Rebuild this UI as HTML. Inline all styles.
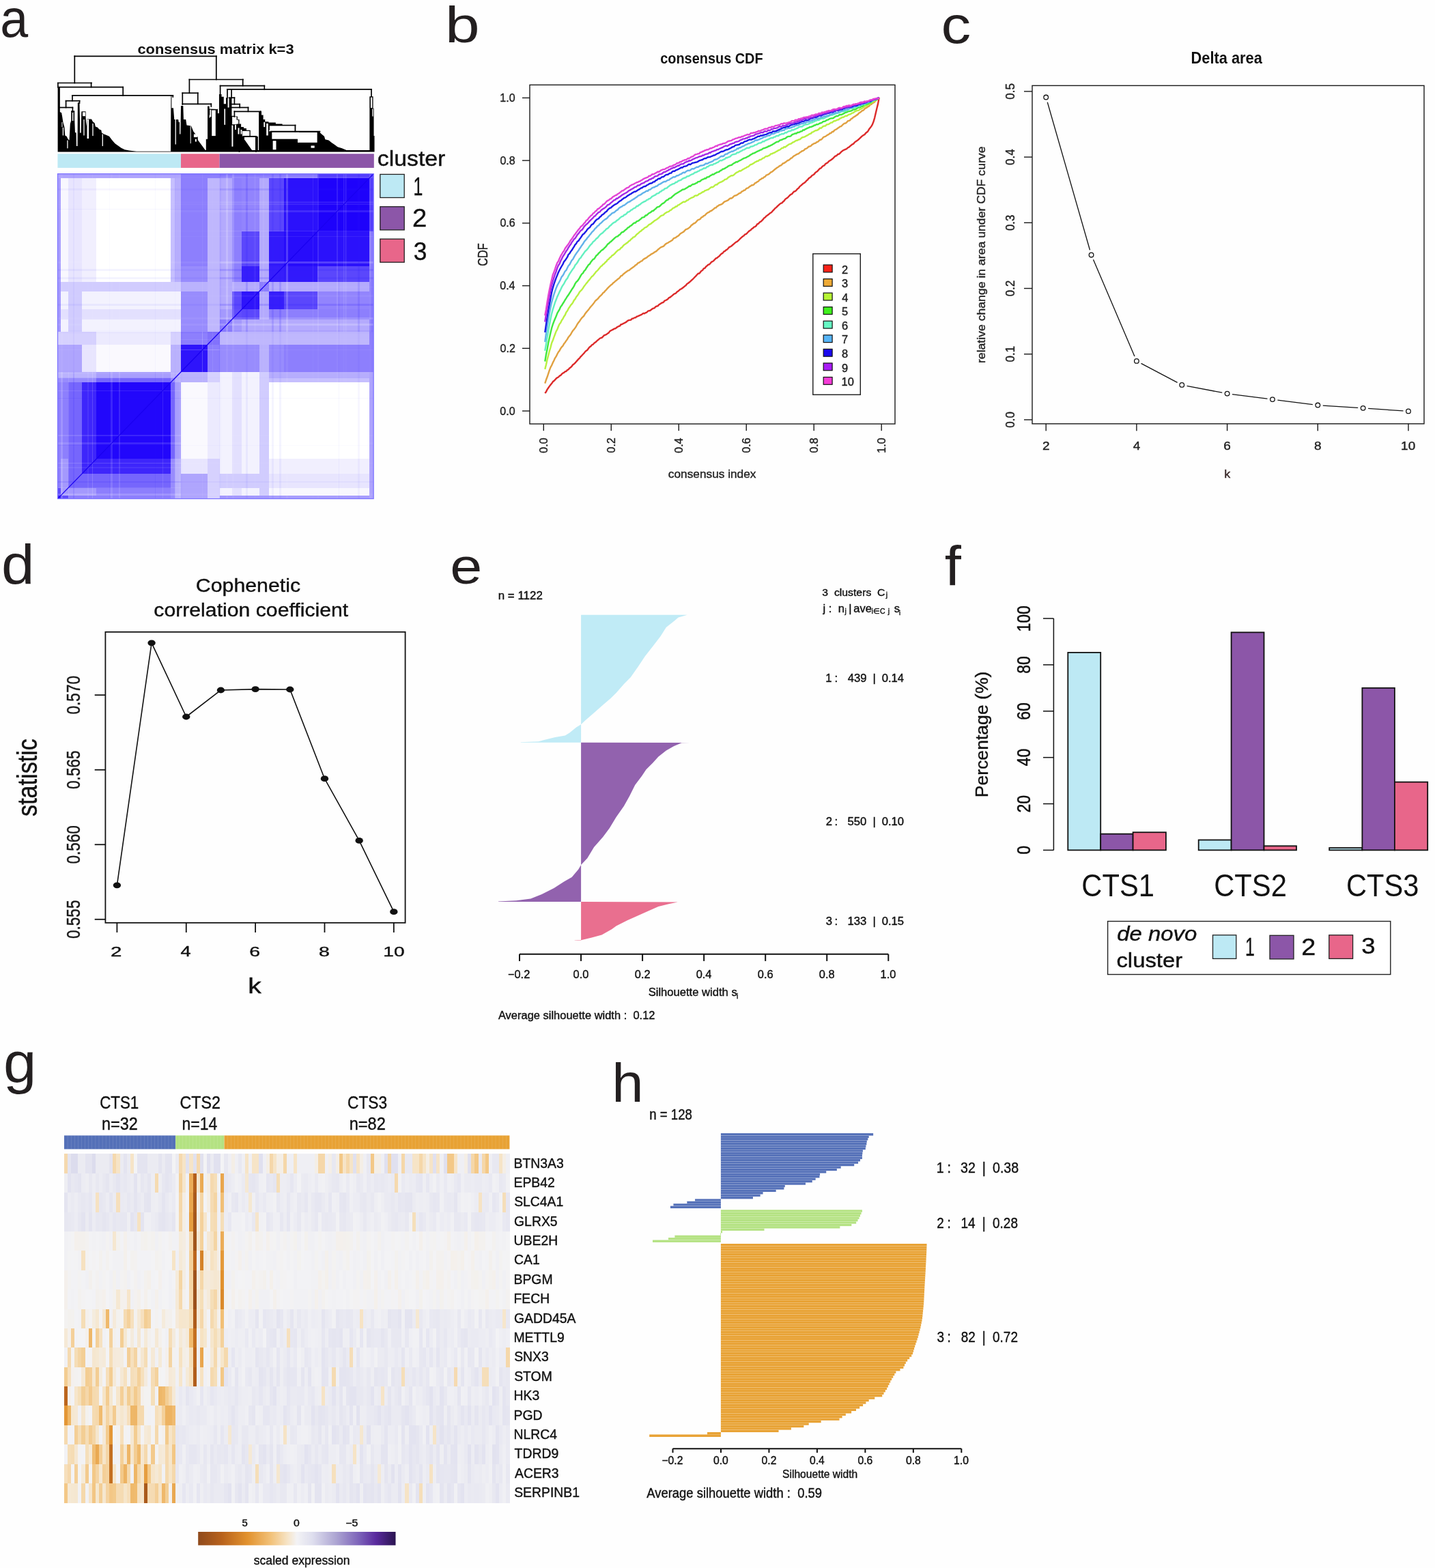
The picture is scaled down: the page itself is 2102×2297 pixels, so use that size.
<!DOCTYPE html>
<html><head><meta charset="utf-8"><title>Consensus clustering figure</title>
<style>
html,body{margin:0;padding:0;background:#fff;}
body{width:2102px;height:2297px;overflow:hidden;position:relative;}
svg{position:absolute;left:0;top:0;display:block;}
text{font-family:'Liberation Sans', Arial, Helvetica, sans-serif;white-space:pre;}
</style></head><body>
<svg xml:space="preserve" width="2102" height="2297" viewBox="0 0 2102 2297">
<rect x="0" y="0" width="2102" height="2297" fill="#fefefe"/>
<text font-size="78.73" fill="#231f20" transform="translate(0.36 54.31) scale(0.9348 1)">a</text>
<text font-size="74.83" fill="#231f20" transform="translate(652.08 61.85) scale(1.2176 1)">b</text>
<text font-size="76.36" fill="#231f20" transform="translate(1378.51 63.24) scale(1.1440 1)">c</text>
<text font-size="81.63" fill="#231f20" transform="translate(1.92 854.88) scale(1.0671 1)">d</text>
<text font-size="74.55" fill="#231f20" transform="translate(659.21 854.85) scale(1.1360 1)">e</text>
<text font-size="80.69" fill="#231f20" transform="translate(1383.70 856.50) scale(1.0756 1)">f</text>
<text font-size="83.22" fill="#231f20" transform="translate(5.12 1586.02) scale(1.0441 1)">g</text>
<text font-size="79.86" fill="#231f20" transform="translate(896.37 1613.70) scale(1.0435 1)">h</text>
<rect x="776" y="124.4" width="535" height="496.6" fill="none" stroke="#1a1a1a" stroke-width="1.4"/>
<line x1="765" y1="602.05" x2="776" y2="602.05" stroke="#1a1a1a" stroke-width="1.4"/>
<text font-size="16.00" fill="#222" stroke="#222" stroke-width="0.40" transform="translate(732.32 607.57) scale(1.0000 1)">0.0</text>
<line x1="796.3" y1="621" x2="796.3" y2="631" stroke="#1a1a1a" stroke-width="1.4"/>
<text font-size="16.00" fill="#222" stroke="#222" stroke-width="0.40" transform="translate(801.82 663.68) rotate(-90) scale(1 1.0000)">0.0</text>
<line x1="765" y1="510.32" x2="776" y2="510.32" stroke="#1a1a1a" stroke-width="1.4"/>
<text font-size="16.00" fill="#222" stroke="#222" stroke-width="0.40" transform="translate(732.56 515.84) scale(1.0000 1)">0.2</text>
<line x1="895.28" y1="621" x2="895.28" y2="631" stroke="#1a1a1a" stroke-width="1.4"/>
<text font-size="16.00" fill="#222" stroke="#222" stroke-width="0.40" transform="translate(900.80 663.44) rotate(-90) scale(1 1.0000)">0.2</text>
<line x1="765" y1="418.59" x2="776" y2="418.59" stroke="#1a1a1a" stroke-width="1.4"/>
<text font-size="16.00" fill="#222" stroke="#222" stroke-width="0.40" transform="translate(732.24 424.11) scale(1.0000 1)">0.4</text>
<line x1="994.26" y1="621" x2="994.26" y2="631" stroke="#1a1a1a" stroke-width="1.4"/>
<text font-size="16.00" fill="#222" stroke="#222" stroke-width="0.40" transform="translate(999.78 663.76) rotate(-90) scale(1 1.0000)">0.4</text>
<line x1="765" y1="326.86" x2="776" y2="326.86" stroke="#1a1a1a" stroke-width="1.4"/>
<text font-size="16.00" fill="#222" stroke="#222" stroke-width="0.40" transform="translate(732.40 332.38) scale(1.0000 1)">0.6</text>
<line x1="1093.24" y1="621" x2="1093.24" y2="631" stroke="#1a1a1a" stroke-width="1.4"/>
<text font-size="16.00" fill="#222" stroke="#222" stroke-width="0.40" transform="translate(1098.76 663.60) rotate(-90) scale(1 1.0000)">0.6</text>
<line x1="765" y1="235.13" x2="776" y2="235.13" stroke="#1a1a1a" stroke-width="1.4"/>
<text font-size="16.00" fill="#222" stroke="#222" stroke-width="0.40" transform="translate(732.40 240.65) scale(1.0000 1)">0.8</text>
<line x1="1192.22" y1="621" x2="1192.22" y2="631" stroke="#1a1a1a" stroke-width="1.4"/>
<text font-size="16.00" fill="#222" stroke="#222" stroke-width="0.40" transform="translate(1197.74 663.60) rotate(-90) scale(1 1.0000)">0.8</text>
<line x1="765" y1="143.4" x2="776" y2="143.4" stroke="#1a1a1a" stroke-width="1.4"/>
<text font-size="16.00" fill="#222" stroke="#222" stroke-width="0.40" transform="translate(732.32 148.92) scale(1.0000 1)">1.0</text>
<line x1="1291.2" y1="621" x2="1291.2" y2="631" stroke="#1a1a1a" stroke-width="1.4"/>
<text font-size="16.00" fill="#222" stroke="#222" stroke-width="0.40" transform="translate(1296.72 663.68) rotate(-90) scale(1 1.0000)">1.0</text>
<text font-size="16.28" fill="#222" stroke="#222" stroke-width="0.40" transform="translate(713.80 389.81) rotate(-90) scale(1 1.2108)">CDF</text>
<text font-size="16.87" fill="#222" stroke="#222" stroke-width="0.40" transform="translate(978.81 699.63) scale(1.0245 1)">consensus index</text>
<text font-size="21.27" fill="#111" font-weight="bold" transform="translate(967.20 92.69) scale(0.9366 1)">consensus CDF</text>
<polyline points="798.28,576 799.92,573.91 801.55,570.6 803.19,568.26 804.83,565.89 806.46,563.75 808.1,561.81 809.74,559.31 811.38,558.01 813.01,556.46 814.65,554.49 816.29,553.23 817.92,552.47 819.56,550.71 821.2,549.95 822.83,547.94 824.47,546.67 826.11,545.97 827.75,544.25 829.38,544.02 831.02,542.08 832.66,541.24 834.29,539.25 835.93,538.17 837.57,536.55 839.2,534.29 840.84,533.15 842.48,531.64 844.11,529.79 845.75,527.89 847.39,526 849.03,524.63 850.66,522.28 852.3,520.76 853.94,518.99 855.57,517.42 857.21,515.15 858.85,513.75 860.48,512.65 862.12,510.26 863.76,508.28 865.4,507.35 867.03,505.27 868.67,504.54 870.31,502.79 871.94,501.59 873.58,500.26 875.22,498.5 876.85,497.57 878.49,495.75 880.13,495.09 881.77,494.52 883.4,492.94 885.04,491.11 886.68,490.57 888.31,489.96 889.95,488.54 891.59,487.68 893.22,485.32 894.86,484.28 896.5,483.46 898.14,482.69 899.77,481.43 901.41,481.24 903.05,480.06 904.68,478.75 906.32,478 907.96,477.45 909.59,475.2 911.23,475 912.87,473.97 914.5,473.28 916.14,472.44 917.78,471.37 919.42,469.89 921.05,469.17 922.69,468.84 924.33,468.53 925.96,466.66 927.6,466.6 929.24,465.4 930.87,465.41 932.51,463.78 934.15,463.41 935.79,462.51 937.42,461.88 939.06,461.21 940.7,460.18 942.33,458.83 943.97,459.24 945.61,458.17 947.24,457.74 948.88,455.96 950.52,455.23 952.16,454.97 953.79,453.8 955.43,452.58 957.07,451.6 958.7,451.31 960.34,449.34 961.98,448.47 963.61,448.33 965.25,446.27 966.89,445.36 968.53,444.21 970.16,443.46 971.8,442.79 973.44,440.69 975.07,439.99 976.71,439.17 978.35,438.11 979.98,436.03 981.62,435.51 983.26,434.13 984.89,432.82 986.53,431.29 988.17,430.32 989.81,429.69 991.44,427.86 993.08,426.74 994.72,425.39 996.35,423.9 997.99,423.25 999.63,422.03 1001.26,420.82 1002.9,419.24 1004.54,418.23 1006.18,415.99 1007.81,415.04 1009.45,413.75 1011.09,412.43 1012.72,410.71 1014.36,409.34 1016,407.76 1017.63,406.01 1019.27,404.41 1020.91,402.5 1022.55,400.8 1024.18,400.59 1025.82,398.84 1027.46,396.78 1029.09,395.95 1030.73,393.49 1032.37,392.92 1034,390.74 1035.64,389.41 1037.28,387.78 1038.92,387.42 1040.55,385.75 1042.19,383.71 1043.83,383.18 1045.46,381.89 1047.1,380.07 1048.74,378.4 1050.37,377.78 1052.01,376.42 1053.65,375.11 1055.28,373.28 1056.92,371.58 1058.56,370.89 1060.2,368.63 1061.83,367.92 1063.47,366.34 1065.11,365.48 1066.74,363.71 1068.38,361.93 1070.02,361.31 1071.65,360.32 1073.29,358.71 1074.93,357.36 1076.57,355.96 1078.2,354.61 1079.84,353.95 1081.48,352.46 1083.11,350.74 1084.75,349.05 1086.39,347.62 1088.02,346.28 1089.66,345.31 1091.3,343.34 1092.94,342.84 1094.57,341.27 1096.21,339.53 1097.85,338 1099.48,337.23 1101.12,335.24 1102.76,334.4 1104.39,332.62 1106.03,332.19 1107.67,330.75 1109.31,328.07 1110.94,327.8 1112.58,325.61 1114.22,324.7 1115.85,323.37 1117.49,321.68 1119.13,319.5 1120.76,318.54 1122.4,316.62 1124.04,315.47 1125.67,314.29 1127.31,312.83 1128.95,311.77 1130.59,310.61 1132.22,308.58 1133.86,306.93 1135.5,305.04 1137.13,303.85 1138.77,302.17 1140.41,300.59 1142.04,299.12 1143.68,297.83 1145.32,297.32 1146.96,295.57 1148.59,294.3 1150.23,291.94 1151.87,290.6 1153.5,289.76 1155.14,288.02 1156.78,286.25 1158.41,284.77 1160.05,284.2 1161.69,282.04 1163.33,280.49 1164.96,280.09 1166.6,278.54 1168.24,276.63 1169.87,275.47 1171.51,273.09 1173.15,271.85 1174.78,270.39 1176.42,268.84 1178.06,267.98 1179.7,266.65 1181.33,264.63 1182.97,263.46 1184.61,261.28 1186.24,260.22 1187.88,259.11 1189.52,257.01 1191.15,256.2 1192.79,255.03 1194.43,252.76 1196.06,251.75 1197.7,250.61 1199.34,248.58 1200.98,246.77 1202.61,246.36 1204.25,244.21 1205.89,242.85 1207.52,242.35 1209.16,239.98 1210.8,239.13 1212.43,238.24 1214.07,236.33 1215.71,235.32 1217.35,234.17 1218.98,232.99 1220.62,231.55 1222.26,229.99 1223.89,228.49 1225.53,228.06 1227.17,226.04 1228.8,225.74 1230.44,224.51 1232.08,222.66 1233.72,221.32 1235.35,220.09 1236.99,219.45 1238.63,218.6 1240.26,218.03 1241.9,216.28 1243.54,215.68 1245.17,214.08 1246.81,212.8 1248.45,211.32 1250.09,210.82 1251.72,208.67 1253.36,207.4 1255,206.34 1256.63,205.18 1258.27,203.75 1259.91,202.12 1261.54,200.54 1263.18,199.15 1264.82,197.93 1266.45,197.24 1268.09,194.98 1269.73,193.76 1271.37,192.28 1273,189.34 1274.64,187.23 1276.28,185.12 1277.91,182.3 1279.55,178.16 1281.19,172.55 1282.82,165.51 1284.46,158.59 1286.1,151.91 1287.74,142.86" fill="none" stroke="#dc2a2a" stroke-width="2.4" stroke-linejoin="round"/>
<polyline points="798.28,561.62 799.92,556.51 801.55,552.29 803.19,547.35 804.83,542.37 806.46,538.13 808.1,535.22 809.74,531.43 811.38,528.29 813.01,524.61 814.65,522.19 816.29,518.76 817.92,515.79 819.56,513.69 821.2,510.63 822.83,508.3 824.47,506.69 826.11,503.59 827.75,501.66 829.38,499.1 831.02,496.92 832.66,493.95 834.29,491.9 835.93,489.9 837.57,486.99 839.2,484.29 840.84,482.58 842.48,480.34 844.11,477.78 845.75,474.7 847.39,472.34 849.03,470.47 850.66,467.89 852.3,465.72 853.94,464.14 855.57,462.34 857.21,459.39 858.85,457.38 860.48,455.53 862.12,453.63 863.76,451.32 865.4,449.21 867.03,447.5 868.67,445.52 870.31,443.37 871.94,440.94 873.58,439.48 875.22,438.1 876.85,436.32 878.49,434.32 880.13,432.93 881.77,431.22 883.4,429.1 885.04,428.02 886.68,425.82 888.31,424.36 889.95,422.28 891.59,420.64 893.22,419.15 894.86,417.61 896.5,416.51 898.14,414.6 899.77,413.56 901.41,411.77 903.05,410.65 904.68,409.05 906.32,408.16 907.96,406.51 909.59,404.12 911.23,403.77 912.87,401.78 914.5,400.5 916.14,399.08 917.78,398.13 919.42,396.69 921.05,396.17 922.69,394.93 924.33,393.55 925.96,392.42 927.6,391.32 929.24,390.12 930.87,388.39 932.51,387.75 934.15,385.58 935.79,384.83 937.42,383.91 939.06,382.58 940.7,382.09 942.33,380.08 943.97,379.1 945.61,378.15 947.24,377.39 948.88,375.78 950.52,374.8 952.16,373.8 953.79,372.32 955.43,371.56 957.07,370.78 958.7,369.37 960.34,368.71 961.98,367.57 963.61,365.69 965.25,364.46 966.89,363.06 968.53,362.09 970.16,361.37 971.8,360.85 973.44,359.16 975.07,357.41 976.71,356.46 978.35,355.73 979.98,354.63 981.62,353.8 983.26,352.71 984.89,351.69 986.53,349.41 988.17,348.59 989.81,348.11 991.44,346.57 993.08,345.89 994.72,344.49 996.35,342.58 997.99,341.5 999.63,340.53 1001.26,339.59 1002.9,337.83 1004.54,336.17 1006.18,335.63 1007.81,334.86 1009.45,333.6 1011.09,332.29 1012.72,329.8 1014.36,329.08 1016,327.39 1017.63,327.01 1019.27,325.6 1020.91,323.72 1022.55,322.16 1024.18,321.65 1025.82,320.76 1027.46,318.4 1029.09,317.95 1030.73,316.09 1032.37,315.68 1034,313.73 1035.64,312.34 1037.28,311.33 1038.92,310.69 1040.55,309.06 1042.19,308.75 1043.83,307.41 1045.46,306.19 1047.1,304.48 1048.74,304.42 1050.37,302.37 1052.01,301.44 1053.65,300.18 1055.28,299.99 1056.92,299.2 1058.56,298.15 1060.2,296.34 1061.83,295.16 1063.47,294.54 1065.11,293.86 1066.74,293.15 1068.38,291.42 1070.02,290.39 1071.65,290.49 1073.29,289.35 1074.93,287.53 1076.57,286.53 1078.2,286.29 1079.84,285.36 1081.48,284.18 1083.11,283.04 1084.75,282.66 1086.39,280.65 1088.02,280.06 1089.66,278.72 1091.3,278.46 1092.94,276.42 1094.57,275.68 1096.21,275.2 1097.85,273.31 1099.48,272.59 1101.12,271.32 1102.76,271.33 1104.39,270.22 1106.03,268.17 1107.67,267.66 1109.31,266.25 1110.94,265.62 1112.58,263.35 1114.22,262.87 1115.85,261.27 1117.49,261.16 1119.13,259.46 1120.76,258.87 1122.4,256.58 1124.04,256.02 1125.67,255.38 1127.31,254.2 1128.95,252.4 1130.59,251.87 1132.22,250.55 1133.86,249.04 1135.5,247.79 1137.13,246.51 1138.77,245.29 1140.41,244.48 1142.04,242.98 1143.68,242.47 1145.32,241.16 1146.96,239.29 1148.59,239.05 1150.23,237.82 1151.87,236.67 1153.5,235.22 1155.14,234.77 1156.78,233.63 1158.41,231.94 1160.05,231.27 1161.69,229.48 1163.33,228.26 1164.96,227.49 1166.6,226.28 1168.24,225.65 1169.87,225.08 1171.51,223.5 1173.15,222.56 1174.78,221.22 1176.42,220.83 1178.06,219.68 1179.7,217.86 1181.33,217.6 1182.97,216.38 1184.61,214.65 1186.24,214.55 1187.88,213.71 1189.52,211.94 1191.15,211.11 1192.79,210.04 1194.43,209.81 1196.06,208.28 1197.7,207.83 1199.34,206.47 1200.98,204.82 1202.61,204.68 1204.25,203.32 1205.89,201.33 1207.52,200.32 1209.16,199.94 1210.8,198.54 1212.43,197.62 1214.07,196.79 1215.71,195.18 1217.35,195.04 1218.98,193.04 1220.62,193.03 1222.26,190.8 1223.89,189.96 1225.53,189.17 1227.17,187.76 1228.8,186.94 1230.44,185.38 1232.08,185.18 1233.72,183.51 1235.35,181.89 1236.99,180.68 1238.63,180.51 1240.26,179.33 1241.9,177.29 1243.54,176.91 1245.17,176.15 1246.81,174.09 1248.45,173.34 1250.09,171.73 1251.72,170.91 1253.36,169.7 1255,168.63 1256.63,167.62 1258.27,165.59 1259.91,164.71 1261.54,163.34 1263.18,161.98 1264.82,161.65 1266.45,159.5 1268.09,158.34 1269.73,157.58 1271.37,156.24 1273,155.6 1274.64,153.44 1276.28,152.97 1277.91,151.19 1279.55,150.46 1281.19,149.23 1282.82,147.19 1284.46,146.04 1286.1,144.48 1287.74,143" fill="none" stroke="#e0a040" stroke-width="2.4" stroke-linejoin="round"/>
<polyline points="798.28,540.87 799.92,534.38 801.55,526.9 803.19,520.6 804.83,514.28 806.46,508.99 808.1,502.45 809.74,498.83 811.38,494.1 813.01,489.77 814.65,485.44 816.29,482.6 817.92,478.23 819.56,474.78 821.2,472.77 822.83,469.17 824.47,467.07 826.11,463.74 827.75,461.46 829.38,457.5 831.02,455.54 832.66,452.17 834.29,449.77 835.93,447.07 837.57,445.48 839.2,443.11 840.84,439.92 842.48,438.09 844.11,434.93 845.75,433.02 847.39,430.54 849.03,427.7 850.66,426.02 852.3,424.38 853.94,422.14 855.57,419.46 857.21,417.37 858.85,415.13 860.48,413.41 862.12,411.04 863.76,409.4 865.4,407.12 867.03,404.99 868.67,403.89 870.31,401.73 871.94,399.7 873.58,397.61 875.22,396.4 876.85,394.21 878.49,392.37 880.13,390.28 881.77,389.32 883.4,387.28 885.04,386.26 886.68,384.22 888.31,383.06 889.95,380.47 891.59,379.59 893.22,377.51 894.86,376.55 896.5,374.38 898.14,373.58 899.77,372.2 901.41,370.4 903.05,368.57 904.68,367.1 906.32,366.02 907.96,365.29 909.59,363.15 911.23,362.21 912.87,360.11 914.5,358.46 916.14,357.56 917.78,356.02 919.42,355.35 921.05,353.29 922.69,352.45 924.33,350.39 925.96,349.36 927.6,347.42 929.24,347.05 930.87,345.6 932.51,343.46 934.15,342.35 935.79,340.94 937.42,339.25 939.06,338.42 940.7,336.68 942.33,335.8 943.97,333.95 945.61,333.04 947.24,332.49 948.88,330.95 950.52,329.03 952.16,328.52 953.79,327.53 955.43,325.94 957.07,324.87 958.7,323.39 960.34,322.48 961.98,321.57 963.61,320.21 965.25,319.07 966.89,317.28 968.53,316.05 970.16,315.43 971.8,315.08 973.44,313.09 975.07,312.09 976.71,310.81 978.35,310.41 979.98,309.75 981.62,307.94 983.26,307.57 984.89,305.67 986.53,304.6 988.17,304.12 989.81,302.38 991.44,302.44 993.08,300.4 994.72,300.08 996.35,298.7 997.99,297.75 999.63,296.49 1001.26,295.56 1002.9,295.93 1004.54,295.05 1006.18,293.43 1007.81,293.25 1009.45,291.52 1011.09,290.82 1012.72,289.79 1014.36,289.25 1016,288.63 1017.63,286.86 1019.27,286.33 1020.91,286.49 1022.55,285.53 1024.18,283.96 1025.82,283.59 1027.46,282.59 1029.09,281.24 1030.73,280.98 1032.37,279.34 1034,278.76 1035.64,278.12 1037.28,277.76 1038.92,276.55 1040.55,275.17 1042.19,273.95 1043.83,274.3 1045.46,273.3 1047.1,271.54 1048.74,270.48 1050.37,270.57 1052.01,268.62 1053.65,267.73 1055.28,266.92 1056.92,266.45 1058.56,265.36 1060.2,264.51 1061.83,262.9 1063.47,262.65 1065.11,261.7 1066.74,259.9 1068.38,258.96 1070.02,257.93 1071.65,257.19 1073.29,257.22 1074.93,256.26 1076.57,254.66 1078.2,253.29 1079.84,252.3 1081.48,251.68 1083.11,250.3 1084.75,250.45 1086.39,249.42 1088.02,248.32 1089.66,247.49 1091.3,246.49 1092.94,245.83 1094.57,244.55 1096.21,244.11 1097.85,242.51 1099.48,241.04 1101.12,240.83 1102.76,239.7 1104.39,238.82 1106.03,237.5 1107.67,236.89 1109.31,235.89 1110.94,235.69 1112.58,234.03 1114.22,234.15 1115.85,232.98 1117.49,231.66 1119.13,231.36 1120.76,229.74 1122.4,228.92 1124.04,229.02 1125.67,228.07 1127.31,227.47 1128.95,225.51 1130.59,225.37 1132.22,224.45 1133.86,223.77 1135.5,223.12 1137.13,221.82 1138.77,221.28 1140.41,219.98 1142.04,219.63 1143.68,218.35 1145.32,216.91 1146.96,216.85 1148.59,215.2 1150.23,215.58 1151.87,214.06 1153.5,213.13 1155.14,211.78 1156.78,210.98 1158.41,210.69 1160.05,209.49 1161.69,208.32 1163.33,207.79 1164.96,206.62 1166.6,205.77 1168.24,205.53 1169.87,204.41 1171.51,204.2 1173.15,202.96 1174.78,201.5 1176.42,201.02 1178.06,200.55 1179.7,199.89 1181.33,198.86 1182.97,198.13 1184.61,197.1 1186.24,196.02 1187.88,195.61 1189.52,193.64 1191.15,193.37 1192.79,192.27 1194.43,191.31 1196.06,191.14 1197.7,190.34 1199.34,189.38 1200.98,187.38 1202.61,187.74 1204.25,186.46 1205.89,184.99 1207.52,184.55 1209.16,184.49 1210.8,182.46 1212.43,182.33 1214.07,181.8 1215.71,180.75 1217.35,179.59 1218.98,179.55 1220.62,177.93 1222.26,177.19 1223.89,176.95 1225.53,175.92 1227.17,175.5 1228.8,175 1230.44,173.49 1232.08,172.96 1233.72,171.69 1235.35,171.86 1236.99,170.81 1238.63,169.78 1240.26,169.89 1241.9,168.78 1243.54,167.6 1245.17,167.48 1246.81,166.58 1248.45,165.55 1250.09,165.03 1251.72,163.63 1253.36,162.88 1255,162.13 1256.63,161.89 1258.27,161.4 1259.91,159.96 1261.54,159.4 1263.18,158.43 1264.82,157.34 1266.45,156.03 1268.09,155.28 1269.73,155.28 1271.37,153.23 1273,152.57 1274.64,152.06 1276.28,150.49 1277.91,149.81 1279.55,148.66 1281.19,147.59 1282.82,147.11 1284.46,145.75 1286.1,144.57 1287.74,144.01" fill="none" stroke="#b8f040" stroke-width="2.4" stroke-linejoin="round"/>
<polyline points="798.28,529.51 799.92,519.59 801.55,511.69 803.19,502.26 804.83,494.9 806.46,487.42 808.1,480.66 809.74,475.38 811.38,471.03 813.01,467.02 814.65,463.33 816.29,458.88 817.92,456 819.56,453.32 821.2,449.44 822.83,447.53 824.47,444.7 826.11,442.29 827.75,439.3 829.38,436.82 831.02,434.2 832.66,432.02 834.29,429.35 835.93,426.78 837.57,424.09 839.2,421.78 840.84,419.21 842.48,415.61 844.11,413.13 845.75,411.73 847.39,409.54 849.03,406.89 850.66,403.85 852.3,401.41 853.94,400.16 855.57,397.13 857.21,395.7 858.85,392.81 860.48,390.48 862.12,387.9 863.76,386.82 865.4,384.04 867.03,381.96 868.67,379.94 870.31,379.3 871.94,376.79 873.58,374.27 875.22,373.3 876.85,370.98 878.49,369.64 880.13,367.65 881.77,366.39 883.4,365.4 885.04,363.72 886.68,362.12 888.31,360.38 889.95,357.88 891.59,356.84 893.22,355.11 894.86,354 896.5,352.47 898.14,350.82 899.77,349.26 901.41,347.9 903.05,346.65 904.68,346.3 906.32,344.6 907.96,343.71 909.59,341.69 911.23,340.04 912.87,339.77 914.5,338.29 916.14,336.76 917.78,335.67 919.42,333.67 921.05,333.06 922.69,331.47 924.33,330.49 925.96,329.2 927.6,327.56 929.24,326.41 930.87,326.43 932.51,324.31 934.15,323.88 935.79,323.12 937.42,321.63 939.06,320.37 940.7,318.66 942.33,318.38 943.97,317.79 945.61,315.53 947.24,315.47 948.88,313.86 950.52,312.25 952.16,311.6 953.79,310.57 955.43,308.95 957.07,308.88 958.7,306.96 960.34,306.01 961.98,304.04 963.61,303.09 965.25,302.92 966.89,301.52 968.53,299.95 970.16,298.38 971.8,297.68 973.44,296.42 975.07,294.43 976.71,293.17 978.35,292.72 979.98,290.85 981.62,290.44 983.26,289.61 984.89,287.84 986.53,286.51 988.17,285.06 989.81,283.85 991.44,283.03 993.08,281.98 994.72,281.01 996.35,280 997.99,278.93 999.63,277.68 1001.26,277.57 1002.9,277.05 1004.54,275.94 1006.18,275.08 1007.81,274.02 1009.45,272.55 1011.09,272.74 1012.72,271.38 1014.36,270.06 1016,270.01 1017.63,269.48 1019.27,268.44 1020.91,267.86 1022.55,266.08 1024.18,266.17 1025.82,265.35 1027.46,263.71 1029.09,262.93 1030.73,262.44 1032.37,261.2 1034,261.57 1035.64,259.52 1037.28,259.24 1038.92,258.78 1040.55,257.22 1042.19,256.61 1043.83,255.31 1045.46,255.67 1047.1,254.17 1048.74,253.46 1050.37,252.36 1052.01,252.06 1053.65,251.5 1055.28,249.93 1056.92,249.31 1058.56,247.72 1060.2,247.45 1061.83,246.65 1063.47,245.48 1065.11,244.76 1066.74,243.3 1068.38,242.67 1070.02,242.21 1071.65,241.74 1073.29,240.34 1074.93,239.28 1076.57,238.41 1078.2,237.22 1079.84,237.43 1081.48,236.29 1083.11,235.44 1084.75,234.73 1086.39,233.82 1088.02,232.82 1089.66,231.89 1091.3,231.43 1092.94,230.78 1094.57,229.71 1096.21,229.11 1097.85,228.04 1099.48,226.72 1101.12,226.01 1102.76,224.65 1104.39,224.44 1106.03,223.64 1107.67,222.7 1109.31,221.78 1110.94,221.12 1112.58,220.35 1114.22,219.52 1115.85,219.06 1117.49,217.68 1119.13,217.12 1120.76,216.72 1122.4,216.01 1124.04,215.46 1125.67,214.29 1127.31,213.96 1128.95,212.96 1130.59,212.31 1132.22,211.23 1133.86,210.35 1135.5,209.24 1137.13,208.21 1138.77,207.64 1140.41,207.51 1142.04,205.73 1143.68,205.18 1145.32,204.74 1146.96,203.78 1148.59,203.2 1150.23,202.92 1151.87,201.51 1153.5,200.29 1155.14,199.84 1156.78,199.91 1158.41,199.25 1160.05,197.4 1161.69,196.7 1163.33,196.19 1164.96,195.44 1166.6,195.57 1168.24,193.93 1169.87,194.07 1171.51,193.4 1173.15,192.34 1174.78,192.19 1176.42,190.32 1178.06,190.56 1179.7,189.06 1181.33,188.58 1182.97,187.62 1184.61,187.16 1186.24,185.97 1187.88,186.08 1189.52,185.23 1191.15,184.76 1192.79,183.51 1194.43,183.44 1196.06,182.07 1197.7,182.37 1199.34,181.48 1200.98,180.52 1202.61,180.27 1204.25,179.48 1205.89,177.93 1207.52,177.9 1209.16,177.43 1210.8,175.89 1212.43,175.59 1214.07,174.83 1215.71,173.81 1217.35,173.37 1218.98,173.32 1220.62,173 1222.26,171.59 1223.89,170.72 1225.53,169.93 1227.17,170.13 1228.8,168.88 1230.44,167.82 1232.08,168.12 1233.72,167.44 1235.35,166.62 1236.99,165.78 1238.63,164.57 1240.26,164.49 1241.9,163.44 1243.54,163.12 1245.17,162.73 1246.81,162.31 1248.45,161.6 1250.09,160.36 1251.72,160.52 1253.36,159.91 1255,159.13 1256.63,157.83 1258.27,157.54 1259.91,157.07 1261.54,156.19 1263.18,155.82 1264.82,154.6 1266.45,153.34 1268.09,153.09 1269.73,152.33 1271.37,152.14 1273,151.02 1274.64,150.51 1276.28,149.75 1277.91,147.83 1279.55,147.23 1281.19,146.25 1282.82,146.39 1284.46,145.25 1286.1,143.67 1287.74,143.49" fill="none" stroke="#3fe83f" stroke-width="2.4" stroke-linejoin="round"/>
<polyline points="798.28,513.91 799.92,504.38 801.55,493.65 803.19,485.08 804.83,475.93 806.46,466.93 808.1,459.59 809.74,453.38 811.38,448.26 813.01,443.16 814.65,439.07 816.29,434.63 817.92,431.19 819.56,427.61 821.2,424.24 822.83,420.67 824.47,417.95 826.11,415.67 827.75,412.26 829.38,409.6 831.02,407.94 832.66,404.28 834.29,401.47 835.93,398.9 837.57,396.33 839.2,393.99 840.84,392.04 842.48,388.41 844.11,386.74 845.75,384.6 847.39,381.56 849.03,378.87 850.66,377.62 852.3,374.82 853.94,372.74 855.57,370.43 857.21,368.02 858.85,366.76 860.48,364.88 862.12,362.68 863.76,360.26 865.4,358.39 867.03,356.95 868.67,354.32 870.31,353.26 871.94,351.61 873.58,349.42 875.22,348.6 876.85,346.51 878.49,344.38 880.13,342.8 881.77,341.9 883.4,340.5 885.04,338.61 886.68,337.32 888.31,335.32 889.95,334.65 891.59,333.05 893.22,330.96 894.86,329.92 896.5,328.2 898.14,326.76 899.77,325.64 901.41,325.25 903.05,323.37 904.68,322.31 906.32,321.15 907.96,319.45 909.59,318.1 911.23,317.07 912.87,316.6 914.5,314.62 916.14,314.3 917.78,312.93 919.42,310.76 921.05,310.32 922.69,309.53 924.33,307.68 925.96,307.28 927.6,305.52 929.24,304.98 930.87,304.19 932.51,301.87 934.15,302.04 935.79,300.38 937.42,299.58 939.06,298.11 940.7,296.83 942.33,296.14 943.97,295.14 945.61,294.77 947.24,292.94 948.88,292.63 950.52,291.22 952.16,290.84 953.79,289.44 955.43,287.67 957.07,287.08 958.7,286.07 960.34,285.3 961.98,283.64 963.61,283.38 965.25,282.57 966.89,280.95 968.53,280.34 970.16,278.62 971.8,278.43 973.44,276.59 975.07,275.83 976.71,275.61 978.35,273.91 979.98,272.78 981.62,271.42 983.26,270.66 984.89,269.75 986.53,269.15 988.17,268.83 989.81,266.83 991.44,267.01 993.08,265.36 994.72,264.44 996.35,264.18 997.99,263.37 999.63,261.81 1001.26,261.08 1002.9,260.5 1004.54,260.04 1006.18,258.41 1007.81,258.3 1009.45,257.66 1011.09,256.51 1012.72,255.7 1014.36,255.09 1016,254.48 1017.63,252.74 1019.27,252.5 1020.91,251.96 1022.55,250.83 1024.18,250.45 1025.82,248.88 1027.46,248.64 1029.09,247.7 1030.73,246.47 1032.37,246.57 1034,246 1035.64,244.21 1037.28,243.98 1038.92,242.68 1040.55,241.92 1042.19,241.51 1043.83,241.68 1045.46,240.09 1047.1,239.81 1048.74,239.19 1050.37,238.08 1052.01,237.53 1053.65,235.97 1055.28,234.95 1056.92,235.42 1058.56,234.32 1060.2,233.52 1061.83,232.91 1063.47,231.01 1065.11,231.2 1066.74,230.27 1068.38,229.91 1070.02,228.87 1071.65,227.21 1073.29,226.32 1074.93,225.97 1076.57,225.7 1078.2,225.26 1079.84,223.38 1081.48,223.6 1083.11,222.68 1084.75,221.55 1086.39,221.2 1088.02,219.64 1089.66,219.37 1091.3,218.66 1092.94,217.35 1094.57,216.61 1096.21,216.81 1097.85,216.4 1099.48,214.8 1101.12,214.64 1102.76,214.29 1104.39,213.48 1106.03,212.35 1107.67,212.07 1109.31,211.26 1110.94,209.84 1112.58,209.56 1114.22,209.36 1115.85,208.55 1117.49,206.89 1119.13,207.5 1120.76,205.96 1122.4,205.3 1124.04,204.59 1125.67,204.07 1127.31,203.14 1128.95,202.43 1130.59,202.03 1132.22,202.02 1133.86,200.62 1135.5,200.59 1137.13,199.18 1138.77,198.91 1140.41,198.94 1142.04,197.16 1143.68,197.14 1145.32,195.84 1146.96,196.44 1148.59,195.71 1150.23,194.18 1151.87,194.53 1153.5,193.33 1155.14,192.19 1156.78,192.1 1158.41,191.78 1160.05,190.24 1161.69,190.62 1163.33,189.73 1164.96,189.19 1166.6,188.21 1168.24,187.78 1169.87,186.33 1171.51,185.86 1173.15,185.34 1174.78,185.48 1176.42,184.2 1178.06,183.24 1179.7,182.51 1181.33,182.24 1182.97,182.17 1184.61,181.51 1186.24,180.39 1187.88,179.65 1189.52,179.6 1191.15,178.46 1192.79,178.08 1194.43,177.02 1196.06,176.6 1197.7,175.67 1199.34,176.15 1200.98,174.54 1202.61,173.79 1204.25,173.69 1205.89,173.87 1207.52,173.23 1209.16,172.11 1210.8,171.45 1212.43,170.82 1214.07,169.95 1215.71,169.26 1217.35,168.58 1218.98,168.65 1220.62,167.7 1222.26,167.43 1223.89,166.41 1225.53,166.08 1227.17,165.48 1228.8,165.22 1230.44,164.34 1232.08,163.47 1233.72,163.23 1235.35,163.42 1236.99,162.94 1238.63,161.59 1240.26,161.5 1241.9,161.02 1243.54,159.69 1245.17,159.19 1246.81,158.73 1248.45,158.8 1250.09,157.86 1251.72,157.36 1253.36,157.3 1255,156.25 1256.63,155.11 1258.27,155.83 1259.91,154.99 1261.54,154.26 1263.18,153 1264.82,152.88 1266.45,152.78 1268.09,151.79 1269.73,150.44 1271.37,149.92 1273,149.89 1274.64,148.61 1276.28,148.5 1277.91,148.05 1279.55,146.22 1281.19,146.53 1282.82,145.36 1284.46,144.23 1286.1,143.91 1287.74,143.5" fill="none" stroke="#63f0c0" stroke-width="2.4" stroke-linejoin="round"/>
<polyline points="798.28,500.81 799.92,488.97 801.55,478.83 803.19,468.27 804.83,458.4 806.46,450.31 808.1,442.7 809.74,436.85 811.38,431.44 813.01,426.57 814.65,422.16 816.29,418.18 817.92,415.24 819.56,412.42 821.2,409.07 822.83,405.35 824.47,403.57 826.11,400.58 827.75,397.31 829.38,395.94 831.02,392.5 832.66,389.29 834.29,387.58 835.93,384.46 837.57,381.31 839.2,379.75 840.84,376.62 842.48,373.74 844.11,371.32 845.75,369.1 847.39,367 849.03,364.18 850.66,361.96 852.3,359.46 853.94,357.31 855.57,354.4 857.21,352.28 858.85,350.73 860.48,348.24 862.12,346.58 863.76,344.3 865.4,342.47 867.03,340.12 868.67,338.65 870.31,336.71 871.94,334.6 873.58,333.32 875.22,331 876.85,330.38 878.49,328.04 880.13,326.94 881.77,325.43 883.4,323.67 885.04,322.39 886.68,321.12 888.31,320.31 889.95,318.83 891.59,316.65 893.22,315.6 894.86,314.08 896.5,312.46 898.14,311.6 899.77,311.24 901.41,309.68 903.05,308.1 904.68,307.41 906.32,305.24 907.96,304.11 909.59,303.1 911.23,302.48 912.87,300.85 914.5,300.7 916.14,299.34 917.78,298.02 919.42,296.55 921.05,295.83 922.69,295.25 924.33,293.92 925.96,292.91 927.6,291.92 929.24,291.1 930.87,289.76 932.51,288.73 934.15,287.3 935.79,286.31 937.42,285.73 939.06,284.87 940.7,283.49 942.33,282.41 943.97,281.77 945.61,280.68 947.24,279.58 948.88,279.91 950.52,277.86 952.16,277.78 953.79,276.62 955.43,275.28 957.07,274.51 958.7,274.41 960.34,272.83 961.98,272.77 963.61,271.51 965.25,270.02 966.89,269.69 968.53,268.61 970.16,267.59 971.8,266.62 973.44,265.87 975.07,266.08 976.71,264.7 978.35,263.82 979.98,263.58 981.62,262.11 983.26,261.22 984.89,260.13 986.53,259.19 988.17,259.53 989.81,258.62 991.44,257.27 993.08,257.23 994.72,256.36 996.35,255.13 997.99,254.95 999.63,253.38 1001.26,252.56 1002.9,252.99 1004.54,251.61 1006.18,250.57 1007.81,249.65 1009.45,249.95 1011.09,249.43 1012.72,247.8 1014.36,247.11 1016,247.45 1017.63,246.47 1019.27,245.45 1020.91,244.63 1022.55,244.92 1024.18,243.6 1025.82,242.76 1027.46,242.46 1029.09,242.34 1030.73,241.86 1032.37,240.86 1034,239.46 1035.64,239.83 1037.28,239.18 1038.92,237.99 1040.55,237.69 1042.19,236.85 1043.83,236.28 1045.46,234.85 1047.1,233.85 1048.74,233.46 1050.37,233.09 1052.01,232.04 1053.65,230.9 1055.28,229.62 1056.92,228.75 1058.56,228.98 1060.2,228.5 1061.83,226.56 1063.47,225.62 1065.11,225.45 1066.74,224.2 1068.38,223.26 1070.02,222.79 1071.65,221.62 1073.29,221.97 1074.93,220.82 1076.57,220.01 1078.2,219.42 1079.84,217.53 1081.48,217.95 1083.11,216.27 1084.75,216.32 1086.39,215.14 1088.02,214.29 1089.66,213.86 1091.3,212.64 1092.94,211.88 1094.57,211.45 1096.21,210.15 1097.85,210.23 1099.48,209.49 1101.12,208.58 1102.76,207.86 1104.39,207.42 1106.03,205.77 1107.67,205.23 1109.31,205.56 1110.94,204.54 1112.58,204.07 1114.22,203.12 1115.85,202.71 1117.49,201.76 1119.13,200.54 1120.76,200.65 1122.4,199.65 1124.04,199.1 1125.67,198.26 1127.31,198.59 1128.95,197.04 1130.59,196.15 1132.22,196.01 1133.86,195.84 1135.5,194.7 1137.13,194.05 1138.77,193.53 1140.41,193.63 1142.04,191.9 1143.68,191.33 1145.32,191.48 1146.96,190.66 1148.59,190.84 1150.23,188.95 1151.87,188.6 1153.5,188.28 1155.14,187.53 1156.78,187.74 1158.41,187 1160.05,186.52 1161.69,185.47 1163.33,185.6 1164.96,183.94 1166.6,183.98 1168.24,183.45 1169.87,183.37 1171.51,182.03 1173.15,181.31 1174.78,181.03 1176.42,181.03 1178.06,179.75 1179.7,180.1 1181.33,178.64 1182.97,178.45 1184.61,178.33 1186.24,177.5 1187.88,176.82 1189.52,176.81 1191.15,175.48 1192.79,175.55 1194.43,174.38 1196.06,173.94 1197.7,174.44 1199.34,173.17 1200.98,173.11 1202.61,171.98 1204.25,171.75 1205.89,171.35 1207.52,170.23 1209.16,170.86 1210.8,169.65 1212.43,169.44 1214.07,169.31 1215.71,167.79 1217.35,167.53 1218.98,166.53 1220.62,166.41 1222.26,166.23 1223.89,164.81 1225.53,165.48 1227.17,165.04 1228.8,163.57 1230.44,163.54 1232.08,163.03 1233.72,161.79 1235.35,162.02 1236.99,160.72 1238.63,160.52 1240.26,160.43 1241.9,160.27 1243.54,159.48 1245.17,157.95 1246.81,158.18 1248.45,157.98 1250.09,157.25 1251.72,155.88 1253.36,156.34 1255,154.94 1256.63,155.27 1258.27,153.58 1259.91,153.61 1261.54,153.71 1263.18,151.91 1264.82,152.12 1266.45,151.03 1268.09,150.73 1269.73,150.73 1271.37,150.11 1273,149.45 1274.64,148.83 1276.28,148.37 1277.91,147.76 1279.55,145.91 1281.19,146.47 1282.82,145.27 1284.46,145.18 1286.1,144.42 1287.74,143.04" fill="none" stroke="#62b2ea" stroke-width="2.4" stroke-linejoin="round"/>
<polyline points="798.28,486.87 799.92,475.59 801.55,464.85 803.19,454.89 804.83,445.53 806.46,436.91 808.1,428.44 809.74,421.83 811.38,416.33 813.01,411.63 814.65,407.14 816.29,403.11 817.92,399.06 819.56,395.65 821.2,392.54 822.83,389.75 824.47,387.05 826.11,383.34 827.75,381.55 829.38,379.08 831.02,376.68 832.66,372.81 834.29,371.42 835.93,368.64 837.57,366.52 839.2,363.9 840.84,361.31 842.48,358.31 844.11,356.8 845.75,353.7 847.39,352.84 849.03,350.27 850.66,348.14 852.3,345.57 853.94,343.33 855.57,342.22 857.21,340.14 858.85,338.47 860.48,335.89 862.12,334.3 863.76,333.3 865.4,330.81 867.03,328.83 868.67,328.19 870.31,325.95 871.94,323.86 873.58,321.99 875.22,320.97 876.85,320.17 878.49,318.09 880.13,316.94 881.77,314.87 883.4,313.99 885.04,312.65 886.68,310.72 888.31,309.95 889.95,307.72 891.59,306.1 893.22,304.79 894.86,304.28 896.5,302.71 898.14,301.37 899.77,300.35 901.41,299.19 903.05,298.63 904.68,297.38 906.32,295.72 907.96,294.58 909.59,293.79 911.23,292.21 912.87,291.02 914.5,289.78 916.14,289.29 917.78,288.11 919.42,286.52 921.05,285.84 922.69,284.69 924.33,284 925.96,282.61 927.6,281.83 929.24,280.71 930.87,280.71 932.51,279.69 934.15,278.56 935.79,277.66 937.42,276.63 939.06,275.48 940.7,275.02 942.33,273.61 943.97,273.05 945.61,272.96 947.24,271.51 948.88,270.74 950.52,269.62 952.16,268.71 953.79,268.55 955.43,267.92 957.07,266.37 958.7,266.36 960.34,264.42 961.98,263.94 963.61,262.39 965.25,261.53 966.89,261.7 968.53,259.97 970.16,259.15 971.8,259.08 973.44,257.64 975.07,256.34 976.71,255.82 978.35,255.84 979.98,254.44 981.62,253.66 983.26,253.46 984.89,251.28 986.53,250.62 988.17,250.73 989.81,249.41 991.44,248.81 993.08,248.2 994.72,247.21 996.35,246.42 997.99,245.32 999.63,245.67 1001.26,244.22 1002.9,243.68 1004.54,243.48 1006.18,242.84 1007.81,241.51 1009.45,240.54 1011.09,241.07 1012.72,239.91 1014.36,238.67 1016,238.61 1017.63,238.15 1019.27,237.72 1020.91,237.38 1022.55,236.61 1024.18,235.48 1025.82,234.91 1027.46,234.29 1029.09,234.02 1030.73,232.63 1032.37,232.04 1034,231.94 1035.64,230.92 1037.28,230.23 1038.92,230.16 1040.55,229.76 1042.19,228.99 1043.83,228.35 1045.46,227.46 1047.1,227.3 1048.74,226.24 1050.37,225.19 1052.01,224.65 1053.65,223.8 1055.28,222.81 1056.92,221.84 1058.56,221.97 1060.2,221.33 1061.83,220.34 1063.47,219.44 1065.11,219.31 1066.74,218.81 1068.38,217.85 1070.02,217.08 1071.65,216.11 1073.29,215.13 1074.93,214.87 1076.57,213.23 1078.2,212.67 1079.84,212.32 1081.48,212.01 1083.11,211.54 1084.75,210.18 1086.39,209.42 1088.02,209.63 1089.66,207.99 1091.3,207.16 1092.94,206.86 1094.57,206.1 1096.21,205.24 1097.85,204.48 1099.48,204.68 1101.12,204.46 1102.76,203.5 1104.39,203.08 1106.03,202.19 1107.67,201.41 1109.31,200.42 1110.94,199.6 1112.58,199.92 1114.22,198.43 1115.85,198.9 1117.49,197.97 1119.13,197.75 1120.76,197.07 1122.4,196.84 1124.04,195.95 1125.67,195.2 1127.31,194.48 1128.95,194.19 1130.59,194.03 1132.22,192.29 1133.86,192.61 1135.5,192.08 1137.13,191.83 1138.77,190.92 1140.41,190.35 1142.04,189.39 1143.68,188.91 1145.32,187.98 1146.96,187.46 1148.59,186.7 1150.23,186.71 1151.87,185.59 1153.5,185.21 1155.14,185.52 1156.78,184.26 1158.41,183.41 1160.05,182.87 1161.69,182.37 1163.33,182.11 1164.96,181.12 1166.6,181.53 1168.24,180.36 1169.87,180.58 1171.51,179.28 1173.15,178.66 1174.78,178.15 1176.42,177.82 1178.06,177.38 1179.7,176.19 1181.33,176.18 1182.97,175.83 1184.61,175.65 1186.24,174.25 1187.88,173.56 1189.52,173.35 1191.15,172.49 1192.79,172.07 1194.43,171.71 1196.06,171.6 1197.7,170.82 1199.34,169.77 1200.98,169.2 1202.61,169.63 1204.25,168.58 1205.89,167.81 1207.52,167.11 1209.16,167.05 1210.8,166.33 1212.43,166.05 1214.07,165.6 1215.71,165.11 1217.35,163.93 1218.98,164.46 1220.62,164.03 1222.26,162.66 1223.89,162.63 1225.53,161.37 1227.17,161.98 1228.8,161.19 1230.44,160.76 1232.08,160.16 1233.72,160.21 1235.35,158.63 1236.99,158.68 1238.63,157.84 1240.26,157.8 1241.9,157.37 1243.54,156.99 1245.17,157.04 1246.81,156.54 1248.45,156.27 1250.09,155.08 1251.72,154.42 1253.36,154.85 1255,154.6 1256.63,153.67 1258.27,152.42 1259.91,153.07 1261.54,152.02 1263.18,151.22 1264.82,151.51 1266.45,150.79 1268.09,150.44 1269.73,149.58 1271.37,148.4 1273,148.28 1274.64,148.45 1276.28,147.58 1277.91,146.53 1279.55,145.57 1281.19,145.88 1282.82,145.1 1284.46,144.93 1286.1,144.19 1287.74,143.91" fill="none" stroke="#1a1ae6" stroke-width="2.4" stroke-linejoin="round"/>
<polyline points="798.28,471.55 799.92,460.9 801.55,451.19 803.19,442.35 804.83,433.55 806.46,425.36 808.1,417.84 809.74,411.84 811.38,406.89 813.01,401.84 814.65,397.71 816.29,392.66 817.92,388.76 819.56,386.46 821.2,382.21 822.83,379.24 824.47,375.81 826.11,373.28 827.75,370.7 829.38,367.84 831.02,365.67 832.66,362.69 834.29,360.01 835.93,358.06 837.57,355.01 839.2,352.87 840.84,350.34 842.48,349.24 844.11,346.58 845.75,343.87 847.39,342.19 849.03,339.87 850.66,337.73 852.3,336.87 853.94,334.89 855.57,332.16 857.21,330.29 858.85,328.7 860.48,327.52 862.12,325.64 863.76,323.75 865.4,322.26 867.03,320.66 868.67,319.12 870.31,316.96 871.94,316.36 873.58,314.15 875.22,312.63 876.85,310.86 878.49,310.65 880.13,308.4 881.77,307.03 883.4,305.91 885.04,305.14 886.68,303.85 888.31,302.38 889.95,300.25 891.59,299.88 893.22,298.68 894.86,297.18 896.5,295.81 898.14,294.34 899.77,293.05 901.41,292.64 903.05,290.63 904.68,290.74 906.32,289.16 907.96,288.31 909.59,287.04 911.23,285.83 912.87,284.7 914.5,283.77 916.14,283.01 917.78,281.98 919.42,280.95 921.05,279.28 922.69,278.73 924.33,277.53 925.96,276.7 927.6,275.85 929.24,274.5 930.87,273.83 932.51,273.27 934.15,271.45 935.79,271.59 937.42,270.83 939.06,269.3 940.7,268.6 942.33,268.16 943.97,267.41 945.61,265.96 947.24,265.46 948.88,264.87 950.52,263.5 952.16,262.47 953.79,262.45 955.43,260.98 957.07,260.72 958.7,258.91 960.34,258.13 961.98,257.99 963.61,257.39 965.25,255.46 966.89,255.2 968.53,254.92 970.16,254.15 971.8,252.35 973.44,251.97 975.07,251.58 976.71,250.36 978.35,249.95 979.98,248.52 981.62,248.16 983.26,246.75 984.89,246.6 986.53,245.32 988.17,245.47 989.81,244.36 991.44,243.64 993.08,242.48 994.72,242.77 996.35,240.99 997.99,240.32 999.63,240.15 1001.26,239.95 1002.9,238.24 1004.54,237.66 1006.18,236.64 1007.81,236.45 1009.45,235.21 1011.09,235.44 1012.72,234.73 1014.36,233.52 1016,232.9 1017.63,232.21 1019.27,231.32 1020.91,230.9 1022.55,230.3 1024.18,229.42 1025.82,229.04 1027.46,228.86 1029.09,227.49 1030.73,227.64 1032.37,226.36 1034,225.93 1035.64,225.49 1037.28,225.12 1038.92,223.49 1040.55,223.93 1042.19,222.28 1043.83,221.78 1045.46,221.41 1047.1,220.47 1048.74,220.32 1050.37,218.85 1052.01,219.12 1053.65,217.89 1055.28,217.38 1056.92,216.41 1058.56,216.01 1060.2,214.68 1061.83,214.14 1063.47,213.41 1065.11,213.94 1066.74,213.09 1068.38,211.98 1070.02,210.96 1071.65,210.81 1073.29,209.86 1074.93,209.92 1076.57,208.44 1078.2,207.73 1079.84,207.47 1081.48,207.18 1083.11,206.15 1084.75,205.07 1086.39,204.65 1088.02,203.61 1089.66,203.4 1091.3,203.33 1092.94,202.15 1094.57,202.28 1096.21,200.73 1097.85,200.88 1099.48,199.33 1101.12,199.34 1102.76,198.8 1104.39,198.65 1106.03,197.15 1107.67,196.44 1109.31,196.18 1110.94,195.66 1112.58,195.06 1114.22,194.45 1115.85,193.95 1117.49,194.19 1119.13,192.93 1120.76,192.06 1122.4,192.73 1124.04,191.99 1125.67,190.67 1127.31,191.14 1128.95,190.29 1130.59,188.97 1132.22,189.12 1133.86,187.87 1135.5,188.19 1137.13,187.55 1138.77,187.41 1140.41,185.93 1142.04,185.25 1143.68,185.78 1145.32,185.09 1146.96,184.08 1148.59,184.39 1150.23,183.94 1151.87,183.03 1153.5,182.44 1155.14,181.71 1156.78,181.19 1158.41,180.99 1160.05,180.34 1161.69,180.07 1163.33,179.63 1164.96,178.33 1166.6,178.7 1168.24,177.76 1169.87,177.7 1171.51,176.24 1173.15,175.7 1174.78,176.19 1176.42,174.85 1178.06,174.07 1179.7,174.31 1181.33,173.27 1182.97,172.56 1184.61,173.33 1186.24,172.46 1187.88,172.29 1189.52,171.57 1191.15,171.33 1192.79,170.79 1194.43,169.47 1196.06,169.48 1197.7,168.22 1199.34,168.44 1200.98,167.15 1202.61,167.75 1204.25,166.69 1205.89,166.56 1207.52,165.38 1209.16,165.55 1210.8,165.37 1212.43,164.44 1214.07,164.25 1215.71,163.1 1217.35,162.65 1218.98,163.19 1220.62,162.74 1222.26,161.03 1223.89,161.4 1225.53,160.99 1227.17,160.58 1228.8,160.18 1230.44,159.01 1232.08,159.29 1233.72,158.23 1235.35,157.86 1236.99,157.6 1238.63,156.99 1240.26,157.27 1241.9,156.44 1243.54,155.98 1245.17,156.19 1246.81,155.5 1248.45,154.09 1250.09,154.03 1251.72,153.16 1253.36,153.56 1255,152.58 1256.63,152.36 1258.27,151.91 1259.91,152.13 1261.54,151.53 1263.18,151.27 1264.82,150.21 1266.45,149.96 1268.09,149.7 1269.73,148.98 1271.37,148.29 1273,147.55 1274.64,147.23 1276.28,146.68 1277.91,146.24 1279.55,146.06 1281.19,145.64 1282.82,144.82 1284.46,144.06 1286.1,143.32 1287.74,142.95" fill="none" stroke="#a428e6" stroke-width="2.4" stroke-linejoin="round"/>
<polyline points="798.28,462.25 799.92,453.24 801.55,442.6 803.19,433.05 804.83,424.57 806.46,416.86 808.1,409.7 809.74,402.79 811.38,398.6 813.01,394.21 814.65,389.22 816.29,385 817.92,382.72 819.56,378.69 821.2,375.15 822.83,372.48 824.47,369.53 826.11,367.44 827.75,363.99 829.38,361.74 831.02,359.47 832.66,357.52 834.29,354.75 835.93,351.93 837.57,349.89 839.2,347.59 840.84,345.08 842.48,343.01 844.11,340.65 845.75,338.59 847.39,336.23 849.03,334.58 850.66,332.05 852.3,330.91 853.94,329.3 855.57,327.13 857.21,325.55 858.85,322.76 860.48,322.07 862.12,319.53 863.76,317.94 865.4,315.9 867.03,315.11 868.67,312.6 870.31,311.72 871.94,309.61 873.58,308.72 875.22,306.42 876.85,305.72 878.49,304.5 880.13,302.77 881.77,301.8 883.4,299.43 885.04,299.01 886.68,297.37 888.31,295.3 889.95,293.97 891.59,293.44 893.22,291.7 894.86,291.28 896.5,289.61 898.14,288.01 899.77,287.36 901.41,286.14 903.05,285.77 904.68,284.23 906.32,283.52 907.96,282.13 909.59,281.03 911.23,279.37 912.87,279.34 914.5,277.78 916.14,276.92 917.78,275.48 919.42,274.9 921.05,274.36 922.69,272.26 924.33,271.49 925.96,270.41 927.6,270.14 929.24,268.99 930.87,268.23 932.51,267.24 934.15,266.85 935.79,265.94 937.42,265.48 939.06,264.26 940.7,263.52 942.33,262.26 943.97,261.43 945.61,260.75 947.24,260.19 948.88,259.7 950.52,257.64 952.16,257.72 953.79,256.71 955.43,255.25 957.07,255.19 958.7,254.56 960.34,253.5 961.98,252.65 963.61,251.5 965.25,251.82 966.89,250.52 968.53,249.33 970.16,248.68 971.8,248.12 973.44,248.14 975.07,246.98 976.71,245.96 978.35,245.59 979.98,244.58 981.62,243.63 983.26,243.62 984.89,243.05 986.53,241.93 988.17,241.53 989.81,240.71 991.44,239.01 993.08,239 994.72,238.47 996.35,237 997.99,237.15 999.63,235.53 1001.26,235.16 1002.9,234.23 1004.54,234.1 1006.18,233.29 1007.81,231.89 1009.45,231.95 1011.09,230.91 1012.72,229.74 1014.36,229.41 1016,228.43 1017.63,226.93 1019.27,226.17 1020.91,225.9 1022.55,225.2 1024.18,225.16 1025.82,223.09 1027.46,222.91 1029.09,221.88 1030.73,221.47 1032.37,220.32 1034,220.01 1035.64,219.14 1037.28,219.22 1038.92,218.16 1040.55,217.12 1042.19,217.27 1043.83,216.15 1045.46,215.87 1047.1,214.75 1048.74,213.67 1050.37,214.03 1052.01,212.41 1053.65,212.1 1055.28,211.43 1056.92,211.34 1058.56,210.38 1060.2,209.95 1061.83,209.69 1063.47,209.08 1065.11,207.89 1066.74,206.88 1068.38,206.53 1070.02,206.17 1071.65,205.87 1073.29,204.35 1074.93,204.09 1076.57,203.25 1078.2,202.58 1079.84,202.33 1081.48,201.51 1083.11,201.16 1084.75,201.41 1086.39,199.84 1088.02,200.06 1089.66,199.11 1091.3,198.48 1092.94,197.96 1094.57,196.92 1096.21,197.29 1097.85,196.96 1099.48,195.27 1101.12,194.87 1102.76,194.73 1104.39,194.25 1106.03,194.14 1107.67,193.31 1109.31,193.13 1110.94,191.75 1112.58,192.12 1114.22,191.43 1115.85,190.42 1117.49,190.3 1119.13,189.3 1120.76,188.6 1122.4,188.72 1124.04,188.58 1125.67,187.1 1127.31,186.65 1128.95,186.7 1130.59,185.57 1132.22,185.75 1133.86,185.44 1135.5,184.17 1137.13,183.82 1138.77,183.66 1140.41,182.99 1142.04,183.11 1143.68,181.7 1145.32,181.13 1146.96,181.55 1148.59,180.32 1150.23,180.61 1151.87,180.53 1153.5,180.02 1155.14,179.37 1156.78,179.05 1158.41,178.32 1160.05,176.94 1161.69,177.1 1163.33,177.08 1164.96,175.67 1166.6,175.76 1168.24,175.82 1169.87,174.2 1171.51,174.54 1173.15,173.48 1174.78,173.5 1176.42,172.43 1178.06,171.9 1179.7,171.86 1181.33,171.37 1182.97,171.51 1184.61,170.7 1186.24,170.18 1187.88,169.61 1189.52,168.63 1191.15,168.99 1192.79,168.4 1194.43,167.4 1196.06,167.48 1197.7,167.34 1199.34,165.99 1200.98,165.91 1202.61,166.17 1204.25,164.44 1205.89,165.04 1207.52,164.07 1209.16,163.96 1210.8,162.92 1212.43,162.72 1214.07,162.02 1215.71,162.31 1217.35,161.89 1218.98,161.01 1220.62,160.11 1222.26,159.99 1223.89,160.17 1225.53,159.94 1227.17,159.05 1228.8,157.91 1230.44,157.89 1232.08,158.14 1233.72,157.92 1235.35,156.26 1236.99,155.97 1238.63,155.59 1240.26,154.99 1241.9,155.07 1243.54,154.2 1245.17,154.86 1246.81,154.49 1248.45,153.72 1250.09,152.76 1251.72,152.96 1253.36,152.1 1255,152.55 1256.63,151.4 1258.27,151.26 1259.91,150.07 1261.54,149.59 1263.18,149.93 1264.82,149.49 1266.45,148.38 1268.09,149.11 1269.73,148.21 1271.37,148.16 1273,147.8 1274.64,146.41 1276.28,146.65 1277.91,145.84 1279.55,145.01 1281.19,144.58 1282.82,144.54 1284.46,144.05 1286.1,144.44 1287.74,143.68" fill="none" stroke="#e444d4" stroke-width="2.4" stroke-linejoin="round"/>
<rect x="1190.8" y="371.8" width="69.5" height="206.4" fill="#fff" stroke="#1a1a1a" stroke-width="1.4"/>
<rect x="1206.2" y="388" width="12.9" height="10.8" fill="#fa2218" stroke="#111" stroke-width="1.2"/>
<text font-size="16.50" fill="#222" stroke="#222" stroke-width="0.40" transform="translate(1232.88 400.78) scale(1.0000 1)">2</text>
<rect x="1206.2" y="408.56" width="12.9" height="10.8" fill="#eeaa36" stroke="#111" stroke-width="1.2"/>
<text font-size="16.50" fill="#222" stroke="#222" stroke-width="0.40" transform="translate(1233.04 421.25) scale(1.0000 1)">3</text>
<rect x="1206.2" y="429.12" width="12.9" height="10.8" fill="#b6f534" stroke="#111" stroke-width="1.2"/>
<text font-size="16.50" fill="#222" stroke="#222" stroke-width="0.40" transform="translate(1233.37 441.81) scale(1.0000 1)">4</text>
<rect x="1206.2" y="449.68" width="12.9" height="10.8" fill="#40f01e" stroke="#111" stroke-width="1.2"/>
<text font-size="16.50" fill="#222" stroke="#222" stroke-width="0.40" transform="translate(1233.04 462.29) scale(1.0000 1)">5</text>
<rect x="1206.2" y="470.24" width="12.9" height="10.8" fill="#66f8c4" stroke="#111" stroke-width="1.2"/>
<text font-size="16.50" fill="#222" stroke="#222" stroke-width="0.40" transform="translate(1232.88 482.93) scale(1.0000 1)">6</text>
<rect x="1206.2" y="490.8" width="12.9" height="10.8" fill="#56b4f6" stroke="#111" stroke-width="1.2"/>
<text font-size="16.50" fill="#222" stroke="#222" stroke-width="0.40" transform="translate(1232.88 503.49) scale(1.0000 1)">7</text>
<rect x="1206.2" y="511.36" width="12.9" height="10.8" fill="#1a08ee" stroke="#111" stroke-width="1.2"/>
<text font-size="16.50" fill="#222" stroke="#222" stroke-width="0.40" transform="translate(1232.96 524.05) scale(1.0000 1)">8</text>
<rect x="1206.2" y="531.92" width="12.9" height="10.8" fill="#a81cf4" stroke="#111" stroke-width="1.2"/>
<text font-size="16.50" fill="#222" stroke="#222" stroke-width="0.40" transform="translate(1232.96 544.61) scale(1.0000 1)">9</text>
<rect x="1206.2" y="552.48" width="12.9" height="10.8" fill="#f53cd8" stroke="#111" stroke-width="1.2"/>
<text font-size="16.50" fill="#222" stroke="#222" stroke-width="0.40" transform="translate(1232.46 565.17) scale(1.0000 1)">10</text>
<rect x="1512" y="125.4" width="574" height="495.4" fill="none" stroke="#1a1a1a" stroke-width="1.4"/>
<line x1="1500" y1="614.9" x2="1512" y2="614.9" stroke="#1a1a1a" stroke-width="1.4"/>
<text font-size="16.90" fill="#222" stroke="#222" stroke-width="0.40" transform="translate(1485.68 626.69) rotate(-90) scale(1 1.0600)">0.0</text>
<line x1="1500" y1="518.7" x2="1512" y2="518.7" stroke="#1a1a1a" stroke-width="1.4"/>
<text font-size="16.90" fill="#222" stroke="#222" stroke-width="0.40" transform="translate(1485.68 530.40) rotate(-90) scale(1 1.0600)">0.1</text>
<line x1="1500" y1="422.5" x2="1512" y2="422.5" stroke="#1a1a1a" stroke-width="1.4"/>
<text font-size="16.90" fill="#222" stroke="#222" stroke-width="0.40" transform="translate(1485.68 434.16) rotate(-90) scale(1 1.0600)">0.2</text>
<line x1="1500" y1="326.3" x2="1512" y2="326.3" stroke="#1a1a1a" stroke-width="1.4"/>
<text font-size="16.90" fill="#222" stroke="#222" stroke-width="0.40" transform="translate(1485.68 338.05) rotate(-90) scale(1 1.0600)">0.3</text>
<line x1="1500" y1="230.1" x2="1512" y2="230.1" stroke="#1a1a1a" stroke-width="1.4"/>
<text font-size="16.90" fill="#222" stroke="#222" stroke-width="0.40" transform="translate(1485.68 241.93) rotate(-90) scale(1 1.0600)">0.4</text>
<line x1="1500" y1="133.9" x2="1512" y2="133.9" stroke="#1a1a1a" stroke-width="1.4"/>
<text font-size="16.90" fill="#222" stroke="#222" stroke-width="0.40" transform="translate(1485.68 145.65) rotate(-90) scale(1 1.0600)">0.5</text>
<line x1="1532.2" y1="620.8" x2="1532.2" y2="631.2" stroke="#1a1a1a" stroke-width="1.4"/>
<text font-size="17.00" fill="#222" stroke="#222" stroke-width="0.40" transform="translate(1526.92 659.00) scale(1.1200 1)">2</text>
<line x1="1664.9" y1="620.8" x2="1664.9" y2="631.2" stroke="#1a1a1a" stroke-width="1.4"/>
<text font-size="17.00" fill="#222" stroke="#222" stroke-width="0.40" transform="translate(1659.71 659.00) scale(1.1200 1)">4</text>
<line x1="1797.6" y1="620.8" x2="1797.6" y2="631.2" stroke="#1a1a1a" stroke-width="1.4"/>
<text font-size="17.00" fill="#222" stroke="#222" stroke-width="0.40" transform="translate(1792.22 659.00) scale(1.1200 1)">6</text>
<line x1="1930.3" y1="620.8" x2="1930.3" y2="631.2" stroke="#1a1a1a" stroke-width="1.4"/>
<text font-size="17.00" fill="#222" stroke="#222" stroke-width="0.40" transform="translate(1924.97 659.00) scale(1.1200 1)">8</text>
<line x1="2063" y1="620.8" x2="2063" y2="631.2" stroke="#1a1a1a" stroke-width="1.4"/>
<text font-size="17.00" fill="#222" stroke="#222" stroke-width="0.40" transform="translate(2052.05 659.00) scale(1.1200 1)">10</text>
<text font-size="23.13" fill="#111" font-weight="bold" transform="translate(1744.58 92.77) scale(0.9425 1)">Delta area</text>
<text font-size="17.64" fill="#222" stroke="#222" stroke-width="0.40" transform="translate(1442.88 532.05) rotate(-90) scale(1 0.9763)">relative change in area under CDF curve</text>
<text font-size="17.38" fill="#3a2a2a" stroke="#3a2a2a" stroke-width="0.40" transform="translate(1793.23 700.20) scale(1.0317 1)">k</text>
<line x1="1534.27" y1="149.77" x2="1596.48" y2="366.23" stroke="#111" stroke-width="1.3"/>
<line x1="1601.49" y1="380.34" x2="1661.96" y2="522" stroke="#111" stroke-width="1.3"/>
<line x1="1671.53" y1="532.4" x2="1724.62" y2="560.41" stroke="#111" stroke-width="1.3"/>
<line x1="1738.62" y1="565.32" x2="1790.23" y2="575.2" stroke="#111" stroke-width="1.3"/>
<line x1="1805.04" y1="577.56" x2="1856.51" y2="584.13" stroke="#111" stroke-width="1.3"/>
<line x1="1871.39" y1="586.03" x2="1922.86" y2="592.59" stroke="#111" stroke-width="1.3"/>
<line x1="1937.78" y1="594.03" x2="1989.17" y2="597.38" stroke="#111" stroke-width="1.3"/>
<line x1="2004.13" y1="598.38" x2="2055.52" y2="601.88" stroke="#111" stroke-width="1.3"/>
<circle cx="1532.2" cy="142.56" r="3.3" fill="none" stroke="#111" stroke-width="1.3"/>
<circle cx="1598.55" cy="373.44" r="3.3" fill="none" stroke="#111" stroke-width="1.3"/>
<circle cx="1664.9" cy="528.9" r="3.3" fill="none" stroke="#111" stroke-width="1.3"/>
<circle cx="1731.25" cy="563.91" r="3.3" fill="none" stroke="#111" stroke-width="1.3"/>
<circle cx="1797.6" cy="576.61" r="3.3" fill="none" stroke="#111" stroke-width="1.3"/>
<circle cx="1863.95" cy="585.08" r="3.3" fill="none" stroke="#111" stroke-width="1.3"/>
<circle cx="1930.3" cy="593.54" r="3.3" fill="none" stroke="#111" stroke-width="1.3"/>
<circle cx="1996.65" cy="597.87" r="3.3" fill="none" stroke="#111" stroke-width="1.3"/>
<circle cx="2063" cy="602.39" r="3.3" fill="none" stroke="#111" stroke-width="1.3"/>
<rect x="154.4" y="925.8" width="439.2" height="426" fill="none" stroke="#111" stroke-width="1.8"/>
<line x1="138.7" y1="1346.79" x2="154.4" y2="1346.79" stroke="#111" stroke-width="1.8"/>
<text font-size="22.56" fill="#1a1a1a" stroke="#1a1a1a" stroke-width="0.40" transform="translate(117.33 1374.99) rotate(-90) scale(1 1.1923)">0.555</text>
<line x1="138.7" y1="1237.26" x2="154.4" y2="1237.26" stroke="#111" stroke-width="1.8"/>
<text font-size="22.52" fill="#1a1a1a" stroke="#1a1a1a" stroke-width="0.40" transform="translate(117.33 1265.46) rotate(-90) scale(1 1.1948)">0.560</text>
<line x1="138.7" y1="1127.73" x2="154.4" y2="1127.73" stroke="#111" stroke-width="1.8"/>
<text font-size="22.56" fill="#1a1a1a" stroke="#1a1a1a" stroke-width="0.40" transform="translate(117.33 1155.93) rotate(-90) scale(1 1.1923)">0.565</text>
<line x1="138.7" y1="1018.2" x2="154.4" y2="1018.2" stroke="#111" stroke-width="1.8"/>
<text font-size="22.52" fill="#1a1a1a" stroke="#1a1a1a" stroke-width="0.40" transform="translate(117.33 1046.40) rotate(-90) scale(1 1.1948)">0.570</text>
<line x1="171.4" y1="1351.8" x2="171.4" y2="1366" stroke="#111" stroke-width="1.8"/>
<text font-size="21.00" fill="#111" stroke="#111" stroke-width="0.40" transform="translate(161.93 1401.00) scale(1.4024 1)">2</text>
<line x1="272.76" y1="1351.8" x2="272.76" y2="1366" stroke="#111" stroke-width="1.8"/>
<text font-size="21.30" fill="#111" stroke="#111" stroke-width="0.40" transform="translate(264.56 1401.00) scale(1.2734 1)">4</text>
<line x1="374.12" y1="1351.8" x2="374.12" y2="1366" stroke="#111" stroke-width="1.8"/>
<text font-size="20.70" fill="#111" stroke="#111" stroke-width="0.40" transform="translate(365.18 1400.79) scale(1.3711 1)">6</text>
<line x1="475.48" y1="1351.8" x2="475.48" y2="1366" stroke="#111" stroke-width="1.8"/>
<text font-size="20.70" fill="#111" stroke="#111" stroke-width="0.40" transform="translate(467.02 1400.79) scale(1.3770 1)">8</text>
<line x1="576.84" y1="1351.8" x2="576.84" y2="1366" stroke="#111" stroke-width="1.8"/>
<text font-size="20.70" fill="#111" stroke="#111" stroke-width="0.40" transform="translate(561.29 1400.79) scale(1.3572 1)">10</text>
<text font-size="31.86" fill="#111" stroke="#111" stroke-width="0.40" transform="translate(363.36 1454.60) scale(1.2266 1)">k</text>
<text font-size="34.12" fill="#111" stroke="#111" stroke-width="0.40" transform="translate(54.19 1195.92) rotate(-90) scale(1 1.1884)">statistic</text>
<text font-size="27.81" fill="#111" stroke="#111" stroke-width="0.40" transform="translate(286.78 867.46) scale(1.0907 1)">Cophenetic</text>
<text font-size="27.62" fill="#111" stroke="#111" stroke-width="0.40" transform="translate(225.29 903.12) scale(1.0945 1)">correlation coefficient</text>
<polyline points="171.4,1296.8 222.08,941.8 272.76,1050 323.44,1011 374.12,1009.6 424.8,1010 475.48,1140.7 526.16,1231.4 576.84,1335.7" fill="none" stroke="#111" stroke-width="1.6" stroke-linejoin="round"/>
<ellipse cx="171.4" cy="1296.8" rx="5.7" ry="4.4" fill="#111"/>
<ellipse cx="222.08" cy="941.8" rx="5.7" ry="4.4" fill="#111"/>
<ellipse cx="272.76" cy="1050" rx="5.7" ry="4.4" fill="#111"/>
<ellipse cx="323.44" cy="1011" rx="5.7" ry="4.4" fill="#111"/>
<ellipse cx="374.12" cy="1009.6" rx="5.7" ry="4.4" fill="#111"/>
<ellipse cx="424.8" cy="1010" rx="5.7" ry="4.4" fill="#111"/>
<ellipse cx="475.48" cy="1140.7" rx="5.7" ry="4.4" fill="#111"/>
<ellipse cx="526.16" cy="1231.4" rx="5.7" ry="4.4" fill="#111"/>
<ellipse cx="576.84" cy="1335.7" rx="5.7" ry="4.4" fill="#111"/>
<text font-size="20.27" fill="#111" font-weight="bold" transform="translate(201.42 79.00) scale(1.0795 1)">consensus matrix k=3</text>
<rect x="84.4" y="225.3" width="180.6" height="20.6" fill="#bde9f4"/>
<rect x="265" y="225.3" width="56.5" height="20.6" fill="#e8668a"/>
<rect x="321.5" y="225.3" width="226.3" height="20.6" fill="#8c56a8"/>
<text font-size="31.43" fill="#111" stroke="#111" stroke-width="0.40" transform="translate(552.75 243.19) scale(1.0764 1)">cluster</text>
<rect x="556.8" y="255.4" width="35.4" height="34.1" fill="#bde9f4" stroke="#222" stroke-width="1.3"/>
<text font-size="37.54" fill="#111" stroke="#111" stroke-width="0.40" transform="translate(605.54 285.90) scale(0.6614 1)">1</text>
<rect x="556.8" y="302.75" width="35.4" height="34.1" fill="#8c56a8" stroke="#222" stroke-width="1.3"/>
<text font-size="37.71" fill="#111" stroke="#111" stroke-width="0.40" transform="translate(604.09 331.60) scale(1.0140 1)">2</text>
<rect x="556.8" y="350.1" width="35.4" height="34.1" fill="#e8668a" stroke="#222" stroke-width="1.3"/>
<text font-size="37.18" fill="#111" stroke="#111" stroke-width="0.40" transform="translate(605.69 381.23) scale(0.9512 1)">3</text>
<g shape-rendering="crispEdges">
<rect x="84.5" y="725.97" width="4.5" height="4.63" fill="#3e26fb"/>
<rect x="84.5" y="714.65" width="4.5" height="11.32" fill="#604cfc"/>
<rect x="84.5" y="694.08" width="4.5" height="20.57" fill="#8d7ffd"/>
<rect x="84.5" y="672.48" width="4.5" height="21.6" fill="#8d7ffd"/>
<rect x="84.5" y="560.34" width="4.5" height="112.13" fill="#8d7ffd"/>
<rect x="84.5" y="554.17" width="4.5" height="6.17" fill="#988cfd"/>
<rect x="84.5" y="545.43" width="4.5" height="8.74" fill="#bab2fd"/>
<rect x="84.5" y="504.79" width="4.5" height="40.64" fill="#afa5fd"/>
<rect x="84.5" y="486.27" width="4.5" height="18.52" fill="#d6d1fe"/>
<rect x="84.5" y="467.76" width="4.5" height="18.52" fill="#a499fd"/>
<rect x="84.5" y="453.35" width="4.5" height="14.4" fill="#a499fd"/>
<rect x="84.5" y="426.61" width="4.5" height="26.75" fill="#a499fd"/>
<rect x="84.5" y="412.72" width="4.5" height="13.89" fill="#a499fd"/>
<rect x="84.5" y="389.57" width="4.5" height="23.15" fill="#a89efd"/>
<rect x="84.5" y="339.16" width="4.5" height="50.41" fill="#a89efd"/>
<rect x="84.5" y="260.98" width="4.5" height="78.18" fill="#a89efd"/>
<rect x="84.5" y="254.6" width="4.5" height="6.38" fill="#afa5fd"/>
<rect x="89" y="725.97" width="11" height="4.63" fill="#604cfc"/>
<rect x="89" y="714.65" width="11" height="11.32" fill="#a499fd"/>
<rect x="89" y="694.08" width="11" height="20.57" fill="#a499fd"/>
<rect x="89" y="672.48" width="11" height="21.6" fill="#a499fd"/>
<rect x="89" y="560.34" width="11" height="112.13" fill="#8d7ffd"/>
<rect x="89" y="554.17" width="11" height="6.17" fill="#988cfd"/>
<rect x="89" y="545.43" width="11" height="8.74" fill="#bab2fd"/>
<rect x="89" y="504.79" width="11" height="40.64" fill="#afa5fd"/>
<rect x="89" y="486.27" width="11" height="18.52" fill="#d6d1fe"/>
<rect x="89" y="467.76" width="11" height="18.52" fill="#f3f2fe"/>
<rect x="89" y="453.35" width="11" height="14.4" fill="#e3e0fe"/>
<rect x="89" y="426.61" width="11" height="26.75" fill="#f3f2fe"/>
<rect x="89" y="412.72" width="11" height="13.89" fill="#d1ccfe"/>
<rect x="89" y="389.57" width="11" height="23.15" fill="#f8f7fe"/>
<rect x="89" y="339.16" width="11" height="50.41" fill="#f8f7fe"/>
<rect x="89" y="260.98" width="11" height="78.18" fill="#f8f7fe"/>
<rect x="89" y="254.6" width="11" height="6.38" fill="#afa5fd"/>
<rect x="100" y="725.97" width="20" height="4.63" fill="#8d7ffd"/>
<rect x="100" y="714.65" width="20" height="11.32" fill="#a499fd"/>
<rect x="100" y="694.08" width="20" height="20.57" fill="#7666fc"/>
<rect x="100" y="672.48" width="20" height="21.6" fill="#7666fc"/>
<rect x="100" y="560.34" width="20" height="112.13" fill="#7666fc"/>
<rect x="100" y="554.17" width="20" height="6.17" fill="#988cfd"/>
<rect x="100" y="545.43" width="20" height="8.74" fill="#bab2fd"/>
<rect x="100" y="504.79" width="20" height="40.64" fill="#afa5fd"/>
<rect x="100" y="486.27" width="20" height="18.52" fill="#d6d1fe"/>
<rect x="100" y="467.76" width="20" height="18.52" fill="#d1ccfe"/>
<rect x="100" y="453.35" width="20" height="14.4" fill="#d1ccfe"/>
<rect x="100" y="426.61" width="20" height="26.75" fill="#d1ccfe"/>
<rect x="100" y="412.72" width="20" height="13.89" fill="#d1ccfe"/>
<rect x="100" y="389.57" width="20" height="23.15" fill="#e8e5fe"/>
<rect x="100" y="339.16" width="20" height="50.41" fill="#e8e5fe"/>
<rect x="100" y="260.98" width="20" height="78.18" fill="#e8e5fe"/>
<rect x="100" y="254.6" width="20" height="6.38" fill="#afa5fd"/>
<rect x="120" y="725.97" width="21" height="4.63" fill="#8d7ffd"/>
<rect x="120" y="714.65" width="21" height="11.32" fill="#a499fd"/>
<rect x="120" y="694.08" width="21" height="20.57" fill="#7666fc"/>
<rect x="120" y="672.48" width="21" height="21.6" fill="#3e26fb"/>
<rect x="120" y="560.34" width="21" height="112.13" fill="#3e26fb"/>
<rect x="120" y="554.17" width="21" height="6.17" fill="#988cfd"/>
<rect x="120" y="545.43" width="21" height="8.74" fill="#bab2fd"/>
<rect x="120" y="504.79" width="21" height="40.64" fill="#e8e5fe"/>
<rect x="120" y="486.27" width="21" height="18.52" fill="#d6d1fe"/>
<rect x="120" y="467.76" width="21" height="18.52" fill="#f3f2fe"/>
<rect x="120" y="453.35" width="21" height="14.4" fill="#e3e0fe"/>
<rect x="120" y="426.61" width="21" height="26.75" fill="#f3f2fe"/>
<rect x="120" y="412.72" width="21" height="13.89" fill="#d1ccfe"/>
<rect x="120" y="389.57" width="21" height="23.15" fill="#f1effe"/>
<rect x="120" y="339.16" width="21" height="50.41" fill="#f1effe"/>
<rect x="120" y="260.98" width="21" height="78.18" fill="#f1effe"/>
<rect x="120" y="254.6" width="21" height="6.38" fill="#afa5fd"/>
<rect x="141" y="725.97" width="109" height="4.63" fill="#8d7ffd"/>
<rect x="141" y="714.65" width="109" height="11.32" fill="#8d7ffd"/>
<rect x="141" y="694.08" width="109" height="20.57" fill="#7666fc"/>
<rect x="141" y="672.48" width="109" height="21.6" fill="#3e26fb"/>
<rect x="141" y="560.34" width="109" height="112.13" fill="#2207fb"/>
<rect x="141" y="554.17" width="109" height="6.17" fill="#7666fc"/>
<rect x="141" y="545.43" width="109" height="8.74" fill="#a89efd"/>
<rect x="141" y="504.79" width="109" height="40.64" fill="#faf9fe"/>
<rect x="141" y="486.27" width="109" height="18.52" fill="#eceafe"/>
<rect x="141" y="467.76" width="109" height="18.52" fill="#f3f2fe"/>
<rect x="141" y="453.35" width="109" height="14.4" fill="#e3e0fe"/>
<rect x="141" y="426.61" width="109" height="26.75" fill="#f3f2fe"/>
<rect x="141" y="412.72" width="109" height="13.89" fill="#d1ccfe"/>
<rect x="141" y="389.57" width="109" height="23.15" fill="#ffffff"/>
<rect x="141" y="339.16" width="109" height="50.41" fill="#ffffff"/>
<rect x="141" y="260.98" width="109" height="78.18" fill="#ffffff"/>
<rect x="141" y="254.6" width="109" height="6.38" fill="#afa5fd"/>
<rect x="250" y="725.97" width="6" height="4.63" fill="#988cfd"/>
<rect x="250" y="714.65" width="6" height="11.32" fill="#988cfd"/>
<rect x="250" y="694.08" width="6" height="20.57" fill="#988cfd"/>
<rect x="250" y="672.48" width="6" height="21.6" fill="#988cfd"/>
<rect x="250" y="560.34" width="6" height="112.13" fill="#7666fc"/>
<rect x="250" y="554.17" width="6" height="6.17" fill="#988cfd"/>
<rect x="250" y="545.43" width="6" height="8.74" fill="#bab2fd"/>
<rect x="250" y="504.79" width="6" height="40.64" fill="#bab2fd"/>
<rect x="250" y="486.27" width="6" height="18.52" fill="#d6d1fe"/>
<rect x="250" y="467.76" width="6" height="18.52" fill="#f3f2fe"/>
<rect x="250" y="453.35" width="6" height="14.4" fill="#e3e0fe"/>
<rect x="250" y="426.61" width="6" height="26.75" fill="#f3f2fe"/>
<rect x="250" y="412.72" width="6" height="13.89" fill="#d1ccfe"/>
<rect x="250" y="389.57" width="6" height="23.15" fill="#c6bffe"/>
<rect x="250" y="339.16" width="6" height="50.41" fill="#c6bffe"/>
<rect x="250" y="260.98" width="6" height="78.18" fill="#c6bffe"/>
<rect x="250" y="254.6" width="6" height="6.38" fill="#afa5fd"/>
<rect x="256" y="725.97" width="8.5" height="4.63" fill="#bab2fd"/>
<rect x="256" y="714.65" width="8.5" height="11.32" fill="#bab2fd"/>
<rect x="256" y="694.08" width="8.5" height="20.57" fill="#bab2fd"/>
<rect x="256" y="672.48" width="8.5" height="21.6" fill="#bab2fd"/>
<rect x="256" y="560.34" width="8.5" height="112.13" fill="#a89efd"/>
<rect x="256" y="554.17" width="8.5" height="6.17" fill="#bab2fd"/>
<rect x="256" y="545.43" width="8.5" height="8.74" fill="#bab2fd"/>
<rect x="256" y="504.79" width="8.5" height="40.64" fill="#bab2fd"/>
<rect x="256" y="486.27" width="8.5" height="18.52" fill="#d6d1fe"/>
<rect x="256" y="467.76" width="8.5" height="18.52" fill="#f3f2fe"/>
<rect x="256" y="453.35" width="8.5" height="14.4" fill="#e3e0fe"/>
<rect x="256" y="426.61" width="8.5" height="26.75" fill="#f3f2fe"/>
<rect x="256" y="412.72" width="8.5" height="13.89" fill="#d1ccfe"/>
<rect x="256" y="389.57" width="8.5" height="23.15" fill="#b6adfd"/>
<rect x="256" y="339.16" width="8.5" height="50.41" fill="#b6adfd"/>
<rect x="256" y="260.98" width="8.5" height="78.18" fill="#b6adfd"/>
<rect x="256" y="254.6" width="8.5" height="6.38" fill="#afa5fd"/>
<rect x="264.5" y="725.97" width="39.5" height="4.63" fill="#afa5fd"/>
<rect x="264.5" y="714.65" width="39.5" height="11.32" fill="#afa5fd"/>
<rect x="264.5" y="694.08" width="39.5" height="20.57" fill="#afa5fd"/>
<rect x="264.5" y="672.48" width="39.5" height="21.6" fill="#e8e5fe"/>
<rect x="264.5" y="560.34" width="39.5" height="112.13" fill="#faf9fe"/>
<rect x="264.5" y="554.17" width="39.5" height="6.17" fill="#bab2fd"/>
<rect x="264.5" y="545.43" width="39.5" height="8.74" fill="#bab2fd"/>
<rect x="264.5" y="504.79" width="39.5" height="40.64" fill="#2e14fb"/>
<rect x="264.5" y="486.27" width="39.5" height="18.52" fill="#8d7ffd"/>
<rect x="264.5" y="467.76" width="39.5" height="18.52" fill="#988cfd"/>
<rect x="264.5" y="453.35" width="39.5" height="14.4" fill="#988cfd"/>
<rect x="264.5" y="426.61" width="39.5" height="26.75" fill="#988cfd"/>
<rect x="264.5" y="412.72" width="39.5" height="13.89" fill="#bab2fd"/>
<rect x="264.5" y="389.57" width="39.5" height="23.15" fill="#988cfd"/>
<rect x="264.5" y="339.16" width="39.5" height="50.41" fill="#8d7ffd"/>
<rect x="264.5" y="260.98" width="39.5" height="78.18" fill="#8d7ffd"/>
<rect x="264.5" y="254.6" width="39.5" height="6.38" fill="#8d7ffd"/>
<rect x="304" y="725.97" width="18" height="4.63" fill="#d6d1fe"/>
<rect x="304" y="714.65" width="18" height="11.32" fill="#d6d1fe"/>
<rect x="304" y="694.08" width="18" height="20.57" fill="#d6d1fe"/>
<rect x="304" y="672.48" width="18" height="21.6" fill="#d6d1fe"/>
<rect x="304" y="560.34" width="18" height="112.13" fill="#eceafe"/>
<rect x="304" y="554.17" width="18" height="6.17" fill="#d6d1fe"/>
<rect x="304" y="545.43" width="18" height="8.74" fill="#d6d1fe"/>
<rect x="304" y="504.79" width="18" height="40.64" fill="#8d7ffd"/>
<rect x="304" y="486.27" width="18" height="18.52" fill="#8272fc"/>
<rect x="304" y="467.76" width="18" height="18.52" fill="#bfb7fd"/>
<rect x="304" y="453.35" width="18" height="14.4" fill="#bfb7fd"/>
<rect x="304" y="426.61" width="18" height="26.75" fill="#bfb7fd"/>
<rect x="304" y="412.72" width="18" height="13.89" fill="#bfb7fd"/>
<rect x="304" y="389.57" width="18" height="23.15" fill="#bfb7fd"/>
<rect x="304" y="339.16" width="18" height="50.41" fill="#bfb7fd"/>
<rect x="304" y="260.98" width="18" height="78.18" fill="#bfb7fd"/>
<rect x="304" y="254.6" width="18" height="6.38" fill="#8d7ffd"/>
<rect x="322" y="725.97" width="18" height="4.63" fill="#a499fd"/>
<rect x="322" y="714.65" width="18" height="11.32" fill="#f3f2fe"/>
<rect x="322" y="694.08" width="18" height="20.57" fill="#d1ccfe"/>
<rect x="322" y="672.48" width="18" height="21.6" fill="#f3f2fe"/>
<rect x="322" y="560.34" width="18" height="112.13" fill="#f3f2fe"/>
<rect x="322" y="554.17" width="18" height="6.17" fill="#f3f2fe"/>
<rect x="322" y="545.43" width="18" height="8.74" fill="#f3f2fe"/>
<rect x="322" y="504.79" width="18" height="40.64" fill="#988cfd"/>
<rect x="322" y="486.27" width="18" height="18.52" fill="#bfb7fd"/>
<rect x="322" y="467.76" width="18" height="18.52" fill="#8d7ffd"/>
<rect x="322" y="453.35" width="18" height="14.4" fill="#a499fd"/>
<rect x="322" y="426.61" width="18" height="26.75" fill="#b4aafd"/>
<rect x="322" y="412.72" width="18" height="13.89" fill="#b4aafd"/>
<rect x="322" y="389.57" width="18" height="23.15" fill="#b4aafd"/>
<rect x="322" y="339.16" width="18" height="50.41" fill="#b4aafd"/>
<rect x="322" y="260.98" width="18" height="78.18" fill="#b4aafd"/>
<rect x="322" y="254.6" width="18" height="6.38" fill="#8d7ffd"/>
<rect x="340" y="725.97" width="14" height="4.63" fill="#a499fd"/>
<rect x="340" y="714.65" width="14" height="11.32" fill="#e3e0fe"/>
<rect x="340" y="694.08" width="14" height="20.57" fill="#d1ccfe"/>
<rect x="340" y="672.48" width="14" height="21.6" fill="#e3e0fe"/>
<rect x="340" y="560.34" width="14" height="112.13" fill="#e3e0fe"/>
<rect x="340" y="554.17" width="14" height="6.17" fill="#e3e0fe"/>
<rect x="340" y="545.43" width="14" height="8.74" fill="#e3e0fe"/>
<rect x="340" y="504.79" width="14" height="40.64" fill="#988cfd"/>
<rect x="340" y="486.27" width="14" height="18.52" fill="#bfb7fd"/>
<rect x="340" y="467.76" width="14" height="18.52" fill="#a499fd"/>
<rect x="340" y="453.35" width="14" height="14.4" fill="#604cfc"/>
<rect x="340" y="426.61" width="14" height="26.75" fill="#5b47fc"/>
<rect x="340" y="412.72" width="14" height="13.89" fill="#b4aafd"/>
<rect x="340" y="389.57" width="14" height="23.15" fill="#8d7ffd"/>
<rect x="340" y="339.16" width="14" height="50.41" fill="#8d7ffd"/>
<rect x="340" y="260.98" width="14" height="78.18" fill="#8d7ffd"/>
<rect x="340" y="254.6" width="14" height="6.38" fill="#8d7ffd"/>
<rect x="354" y="725.97" width="26" height="4.63" fill="#a499fd"/>
<rect x="354" y="714.65" width="26" height="11.32" fill="#f3f2fe"/>
<rect x="354" y="694.08" width="26" height="20.57" fill="#d1ccfe"/>
<rect x="354" y="672.48" width="26" height="21.6" fill="#f3f2fe"/>
<rect x="354" y="560.34" width="26" height="112.13" fill="#f3f2fe"/>
<rect x="354" y="554.17" width="26" height="6.17" fill="#f3f2fe"/>
<rect x="354" y="545.43" width="26" height="8.74" fill="#f3f2fe"/>
<rect x="354" y="504.79" width="26" height="40.64" fill="#988cfd"/>
<rect x="354" y="486.27" width="26" height="18.52" fill="#bfb7fd"/>
<rect x="354" y="467.76" width="26" height="18.52" fill="#b4aafd"/>
<rect x="354" y="453.35" width="26" height="14.4" fill="#5b47fc"/>
<rect x="354" y="426.61" width="26" height="26.75" fill="#2e14fb"/>
<rect x="354" y="412.72" width="26" height="13.89" fill="#b4aafd"/>
<rect x="354" y="389.57" width="26" height="23.15" fill="#371efb"/>
<rect x="354" y="339.16" width="26" height="50.41" fill="#5b47fc"/>
<rect x="354" y="260.98" width="26" height="78.18" fill="#9284fd"/>
<rect x="354" y="254.6" width="26" height="6.38" fill="#8d7ffd"/>
<rect x="380" y="725.97" width="13.5" height="4.63" fill="#a499fd"/>
<rect x="380" y="714.65" width="13.5" height="11.32" fill="#d1ccfe"/>
<rect x="380" y="694.08" width="13.5" height="20.57" fill="#d1ccfe"/>
<rect x="380" y="672.48" width="13.5" height="21.6" fill="#d1ccfe"/>
<rect x="380" y="560.34" width="13.5" height="112.13" fill="#d1ccfe"/>
<rect x="380" y="554.17" width="13.5" height="6.17" fill="#d1ccfe"/>
<rect x="380" y="545.43" width="13.5" height="8.74" fill="#d1ccfe"/>
<rect x="380" y="504.79" width="13.5" height="40.64" fill="#bab2fd"/>
<rect x="380" y="486.27" width="13.5" height="18.52" fill="#bfb7fd"/>
<rect x="380" y="467.76" width="13.5" height="18.52" fill="#b4aafd"/>
<rect x="380" y="453.35" width="13.5" height="14.4" fill="#b4aafd"/>
<rect x="380" y="426.61" width="13.5" height="26.75" fill="#b4aafd"/>
<rect x="380" y="412.72" width="13.5" height="13.89" fill="#8d7ffd"/>
<rect x="380" y="389.57" width="13.5" height="23.15" fill="#b4aafd"/>
<rect x="380" y="339.16" width="13.5" height="50.41" fill="#b4aafd"/>
<rect x="380" y="260.98" width="13.5" height="78.18" fill="#b4aafd"/>
<rect x="380" y="254.6" width="13.5" height="6.38" fill="#8d7ffd"/>
<rect x="393.5" y="725.97" width="22.5" height="4.63" fill="#a89efd"/>
<rect x="393.5" y="714.65" width="22.5" height="11.32" fill="#f8f7fe"/>
<rect x="393.5" y="694.08" width="22.5" height="20.57" fill="#e8e5fe"/>
<rect x="393.5" y="672.48" width="22.5" height="21.6" fill="#f1effe"/>
<rect x="393.5" y="560.34" width="22.5" height="112.13" fill="#ffffff"/>
<rect x="393.5" y="554.17" width="22.5" height="6.17" fill="#c6bffe"/>
<rect x="393.5" y="545.43" width="22.5" height="8.74" fill="#b6adfd"/>
<rect x="393.5" y="504.79" width="22.5" height="40.64" fill="#988cfd"/>
<rect x="393.5" y="486.27" width="22.5" height="18.52" fill="#bfb7fd"/>
<rect x="393.5" y="467.76" width="22.5" height="18.52" fill="#b4aafd"/>
<rect x="393.5" y="453.35" width="22.5" height="14.4" fill="#8d7ffd"/>
<rect x="393.5" y="426.61" width="22.5" height="26.75" fill="#371efb"/>
<rect x="393.5" y="412.72" width="22.5" height="13.89" fill="#b4aafd"/>
<rect x="393.5" y="389.57" width="22.5" height="23.15" fill="#371efb"/>
<rect x="393.5" y="339.16" width="22.5" height="50.41" fill="#3219fb"/>
<rect x="393.5" y="260.98" width="22.5" height="78.18" fill="#5b47fc"/>
<rect x="393.5" y="254.6" width="22.5" height="6.38" fill="#8d7ffd"/>
<rect x="416" y="725.97" width="49" height="4.63" fill="#a89efd"/>
<rect x="416" y="714.65" width="49" height="11.32" fill="#f8f7fe"/>
<rect x="416" y="694.08" width="49" height="20.57" fill="#e8e5fe"/>
<rect x="416" y="672.48" width="49" height="21.6" fill="#f1effe"/>
<rect x="416" y="560.34" width="49" height="112.13" fill="#ffffff"/>
<rect x="416" y="554.17" width="49" height="6.17" fill="#c6bffe"/>
<rect x="416" y="545.43" width="49" height="8.74" fill="#b6adfd"/>
<rect x="416" y="504.79" width="49" height="40.64" fill="#8d7ffd"/>
<rect x="416" y="486.27" width="49" height="18.52" fill="#bfb7fd"/>
<rect x="416" y="467.76" width="49" height="18.52" fill="#b4aafd"/>
<rect x="416" y="453.35" width="49" height="14.4" fill="#8d7ffd"/>
<rect x="416" y="426.61" width="49" height="26.75" fill="#5b47fc"/>
<rect x="416" y="412.72" width="49" height="13.89" fill="#b4aafd"/>
<rect x="416" y="389.57" width="49" height="23.15" fill="#3219fb"/>
<rect x="416" y="339.16" width="49" height="50.41" fill="#270cfb"/>
<rect x="416" y="260.98" width="49" height="78.18" fill="#2b11fb"/>
<rect x="416" y="254.6" width="49" height="6.38" fill="#8d7ffd"/>
<rect x="465" y="725.97" width="76" height="4.63" fill="#a89efd"/>
<rect x="465" y="714.65" width="76" height="11.32" fill="#f8f7fe"/>
<rect x="465" y="694.08" width="76" height="20.57" fill="#e8e5fe"/>
<rect x="465" y="672.48" width="76" height="21.6" fill="#f1effe"/>
<rect x="465" y="560.34" width="76" height="112.13" fill="#ffffff"/>
<rect x="465" y="554.17" width="76" height="6.17" fill="#c6bffe"/>
<rect x="465" y="545.43" width="76" height="8.74" fill="#b6adfd"/>
<rect x="465" y="504.79" width="76" height="40.64" fill="#8d7ffd"/>
<rect x="465" y="486.27" width="76" height="18.52" fill="#bfb7fd"/>
<rect x="465" y="467.76" width="76" height="18.52" fill="#b4aafd"/>
<rect x="465" y="453.35" width="76" height="14.4" fill="#8d7ffd"/>
<rect x="465" y="426.61" width="76" height="26.75" fill="#9284fd"/>
<rect x="465" y="412.72" width="76" height="13.89" fill="#b4aafd"/>
<rect x="465" y="389.57" width="76" height="23.15" fill="#5b47fc"/>
<rect x="465" y="339.16" width="76" height="50.41" fill="#2b11fb"/>
<rect x="465" y="260.98" width="76" height="78.18" fill="#1e02fb"/>
<rect x="465" y="254.6" width="76" height="6.38" fill="#543ffc"/>
<rect x="541" y="725.97" width="6.2" height="4.63" fill="#afa5fd"/>
<rect x="541" y="714.65" width="6.2" height="11.32" fill="#afa5fd"/>
<rect x="541" y="694.08" width="6.2" height="20.57" fill="#afa5fd"/>
<rect x="541" y="672.48" width="6.2" height="21.6" fill="#afa5fd"/>
<rect x="541" y="560.34" width="6.2" height="112.13" fill="#afa5fd"/>
<rect x="541" y="554.17" width="6.2" height="6.17" fill="#afa5fd"/>
<rect x="541" y="545.43" width="6.2" height="8.74" fill="#afa5fd"/>
<rect x="541" y="504.79" width="6.2" height="40.64" fill="#8d7ffd"/>
<rect x="541" y="486.27" width="6.2" height="18.52" fill="#8d7ffd"/>
<rect x="541" y="467.76" width="6.2" height="18.52" fill="#8d7ffd"/>
<rect x="541" y="453.35" width="6.2" height="14.4" fill="#8d7ffd"/>
<rect x="541" y="426.61" width="6.2" height="26.75" fill="#8d7ffd"/>
<rect x="541" y="412.72" width="6.2" height="13.89" fill="#8d7ffd"/>
<rect x="541" y="389.57" width="6.2" height="23.15" fill="#8d7ffd"/>
<rect x="541" y="339.16" width="6.2" height="50.41" fill="#8d7ffd"/>
<rect x="541" y="260.98" width="6.2" height="78.18" fill="#543ffc"/>
<rect x="541" y="254.6" width="6.2" height="6.38" fill="#604cfc"/>
</g>
<g shape-rendering="crispEdges">
<rect x="89" y="545.43" width="3" height="185.17" fill="#fff" fill-opacity="0.17"/>
<rect x="89" y="254.6" width="3" height="290.83" fill="#fff" fill-opacity="0.05"/>
<rect x="84.5" y="722.88" width="180" height="3.09" fill="#fff" fill-opacity="0.17"/>
<rect x="264.5" y="722.88" width="282.7" height="3.09" fill="#fff" fill-opacity="0.05"/>
<rect x="100" y="545.43" width="1" height="185.17" fill="#fff" fill-opacity="0.11"/>
<rect x="100" y="254.6" width="1" height="290.83" fill="#fff" fill-opacity="0.03"/>
<rect x="84.5" y="713.63" width="180" height="1.03" fill="#fff" fill-opacity="0.11"/>
<rect x="264.5" y="713.63" width="282.7" height="1.03" fill="#fff" fill-opacity="0.03"/>
<rect x="107" y="545.43" width="2" height="185.17" fill="#3020ff" fill-opacity="0.13"/>
<rect x="107" y="254.6" width="2" height="290.83" fill="#3020ff" fill-opacity="0.04"/>
<rect x="84.5" y="705.4" width="180" height="2.06" fill="#3020ff" fill-opacity="0.13"/>
<rect x="264.5" y="705.4" width="282.7" height="2.06" fill="#3020ff" fill-opacity="0.04"/>
<rect x="127.5" y="545.43" width="2" height="185.17" fill="#fff" fill-opacity="0.07"/>
<rect x="127.5" y="254.6" width="2" height="290.83" fill="#fff" fill-opacity="0.02"/>
<rect x="84.5" y="684.31" width="180" height="2.06" fill="#fff" fill-opacity="0.07"/>
<rect x="264.5" y="684.31" width="282.7" height="2.06" fill="#fff" fill-opacity="0.02"/>
<rect x="134.5" y="545.43" width="1.5" height="185.17" fill="#fff" fill-opacity="0.16"/>
<rect x="134.5" y="254.6" width="1.5" height="290.83" fill="#fff" fill-opacity="0.05"/>
<rect x="84.5" y="677.62" width="180" height="1.54" fill="#fff" fill-opacity="0.16"/>
<rect x="264.5" y="677.62" width="282.7" height="1.54" fill="#fff" fill-opacity="0.05"/>
<rect x="159.5" y="545.43" width="1.5" height="185.17" fill="#3020ff" fill-opacity="0.08"/>
<rect x="159.5" y="254.6" width="1.5" height="290.83" fill="#3020ff" fill-opacity="0.02"/>
<rect x="84.5" y="651.9" width="180" height="1.54" fill="#3020ff" fill-opacity="0.08"/>
<rect x="264.5" y="651.9" width="282.7" height="1.54" fill="#3020ff" fill-opacity="0.02"/>
<rect x="162" y="545.43" width="2.5" height="185.17" fill="#fff" fill-opacity="0.12"/>
<rect x="162" y="254.6" width="2.5" height="290.83" fill="#fff" fill-opacity="0.04"/>
<rect x="84.5" y="648.3" width="180" height="2.57" fill="#fff" fill-opacity="0.12"/>
<rect x="264.5" y="648.3" width="282.7" height="2.57" fill="#fff" fill-opacity="0.04"/>
<rect x="174" y="545.43" width="1.5" height="185.17" fill="#fff" fill-opacity="0.12"/>
<rect x="174" y="254.6" width="1.5" height="290.83" fill="#fff" fill-opacity="0.04"/>
<rect x="84.5" y="636.98" width="180" height="1.54" fill="#fff" fill-opacity="0.12"/>
<rect x="264.5" y="636.98" width="282.7" height="1.54" fill="#fff" fill-opacity="0.04"/>
<rect x="227" y="545.43" width="1" height="185.17" fill="#3020ff" fill-opacity="0.09"/>
<rect x="227" y="254.6" width="1" height="290.83" fill="#3020ff" fill-opacity="0.03"/>
<rect x="84.5" y="582.98" width="180" height="1.03" fill="#3020ff" fill-opacity="0.09"/>
<rect x="264.5" y="582.98" width="282.7" height="1.03" fill="#3020ff" fill-opacity="0.03"/>
<rect x="238" y="545.43" width="1" height="185.17" fill="#fff" fill-opacity="0.11"/>
<rect x="238" y="254.6" width="1" height="290.83" fill="#fff" fill-opacity="0.03"/>
<rect x="84.5" y="571.66" width="180" height="1.03" fill="#fff" fill-opacity="0.11"/>
<rect x="264.5" y="571.66" width="282.7" height="1.03" fill="#fff" fill-opacity="0.03"/>
<rect x="256" y="545.43" width="1" height="185.17" fill="#3020ff" fill-opacity="0.07"/>
<rect x="256" y="254.6" width="1" height="290.83" fill="#3020ff" fill-opacity="0.02"/>
<rect x="84.5" y="553.14" width="180" height="1.03" fill="#3020ff" fill-opacity="0.07"/>
<rect x="264.5" y="553.14" width="282.7" height="1.03" fill="#3020ff" fill-opacity="0.02"/>
<rect x="262" y="545.43" width="1.5" height="185.17" fill="#fff" fill-opacity="0.07"/>
<rect x="262" y="254.6" width="1.5" height="290.83" fill="#fff" fill-opacity="0.02"/>
<rect x="84.5" y="546.45" width="180" height="1.54" fill="#fff" fill-opacity="0.07"/>
<rect x="264.5" y="546.45" width="282.7" height="1.54" fill="#fff" fill-opacity="0.02"/>
<rect x="264.5" y="486.27" width="2.5" height="59.15" fill="#3020ff" fill-opacity="0.07"/>
<rect x="264.5" y="545.43" width="2.5" height="185.17" fill="#3020ff" fill-opacity="0.02"/>
<rect x="264.5" y="254.6" width="2.5" height="231.67" fill="#3020ff" fill-opacity="0.02"/>
<rect x="264.5" y="542.85" width="57.5" height="2.57" fill="#3020ff" fill-opacity="0.07"/>
<rect x="84.5" y="542.85" width="180" height="2.57" fill="#3020ff" fill-opacity="0.02"/>
<rect x="322" y="542.85" width="225.2" height="2.57" fill="#3020ff" fill-opacity="0.02"/>
<rect x="296" y="486.27" width="1" height="59.15" fill="#fff" fill-opacity="0.20"/>
<rect x="296" y="545.43" width="1" height="185.17" fill="#fff" fill-opacity="0.06"/>
<rect x="296" y="254.6" width="1" height="231.67" fill="#fff" fill-opacity="0.06"/>
<rect x="264.5" y="511.99" width="57.5" height="1.03" fill="#fff" fill-opacity="0.20"/>
<rect x="84.5" y="511.99" width="180" height="1.03" fill="#fff" fill-opacity="0.06"/>
<rect x="322" y="511.99" width="225.2" height="1.03" fill="#fff" fill-opacity="0.06"/>
<rect x="311" y="486.27" width="1" height="59.15" fill="#fff" fill-opacity="0.08"/>
<rect x="311" y="545.43" width="1" height="185.17" fill="#fff" fill-opacity="0.02"/>
<rect x="311" y="254.6" width="1" height="231.67" fill="#fff" fill-opacity="0.02"/>
<rect x="264.5" y="496.56" width="57.5" height="1.03" fill="#fff" fill-opacity="0.08"/>
<rect x="84.5" y="496.56" width="180" height="1.03" fill="#fff" fill-opacity="0.02"/>
<rect x="322" y="496.56" width="225.2" height="1.03" fill="#fff" fill-opacity="0.02"/>
<rect x="320.5" y="486.27" width="1" height="59.15" fill="#3020ff" fill-opacity="0.12"/>
<rect x="320.5" y="545.43" width="1" height="185.17" fill="#3020ff" fill-opacity="0.04"/>
<rect x="320.5" y="254.6" width="1" height="231.67" fill="#3020ff" fill-opacity="0.04"/>
<rect x="264.5" y="486.79" width="57.5" height="1.03" fill="#3020ff" fill-opacity="0.12"/>
<rect x="84.5" y="486.79" width="180" height="1.03" fill="#3020ff" fill-opacity="0.04"/>
<rect x="322" y="486.79" width="225.2" height="1.03" fill="#3020ff" fill-opacity="0.04"/>
<rect x="322" y="254.6" width="2" height="231.67" fill="#3020ff" fill-opacity="0.07"/>
<rect x="322" y="486.27" width="2" height="244.33" fill="#3020ff" fill-opacity="0.02"/>
<rect x="322" y="254.6" width="2" height="0" fill="#3020ff" fill-opacity="0.02"/>
<rect x="322" y="484.22" width="225.2" height="2.06" fill="#3020ff" fill-opacity="0.07"/>
<rect x="84.5" y="484.22" width="237.5" height="2.06" fill="#3020ff" fill-opacity="0.02"/>
<rect x="331" y="254.6" width="2.5" height="231.67" fill="#fff" fill-opacity="0.19"/>
<rect x="331" y="486.27" width="2.5" height="244.33" fill="#fff" fill-opacity="0.06"/>
<rect x="331" y="254.6" width="2.5" height="0" fill="#fff" fill-opacity="0.06"/>
<rect x="322" y="474.44" width="225.2" height="2.57" fill="#fff" fill-opacity="0.19"/>
<rect x="84.5" y="474.44" width="237.5" height="2.57" fill="#fff" fill-opacity="0.06"/>
<rect x="340" y="254.6" width="2.5" height="231.67" fill="#fff" fill-opacity="0.15"/>
<rect x="340" y="486.27" width="2.5" height="244.33" fill="#fff" fill-opacity="0.05"/>
<rect x="340" y="254.6" width="2.5" height="0" fill="#fff" fill-opacity="0.05"/>
<rect x="322" y="465.18" width="225.2" height="2.57" fill="#fff" fill-opacity="0.15"/>
<rect x="84.5" y="465.18" width="237.5" height="2.57" fill="#fff" fill-opacity="0.05"/>
<rect x="359.5" y="254.6" width="3" height="231.67" fill="#3020ff" fill-opacity="0.17"/>
<rect x="359.5" y="486.27" width="3" height="244.33" fill="#3020ff" fill-opacity="0.05"/>
<rect x="359.5" y="254.6" width="3" height="0" fill="#3020ff" fill-opacity="0.05"/>
<rect x="322" y="444.61" width="225.2" height="3.09" fill="#3020ff" fill-opacity="0.17"/>
<rect x="84.5" y="444.61" width="237.5" height="3.09" fill="#3020ff" fill-opacity="0.05"/>
<rect x="371.5" y="254.6" width="3" height="231.67" fill="#fff" fill-opacity="0.05"/>
<rect x="371.5" y="486.27" width="3" height="244.33" fill="#fff" fill-opacity="0.02"/>
<rect x="371.5" y="254.6" width="3" height="0" fill="#fff" fill-opacity="0.02"/>
<rect x="322" y="432.26" width="225.2" height="3.09" fill="#fff" fill-opacity="0.05"/>
<rect x="84.5" y="432.26" width="237.5" height="3.09" fill="#fff" fill-opacity="0.02"/>
<rect x="385" y="254.6" width="1.5" height="231.67" fill="#fff" fill-opacity="0.06"/>
<rect x="385" y="486.27" width="1.5" height="244.33" fill="#fff" fill-opacity="0.02"/>
<rect x="385" y="254.6" width="1.5" height="0" fill="#fff" fill-opacity="0.02"/>
<rect x="322" y="419.92" width="225.2" height="1.54" fill="#fff" fill-opacity="0.06"/>
<rect x="84.5" y="419.92" width="237.5" height="1.54" fill="#fff" fill-opacity="0.02"/>
<rect x="397.5" y="254.6" width="3" height="231.67" fill="#3020ff" fill-opacity="0.15"/>
<rect x="397.5" y="486.27" width="3" height="244.33" fill="#3020ff" fill-opacity="0.05"/>
<rect x="397.5" y="254.6" width="3" height="0" fill="#3020ff" fill-opacity="0.05"/>
<rect x="322" y="405.52" width="225.2" height="3.09" fill="#3020ff" fill-opacity="0.15"/>
<rect x="84.5" y="405.52" width="237.5" height="3.09" fill="#3020ff" fill-opacity="0.05"/>
<rect x="408.5" y="254.6" width="3" height="231.67" fill="#3020ff" fill-opacity="0.17"/>
<rect x="408.5" y="486.27" width="3" height="244.33" fill="#3020ff" fill-opacity="0.05"/>
<rect x="408.5" y="254.6" width="3" height="0" fill="#3020ff" fill-opacity="0.05"/>
<rect x="322" y="394.2" width="225.2" height="3.09" fill="#3020ff" fill-opacity="0.17"/>
<rect x="84.5" y="394.2" width="237.5" height="3.09" fill="#3020ff" fill-opacity="0.05"/>
<rect x="419" y="254.6" width="3" height="231.67" fill="#fff" fill-opacity="0.20"/>
<rect x="419" y="486.27" width="3" height="244.33" fill="#fff" fill-opacity="0.06"/>
<rect x="419" y="254.6" width="3" height="0" fill="#fff" fill-opacity="0.06"/>
<rect x="322" y="383.4" width="225.2" height="3.09" fill="#fff" fill-opacity="0.20"/>
<rect x="84.5" y="383.4" width="237.5" height="3.09" fill="#fff" fill-opacity="0.06"/>
<rect x="457.5" y="254.6" width="1" height="231.67" fill="#fff" fill-opacity="0.08"/>
<rect x="457.5" y="486.27" width="1" height="244.33" fill="#fff" fill-opacity="0.03"/>
<rect x="457.5" y="254.6" width="1" height="0" fill="#fff" fill-opacity="0.03"/>
<rect x="322" y="345.85" width="225.2" height="1.03" fill="#fff" fill-opacity="0.08"/>
<rect x="84.5" y="345.85" width="237.5" height="1.03" fill="#fff" fill-opacity="0.03"/>
<rect x="465" y="254.6" width="1.5" height="231.67" fill="#fff" fill-opacity="0.11"/>
<rect x="465" y="486.27" width="1.5" height="244.33" fill="#fff" fill-opacity="0.03"/>
<rect x="465" y="254.6" width="1.5" height="0" fill="#fff" fill-opacity="0.03"/>
<rect x="322" y="337.62" width="225.2" height="1.54" fill="#fff" fill-opacity="0.11"/>
<rect x="84.5" y="337.62" width="237.5" height="1.54" fill="#fff" fill-opacity="0.03"/>
<rect x="492.5" y="254.6" width="2.5" height="231.67" fill="#fff" fill-opacity="0.11"/>
<rect x="492.5" y="486.27" width="2.5" height="244.33" fill="#fff" fill-opacity="0.04"/>
<rect x="492.5" y="254.6" width="2.5" height="0" fill="#fff" fill-opacity="0.04"/>
<rect x="322" y="308.3" width="225.2" height="2.57" fill="#fff" fill-opacity="0.11"/>
<rect x="84.5" y="308.3" width="237.5" height="2.57" fill="#fff" fill-opacity="0.04"/>
<rect x="496" y="254.6" width="1" height="231.67" fill="#3020ff" fill-opacity="0.12"/>
<rect x="496" y="486.27" width="1" height="244.33" fill="#3020ff" fill-opacity="0.04"/>
<rect x="496" y="254.6" width="1" height="0" fill="#3020ff" fill-opacity="0.04"/>
<rect x="322" y="306.24" width="225.2" height="1.03" fill="#3020ff" fill-opacity="0.12"/>
<rect x="84.5" y="306.24" width="237.5" height="1.03" fill="#3020ff" fill-opacity="0.04"/>
<rect x="503" y="254.6" width="1" height="231.67" fill="#fff" fill-opacity="0.13"/>
<rect x="503" y="486.27" width="1" height="244.33" fill="#fff" fill-opacity="0.04"/>
<rect x="503" y="254.6" width="1" height="0" fill="#fff" fill-opacity="0.04"/>
<rect x="322" y="299.04" width="225.2" height="1.03" fill="#fff" fill-opacity="0.13"/>
<rect x="84.5" y="299.04" width="237.5" height="1.03" fill="#fff" fill-opacity="0.04"/>
<rect x="505" y="254.6" width="2.5" height="231.67" fill="#fff" fill-opacity="0.08"/>
<rect x="505" y="486.27" width="2.5" height="244.33" fill="#fff" fill-opacity="0.02"/>
<rect x="505" y="254.6" width="2.5" height="0" fill="#fff" fill-opacity="0.02"/>
<rect x="322" y="295.44" width="225.2" height="2.57" fill="#fff" fill-opacity="0.08"/>
<rect x="84.5" y="295.44" width="237.5" height="2.57" fill="#fff" fill-opacity="0.02"/>
<rect x="523.5" y="254.6" width="3" height="231.67" fill="#3020ff" fill-opacity="0.13"/>
<rect x="523.5" y="486.27" width="3" height="244.33" fill="#3020ff" fill-opacity="0.04"/>
<rect x="523.5" y="254.6" width="3" height="0" fill="#3020ff" fill-opacity="0.04"/>
<rect x="322" y="275.9" width="225.2" height="3.09" fill="#3020ff" fill-opacity="0.13"/>
<rect x="84.5" y="275.9" width="237.5" height="3.09" fill="#3020ff" fill-opacity="0.04"/>
<rect x="541" y="254.6" width="2" height="231.67" fill="#fff" fill-opacity="0.07"/>
<rect x="541" y="486.27" width="2" height="244.33" fill="#fff" fill-opacity="0.02"/>
<rect x="541" y="254.6" width="2" height="0" fill="#fff" fill-opacity="0.02"/>
<rect x="322" y="258.92" width="225.2" height="2.06" fill="#fff" fill-opacity="0.07"/>
<rect x="84.5" y="258.92" width="237.5" height="2.06" fill="#fff" fill-opacity="0.02"/>
<rect x="544" y="254.6" width="3" height="231.67" fill="#3020ff" fill-opacity="0.06"/>
<rect x="544" y="486.27" width="3" height="244.33" fill="#3020ff" fill-opacity="0.02"/>
<rect x="544" y="254.6" width="3" height="0" fill="#3020ff" fill-opacity="0.02"/>
<rect x="322" y="254.81" width="225.2" height="3.09" fill="#3020ff" fill-opacity="0.06"/>
<rect x="84.5" y="254.81" width="237.5" height="3.09" fill="#3020ff" fill-opacity="0.02"/>
</g>
<line x1="84.5" y1="730.6" x2="547.2" y2="254.6" stroke="#1a00f0" stroke-width="1.3"/>
<rect x="84.5" y="254.6" width="462.7" height="476" fill="none" stroke="#7a70ff" stroke-width="1.2"/>
<polygon points="84.6,127.56 87.85,127.56 87.85,163.98 90.13,165.28 91.11,170.49 92.41,178.94 94.36,186.1 95.33,198.46 97.61,199.76 99.56,203.66 101.51,205.61 102.81,181.54 104.11,176.99 109.32,176.99 109.97,193.9 111.59,194.55 111.92,214.07 113.54,214.07 113.87,150.33 116.47,150.33 116.8,167.24 117.45,194.55 118.42,194.55 119.4,163.33 125.58,163.33 125.58,171.14 126.23,184.8 127.53,174.39 134.03,174.39 135.98,178.29 138.59,180.24 139.89,185.45 143.14,186.75 145.09,189.35 148.34,190.65 148.99,194.55 152.24,196.5 155.5,197.8 160.05,199.76 163.95,204.96 168.5,210.16 173.06,213.41 177.61,216.67 182.81,219.27 189.32,220.57 197.77,221.54 200,221.74 250.08,221.74 250.41,139.92 251.38,139.92 251.38,158.13 253.98,158.13 255.28,175.04 256.59,175.04 256.59,211.46 257.89,211.46 257.89,175.04 261.14,175.04 261.79,178.94 263.09,178.94 263.09,196.5 264.39,196.5 265.04,154.88 268.29,154.88 268.94,175.04 272.2,175.04 273.5,183.5 280,184.15 283.25,192.6 289.76,201.06 289.76,204.96 300.81,219.92 301.79,219.92 301.79,203.66 304.07,203.66 304.07,155.53 306.67,155.53 306.67,159.43 320,160.08 318,159.43 318.98,159.43 318.98,165.93 320.93,165.93 320.93,137.97 324.5,137.97 324.5,141.87 327.76,141.87 327.76,152.28 331.01,152.28 331.01,143.17 333.61,143.17 333.61,157.48 335.56,157.48 335.56,143.17 339.46,143.17 339.46,169.84 343.37,169.84 343.37,170.49 347.92,170.49 347.92,175.04 350.52,175.04 350.52,181.54 353.12,181.54 353.12,186.1 357.02,186.1 357.02,188.05 360.93,188.05 360.93,190.65 366.78,190.65 366.78,199.76 377.84,199.76 377.84,219.92 379.14,219.92 379.14,163.33 383.04,163.33 383.04,168.54 385.64,168.54 385.64,175.04 388.24,175.04 388.24,178.29 393.45,178.29 393.45,179.59 403.85,179.59 403.85,181.54 413.61,181.54 413.61,183.5 432.47,183.5 432.47,192.6 438,192.6 436,192.6 468.52,192.6 468.52,193.9 471.12,196.5 475.02,199.76 476.33,204.31 481.53,205.61 485.43,208.86 491.28,212.76 494.54,215.37 501.04,217.32 507.54,219.92 541.37,219.92 541.37,141.22 546.57,141.22 546.57,158.78 547.54,158.78 547.54,199.11 548.52,199.11 548.52,222.2 548.5,222.5 84.6,222.5" fill="#000"/>
<rect x="105.09" y="163.98" width="1.95" height="13.01" fill="#fff"/>
<rect x="121.02" y="164.31" width="3.9" height="5.85" fill="#fff"/>
<rect x="91.76" y="186.75" width="1.3" height="11.71" fill="#fff"/>
<rect x="90.46" y="178.94" width="0.98" height="7.15" fill="#fff"/>
<rect x="98.26" y="205.61" width="1.3" height="11.71" fill="#fff"/>
<rect x="127.53" y="175.04" width="2.6" height="27.97" fill="#fff"/>
<rect x="135.33" y="180.89" width="1.3" height="18.21" fill="#fff"/>
<rect x="149.64" y="196.5" width="1.3" height="17.56" fill="#fff"/>
<rect x="117.12" y="175.04" width="1.3" height="19.51" fill="#fff"/>
<rect x="122.33" y="175.04" width="1.3" height="23.41" fill="#fff"/>
<rect x="278.7" y="184.15" width="0.98" height="26.02" fill="#fff"/>
<rect x="307.32" y="160.73" width="1.95" height="10.41" fill="#fff"/>
<rect x="310.24" y="161.38" width="5.53" height="37.72" fill="#fff"/>
<rect x="283.9" y="196.5" width="4.88" height="4.55" fill="#fff"/>
<rect x="285.85" y="203.66" width="1.95" height="3.9" fill="#fff"/>
<rect x="306.67" y="168.54" width="1.3" height="3.9" fill="#fff"/>
<rect x="394.1" y="184.15" width="37.72" height="8.13" fill="#fff"/>
<rect x="398.33" y="193.58" width="39.67" height="10.08" fill="#fff"/>
<rect x="399.63" y="206.26" width="4.88" height="13.01" fill="#fff"/>
<rect x="339.46" y="183.5" width="1.95" height="31.22" fill="#fff"/>
<rect x="328.41" y="159.43" width="1.63" height="23.41" fill="#fff"/>
<rect x="344.02" y="182.85" width="1.95" height="7.15" fill="#fff"/>
<rect x="348.57" y="187.4" width="1.95" height="9.11" fill="#fff"/>
<rect x="386.29" y="178.94" width="1.95" height="7.15" fill="#fff"/>
<rect x="390.2" y="180.89" width="2.6" height="17.56" fill="#fff"/>
<rect x="355.07" y="191.95" width="10.41" height="7.48" fill="#fff"/>
<rect x="340.11" y="171.14" width="6.5" height="11.06" fill="#fff"/>
<rect x="345.32" y="175.69" width="3.9" height="5.85" fill="#fff"/>
<rect x="352.47" y="190" width="1.95" height="6.5" fill="#fff"/>
<rect x="436" y="193.9" width="28.62" height="14.96" fill="#fff"/>
<rect x="542.99" y="142.52" width="2.28" height="15.61" fill="#fff"/>
<rect x="545.27" y="159.43" width="1.3" height="11.06" fill="#fff"/>
<rect x="455.51" y="213.41" width="5.2" height="3.25" fill="#fff"/>
<polygon points="358,200.73 374.26,200.73 374.26,219.92 369.06,219.92 358,204.31" fill="#fff"/>
<polygon points="290.73,204.63 300.49,204.63 300.49,218.62" fill="#fff"/>
<line x1="109.3" y1="82.3" x2="316.8" y2="82.3" stroke="#000" stroke-width="1.7" stroke-linecap="square"/>
<line x1="109.3" y1="82.3" x2="109.3" y2="121.6" stroke="#000" stroke-width="1.7" stroke-linecap="square"/>
<line x1="316.8" y1="82.3" x2="316.8" y2="116.5" stroke="#000" stroke-width="1.7" stroke-linecap="square"/>
<line x1="84.9" y1="121.5" x2="134" y2="121.5" stroke="#000" stroke-width="1.7" stroke-linecap="square"/>
<line x1="84.9" y1="121.5" x2="84.9" y2="128" stroke="#000" stroke-width="1.7" stroke-linecap="square"/>
<line x1="133.6" y1="121.5" x2="133.6" y2="127.6" stroke="#000" stroke-width="1.7" stroke-linecap="square"/>
<line x1="86" y1="127.6" x2="180.2" y2="127.6" stroke="#000" stroke-width="1.7" stroke-linecap="square"/>
<line x1="180.2" y1="127.6" x2="180.2" y2="139.9" stroke="#000" stroke-width="1.7" stroke-linecap="square"/>
<line x1="106" y1="139.9" x2="253.3" y2="139.9" stroke="#000" stroke-width="1.7" stroke-linecap="square"/>
<line x1="106" y1="139.9" x2="106" y2="147.7" stroke="#000" stroke-width="1.7" stroke-linecap="square"/>
<line x1="96.6" y1="147.7" x2="116.5" y2="147.7" stroke="#000" stroke-width="1.7" stroke-linecap="square"/>
<line x1="96.6" y1="147.7" x2="96.6" y2="157.5" stroke="#000" stroke-width="1.7" stroke-linecap="square"/>
<line x1="87.9" y1="157.5" x2="106.4" y2="157.5" stroke="#000" stroke-width="1.7" stroke-linecap="square"/>
<line x1="106.4" y1="157.5" x2="106.4" y2="164" stroke="#000" stroke-width="1.7" stroke-linecap="square"/>
<line x1="116.5" y1="147.7" x2="116.5" y2="151" stroke="#000" stroke-width="1.7" stroke-linecap="square"/>
<line x1="253.3" y1="139.9" x2="253.3" y2="142" stroke="#000" stroke-width="1.7" stroke-linecap="square"/>
<line x1="277.4" y1="116.5" x2="356" y2="116.5" stroke="#000" stroke-width="1.7" stroke-linecap="square"/>
<line x1="277.4" y1="116.5" x2="277.4" y2="136.3" stroke="#000" stroke-width="1.7" stroke-linecap="square"/>
<line x1="267.3" y1="136.3" x2="289.8" y2="136.3" stroke="#000" stroke-width="1.7" stroke-linecap="square"/>
<line x1="267.3" y1="136.3" x2="267.3" y2="153" stroke="#000" stroke-width="1.7" stroke-linecap="square"/>
<line x1="289.8" y1="136.3" x2="289.8" y2="152.3" stroke="#000" stroke-width="1.7" stroke-linecap="square"/>
<line x1="267.3" y1="152.3" x2="309.3" y2="152.3" stroke="#000" stroke-width="1.7" stroke-linecap="square"/>
<line x1="309.3" y1="152.3" x2="309.3" y2="156" stroke="#000" stroke-width="1.7" stroke-linecap="square"/>
<line x1="355.7" y1="116.5" x2="355.7" y2="125.6" stroke="#000" stroke-width="1.7" stroke-linecap="square"/>
<line x1="322.6" y1="125.6" x2="387.3" y2="125.6" stroke="#000" stroke-width="1.7" stroke-linecap="square"/>
<line x1="322.6" y1="125.6" x2="322.6" y2="138.5" stroke="#000" stroke-width="1.7" stroke-linecap="square"/>
<line x1="387.3" y1="125.6" x2="387.3" y2="130.8" stroke="#000" stroke-width="1.7" stroke-linecap="square"/>
<line x1="333" y1="130.8" x2="544" y2="130.8" stroke="#000" stroke-width="1.7" stroke-linecap="square"/>
<line x1="333" y1="130.8" x2="333" y2="143.5" stroke="#000" stroke-width="1.7" stroke-linecap="square"/>
<line x1="339.1" y1="131" x2="339.1" y2="143.5" stroke="#000" stroke-width="1.7" stroke-linecap="square"/>
<line x1="335.6" y1="143.2" x2="343.4" y2="143.2" stroke="#000" stroke-width="1.7" stroke-linecap="square"/>
<line x1="343.4" y1="143.2" x2="343.4" y2="152.6" stroke="#000" stroke-width="1.7" stroke-linecap="square"/>
<line x1="338.8" y1="152.6" x2="351.2" y2="152.6" stroke="#000" stroke-width="1.7" stroke-linecap="square"/>
<line x1="351.2" y1="152.6" x2="351.2" y2="157.5" stroke="#000" stroke-width="1.7" stroke-linecap="square"/>
<line x1="338.8" y1="157.5" x2="363.5" y2="157.5" stroke="#000" stroke-width="1.7" stroke-linecap="square"/>
<line x1="363.5" y1="157.5" x2="363.5" y2="163.3" stroke="#000" stroke-width="1.7" stroke-linecap="square"/>
<line x1="343.4" y1="163.3" x2="381.7" y2="163.3" stroke="#000" stroke-width="1.7" stroke-linecap="square"/>
<line x1="343.4" y1="163.3" x2="343.4" y2="171" stroke="#000" stroke-width="1.7" stroke-linecap="square"/>
<line x1="381.7" y1="163.3" x2="381.7" y2="165" stroke="#000" stroke-width="1.7" stroke-linecap="square"/>
<line x1="394" y1="183.5" x2="432.5" y2="183.5" stroke="#000" stroke-width="1.7" stroke-linecap="square"/>
<line x1="432.5" y1="183.5" x2="432.5" y2="192.6" stroke="#000" stroke-width="1.7" stroke-linecap="square"/>
<line x1="394" y1="183.5" x2="394" y2="190" stroke="#000" stroke-width="1.7" stroke-linecap="square"/>
<line x1="397" y1="192.6" x2="468.5" y2="192.6" stroke="#000" stroke-width="1.7" stroke-linecap="square"/>
<line x1="357" y1="199.8" x2="375" y2="199.8" stroke="#000" stroke-width="1.7" stroke-linecap="square"/>
<line x1="375" y1="199.8" x2="375" y2="222" stroke="#000" stroke-width="1.7" stroke-linecap="square"/>
<line x1="544" y1="130.8" x2="544" y2="141.5" stroke="#000" stroke-width="1.7" stroke-linecap="square"/>
<line x1="350.5" y1="205.5" x2="350.5" y2="222" stroke="#000" stroke-width="1.7" stroke-linecap="square"/>
<line x1="105.1" y1="163.3" x2="108.3" y2="163.3" stroke="#000" stroke-width="1.7" stroke-linecap="square"/>
<line x1="105.1" y1="163.3" x2="105.1" y2="177" stroke="#000" stroke-width="1.7" stroke-linecap="square"/>
<line x1="108.3" y1="163.3" x2="108.3" y2="177" stroke="#000" stroke-width="1.7" stroke-linecap="square"/>
<polygon points="851.1,900.8 1006.7,900.8 993.7,904.4 987.2,910.1 975.8,919 967.6,932 956.3,946.7 944.9,961.3 935.1,975.9 923.7,992.2 914,1002 902.6,1015 894.5,1023.1 883.1,1032.8 870.1,1044.2 857.1,1055.6 851.1,1061.3 844.1,1065.4 834.3,1073.5 827.8,1077.6 813.2,1080 796.9,1084.1 788.8,1086.2 762.8,1087.3 762.8,1087.7 851.1,1087.7" fill="#c0ebf6"/>
<polygon points="851.1,1087.7 1010.7,1087.9 998.5,1088.3 987.2,1093 975.8,1099.5 964.4,1108.5 956.3,1117.4 946.5,1127.2 940,1136.9 930.2,1149.9 922.1,1166.2 914,1180.8 902.6,1197.1 892.8,1213.3 883.1,1226.3 870.1,1241 860.3,1257.2 851.1,1267 847.3,1273.5 837.6,1284.9 826.2,1291.4 811.5,1301.1 793.7,1310.1 777.4,1316.6 756.3,1319.3 730,1320.6 730,1321 851.1,1321" fill="#9262ae"/>
<polygon points="851.1,1321 992.8,1321.6 980.7,1323.9 964.4,1328 951.4,1333.7 933.5,1341.8 918.9,1348.3 902.6,1356.4 896.1,1361.3 881.5,1369.4 866.8,1373.5 851.1,1377.2 841.6,1377.8 841.6,1378 851.1,1378" fill="#e96f8f"/>
<line x1="761" y1="1397.8" x2="1301.3" y2="1397.8" stroke="#111" stroke-width="2"/>
<line x1="761" y1="1397.8" x2="761" y2="1407.9" stroke="#111" stroke-width="2"/>
<text font-size="16.40" fill="#111" stroke="#111" stroke-width="0.40" transform="translate(743.90 1433.00) scale(1.0000 1)">−0.2</text>
<line x1="851.05" y1="1397.8" x2="851.05" y2="1407.9" stroke="#111" stroke-width="2"/>
<text font-size="16.40" fill="#111" stroke="#111" stroke-width="0.40" transform="translate(839.61 1433.00) scale(1.0000 1)">0.0</text>
<line x1="941.1" y1="1397.8" x2="941.1" y2="1407.9" stroke="#111" stroke-width="2"/>
<text font-size="16.40" fill="#111" stroke="#111" stroke-width="0.40" transform="translate(929.78 1433.00) scale(1.0000 1)">0.2</text>
<line x1="1031.15" y1="1397.8" x2="1031.15" y2="1407.9" stroke="#111" stroke-width="2"/>
<text font-size="16.40" fill="#111" stroke="#111" stroke-width="0.40" transform="translate(1019.67 1433.00) scale(1.0000 1)">0.4</text>
<line x1="1121.2" y1="1397.8" x2="1121.2" y2="1407.9" stroke="#111" stroke-width="2"/>
<text font-size="16.40" fill="#111" stroke="#111" stroke-width="0.40" transform="translate(1109.80 1433.00) scale(1.0000 1)">0.6</text>
<line x1="1211.25" y1="1397.8" x2="1211.25" y2="1407.9" stroke="#111" stroke-width="2"/>
<text font-size="16.40" fill="#111" stroke="#111" stroke-width="0.40" transform="translate(1199.85 1433.00) scale(1.0000 1)">0.8</text>
<line x1="1301.3" y1="1397.8" x2="1301.3" y2="1407.9" stroke="#111" stroke-width="2"/>
<text font-size="16.40" fill="#111" stroke="#111" stroke-width="0.40" transform="translate(1289.57 1433.00) scale(1.0000 1)">1.0</text>
<text font-size="16.60" fill="#111" stroke="#111" stroke-width="0.40" transform="translate(949.65 1458.93) scale(1.0000 1)">Silhouette width s</text>
<text font-size="10.50" fill="#111" stroke="#111" stroke-width="0.40" transform="translate(1079.12 1462.70) scale(1.0000 1)">i</text>
<text font-size="16.04" fill="#111" stroke="#111" stroke-width="0.40" transform="translate(729.90 1493.13) scale(1.0280 1)">Average silhouette width :  0.12</text>
<text font-size="17.00" fill="#111" stroke="#111" stroke-width="0.40" transform="translate(729.70 877.90) scale(0.9967 1)">n = 1122</text>
<text font-size="15.51" fill="#111" stroke="#111" stroke-width="0.40" transform="translate(1204.37 872.64) scale(1.0186 1)">3  clusters  C</text>
<text font-size="10.50" fill="#111" stroke="#111" stroke-width="0.40" transform="translate(1297.76 875.29) scale(1.0000 1)">j</text>
<text font-size="16.50" fill="#111" stroke="#111" stroke-width="0.40" transform="translate(1205.41 896.70) scale(1.0000 1)">j :</text>
<text font-size="16.50" fill="#111" stroke="#111" stroke-width="0.40" transform="translate(1227.73 896.70) scale(1.0000 1)">n</text>
<text font-size="10.50" fill="#111" stroke="#111" stroke-width="0.40" transform="translate(1237.56 898.79) scale(1.0000 1)">j</text>
<text font-size="16.50" fill="#111" stroke="#111" stroke-width="0.40" transform="translate(1243.32 896.70) scale(1.0000 1)">|</text>
<text font-size="16.50" fill="#111" stroke="#111" stroke-width="0.40" transform="translate(1250.34 896.70) scale(1.0000 1)">ave</text>
<text font-size="10.50" fill="#111" stroke="#111" stroke-width="0.40" transform="translate(1276.62 899.39) scale(1.0000 1)">i∈C</text>
<text font-size="10.50" fill="#111" stroke="#111" stroke-width="0.40" transform="translate(1300.76 898.79) scale(1.0000 1)">j</text>
<text font-size="16.50" fill="#111" stroke="#111" stroke-width="0.40" transform="translate(1309.81 896.70) scale(1.0000 1)">s</text>
<text font-size="9.50" fill="#111" stroke="#111" stroke-width="0.40" transform="translate(1316.98 900.50) scale(1.0000 1)">i</text>
<text font-size="16.70" fill="#111" stroke="#111" stroke-width="0.40" transform="translate(1209.25 999.10) scale(1.0000 1)">1</text>
<text font-size="16.70" fill="#111" stroke="#111" stroke-width="0.40" transform="translate(1222.50 999.10) scale(1.0000 1)">:</text>
<text font-size="16.70" fill="#111" stroke="#111" stroke-width="0.40" transform="translate(1241.65 999.10) scale(1.0000 1)">439</text>
<text font-size="16.70" fill="#111" stroke="#111" stroke-width="0.40" transform="translate(1278.40 999.10) scale(1.0000 1)">|</text>
<text font-size="16.70" fill="#111" stroke="#111" stroke-width="0.40" transform="translate(1291.63 999.10) scale(1.0000 1)">0.14</text>
<text font-size="16.70" fill="#111" stroke="#111" stroke-width="0.40" transform="translate(1209.66 1208.60) scale(1.0000 1)">2</text>
<text font-size="16.70" fill="#111" stroke="#111" stroke-width="0.40" transform="translate(1222.50 1208.60) scale(1.0000 1)">:</text>
<text font-size="16.70" fill="#111" stroke="#111" stroke-width="0.40" transform="translate(1241.48 1208.60) scale(1.0000 1)">550</text>
<text font-size="16.70" fill="#111" stroke="#111" stroke-width="0.40" transform="translate(1278.40 1208.60) scale(1.0000 1)">|</text>
<text font-size="16.70" fill="#111" stroke="#111" stroke-width="0.40" transform="translate(1291.63 1208.60) scale(1.0000 1)">0.10</text>
<text font-size="16.70" fill="#111" stroke="#111" stroke-width="0.40" transform="translate(1209.83 1354.60) scale(1.0000 1)">3</text>
<text font-size="16.70" fill="#111" stroke="#111" stroke-width="0.40" transform="translate(1222.50 1354.60) scale(1.0000 1)">:</text>
<text font-size="16.70" fill="#111" stroke="#111" stroke-width="0.40" transform="translate(1241.56 1354.60) scale(1.0000 1)">133</text>
<text font-size="16.70" fill="#111" stroke="#111" stroke-width="0.40" transform="translate(1278.40 1354.60) scale(1.0000 1)">|</text>
<text font-size="16.70" fill="#111" stroke="#111" stroke-width="0.40" transform="translate(1291.63 1354.60) scale(1.0000 1)">0.15</text>
<line x1="1543.4" y1="906" x2="1543.4" y2="1245.4" stroke="#111" stroke-width="1.5"/>
<line x1="1528" y1="1245.4" x2="1543.4" y2="1245.4" stroke="#111" stroke-width="1.5"/>
<text font-size="23.00" fill="#111" stroke="#111" stroke-width="0.40" transform="translate(1508.52 1251.84) rotate(-90) scale(1 1.2200)">0</text>
<line x1="1528" y1="1177.52" x2="1543.4" y2="1177.52" stroke="#111" stroke-width="1.5"/>
<text font-size="23.00" fill="#111" stroke="#111" stroke-width="0.40" transform="translate(1508.52 1190.46) rotate(-90) scale(1 1.2200)">20</text>
<line x1="1528" y1="1109.64" x2="1543.4" y2="1109.64" stroke="#111" stroke-width="1.5"/>
<text font-size="23.00" fill="#111" stroke="#111" stroke-width="0.40" transform="translate(1508.52 1122.23) rotate(-90) scale(1 1.2200)">40</text>
<line x1="1528" y1="1041.76" x2="1543.4" y2="1041.76" stroke="#111" stroke-width="1.5"/>
<text font-size="23.00" fill="#111" stroke="#111" stroke-width="0.40" transform="translate(1508.52 1054.70) rotate(-90) scale(1 1.2200)">60</text>
<line x1="1528" y1="973.88" x2="1543.4" y2="973.88" stroke="#111" stroke-width="1.5"/>
<text font-size="23.00" fill="#111" stroke="#111" stroke-width="0.40" transform="translate(1508.52 986.76) rotate(-90) scale(1 1.2200)">80</text>
<line x1="1528" y1="906" x2="1543.4" y2="906" stroke="#111" stroke-width="1.5"/>
<text font-size="23.00" fill="#111" stroke="#111" stroke-width="0.40" transform="translate(1508.52 925.61) rotate(-90) scale(1 1.2200)">100</text>
<text font-size="26.60" fill="#111" stroke="#111" stroke-width="0.40" transform="translate(1447.09 1168.33) rotate(-90) scale(1 0.9691)">Percentage (%)</text>
<rect x="1564.3" y="955.89" width="47.9" height="289.51" fill="#bde9f4" stroke="#111" stroke-width="1.8"/>
<rect x="1612.2" y="1221.64" width="47.4" height="23.76" fill="#8c56a8" stroke="#111" stroke-width="1.8"/>
<rect x="1659.6" y="1219.27" width="48.3" height="26.13" fill="#e8668a" stroke="#111" stroke-width="1.8"/>
<rect x="1755.7" y="1230.47" width="47.9" height="14.93" fill="#bde9f4" stroke="#111" stroke-width="1.8"/>
<rect x="1803.6" y="926.36" width="47.9" height="319.04" fill="#8c56a8" stroke="#111" stroke-width="1.8"/>
<rect x="1851.5" y="1239.29" width="47.5" height="6.11" fill="#e8668a" stroke="#111" stroke-width="1.8"/>
<rect x="1947.2" y="1242.01" width="48.2" height="3.39" fill="#bde9f4" stroke="#111" stroke-width="1.8"/>
<rect x="1995.4" y="1007.82" width="47.5" height="237.58" fill="#8c56a8" stroke="#111" stroke-width="1.8"/>
<rect x="2042.9" y="1145.62" width="48.3" height="99.78" fill="#e8668a" stroke="#111" stroke-width="1.8"/>
<text font-size="45.35" fill="#111" transform="translate(1584.31 1312.55) scale(0.9196 1)">CTS1</text>
<text font-size="45.35" fill="#111" transform="translate(1778.21 1312.55) scale(0.9206 1)">CTS2</text>
<text font-size="45.35" fill="#111" transform="translate(1972.02 1312.55) scale(0.9178 1)">CTS3</text>
<rect x="1622.6" y="1349.6" width="414.2" height="77.9" fill="#fff" stroke="#222" stroke-width="1.4"/>
<text font-size="29.25" fill="#111" font-style="italic" stroke="#111" stroke-width="0.40" transform="translate(1636.25 1377.91) scale(1.1249 1)">de novo</text>
<text font-size="28.57" fill="#111" stroke="#111" stroke-width="0.40" transform="translate(1635.38 1416.71) scale(1.1513 1)">cluster</text>
<rect x="1776.5" y="1369.8" width="34.3" height="34.6" fill="#bde9f4" stroke="#222" stroke-width="1.3"/>
<rect x="1860" y="1370.3" width="35" height="34.6" fill="#8c56a8" stroke="#222" stroke-width="1.3"/>
<rect x="1946.8" y="1369.8" width="34.8" height="34.6" fill="#e8668a" stroke="#222" stroke-width="1.3"/>
<text font-size="36.23" fill="#111" stroke="#111" stroke-width="0.40" transform="translate(1823.94 1399.60) scale(0.6852 1)">1</text>
<text font-size="35.00" fill="#111" stroke="#111" stroke-width="0.40" transform="translate(1906.21 1399.10) scale(1.0801 1)">2</text>
<text font-size="33.52" fill="#111" stroke="#111" stroke-width="0.40" transform="translate(1994.13 1396.86) scale(1.0928 1)">3</text>
<rect x="94" y="1663.4" width="163.1" height="20" fill="#5470b8"/>
<rect x="257.1" y="1663.4" width="71.36" height="20" fill="#b4e282"/>
<rect x="328.46" y="1663.4" width="417.94" height="20" fill="#e8a234"/>
<rect x="98.85" y="1663.4" width="0.5" height="20" fill="#fff" fill-opacity="0.22"/>
<rect x="103.94" y="1663.4" width="0.5" height="20" fill="#fff" fill-opacity="0.22"/>
<rect x="109.04" y="1663.4" width="0.5" height="20" fill="#fff" fill-opacity="0.22"/>
<rect x="114.14" y="1663.4" width="0.5" height="20" fill="#fff" fill-opacity="0.22"/>
<rect x="119.23" y="1663.4" width="0.5" height="20" fill="#fff" fill-opacity="0.22"/>
<rect x="124.33" y="1663.4" width="0.5" height="20" fill="#fff" fill-opacity="0.22"/>
<rect x="129.43" y="1663.4" width="0.5" height="20" fill="#fff" fill-opacity="0.22"/>
<rect x="134.53" y="1663.4" width="0.5" height="20" fill="#fff" fill-opacity="0.22"/>
<rect x="139.62" y="1663.4" width="0.5" height="20" fill="#fff" fill-opacity="0.22"/>
<rect x="144.72" y="1663.4" width="0.5" height="20" fill="#fff" fill-opacity="0.22"/>
<rect x="149.82" y="1663.4" width="0.5" height="20" fill="#fff" fill-opacity="0.22"/>
<rect x="154.91" y="1663.4" width="0.5" height="20" fill="#fff" fill-opacity="0.22"/>
<rect x="160.01" y="1663.4" width="0.5" height="20" fill="#fff" fill-opacity="0.22"/>
<rect x="165.11" y="1663.4" width="0.5" height="20" fill="#fff" fill-opacity="0.22"/>
<rect x="170.2" y="1663.4" width="0.5" height="20" fill="#fff" fill-opacity="0.22"/>
<rect x="175.3" y="1663.4" width="0.5" height="20" fill="#fff" fill-opacity="0.22"/>
<rect x="180.4" y="1663.4" width="0.5" height="20" fill="#fff" fill-opacity="0.22"/>
<rect x="185.49" y="1663.4" width="0.5" height="20" fill="#fff" fill-opacity="0.22"/>
<rect x="190.59" y="1663.4" width="0.5" height="20" fill="#fff" fill-opacity="0.22"/>
<rect x="195.69" y="1663.4" width="0.5" height="20" fill="#fff" fill-opacity="0.22"/>
<rect x="200.78" y="1663.4" width="0.5" height="20" fill="#fff" fill-opacity="0.22"/>
<rect x="205.88" y="1663.4" width="0.5" height="20" fill="#fff" fill-opacity="0.22"/>
<rect x="210.98" y="1663.4" width="0.5" height="20" fill="#fff" fill-opacity="0.22"/>
<rect x="216.07" y="1663.4" width="0.5" height="20" fill="#fff" fill-opacity="0.22"/>
<rect x="221.17" y="1663.4" width="0.5" height="20" fill="#fff" fill-opacity="0.22"/>
<rect x="226.27" y="1663.4" width="0.5" height="20" fill="#fff" fill-opacity="0.22"/>
<rect x="231.37" y="1663.4" width="0.5" height="20" fill="#fff" fill-opacity="0.22"/>
<rect x="236.46" y="1663.4" width="0.5" height="20" fill="#fff" fill-opacity="0.22"/>
<rect x="241.56" y="1663.4" width="0.5" height="20" fill="#fff" fill-opacity="0.22"/>
<rect x="246.66" y="1663.4" width="0.5" height="20" fill="#fff" fill-opacity="0.22"/>
<rect x="251.75" y="1663.4" width="0.5" height="20" fill="#fff" fill-opacity="0.22"/>
<rect x="256.85" y="1663.4" width="0.5" height="20" fill="#fff" fill-opacity="0.22"/>
<rect x="261.95" y="1663.4" width="0.5" height="20" fill="#fff" fill-opacity="0.22"/>
<rect x="267.04" y="1663.4" width="0.5" height="20" fill="#fff" fill-opacity="0.22"/>
<rect x="272.14" y="1663.4" width="0.5" height="20" fill="#fff" fill-opacity="0.22"/>
<rect x="277.24" y="1663.4" width="0.5" height="20" fill="#fff" fill-opacity="0.22"/>
<rect x="282.33" y="1663.4" width="0.5" height="20" fill="#fff" fill-opacity="0.22"/>
<rect x="287.43" y="1663.4" width="0.5" height="20" fill="#fff" fill-opacity="0.22"/>
<rect x="292.53" y="1663.4" width="0.5" height="20" fill="#fff" fill-opacity="0.22"/>
<rect x="297.62" y="1663.4" width="0.5" height="20" fill="#fff" fill-opacity="0.22"/>
<rect x="302.72" y="1663.4" width="0.5" height="20" fill="#fff" fill-opacity="0.22"/>
<rect x="307.82" y="1663.4" width="0.5" height="20" fill="#fff" fill-opacity="0.22"/>
<rect x="312.92" y="1663.4" width="0.5" height="20" fill="#fff" fill-opacity="0.22"/>
<rect x="318.01" y="1663.4" width="0.5" height="20" fill="#fff" fill-opacity="0.22"/>
<rect x="323.11" y="1663.4" width="0.5" height="20" fill="#fff" fill-opacity="0.22"/>
<rect x="328.21" y="1663.4" width="0.5" height="20" fill="#fff" fill-opacity="0.22"/>
<rect x="333.3" y="1663.4" width="0.5" height="20" fill="#fff" fill-opacity="0.22"/>
<rect x="338.4" y="1663.4" width="0.5" height="20" fill="#fff" fill-opacity="0.22"/>
<rect x="343.5" y="1663.4" width="0.5" height="20" fill="#fff" fill-opacity="0.22"/>
<rect x="348.59" y="1663.4" width="0.5" height="20" fill="#fff" fill-opacity="0.22"/>
<rect x="353.69" y="1663.4" width="0.5" height="20" fill="#fff" fill-opacity="0.22"/>
<rect x="358.79" y="1663.4" width="0.5" height="20" fill="#fff" fill-opacity="0.22"/>
<rect x="363.88" y="1663.4" width="0.5" height="20" fill="#fff" fill-opacity="0.22"/>
<rect x="368.98" y="1663.4" width="0.5" height="20" fill="#fff" fill-opacity="0.22"/>
<rect x="374.08" y="1663.4" width="0.5" height="20" fill="#fff" fill-opacity="0.22"/>
<rect x="379.18" y="1663.4" width="0.5" height="20" fill="#fff" fill-opacity="0.22"/>
<rect x="384.27" y="1663.4" width="0.5" height="20" fill="#fff" fill-opacity="0.22"/>
<rect x="389.37" y="1663.4" width="0.5" height="20" fill="#fff" fill-opacity="0.22"/>
<rect x="394.47" y="1663.4" width="0.5" height="20" fill="#fff" fill-opacity="0.22"/>
<rect x="399.56" y="1663.4" width="0.5" height="20" fill="#fff" fill-opacity="0.22"/>
<rect x="404.66" y="1663.4" width="0.5" height="20" fill="#fff" fill-opacity="0.22"/>
<rect x="409.76" y="1663.4" width="0.5" height="20" fill="#fff" fill-opacity="0.22"/>
<rect x="414.85" y="1663.4" width="0.5" height="20" fill="#fff" fill-opacity="0.22"/>
<rect x="419.95" y="1663.4" width="0.5" height="20" fill="#fff" fill-opacity="0.22"/>
<rect x="425.05" y="1663.4" width="0.5" height="20" fill="#fff" fill-opacity="0.22"/>
<rect x="430.14" y="1663.4" width="0.5" height="20" fill="#fff" fill-opacity="0.22"/>
<rect x="435.24" y="1663.4" width="0.5" height="20" fill="#fff" fill-opacity="0.22"/>
<rect x="440.34" y="1663.4" width="0.5" height="20" fill="#fff" fill-opacity="0.22"/>
<rect x="445.43" y="1663.4" width="0.5" height="20" fill="#fff" fill-opacity="0.22"/>
<rect x="450.53" y="1663.4" width="0.5" height="20" fill="#fff" fill-opacity="0.22"/>
<rect x="455.63" y="1663.4" width="0.5" height="20" fill="#fff" fill-opacity="0.22"/>
<rect x="460.72" y="1663.4" width="0.5" height="20" fill="#fff" fill-opacity="0.22"/>
<rect x="465.82" y="1663.4" width="0.5" height="20" fill="#fff" fill-opacity="0.22"/>
<rect x="470.92" y="1663.4" width="0.5" height="20" fill="#fff" fill-opacity="0.22"/>
<rect x="476.02" y="1663.4" width="0.5" height="20" fill="#fff" fill-opacity="0.22"/>
<rect x="481.11" y="1663.4" width="0.5" height="20" fill="#fff" fill-opacity="0.22"/>
<rect x="486.21" y="1663.4" width="0.5" height="20" fill="#fff" fill-opacity="0.22"/>
<rect x="491.31" y="1663.4" width="0.5" height="20" fill="#fff" fill-opacity="0.22"/>
<rect x="496.4" y="1663.4" width="0.5" height="20" fill="#fff" fill-opacity="0.22"/>
<rect x="501.5" y="1663.4" width="0.5" height="20" fill="#fff" fill-opacity="0.22"/>
<rect x="506.6" y="1663.4" width="0.5" height="20" fill="#fff" fill-opacity="0.22"/>
<rect x="511.69" y="1663.4" width="0.5" height="20" fill="#fff" fill-opacity="0.22"/>
<rect x="516.79" y="1663.4" width="0.5" height="20" fill="#fff" fill-opacity="0.22"/>
<rect x="521.89" y="1663.4" width="0.5" height="20" fill="#fff" fill-opacity="0.22"/>
<rect x="526.98" y="1663.4" width="0.5" height="20" fill="#fff" fill-opacity="0.22"/>
<rect x="532.08" y="1663.4" width="0.5" height="20" fill="#fff" fill-opacity="0.22"/>
<rect x="537.18" y="1663.4" width="0.5" height="20" fill="#fff" fill-opacity="0.22"/>
<rect x="542.27" y="1663.4" width="0.5" height="20" fill="#fff" fill-opacity="0.22"/>
<rect x="547.37" y="1663.4" width="0.5" height="20" fill="#fff" fill-opacity="0.22"/>
<rect x="552.47" y="1663.4" width="0.5" height="20" fill="#fff" fill-opacity="0.22"/>
<rect x="557.57" y="1663.4" width="0.5" height="20" fill="#fff" fill-opacity="0.22"/>
<rect x="562.66" y="1663.4" width="0.5" height="20" fill="#fff" fill-opacity="0.22"/>
<rect x="567.76" y="1663.4" width="0.5" height="20" fill="#fff" fill-opacity="0.22"/>
<rect x="572.86" y="1663.4" width="0.5" height="20" fill="#fff" fill-opacity="0.22"/>
<rect x="577.95" y="1663.4" width="0.5" height="20" fill="#fff" fill-opacity="0.22"/>
<rect x="583.05" y="1663.4" width="0.5" height="20" fill="#fff" fill-opacity="0.22"/>
<rect x="588.15" y="1663.4" width="0.5" height="20" fill="#fff" fill-opacity="0.22"/>
<rect x="593.24" y="1663.4" width="0.5" height="20" fill="#fff" fill-opacity="0.22"/>
<rect x="598.34" y="1663.4" width="0.5" height="20" fill="#fff" fill-opacity="0.22"/>
<rect x="603.44" y="1663.4" width="0.5" height="20" fill="#fff" fill-opacity="0.22"/>
<rect x="608.53" y="1663.4" width="0.5" height="20" fill="#fff" fill-opacity="0.22"/>
<rect x="613.63" y="1663.4" width="0.5" height="20" fill="#fff" fill-opacity="0.22"/>
<rect x="618.73" y="1663.4" width="0.5" height="20" fill="#fff" fill-opacity="0.22"/>
<rect x="623.82" y="1663.4" width="0.5" height="20" fill="#fff" fill-opacity="0.22"/>
<rect x="628.92" y="1663.4" width="0.5" height="20" fill="#fff" fill-opacity="0.22"/>
<rect x="634.02" y="1663.4" width="0.5" height="20" fill="#fff" fill-opacity="0.22"/>
<rect x="639.12" y="1663.4" width="0.5" height="20" fill="#fff" fill-opacity="0.22"/>
<rect x="644.21" y="1663.4" width="0.5" height="20" fill="#fff" fill-opacity="0.22"/>
<rect x="649.31" y="1663.4" width="0.5" height="20" fill="#fff" fill-opacity="0.22"/>
<rect x="654.41" y="1663.4" width="0.5" height="20" fill="#fff" fill-opacity="0.22"/>
<rect x="659.5" y="1663.4" width="0.5" height="20" fill="#fff" fill-opacity="0.22"/>
<rect x="664.6" y="1663.4" width="0.5" height="20" fill="#fff" fill-opacity="0.22"/>
<rect x="669.7" y="1663.4" width="0.5" height="20" fill="#fff" fill-opacity="0.22"/>
<rect x="674.79" y="1663.4" width="0.5" height="20" fill="#fff" fill-opacity="0.22"/>
<rect x="679.89" y="1663.4" width="0.5" height="20" fill="#fff" fill-opacity="0.22"/>
<rect x="684.99" y="1663.4" width="0.5" height="20" fill="#fff" fill-opacity="0.22"/>
<rect x="690.08" y="1663.4" width="0.5" height="20" fill="#fff" fill-opacity="0.22"/>
<rect x="695.18" y="1663.4" width="0.5" height="20" fill="#fff" fill-opacity="0.22"/>
<rect x="700.28" y="1663.4" width="0.5" height="20" fill="#fff" fill-opacity="0.22"/>
<rect x="705.38" y="1663.4" width="0.5" height="20" fill="#fff" fill-opacity="0.22"/>
<rect x="710.47" y="1663.4" width="0.5" height="20" fill="#fff" fill-opacity="0.22"/>
<rect x="715.57" y="1663.4" width="0.5" height="20" fill="#fff" fill-opacity="0.22"/>
<rect x="720.67" y="1663.4" width="0.5" height="20" fill="#fff" fill-opacity="0.22"/>
<rect x="725.76" y="1663.4" width="0.5" height="20" fill="#fff" fill-opacity="0.22"/>
<rect x="730.86" y="1663.4" width="0.5" height="20" fill="#fff" fill-opacity="0.22"/>
<rect x="735.96" y="1663.4" width="0.5" height="20" fill="#fff" fill-opacity="0.22"/>
<rect x="741.05" y="1663.4" width="0.5" height="20" fill="#fff" fill-opacity="0.22"/>
<text font-size="25.63" fill="#111" stroke="#111" stroke-width="0.40" transform="translate(146.18 1624.34) scale(0.8722 1)">CTS1</text>
<text font-size="25.77" fill="#111" stroke="#111" stroke-width="0.40" transform="translate(148.97 1654.54) scale(0.9104 1)">n=32</text>
<text font-size="25.63" fill="#111" stroke="#111" stroke-width="0.40" transform="translate(263.44 1624.34) scale(0.9089 1)">CTS2</text>
<text font-size="26.52" fill="#111" stroke="#111" stroke-width="0.40" transform="translate(266.50 1654.80) scale(0.8678 1)">n=14</text>
<text font-size="25.63" fill="#111" stroke="#111" stroke-width="0.40" transform="translate(509.06 1624.34) scale(0.8863 1)">CTS3</text>
<text font-size="25.77" fill="#111" stroke="#111" stroke-width="0.40" transform="translate(511.67 1654.54) scale(0.9159 1)">n=82</text>
<text font-size="20.00" fill="#111" stroke="#111" stroke-width="0.40" transform="translate(752.45 1710.50) scale(0.9700 1)">BTN3A3</text>
<text font-size="20.00" fill="#111" stroke="#111" stroke-width="0.40" transform="translate(752.45 1738.99) scale(0.9700 1)">EPB42</text>
<text font-size="20.00" fill="#111" stroke="#111" stroke-width="0.40" transform="translate(753.13 1767.28) scale(0.9700 1)">SLC4A1</text>
<text font-size="20.00" fill="#111" stroke="#111" stroke-width="0.40" transform="translate(753.03 1795.67) scale(0.9700 1)">GLRX5</text>
<text font-size="20.00" fill="#111" stroke="#111" stroke-width="0.40" transform="translate(752.54 1824.06) scale(0.9700 1)">UBE2H</text>
<text font-size="20.00" fill="#111" stroke="#111" stroke-width="0.40" transform="translate(753.03 1852.45) scale(0.9700 1)">CA1</text>
<text font-size="20.00" fill="#111" stroke="#111" stroke-width="0.40" transform="translate(752.45 1880.84) scale(0.9700 1)">BPGM</text>
<text font-size="20.00" fill="#111" stroke="#111" stroke-width="0.40" transform="translate(752.45 1909.23) scale(0.9700 1)">FECH</text>
<text font-size="20.00" fill="#111" stroke="#111" stroke-width="0.40" transform="translate(753.03 1937.62) scale(0.9700 1)">GADD45A</text>
<text font-size="20.00" fill="#111" stroke="#111" stroke-width="0.40" transform="translate(752.45 1966.01) scale(0.9700 1)">METTL9</text>
<text font-size="20.00" fill="#111" stroke="#111" stroke-width="0.40" transform="translate(753.13 1994.40) scale(0.9700 1)">SNX3</text>
<text font-size="20.00" fill="#111" stroke="#111" stroke-width="0.40" transform="translate(753.13 2022.79) scale(0.9700 1)">STOM</text>
<text font-size="20.00" fill="#111" stroke="#111" stroke-width="0.40" transform="translate(752.45 2051.18) scale(0.9700 1)">HK3</text>
<text font-size="20.00" fill="#111" stroke="#111" stroke-width="0.40" transform="translate(752.45 2079.57) scale(0.9700 1)">PGD</text>
<text font-size="20.00" fill="#111" stroke="#111" stroke-width="0.40" transform="translate(752.45 2107.96) scale(0.9700 1)">NLRC4</text>
<text font-size="20.00" fill="#111" stroke="#111" stroke-width="0.40" transform="translate(753.61 2136.35) scale(0.9700 1)">TDRD9</text>
<text font-size="20.00" fill="#111" stroke="#111" stroke-width="0.40" transform="translate(754.00 2164.74) scale(0.9700 1)">ACER3</text>
<text font-size="20.00" fill="#111" stroke="#111" stroke-width="0.40" transform="translate(753.13 2193.12) scale(0.9700 1)">SERPINB1</text>
<g shape-rendering="crispEdges">
<rect x="94" y="1690.4" width="5.4" height="28.69" fill="#f5d9ae"/>
<rect x="99.1" y="1690.4" width="5.4" height="28.69" fill="#e4e4f0"/>
<rect x="104.19" y="1690.4" width="10.49" height="28.69" fill="#dcdced"/>
<rect x="114.39" y="1690.4" width="10.49" height="28.69" fill="#ebebf2"/>
<rect x="124.58" y="1690.4" width="10.49" height="28.69" fill="#e4e4f0"/>
<rect x="134.78" y="1690.4" width="5.4" height="28.69" fill="#dcdced"/>
<rect x="139.87" y="1690.4" width="20.69" height="28.69" fill="#ebebf2"/>
<rect x="160.26" y="1690.4" width="5.4" height="28.69" fill="#e4e4f0"/>
<rect x="165.36" y="1690.4" width="5.4" height="28.69" fill="#f5d9ae"/>
<rect x="170.45" y="1690.4" width="5.4" height="28.69" fill="#f6e4c7"/>
<rect x="175.55" y="1690.4" width="5.4" height="28.69" fill="#ebebf2"/>
<rect x="180.65" y="1690.4" width="5.4" height="28.69" fill="#e4e4f0"/>
<rect x="185.74" y="1690.4" width="5.4" height="28.69" fill="#ebebf2"/>
<rect x="190.84" y="1690.4" width="5.4" height="28.69" fill="#f6e4c7"/>
<rect x="195.94" y="1690.4" width="5.4" height="28.69" fill="#f3f3f5"/>
<rect x="201.03" y="1690.4" width="15.59" height="28.69" fill="#e4e4f0"/>
<rect x="216.32" y="1690.4" width="15.59" height="28.69" fill="#ebebf2"/>
<rect x="231.62" y="1690.4" width="5.4" height="28.69" fill="#e4e4f0"/>
<rect x="236.71" y="1690.4" width="5.4" height="28.69" fill="#ebebf2"/>
<rect x="241.81" y="1690.4" width="10.49" height="28.69" fill="#e4e4f0"/>
<rect x="252" y="1690.4" width="5.4" height="28.69" fill="#f3f3f5"/>
<rect x="257.1" y="1690.4" width="5.4" height="28.69" fill="#ebebf2"/>
<rect x="262.2" y="1690.4" width="5.4" height="28.69" fill="#f5d9ae"/>
<rect x="267.29" y="1690.4" width="5.4" height="28.69" fill="#f6e4c7"/>
<rect x="272.39" y="1690.4" width="5.4" height="28.69" fill="#e1e1ef"/>
<rect x="277.49" y="1690.4" width="5.4" height="28.69" fill="#f6e4c7"/>
<rect x="282.58" y="1690.4" width="5.4" height="28.69" fill="#e1e1ef"/>
<rect x="287.68" y="1690.4" width="5.4" height="28.69" fill="#f5d9ae"/>
<rect x="292.78" y="1690.4" width="5.4" height="28.69" fill="#e1e1ef"/>
<rect x="297.88" y="1690.4" width="5.4" height="28.69" fill="#f3f3f5"/>
<rect x="302.97" y="1690.4" width="5.4" height="28.69" fill="#e1e1ef"/>
<rect x="308.07" y="1690.4" width="5.4" height="28.69" fill="#ebebf2"/>
<rect x="313.17" y="1690.4" width="10.49" height="28.69" fill="#e1e1ef"/>
<rect x="323.36" y="1690.4" width="5.4" height="28.69" fill="#f3f3f5"/>
<rect x="328.46" y="1690.4" width="5.4" height="28.69" fill="#e8e8f1"/>
<rect x="333.55" y="1690.4" width="5.4" height="28.69" fill="#efeff4"/>
<rect x="338.65" y="1690.4" width="5.4" height="28.69" fill="#f4eee6"/>
<rect x="343.75" y="1690.4" width="5.4" height="28.69" fill="#efeff4"/>
<rect x="348.84" y="1690.4" width="5.4" height="28.69" fill="#e8e8f1"/>
<rect x="353.94" y="1690.4" width="5.4" height="28.69" fill="#efeff4"/>
<rect x="359.04" y="1690.4" width="5.4" height="28.69" fill="#f6e4c7"/>
<rect x="364.13" y="1690.4" width="5.4" height="28.69" fill="#efeff4"/>
<rect x="369.23" y="1690.4" width="10.49" height="28.69" fill="#f6e4c7"/>
<rect x="379.43" y="1690.4" width="5.4" height="28.69" fill="#e0e0ef"/>
<rect x="384.52" y="1690.4" width="5.4" height="28.69" fill="#efeff4"/>
<rect x="389.62" y="1690.4" width="5.4" height="28.69" fill="#f4eee6"/>
<rect x="394.72" y="1690.4" width="5.4" height="28.69" fill="#f5d7a9"/>
<rect x="399.81" y="1690.4" width="5.4" height="28.69" fill="#f6e4c7"/>
<rect x="404.91" y="1690.4" width="10.49" height="28.69" fill="#f4eee6"/>
<rect x="415.1" y="1690.4" width="5.4" height="28.69" fill="#f5d7a9"/>
<rect x="420.2" y="1690.4" width="10.49" height="28.69" fill="#efeff4"/>
<rect x="430.39" y="1690.4" width="5.4" height="28.69" fill="#f6e4c7"/>
<rect x="435.49" y="1690.4" width="25.78" height="28.69" fill="#efeff4"/>
<rect x="460.97" y="1690.4" width="5.4" height="28.69" fill="#f4eee6"/>
<rect x="466.07" y="1690.4" width="10.49" height="28.69" fill="#f5d7a9"/>
<rect x="476.27" y="1690.4" width="5.4" height="28.69" fill="#efeff4"/>
<rect x="481.36" y="1690.4" width="5.4" height="28.69" fill="#f4eee6"/>
<rect x="486.46" y="1690.4" width="5.4" height="28.69" fill="#e8e8f1"/>
<rect x="491.56" y="1690.4" width="5.4" height="28.69" fill="#f4eee6"/>
<rect x="496.65" y="1690.4" width="5.4" height="28.69" fill="#f3c887"/>
<rect x="501.75" y="1690.4" width="5.4" height="28.69" fill="#f6e4c7"/>
<rect x="506.85" y="1690.4" width="5.4" height="28.69" fill="#f5d7a9"/>
<rect x="511.94" y="1690.4" width="5.4" height="28.69" fill="#f6e4c7"/>
<rect x="517.04" y="1690.4" width="5.4" height="28.69" fill="#e0e0ef"/>
<rect x="522.14" y="1690.4" width="5.4" height="28.69" fill="#f6e4c7"/>
<rect x="527.23" y="1690.4" width="5.4" height="28.69" fill="#f4eee6"/>
<rect x="532.33" y="1690.4" width="5.4" height="28.69" fill="#efeff4"/>
<rect x="537.43" y="1690.4" width="5.4" height="28.69" fill="#e8e8f1"/>
<rect x="542.52" y="1690.4" width="5.4" height="28.69" fill="#f3c887"/>
<rect x="547.62" y="1690.4" width="10.49" height="28.69" fill="#f4eee6"/>
<rect x="557.82" y="1690.4" width="5.4" height="28.69" fill="#efeff4"/>
<rect x="562.91" y="1690.4" width="5.4" height="28.69" fill="#e0e0ef"/>
<rect x="568.01" y="1690.4" width="5.4" height="28.69" fill="#f5d7a9"/>
<rect x="573.11" y="1690.4" width="10.49" height="28.69" fill="#e0e0ef"/>
<rect x="583.3" y="1690.4" width="5.4" height="28.69" fill="#efeff4"/>
<rect x="588.4" y="1690.4" width="5.4" height="28.69" fill="#f5d7a9"/>
<rect x="593.49" y="1690.4" width="10.49" height="28.69" fill="#e8e8f1"/>
<rect x="603.69" y="1690.4" width="10.49" height="28.69" fill="#f6e4c7"/>
<rect x="613.88" y="1690.4" width="5.4" height="28.69" fill="#f5d7a9"/>
<rect x="618.98" y="1690.4" width="5.4" height="28.69" fill="#f6e4c7"/>
<rect x="624.07" y="1690.4" width="5.4" height="28.69" fill="#f4eee6"/>
<rect x="629.17" y="1690.4" width="5.4" height="28.69" fill="#f6e4c7"/>
<rect x="634.27" y="1690.4" width="5.4" height="28.69" fill="#e0e0ef"/>
<rect x="639.37" y="1690.4" width="5.4" height="28.69" fill="#f6e4c7"/>
<rect x="644.46" y="1690.4" width="5.4" height="28.69" fill="#efeff4"/>
<rect x="649.56" y="1690.4" width="5.4" height="28.69" fill="#e0e0ef"/>
<rect x="654.66" y="1690.4" width="10.49" height="28.69" fill="#f3c887"/>
<rect x="664.85" y="1690.4" width="5.4" height="28.69" fill="#f6e4c7"/>
<rect x="669.95" y="1690.4" width="10.49" height="28.69" fill="#efeff4"/>
<rect x="680.14" y="1690.4" width="5.4" height="28.69" fill="#f4eee6"/>
<rect x="685.24" y="1690.4" width="5.4" height="28.69" fill="#e0e0ef"/>
<rect x="690.33" y="1690.4" width="5.4" height="28.69" fill="#f5d7a9"/>
<rect x="695.43" y="1690.4" width="5.4" height="28.69" fill="#f3c887"/>
<rect x="700.53" y="1690.4" width="5.4" height="28.69" fill="#e8e8f1"/>
<rect x="705.62" y="1690.4" width="5.4" height="28.69" fill="#f5d7a9"/>
<rect x="710.72" y="1690.4" width="5.4" height="28.69" fill="#f3c887"/>
<rect x="715.82" y="1690.4" width="5.4" height="28.69" fill="#efeff4"/>
<rect x="720.92" y="1690.4" width="10.49" height="28.69" fill="#e8e8f1"/>
<rect x="731.11" y="1690.4" width="5.4" height="28.69" fill="#f6e4c7"/>
<rect x="736.21" y="1690.4" width="5.4" height="28.69" fill="#f4eee6"/>
<rect x="741.3" y="1690.4" width="5.4" height="28.69" fill="#efeff4"/>
<rect x="94" y="1718.79" width="5.4" height="28.69" fill="#eeeef3"/>
<rect x="99.1" y="1718.79" width="5.4" height="28.69" fill="#e3e3f0"/>
<rect x="104.19" y="1718.79" width="5.4" height="28.69" fill="#e8e8f1"/>
<rect x="109.29" y="1718.79" width="5.4" height="28.69" fill="#e6e6f1"/>
<rect x="114.39" y="1718.79" width="5.4" height="28.69" fill="#e4e4f0"/>
<rect x="119.48" y="1718.79" width="5.4" height="28.69" fill="#ececf3"/>
<rect x="124.58" y="1718.79" width="5.4" height="28.69" fill="#eeeef3"/>
<rect x="129.68" y="1718.79" width="5.4" height="28.69" fill="#e8e8f1"/>
<rect x="134.78" y="1718.79" width="5.4" height="28.69" fill="#ededf3"/>
<rect x="139.87" y="1718.79" width="5.4" height="28.69" fill="#e8e8f1"/>
<rect x="144.97" y="1718.79" width="5.4" height="28.69" fill="#ececf3"/>
<rect x="150.07" y="1718.79" width="5.4" height="28.69" fill="#e8e8f1"/>
<rect x="155.16" y="1718.79" width="5.4" height="28.69" fill="#e5e5f0"/>
<rect x="160.26" y="1718.79" width="5.4" height="28.69" fill="#ececf3"/>
<rect x="165.36" y="1718.79" width="5.4" height="28.69" fill="#e8e8f1"/>
<rect x="170.45" y="1718.79" width="5.4" height="28.69" fill="#e4e4f0"/>
<rect x="175.55" y="1718.79" width="5.4" height="28.69" fill="#e9e9f2"/>
<rect x="180.65" y="1718.79" width="5.4" height="28.69" fill="#e7e7f1"/>
<rect x="185.74" y="1718.79" width="5.4" height="28.69" fill="#eaeaf2"/>
<rect x="190.84" y="1718.79" width="5.4" height="28.69" fill="#ececf3"/>
<rect x="195.94" y="1718.79" width="5.4" height="28.69" fill="#e3e3f0"/>
<rect x="201.03" y="1718.79" width="5.4" height="28.69" fill="#eeeef3"/>
<rect x="206.13" y="1718.79" width="5.4" height="28.69" fill="#e7e7f1"/>
<rect x="211.23" y="1718.79" width="5.4" height="28.69" fill="#eaeaf2"/>
<rect x="216.32" y="1718.79" width="5.4" height="28.69" fill="#e5e5f0"/>
<rect x="221.42" y="1718.79" width="5.4" height="28.69" fill="#ededf3"/>
<rect x="226.52" y="1718.79" width="5.4" height="28.69" fill="#f5dbb1"/>
<rect x="231.62" y="1718.79" width="5.4" height="28.69" fill="#eeeef3"/>
<rect x="236.71" y="1718.79" width="5.4" height="28.69" fill="#e7e7f1"/>
<rect x="241.81" y="1718.79" width="5.4" height="28.69" fill="#e4e4f0"/>
<rect x="246.91" y="1718.79" width="5.4" height="28.69" fill="#e7e7f1"/>
<rect x="252" y="1718.79" width="5.4" height="28.69" fill="#ebebf2"/>
<rect x="257.1" y="1718.79" width="5.4" height="28.69" fill="#f1f1f4"/>
<rect x="262.2" y="1718.79" width="5.4" height="28.69" fill="#f4d19b"/>
<rect x="267.29" y="1718.79" width="5.4" height="28.69" fill="#f5e6cc"/>
<rect x="272.39" y="1718.79" width="5.4" height="28.69" fill="#f0f0f4"/>
<rect x="277.49" y="1718.79" width="5.4" height="28.69" fill="#ebac58"/>
<rect x="282.58" y="1718.79" width="5.4" height="28.69" fill="#b35f1c"/>
<rect x="287.68" y="1718.79" width="5.4" height="28.69" fill="#f5e6cd"/>
<rect x="292.78" y="1718.79" width="5.4" height="28.69" fill="#eaaa54"/>
<rect x="297.88" y="1718.79" width="5.4" height="28.69" fill="#f0f0f4"/>
<rect x="302.97" y="1718.79" width="5.4" height="28.69" fill="#f4ede3"/>
<rect x="308.07" y="1718.79" width="5.4" height="28.69" fill="#f5d9ae"/>
<rect x="313.17" y="1718.79" width="5.4" height="28.69" fill="#f5deb8"/>
<rect x="318.26" y="1718.79" width="5.4" height="28.69" fill="#f3f3f5"/>
<rect x="323.36" y="1718.79" width="5.4" height="28.69" fill="#e9a64e"/>
<rect x="328.46" y="1718.79" width="5.4" height="28.69" fill="#e7e7f1"/>
<rect x="333.55" y="1718.79" width="5.4" height="28.69" fill="#eaeaf2"/>
<rect x="338.65" y="1718.79" width="5.4" height="28.69" fill="#ededf3"/>
<rect x="343.75" y="1718.79" width="5.4" height="28.69" fill="#f1f1f4"/>
<rect x="348.84" y="1718.79" width="5.4" height="28.69" fill="#efeff4"/>
<rect x="353.94" y="1718.79" width="5.4" height="28.69" fill="#eaeaf2"/>
<rect x="359.04" y="1718.79" width="5.4" height="28.69" fill="#f5e8d3"/>
<rect x="364.13" y="1718.79" width="5.4" height="28.69" fill="#e6e6f1"/>
<rect x="369.23" y="1718.79" width="5.4" height="28.69" fill="#e5e5f0"/>
<rect x="374.33" y="1718.79" width="5.4" height="28.69" fill="#e8e8f1"/>
<rect x="379.43" y="1718.79" width="5.4" height="28.69" fill="#efeff4"/>
<rect x="384.52" y="1718.79" width="5.4" height="28.69" fill="#f0f0f4"/>
<rect x="389.62" y="1718.79" width="5.4" height="28.69" fill="#e6e6f1"/>
<rect x="394.72" y="1718.79" width="5.4" height="28.69" fill="#e8e8f1"/>
<rect x="399.81" y="1718.79" width="5.4" height="28.69" fill="#e5e5f0"/>
<rect x="404.91" y="1718.79" width="5.4" height="28.69" fill="#f5deb8"/>
<rect x="410.01" y="1718.79" width="10.49" height="28.69" fill="#ededf3"/>
<rect x="420.2" y="1718.79" width="5.4" height="28.69" fill="#ebebf2"/>
<rect x="425.3" y="1718.79" width="5.4" height="28.69" fill="#e6e6f1"/>
<rect x="430.39" y="1718.79" width="5.4" height="28.69" fill="#ececf3"/>
<rect x="435.49" y="1718.79" width="5.4" height="28.69" fill="#f2f2f5"/>
<rect x="440.59" y="1718.79" width="5.4" height="28.69" fill="#ebebf2"/>
<rect x="445.68" y="1718.79" width="5.4" height="28.69" fill="#eaeaf2"/>
<rect x="450.78" y="1718.79" width="5.4" height="28.69" fill="#ededf3"/>
<rect x="455.88" y="1718.79" width="5.4" height="28.69" fill="#efeff4"/>
<rect x="460.97" y="1718.79" width="5.4" height="28.69" fill="#eaeaf2"/>
<rect x="466.07" y="1718.79" width="5.4" height="28.69" fill="#f0f0f4"/>
<rect x="471.17" y="1718.79" width="5.4" height="28.69" fill="#f1f1f4"/>
<rect x="476.27" y="1718.79" width="5.4" height="28.69" fill="#eeeef3"/>
<rect x="481.36" y="1718.79" width="5.4" height="28.69" fill="#ebebf2"/>
<rect x="486.46" y="1718.79" width="5.4" height="28.69" fill="#e8e8f1"/>
<rect x="491.56" y="1718.79" width="5.4" height="28.69" fill="#e7e7f1"/>
<rect x="496.65" y="1718.79" width="5.4" height="28.69" fill="#ededf3"/>
<rect x="501.75" y="1718.79" width="5.4" height="28.69" fill="#f0f0f4"/>
<rect x="506.85" y="1718.79" width="5.4" height="28.69" fill="#eaeaf2"/>
<rect x="511.94" y="1718.79" width="5.4" height="28.69" fill="#f0f0f4"/>
<rect x="517.04" y="1718.79" width="5.4" height="28.69" fill="#eeeef3"/>
<rect x="522.14" y="1718.79" width="5.4" height="28.69" fill="#e8e8f1"/>
<rect x="527.23" y="1718.79" width="5.4" height="28.69" fill="#eaeaf2"/>
<rect x="532.33" y="1718.79" width="5.4" height="28.69" fill="#efeff4"/>
<rect x="537.43" y="1718.79" width="5.4" height="28.69" fill="#e9e9f2"/>
<rect x="542.52" y="1718.79" width="5.4" height="28.69" fill="#ececf3"/>
<rect x="547.62" y="1718.79" width="5.4" height="28.69" fill="#e8e8f1"/>
<rect x="552.72" y="1718.79" width="5.4" height="28.69" fill="#e9e9f2"/>
<rect x="557.82" y="1718.79" width="5.4" height="28.69" fill="#e8e8f1"/>
<rect x="562.91" y="1718.79" width="5.4" height="28.69" fill="#eaeaf2"/>
<rect x="568.01" y="1718.79" width="5.4" height="28.69" fill="#ececf3"/>
<rect x="573.11" y="1718.79" width="5.4" height="28.69" fill="#eaeaf2"/>
<rect x="578.2" y="1718.79" width="5.4" height="28.69" fill="#f5d9ae"/>
<rect x="583.3" y="1718.79" width="5.4" height="28.69" fill="#f1f1f4"/>
<rect x="588.4" y="1718.79" width="5.4" height="28.69" fill="#eaeaf2"/>
<rect x="593.49" y="1718.79" width="5.4" height="28.69" fill="#ededf3"/>
<rect x="598.59" y="1718.79" width="5.4" height="28.69" fill="#ebebf2"/>
<rect x="603.69" y="1718.79" width="5.4" height="28.69" fill="#ececf3"/>
<rect x="608.78" y="1718.79" width="5.4" height="28.69" fill="#e7e7f1"/>
<rect x="613.88" y="1718.79" width="5.4" height="28.69" fill="#e6e6f1"/>
<rect x="618.98" y="1718.79" width="5.4" height="28.69" fill="#eeeef3"/>
<rect x="624.07" y="1718.79" width="5.4" height="28.69" fill="#e7e7f1"/>
<rect x="629.17" y="1718.79" width="5.4" height="28.69" fill="#ededf3"/>
<rect x="634.27" y="1718.79" width="5.4" height="28.69" fill="#f1f1f4"/>
<rect x="639.37" y="1718.79" width="5.4" height="28.69" fill="#eaeaf2"/>
<rect x="644.46" y="1718.79" width="5.4" height="28.69" fill="#efeff4"/>
<rect x="649.56" y="1718.79" width="5.4" height="28.69" fill="#e9e9f2"/>
<rect x="654.66" y="1718.79" width="5.4" height="28.69" fill="#efeff4"/>
<rect x="659.75" y="1718.79" width="5.4" height="28.69" fill="#eeeef3"/>
<rect x="664.85" y="1718.79" width="5.4" height="28.69" fill="#e9e9f2"/>
<rect x="669.95" y="1718.79" width="5.4" height="28.69" fill="#e6e6f1"/>
<rect x="675.04" y="1718.79" width="5.4" height="28.69" fill="#efeff4"/>
<rect x="680.14" y="1718.79" width="10.49" height="28.69" fill="#ebebf2"/>
<rect x="690.33" y="1718.79" width="5.4" height="28.69" fill="#ececf3"/>
<rect x="695.43" y="1718.79" width="10.49" height="28.69" fill="#eaeaf2"/>
<rect x="705.62" y="1718.79" width="5.4" height="28.69" fill="#ededf3"/>
<rect x="710.72" y="1718.79" width="5.4" height="28.69" fill="#ececf3"/>
<rect x="715.82" y="1718.79" width="5.4" height="28.69" fill="#e9e9f2"/>
<rect x="720.92" y="1718.79" width="5.4" height="28.69" fill="#f1f1f4"/>
<rect x="726.01" y="1718.79" width="5.4" height="28.69" fill="#efeff4"/>
<rect x="731.11" y="1718.79" width="5.4" height="28.69" fill="#e8e8f1"/>
<rect x="736.21" y="1718.79" width="5.4" height="28.69" fill="#eaeaf2"/>
<rect x="741.3" y="1718.79" width="5.4" height="28.69" fill="#f1f1f4"/>
<rect x="94" y="1747.18" width="5.4" height="28.69" fill="#e4e4f0"/>
<rect x="99.1" y="1747.18" width="5.4" height="28.69" fill="#ececf3"/>
<rect x="104.19" y="1747.18" width="5.4" height="28.69" fill="#eaeaf2"/>
<rect x="109.29" y="1747.18" width="5.4" height="28.69" fill="#ededf3"/>
<rect x="114.39" y="1747.18" width="5.4" height="28.69" fill="#e9e9f2"/>
<rect x="119.48" y="1747.18" width="5.4" height="28.69" fill="#e7e7f1"/>
<rect x="124.58" y="1747.18" width="5.4" height="28.69" fill="#e9e9f2"/>
<rect x="129.68" y="1747.18" width="5.4" height="28.69" fill="#e6e6f1"/>
<rect x="134.78" y="1747.18" width="5.4" height="28.69" fill="#ededf3"/>
<rect x="139.87" y="1747.18" width="5.4" height="28.69" fill="#f6e2c2"/>
<rect x="144.97" y="1747.18" width="5.4" height="28.69" fill="#e6e6f1"/>
<rect x="150.07" y="1747.18" width="5.4" height="28.69" fill="#e8e8f1"/>
<rect x="155.16" y="1747.18" width="5.4" height="28.69" fill="#ececf3"/>
<rect x="160.26" y="1747.18" width="5.4" height="28.69" fill="#e5e5f0"/>
<rect x="165.36" y="1747.18" width="5.4" height="28.69" fill="#ebebf2"/>
<rect x="170.45" y="1747.18" width="5.4" height="28.69" fill="#f6dfbc"/>
<rect x="175.55" y="1747.18" width="5.4" height="28.69" fill="#eaeaf2"/>
<rect x="180.65" y="1747.18" width="5.4" height="28.69" fill="#ebebf2"/>
<rect x="185.74" y="1747.18" width="5.4" height="28.69" fill="#e7e7f1"/>
<rect x="190.84" y="1747.18" width="5.4" height="28.69" fill="#eaeaf2"/>
<rect x="195.94" y="1747.18" width="5.4" height="28.69" fill="#e4e4f0"/>
<rect x="201.03" y="1747.18" width="5.4" height="28.69" fill="#e9e9f2"/>
<rect x="206.13" y="1747.18" width="5.4" height="28.69" fill="#ececf3"/>
<rect x="211.23" y="1747.18" width="5.4" height="28.69" fill="#e5e5f0"/>
<rect x="216.32" y="1747.18" width="5.4" height="28.69" fill="#e4e4f0"/>
<rect x="221.42" y="1747.18" width="5.4" height="28.69" fill="#ededf3"/>
<rect x="226.52" y="1747.18" width="5.4" height="28.69" fill="#eeeef3"/>
<rect x="231.62" y="1747.18" width="5.4" height="28.69" fill="#eaeaf2"/>
<rect x="236.71" y="1747.18" width="5.4" height="28.69" fill="#e4e4f0"/>
<rect x="241.81" y="1747.18" width="5.4" height="28.69" fill="#e9e9f2"/>
<rect x="246.91" y="1747.18" width="5.4" height="28.69" fill="#ededf3"/>
<rect x="252" y="1747.18" width="5.4" height="28.69" fill="#eaeaf2"/>
<rect x="257.1" y="1747.18" width="5.4" height="28.69" fill="#f2f2f5"/>
<rect x="262.2" y="1747.18" width="5.4" height="28.69" fill="#f5d7a9"/>
<rect x="267.29" y="1747.18" width="5.4" height="28.69" fill="#f4ede4"/>
<rect x="272.39" y="1747.18" width="5.4" height="28.69" fill="#f2f2f5"/>
<rect x="277.49" y="1747.18" width="5.4" height="28.69" fill="#e9a64e"/>
<rect x="282.58" y="1747.18" width="5.4" height="28.69" fill="#aa5a1c"/>
<rect x="287.68" y="1747.18" width="5.4" height="28.69" fill="#f4efe7"/>
<rect x="292.78" y="1747.18" width="5.4" height="28.69" fill="#f4d5a4"/>
<rect x="297.88" y="1747.18" width="5.4" height="28.69" fill="#f3f3f5"/>
<rect x="302.97" y="1747.18" width="5.4" height="28.69" fill="#f4eee5"/>
<rect x="308.07" y="1747.18" width="5.4" height="28.69" fill="#f5dbb3"/>
<rect x="313.17" y="1747.18" width="5.4" height="28.69" fill="#f4d5a4"/>
<rect x="318.26" y="1747.18" width="5.4" height="28.69" fill="#f0f0f4"/>
<rect x="323.36" y="1747.18" width="5.4" height="28.69" fill="#f1bf76"/>
<rect x="328.46" y="1747.18" width="5.4" height="28.69" fill="#ebebf2"/>
<rect x="333.55" y="1747.18" width="5.4" height="28.69" fill="#efeff4"/>
<rect x="338.65" y="1747.18" width="5.4" height="28.69" fill="#e8e8f1"/>
<rect x="343.75" y="1747.18" width="5.4" height="28.69" fill="#e6e6f1"/>
<rect x="348.84" y="1747.18" width="5.4" height="28.69" fill="#eeeef3"/>
<rect x="353.94" y="1747.18" width="5.4" height="28.69" fill="#eaeaf2"/>
<rect x="359.04" y="1747.18" width="5.4" height="28.69" fill="#ededf3"/>
<rect x="364.13" y="1747.18" width="5.4" height="28.69" fill="#f5e8d2"/>
<rect x="369.23" y="1747.18" width="5.4" height="28.69" fill="#efeff4"/>
<rect x="374.33" y="1747.18" width="5.4" height="28.69" fill="#e7e7f1"/>
<rect x="379.43" y="1747.18" width="5.4" height="28.69" fill="#ececf3"/>
<rect x="384.52" y="1747.18" width="5.4" height="28.69" fill="#e9e9f2"/>
<rect x="389.62" y="1747.18" width="5.4" height="28.69" fill="#eeeef3"/>
<rect x="394.72" y="1747.18" width="5.4" height="28.69" fill="#efeff4"/>
<rect x="399.81" y="1747.18" width="5.4" height="28.69" fill="#f1f1f4"/>
<rect x="404.91" y="1747.18" width="5.4" height="28.69" fill="#e8e8f1"/>
<rect x="410.01" y="1747.18" width="5.4" height="28.69" fill="#ececf3"/>
<rect x="415.1" y="1747.18" width="5.4" height="28.69" fill="#eeeef3"/>
<rect x="420.2" y="1747.18" width="5.4" height="28.69" fill="#e7e7f1"/>
<rect x="425.3" y="1747.18" width="5.4" height="28.69" fill="#ededf3"/>
<rect x="430.39" y="1747.18" width="5.4" height="28.69" fill="#efeff4"/>
<rect x="435.49" y="1747.18" width="5.4" height="28.69" fill="#e8e8f1"/>
<rect x="440.59" y="1747.18" width="5.4" height="28.69" fill="#eaeaf2"/>
<rect x="445.68" y="1747.18" width="5.4" height="28.69" fill="#e6e6f1"/>
<rect x="450.78" y="1747.18" width="5.4" height="28.69" fill="#eeeef3"/>
<rect x="455.88" y="1747.18" width="5.4" height="28.69" fill="#e9e9f2"/>
<rect x="460.97" y="1747.18" width="10.49" height="28.69" fill="#e6e6f1"/>
<rect x="471.17" y="1747.18" width="5.4" height="28.69" fill="#eaeaf2"/>
<rect x="476.27" y="1747.18" width="5.4" height="28.69" fill="#ededf3"/>
<rect x="481.36" y="1747.18" width="5.4" height="28.69" fill="#e6e6f1"/>
<rect x="486.46" y="1747.18" width="5.4" height="28.69" fill="#efeff4"/>
<rect x="491.56" y="1747.18" width="5.4" height="28.69" fill="#eeeef3"/>
<rect x="496.65" y="1747.18" width="5.4" height="28.69" fill="#e6e6f1"/>
<rect x="501.75" y="1747.18" width="5.4" height="28.69" fill="#e5e5f0"/>
<rect x="506.85" y="1747.18" width="5.4" height="28.69" fill="#e9e9f2"/>
<rect x="511.94" y="1747.18" width="5.4" height="28.69" fill="#efeff4"/>
<rect x="517.04" y="1747.18" width="10.49" height="28.69" fill="#ececf3"/>
<rect x="527.23" y="1747.18" width="5.4" height="28.69" fill="#e8e8f1"/>
<rect x="532.33" y="1747.18" width="5.4" height="28.69" fill="#e7e7f1"/>
<rect x="537.43" y="1747.18" width="5.4" height="28.69" fill="#ebebf2"/>
<rect x="542.52" y="1747.18" width="5.4" height="28.69" fill="#e8e8f1"/>
<rect x="547.62" y="1747.18" width="5.4" height="28.69" fill="#eeeef3"/>
<rect x="552.72" y="1747.18" width="5.4" height="28.69" fill="#f1f1f4"/>
<rect x="557.82" y="1747.18" width="5.4" height="28.69" fill="#eeeef3"/>
<rect x="562.91" y="1747.18" width="10.49" height="28.69" fill="#eaeaf2"/>
<rect x="573.11" y="1747.18" width="5.4" height="28.69" fill="#e8e8f1"/>
<rect x="578.2" y="1747.18" width="5.4" height="28.69" fill="#ebebf2"/>
<rect x="583.3" y="1747.18" width="5.4" height="28.69" fill="#e6e6f1"/>
<rect x="588.4" y="1747.18" width="5.4" height="28.69" fill="#e7e7f1"/>
<rect x="593.49" y="1747.18" width="10.49" height="28.69" fill="#e5e5f0"/>
<rect x="603.69" y="1747.18" width="5.4" height="28.69" fill="#ebebf2"/>
<rect x="608.78" y="1747.18" width="5.4" height="28.69" fill="#eeeef3"/>
<rect x="613.88" y="1747.18" width="5.4" height="28.69" fill="#ededf3"/>
<rect x="618.98" y="1747.18" width="5.4" height="28.69" fill="#eeeef3"/>
<rect x="624.07" y="1747.18" width="5.4" height="28.69" fill="#ededf3"/>
<rect x="629.17" y="1747.18" width="5.4" height="28.69" fill="#e8e8f1"/>
<rect x="634.27" y="1747.18" width="5.4" height="28.69" fill="#e6e6f1"/>
<rect x="639.37" y="1747.18" width="5.4" height="28.69" fill="#e7e7f1"/>
<rect x="644.46" y="1747.18" width="5.4" height="28.69" fill="#f0f0f4"/>
<rect x="649.56" y="1747.18" width="5.4" height="28.69" fill="#eaeaf2"/>
<rect x="654.66" y="1747.18" width="5.4" height="28.69" fill="#e9e9f2"/>
<rect x="659.75" y="1747.18" width="5.4" height="28.69" fill="#eaeaf2"/>
<rect x="664.85" y="1747.18" width="5.4" height="28.69" fill="#e5e5f0"/>
<rect x="669.95" y="1747.18" width="5.4" height="28.69" fill="#ededf3"/>
<rect x="675.04" y="1747.18" width="5.4" height="28.69" fill="#f1f1f4"/>
<rect x="680.14" y="1747.18" width="5.4" height="28.69" fill="#f0f0f4"/>
<rect x="685.24" y="1747.18" width="5.4" height="28.69" fill="#f1f1f4"/>
<rect x="690.33" y="1747.18" width="5.4" height="28.69" fill="#efeff4"/>
<rect x="695.43" y="1747.18" width="5.4" height="28.69" fill="#ececf3"/>
<rect x="700.53" y="1747.18" width="5.4" height="28.69" fill="#f6e3c4"/>
<rect x="705.62" y="1747.18" width="5.4" height="28.69" fill="#eaeaf2"/>
<rect x="710.72" y="1747.18" width="5.4" height="28.69" fill="#e9e9f2"/>
<rect x="715.82" y="1747.18" width="5.4" height="28.69" fill="#efeff4"/>
<rect x="720.92" y="1747.18" width="5.4" height="28.69" fill="#e6e6f1"/>
<rect x="726.01" y="1747.18" width="5.4" height="28.69" fill="#e9e9f2"/>
<rect x="731.11" y="1747.18" width="5.4" height="28.69" fill="#f1f1f4"/>
<rect x="736.21" y="1747.18" width="5.4" height="28.69" fill="#f5deb9"/>
<rect x="741.3" y="1747.18" width="5.4" height="28.69" fill="#e6e6f1"/>
<rect x="94" y="1775.57" width="5.4" height="28.69" fill="#e7e7f1"/>
<rect x="99.1" y="1775.57" width="5.4" height="28.69" fill="#e8e8f1"/>
<rect x="104.19" y="1775.57" width="5.4" height="28.69" fill="#e9e9f2"/>
<rect x="109.29" y="1775.57" width="5.4" height="28.69" fill="#ececf3"/>
<rect x="114.39" y="1775.57" width="5.4" height="28.69" fill="#e7e7f1"/>
<rect x="119.48" y="1775.57" width="5.4" height="28.69" fill="#e3e3f0"/>
<rect x="124.58" y="1775.57" width="5.4" height="28.69" fill="#ebebf2"/>
<rect x="129.68" y="1775.57" width="5.4" height="28.69" fill="#e4e4f0"/>
<rect x="134.78" y="1775.57" width="5.4" height="28.69" fill="#ececf3"/>
<rect x="139.87" y="1775.57" width="5.4" height="28.69" fill="#e7e7f1"/>
<rect x="144.97" y="1775.57" width="5.4" height="28.69" fill="#e8e8f1"/>
<rect x="150.07" y="1775.57" width="5.4" height="28.69" fill="#e5e5f0"/>
<rect x="155.16" y="1775.57" width="5.4" height="28.69" fill="#e7e7f1"/>
<rect x="160.26" y="1775.57" width="5.4" height="28.69" fill="#ebebf2"/>
<rect x="165.36" y="1775.57" width="5.4" height="28.69" fill="#e6e6f1"/>
<rect x="170.45" y="1775.57" width="5.4" height="28.69" fill="#e8e8f1"/>
<rect x="175.55" y="1775.57" width="10.49" height="28.69" fill="#e7e7f1"/>
<rect x="185.74" y="1775.57" width="5.4" height="28.69" fill="#eeeef3"/>
<rect x="190.84" y="1775.57" width="5.4" height="28.69" fill="#e3e3f0"/>
<rect x="195.94" y="1775.57" width="5.4" height="28.69" fill="#e7e7f1"/>
<rect x="201.03" y="1775.57" width="5.4" height="28.69" fill="#f6e2c2"/>
<rect x="206.13" y="1775.57" width="5.4" height="28.69" fill="#e4e4f0"/>
<rect x="211.23" y="1775.57" width="10.49" height="28.69" fill="#efeff4"/>
<rect x="221.42" y="1775.57" width="5.4" height="28.69" fill="#ececf3"/>
<rect x="226.52" y="1775.57" width="5.4" height="28.69" fill="#eaeaf2"/>
<rect x="231.62" y="1775.57" width="5.4" height="28.69" fill="#e5e5f0"/>
<rect x="236.71" y="1775.57" width="5.4" height="28.69" fill="#e4e4f0"/>
<rect x="241.81" y="1775.57" width="5.4" height="28.69" fill="#e7e7f1"/>
<rect x="246.91" y="1775.57" width="5.4" height="28.69" fill="#e9e9f2"/>
<rect x="252" y="1775.57" width="5.4" height="28.69" fill="#e5e5f0"/>
<rect x="257.1" y="1775.57" width="5.4" height="28.69" fill="#f3f2f3"/>
<rect x="262.2" y="1775.57" width="5.4" height="28.69" fill="#f5d9ae"/>
<rect x="267.29" y="1775.57" width="5.4" height="28.69" fill="#f4eee5"/>
<rect x="272.39" y="1775.57" width="5.4" height="28.69" fill="#f0f0f4"/>
<rect x="277.49" y="1775.57" width="5.4" height="28.69" fill="#e69e40"/>
<rect x="282.58" y="1775.57" width="5.4" height="28.69" fill="#a5571c"/>
<rect x="287.68" y="1775.57" width="5.4" height="28.69" fill="#f4ede1"/>
<rect x="292.78" y="1775.57" width="5.4" height="28.69" fill="#f4d19b"/>
<rect x="297.88" y="1775.57" width="5.4" height="28.69" fill="#f6e6cc"/>
<rect x="302.97" y="1775.57" width="5.4" height="28.69" fill="#f3f3f4"/>
<rect x="308.07" y="1775.57" width="5.4" height="28.69" fill="#f5deb8"/>
<rect x="313.17" y="1775.57" width="5.4" height="28.69" fill="#f5dbb3"/>
<rect x="318.26" y="1775.57" width="5.4" height="28.69" fill="#f0f0f4"/>
<rect x="323.36" y="1775.57" width="5.4" height="28.69" fill="#f5deb8"/>
<rect x="328.46" y="1775.57" width="5.4" height="28.69" fill="#ececf3"/>
<rect x="333.55" y="1775.57" width="5.4" height="28.69" fill="#e8e8f1"/>
<rect x="338.65" y="1775.57" width="15.59" height="28.69" fill="#f0f0f4"/>
<rect x="353.94" y="1775.57" width="5.4" height="28.69" fill="#f2f2f5"/>
<rect x="359.04" y="1775.57" width="5.4" height="28.69" fill="#ececf3"/>
<rect x="364.13" y="1775.57" width="5.4" height="28.69" fill="#efeff4"/>
<rect x="369.23" y="1775.57" width="5.4" height="28.69" fill="#e8e8f1"/>
<rect x="374.33" y="1775.57" width="5.4" height="28.69" fill="#f6e5cb"/>
<rect x="379.43" y="1775.57" width="5.4" height="28.69" fill="#f0f0f4"/>
<rect x="384.52" y="1775.57" width="5.4" height="28.69" fill="#f1f1f4"/>
<rect x="389.62" y="1775.57" width="5.4" height="28.69" fill="#e7e7f1"/>
<rect x="394.72" y="1775.57" width="5.4" height="28.69" fill="#eaeaf2"/>
<rect x="399.81" y="1775.57" width="10.49" height="28.69" fill="#efeff4"/>
<rect x="410.01" y="1775.57" width="5.4" height="28.69" fill="#e7e7f1"/>
<rect x="415.1" y="1775.57" width="5.4" height="28.69" fill="#ededf3"/>
<rect x="420.2" y="1775.57" width="5.4" height="28.69" fill="#e6e6f1"/>
<rect x="425.3" y="1775.57" width="5.4" height="28.69" fill="#f0f0f4"/>
<rect x="430.39" y="1775.57" width="5.4" height="28.69" fill="#ececf3"/>
<rect x="435.49" y="1775.57" width="5.4" height="28.69" fill="#e8e8f1"/>
<rect x="440.59" y="1775.57" width="5.4" height="28.69" fill="#f0f0f4"/>
<rect x="445.68" y="1775.57" width="5.4" height="28.69" fill="#ececf3"/>
<rect x="450.78" y="1775.57" width="5.4" height="28.69" fill="#eeeef3"/>
<rect x="455.88" y="1775.57" width="5.4" height="28.69" fill="#eaeaf2"/>
<rect x="460.97" y="1775.57" width="5.4" height="28.69" fill="#e7e7f1"/>
<rect x="466.07" y="1775.57" width="5.4" height="28.69" fill="#f0f0f4"/>
<rect x="471.17" y="1775.57" width="5.4" height="28.69" fill="#e9e9f2"/>
<rect x="476.27" y="1775.57" width="5.4" height="28.69" fill="#e8e8f1"/>
<rect x="481.36" y="1775.57" width="5.4" height="28.69" fill="#e9e9f2"/>
<rect x="486.46" y="1775.57" width="5.4" height="28.69" fill="#eaeaf2"/>
<rect x="491.56" y="1775.57" width="5.4" height="28.69" fill="#f1f1f4"/>
<rect x="496.65" y="1775.57" width="5.4" height="28.69" fill="#e8e8f1"/>
<rect x="501.75" y="1775.57" width="5.4" height="28.69" fill="#e7e7f1"/>
<rect x="506.85" y="1775.57" width="5.4" height="28.69" fill="#eaeaf2"/>
<rect x="511.94" y="1775.57" width="5.4" height="28.69" fill="#ebebf2"/>
<rect x="517.04" y="1775.57" width="5.4" height="28.69" fill="#f1f1f4"/>
<rect x="522.14" y="1775.57" width="5.4" height="28.69" fill="#f0f0f4"/>
<rect x="527.23" y="1775.57" width="5.4" height="28.69" fill="#ededf3"/>
<rect x="532.33" y="1775.57" width="5.4" height="28.69" fill="#e8e8f1"/>
<rect x="537.43" y="1775.57" width="5.4" height="28.69" fill="#ededf3"/>
<rect x="542.52" y="1775.57" width="5.4" height="28.69" fill="#efeff4"/>
<rect x="547.62" y="1775.57" width="5.4" height="28.69" fill="#ebebf2"/>
<rect x="552.72" y="1775.57" width="5.4" height="28.69" fill="#ededf3"/>
<rect x="557.82" y="1775.57" width="5.4" height="28.69" fill="#f1f1f4"/>
<rect x="562.91" y="1775.57" width="5.4" height="28.69" fill="#efeff4"/>
<rect x="568.01" y="1775.57" width="5.4" height="28.69" fill="#ebebf2"/>
<rect x="573.11" y="1775.57" width="5.4" height="28.69" fill="#e8e8f1"/>
<rect x="578.2" y="1775.57" width="5.4" height="28.69" fill="#e7e7f1"/>
<rect x="583.3" y="1775.57" width="5.4" height="28.69" fill="#eaeaf2"/>
<rect x="588.4" y="1775.57" width="5.4" height="28.69" fill="#ebebf2"/>
<rect x="593.49" y="1775.57" width="5.4" height="28.69" fill="#e8e8f1"/>
<rect x="598.59" y="1775.57" width="5.4" height="28.69" fill="#f1f1f4"/>
<rect x="603.69" y="1775.57" width="5.4" height="28.69" fill="#f5dfba"/>
<rect x="608.78" y="1775.57" width="5.4" height="28.69" fill="#ebebf2"/>
<rect x="613.88" y="1775.57" width="5.4" height="28.69" fill="#e6e6f1"/>
<rect x="618.98" y="1775.57" width="5.4" height="28.69" fill="#e9e9f2"/>
<rect x="624.07" y="1775.57" width="5.4" height="28.69" fill="#eeeef3"/>
<rect x="629.17" y="1775.57" width="5.4" height="28.69" fill="#ebebf2"/>
<rect x="634.27" y="1775.57" width="5.4" height="28.69" fill="#e9e9f2"/>
<rect x="639.37" y="1775.57" width="5.4" height="28.69" fill="#f0f0f4"/>
<rect x="644.46" y="1775.57" width="5.4" height="28.69" fill="#ececf3"/>
<rect x="649.56" y="1775.57" width="5.4" height="28.69" fill="#eeeef3"/>
<rect x="654.66" y="1775.57" width="5.4" height="28.69" fill="#ececf3"/>
<rect x="659.75" y="1775.57" width="5.4" height="28.69" fill="#f0f0f4"/>
<rect x="664.85" y="1775.57" width="10.49" height="28.69" fill="#e8e8f1"/>
<rect x="675.04" y="1775.57" width="5.4" height="28.69" fill="#ebebf2"/>
<rect x="680.14" y="1775.57" width="5.4" height="28.69" fill="#e9e9f2"/>
<rect x="685.24" y="1775.57" width="5.4" height="28.69" fill="#f1f1f4"/>
<rect x="690.33" y="1775.57" width="5.4" height="28.69" fill="#e8e8f1"/>
<rect x="695.43" y="1775.57" width="5.4" height="28.69" fill="#e6e6f1"/>
<rect x="700.53" y="1775.57" width="5.4" height="28.69" fill="#e7e7f1"/>
<rect x="705.62" y="1775.57" width="5.4" height="28.69" fill="#e8e8f1"/>
<rect x="710.72" y="1775.57" width="5.4" height="28.69" fill="#eeeef3"/>
<rect x="715.82" y="1775.57" width="10.49" height="28.69" fill="#ececf3"/>
<rect x="726.01" y="1775.57" width="5.4" height="28.69" fill="#efeff4"/>
<rect x="731.11" y="1775.57" width="5.4" height="28.69" fill="#f0f0f4"/>
<rect x="736.21" y="1775.57" width="5.4" height="28.69" fill="#e9e9f2"/>
<rect x="741.3" y="1775.57" width="5.4" height="28.69" fill="#e7e7f1"/>
<rect x="94" y="1803.96" width="5.4" height="28.69" fill="#f1f1f4"/>
<rect x="99.1" y="1803.96" width="5.4" height="28.69" fill="#f2f2f5"/>
<rect x="104.19" y="1803.96" width="5.4" height="28.69" fill="#f3f3f4"/>
<rect x="109.29" y="1803.96" width="5.4" height="28.69" fill="#f4f0ec"/>
<rect x="114.39" y="1803.96" width="10.49" height="28.69" fill="#f3f0ed"/>
<rect x="124.58" y="1803.96" width="5.4" height="28.69" fill="#f3f1f0"/>
<rect x="129.68" y="1803.96" width="5.4" height="28.69" fill="#f2f2f5"/>
<rect x="134.78" y="1803.96" width="5.4" height="28.69" fill="#f1f1f4"/>
<rect x="139.87" y="1803.96" width="5.4" height="28.69" fill="#f2f2f5"/>
<rect x="144.97" y="1803.96" width="5.4" height="28.69" fill="#f1f1f4"/>
<rect x="150.07" y="1803.96" width="5.4" height="28.69" fill="#f0f0f4"/>
<rect x="155.16" y="1803.96" width="5.4" height="28.69" fill="#f3f2f2"/>
<rect x="160.26" y="1803.96" width="5.4" height="28.69" fill="#f0f0f4"/>
<rect x="165.36" y="1803.96" width="5.4" height="28.69" fill="#f5e7d0"/>
<rect x="170.45" y="1803.96" width="5.4" height="28.69" fill="#f3f1ee"/>
<rect x="175.55" y="1803.96" width="5.4" height="28.69" fill="#f2f2f5"/>
<rect x="180.65" y="1803.96" width="5.4" height="28.69" fill="#f4f0ec"/>
<rect x="185.74" y="1803.96" width="5.4" height="28.69" fill="#f1f1f4"/>
<rect x="190.84" y="1803.96" width="5.4" height="28.69" fill="#f2f2f5"/>
<rect x="195.94" y="1803.96" width="5.4" height="28.69" fill="#f0f0f4"/>
<rect x="201.03" y="1803.96" width="5.4" height="28.69" fill="#f2f2f5"/>
<rect x="206.13" y="1803.96" width="5.4" height="28.69" fill="#f3f1ef"/>
<rect x="211.23" y="1803.96" width="5.4" height="28.69" fill="#f3f1ed"/>
<rect x="216.32" y="1803.96" width="5.4" height="28.69" fill="#f3f2f1"/>
<rect x="221.42" y="1803.96" width="5.4" height="28.69" fill="#f3f1ef"/>
<rect x="226.52" y="1803.96" width="5.4" height="28.69" fill="#f0f0f4"/>
<rect x="231.62" y="1803.96" width="5.4" height="28.69" fill="#f3f2f1"/>
<rect x="236.71" y="1803.96" width="5.4" height="28.69" fill="#f2f2f5"/>
<rect x="241.81" y="1803.96" width="5.4" height="28.69" fill="#f3f3f5"/>
<rect x="246.91" y="1803.96" width="5.4" height="28.69" fill="#f3f1f0"/>
<rect x="252" y="1803.96" width="10.49" height="28.69" fill="#f1f1f4"/>
<rect x="262.2" y="1803.96" width="5.4" height="28.69" fill="#f5ebdb"/>
<rect x="267.29" y="1803.96" width="5.4" height="28.69" fill="#f4ece1"/>
<rect x="272.39" y="1803.96" width="5.4" height="28.69" fill="#f3f1f0"/>
<rect x="277.49" y="1803.96" width="5.4" height="28.69" fill="#f5d7a9"/>
<rect x="282.58" y="1803.96" width="5.4" height="28.69" fill="#a1551c"/>
<rect x="287.68" y="1803.96" width="5.4" height="28.69" fill="#f5e8d2"/>
<rect x="292.78" y="1803.96" width="5.4" height="28.69" fill="#f4d19b"/>
<rect x="297.88" y="1803.96" width="5.4" height="28.69" fill="#f1f1f4"/>
<rect x="302.97" y="1803.96" width="5.4" height="28.69" fill="#f5e8d5"/>
<rect x="308.07" y="1803.96" width="5.4" height="28.69" fill="#f6e4c7"/>
<rect x="313.17" y="1803.96" width="5.4" height="28.69" fill="#f4d5a4"/>
<rect x="318.26" y="1803.96" width="5.4" height="28.69" fill="#f3f0ed"/>
<rect x="323.36" y="1803.96" width="5.4" height="28.69" fill="#ebac58"/>
<rect x="328.46" y="1803.96" width="5.4" height="28.69" fill="#f3f2f2"/>
<rect x="333.55" y="1803.96" width="5.4" height="28.69" fill="#f2f2f5"/>
<rect x="338.65" y="1803.96" width="5.4" height="28.69" fill="#f3f1f0"/>
<rect x="343.75" y="1803.96" width="5.4" height="28.69" fill="#f2f2f5"/>
<rect x="348.84" y="1803.96" width="5.4" height="28.69" fill="#f0f0f4"/>
<rect x="353.94" y="1803.96" width="5.4" height="28.69" fill="#f1f1f4"/>
<rect x="359.04" y="1803.96" width="5.4" height="28.69" fill="#f3f2f2"/>
<rect x="364.13" y="1803.96" width="5.4" height="28.69" fill="#f3f0ed"/>
<rect x="369.23" y="1803.96" width="5.4" height="28.69" fill="#f3f3f5"/>
<rect x="374.33" y="1803.96" width="5.4" height="28.69" fill="#f4f0ec"/>
<rect x="379.43" y="1803.96" width="5.4" height="28.69" fill="#f3f1ef"/>
<rect x="384.52" y="1803.96" width="5.4" height="28.69" fill="#f2f2f5"/>
<rect x="389.62" y="1803.96" width="5.4" height="28.69" fill="#f4f0ec"/>
<rect x="394.72" y="1803.96" width="5.4" height="28.69" fill="#f3f2f3"/>
<rect x="399.81" y="1803.96" width="5.4" height="28.69" fill="#f3f3f3"/>
<rect x="404.91" y="1803.96" width="5.4" height="28.69" fill="#f0f0f4"/>
<rect x="410.01" y="1803.96" width="5.4" height="28.69" fill="#f3f2f3"/>
<rect x="415.1" y="1803.96" width="5.4" height="28.69" fill="#f3f1f0"/>
<rect x="420.2" y="1803.96" width="5.4" height="28.69" fill="#f1f1f4"/>
<rect x="425.3" y="1803.96" width="5.4" height="28.69" fill="#f3f2f2"/>
<rect x="430.39" y="1803.96" width="5.4" height="28.69" fill="#f3f1ee"/>
<rect x="435.49" y="1803.96" width="5.4" height="28.69" fill="#f0f0f4"/>
<rect x="440.59" y="1803.96" width="5.4" height="28.69" fill="#f3f3f5"/>
<rect x="445.68" y="1803.96" width="5.4" height="28.69" fill="#f3f1ee"/>
<rect x="450.78" y="1803.96" width="10.49" height="28.69" fill="#f0f0f4"/>
<rect x="460.97" y="1803.96" width="5.4" height="28.69" fill="#f2f2f5"/>
<rect x="466.07" y="1803.96" width="5.4" height="28.69" fill="#f3f2f1"/>
<rect x="471.17" y="1803.96" width="5.4" height="28.69" fill="#f3f3f5"/>
<rect x="476.27" y="1803.96" width="5.4" height="28.69" fill="#f1f1f4"/>
<rect x="481.36" y="1803.96" width="5.4" height="28.69" fill="#f0f0f4"/>
<rect x="486.46" y="1803.96" width="5.4" height="28.69" fill="#f1f1f4"/>
<rect x="491.56" y="1803.96" width="10.49" height="28.69" fill="#f4f0ec"/>
<rect x="501.75" y="1803.96" width="5.4" height="28.69" fill="#f3f0ed"/>
<rect x="506.85" y="1803.96" width="5.4" height="28.69" fill="#f3f1ed"/>
<rect x="511.94" y="1803.96" width="5.4" height="28.69" fill="#f3f1ef"/>
<rect x="517.04" y="1803.96" width="5.4" height="28.69" fill="#f2f2f5"/>
<rect x="522.14" y="1803.96" width="5.4" height="28.69" fill="#f3f1ee"/>
<rect x="527.23" y="1803.96" width="5.4" height="28.69" fill="#f1f1f4"/>
<rect x="532.33" y="1803.96" width="5.4" height="28.69" fill="#f0f0f4"/>
<rect x="537.43" y="1803.96" width="5.4" height="28.69" fill="#f3f2f2"/>
<rect x="542.52" y="1803.96" width="5.4" height="28.69" fill="#f3f3f5"/>
<rect x="547.62" y="1803.96" width="5.4" height="28.69" fill="#f1f1f4"/>
<rect x="552.72" y="1803.96" width="5.4" height="28.69" fill="#f3f1ef"/>
<rect x="557.82" y="1803.96" width="5.4" height="28.69" fill="#f0f0f4"/>
<rect x="562.91" y="1803.96" width="10.49" height="28.69" fill="#f2f2f5"/>
<rect x="573.11" y="1803.96" width="5.4" height="28.69" fill="#f3f2f2"/>
<rect x="578.2" y="1803.96" width="5.4" height="28.69" fill="#f3f3f5"/>
<rect x="583.3" y="1803.96" width="5.4" height="28.69" fill="#f3f3f4"/>
<rect x="588.4" y="1803.96" width="5.4" height="28.69" fill="#f2f2f5"/>
<rect x="593.49" y="1803.96" width="5.4" height="28.69" fill="#f3f2f1"/>
<rect x="598.59" y="1803.96" width="5.4" height="28.69" fill="#f3f3f5"/>
<rect x="603.69" y="1803.96" width="5.4" height="28.69" fill="#f1f1f4"/>
<rect x="608.78" y="1803.96" width="5.4" height="28.69" fill="#f3f3f5"/>
<rect x="613.88" y="1803.96" width="5.4" height="28.69" fill="#f4f0ec"/>
<rect x="618.98" y="1803.96" width="5.4" height="28.69" fill="#f3f3f4"/>
<rect x="624.07" y="1803.96" width="5.4" height="28.69" fill="#f1f1f4"/>
<rect x="629.17" y="1803.96" width="5.4" height="28.69" fill="#f3f2f2"/>
<rect x="634.27" y="1803.96" width="5.4" height="28.69" fill="#f3f2f1"/>
<rect x="639.37" y="1803.96" width="5.4" height="28.69" fill="#f2f2f5"/>
<rect x="644.46" y="1803.96" width="5.4" height="28.69" fill="#f3f3f4"/>
<rect x="649.56" y="1803.96" width="5.4" height="28.69" fill="#f3f2f3"/>
<rect x="654.66" y="1803.96" width="5.4" height="28.69" fill="#f4f0eb"/>
<rect x="659.75" y="1803.96" width="5.4" height="28.69" fill="#f2f2f5"/>
<rect x="664.85" y="1803.96" width="5.4" height="28.69" fill="#f1f1f4"/>
<rect x="669.95" y="1803.96" width="5.4" height="28.69" fill="#f0f0f4"/>
<rect x="675.04" y="1803.96" width="5.4" height="28.69" fill="#f1f1f4"/>
<rect x="680.14" y="1803.96" width="5.4" height="28.69" fill="#f4f0ec"/>
<rect x="685.24" y="1803.96" width="5.4" height="28.69" fill="#f1f1f4"/>
<rect x="690.33" y="1803.96" width="5.4" height="28.69" fill="#f3f3f4"/>
<rect x="695.43" y="1803.96" width="5.4" height="28.69" fill="#f4f0eb"/>
<rect x="700.53" y="1803.96" width="10.49" height="28.69" fill="#f3f1ef"/>
<rect x="710.72" y="1803.96" width="10.49" height="28.69" fill="#f3f3f5"/>
<rect x="720.92" y="1803.96" width="5.4" height="28.69" fill="#f3f1ef"/>
<rect x="726.01" y="1803.96" width="5.4" height="28.69" fill="#f1f1f4"/>
<rect x="731.11" y="1803.96" width="5.4" height="28.69" fill="#f2f2f5"/>
<rect x="736.21" y="1803.96" width="5.4" height="28.69" fill="#f1f1f4"/>
<rect x="741.3" y="1803.96" width="5.4" height="28.69" fill="#f3f3f5"/>
<rect x="94" y="1832.35" width="5.4" height="28.69" fill="#f1f1f4"/>
<rect x="99.1" y="1832.35" width="5.4" height="28.69" fill="#f3f3f4"/>
<rect x="104.19" y="1832.35" width="5.4" height="28.69" fill="#f3f3f5"/>
<rect x="109.29" y="1832.35" width="5.4" height="28.69" fill="#f3f3f4"/>
<rect x="114.39" y="1832.35" width="5.4" height="28.69" fill="#f1f1f4"/>
<rect x="119.48" y="1832.35" width="5.4" height="28.69" fill="#f6e1c0"/>
<rect x="124.58" y="1832.35" width="5.4" height="28.69" fill="#f3f2f1"/>
<rect x="129.68" y="1832.35" width="5.4" height="28.69" fill="#f3f3f5"/>
<rect x="134.78" y="1832.35" width="5.4" height="28.69" fill="#f3f2f3"/>
<rect x="139.87" y="1832.35" width="5.4" height="28.69" fill="#f3f3f5"/>
<rect x="144.97" y="1832.35" width="5.4" height="28.69" fill="#f3f1ef"/>
<rect x="150.07" y="1832.35" width="5.4" height="28.69" fill="#f2f2f5"/>
<rect x="155.16" y="1832.35" width="5.4" height="28.69" fill="#f3f1ef"/>
<rect x="160.26" y="1832.35" width="5.4" height="28.69" fill="#f3f3f5"/>
<rect x="165.36" y="1832.35" width="15.59" height="28.69" fill="#f1f1f4"/>
<rect x="180.65" y="1832.35" width="5.4" height="28.69" fill="#f4f0ec"/>
<rect x="185.74" y="1832.35" width="5.4" height="28.69" fill="#f3f3f5"/>
<rect x="190.84" y="1832.35" width="5.4" height="28.69" fill="#f3f1ef"/>
<rect x="195.94" y="1832.35" width="5.4" height="28.69" fill="#f3f1f0"/>
<rect x="201.03" y="1832.35" width="20.69" height="28.69" fill="#f2f2f5"/>
<rect x="221.42" y="1832.35" width="5.4" height="28.69" fill="#f3f3f5"/>
<rect x="226.52" y="1832.35" width="5.4" height="28.69" fill="#f3f1ef"/>
<rect x="231.62" y="1832.35" width="5.4" height="28.69" fill="#f3f2f1"/>
<rect x="236.71" y="1832.35" width="5.4" height="28.69" fill="#f1f1f4"/>
<rect x="241.81" y="1832.35" width="10.49" height="28.69" fill="#f3f3f5"/>
<rect x="252" y="1832.35" width="5.4" height="28.69" fill="#f6e4c6"/>
<rect x="257.1" y="1832.35" width="5.4" height="28.69" fill="#efeff4"/>
<rect x="262.2" y="1832.35" width="5.4" height="28.69" fill="#f5e9d6"/>
<rect x="267.29" y="1832.35" width="5.4" height="28.69" fill="#f4ede1"/>
<rect x="272.39" y="1832.35" width="5.4" height="28.69" fill="#f2f2f5"/>
<rect x="277.49" y="1832.35" width="5.4" height="28.69" fill="#f4d19b"/>
<rect x="282.58" y="1832.35" width="5.4" height="28.69" fill="#bc661e"/>
<rect x="287.68" y="1832.35" width="5.4" height="28.69" fill="#f2f2f5"/>
<rect x="292.78" y="1832.35" width="5.4" height="28.69" fill="#d58329"/>
<rect x="297.88" y="1832.35" width="5.4" height="28.69" fill="#f5eadb"/>
<rect x="302.97" y="1832.35" width="5.4" height="28.69" fill="#f4eee6"/>
<rect x="308.07" y="1832.35" width="5.4" height="28.69" fill="#f6e2c2"/>
<rect x="313.17" y="1832.35" width="5.4" height="28.69" fill="#f6e6cc"/>
<rect x="318.26" y="1832.35" width="5.4" height="28.69" fill="#f4eee7"/>
<rect x="323.36" y="1832.35" width="5.4" height="28.69" fill="#e4993a"/>
<rect x="328.46" y="1832.35" width="10.49" height="28.69" fill="#f2f2f5"/>
<rect x="338.65" y="1832.35" width="5.4" height="28.69" fill="#f1f1f4"/>
<rect x="343.75" y="1832.35" width="5.4" height="28.69" fill="#f3f2f3"/>
<rect x="348.84" y="1832.35" width="5.4" height="28.69" fill="#f4f0ec"/>
<rect x="353.94" y="1832.35" width="5.4" height="28.69" fill="#f1f1f4"/>
<rect x="359.04" y="1832.35" width="5.4" height="28.69" fill="#f3f1ef"/>
<rect x="364.13" y="1832.35" width="5.4" height="28.69" fill="#f0f0f4"/>
<rect x="369.23" y="1832.35" width="5.4" height="28.69" fill="#f3f3f4"/>
<rect x="374.33" y="1832.35" width="5.4" height="28.69" fill="#f1f1f4"/>
<rect x="379.43" y="1832.35" width="5.4" height="28.69" fill="#f2f2f5"/>
<rect x="384.52" y="1832.35" width="5.4" height="28.69" fill="#f3f3f5"/>
<rect x="389.62" y="1832.35" width="10.49" height="28.69" fill="#f1f1f4"/>
<rect x="399.81" y="1832.35" width="5.4" height="28.69" fill="#f0f0f4"/>
<rect x="404.91" y="1832.35" width="5.4" height="28.69" fill="#f3f2f3"/>
<rect x="410.01" y="1832.35" width="5.4" height="28.69" fill="#f3f2f2"/>
<rect x="415.1" y="1832.35" width="5.4" height="28.69" fill="#f3f3f5"/>
<rect x="420.2" y="1832.35" width="5.4" height="28.69" fill="#f1f1f4"/>
<rect x="425.3" y="1832.35" width="5.4" height="28.69" fill="#f3f3f4"/>
<rect x="430.39" y="1832.35" width="5.4" height="28.69" fill="#f1f1f4"/>
<rect x="435.49" y="1832.35" width="5.4" height="28.69" fill="#f3f2f0"/>
<rect x="440.59" y="1832.35" width="5.4" height="28.69" fill="#f3f3f5"/>
<rect x="445.68" y="1832.35" width="10.49" height="28.69" fill="#f2f2f5"/>
<rect x="455.88" y="1832.35" width="5.4" height="28.69" fill="#f0f0f4"/>
<rect x="460.97" y="1832.35" width="5.4" height="28.69" fill="#f3f2f1"/>
<rect x="466.07" y="1832.35" width="5.4" height="28.69" fill="#f2f2f5"/>
<rect x="471.17" y="1832.35" width="5.4" height="28.69" fill="#f0f0f4"/>
<rect x="476.27" y="1832.35" width="5.4" height="28.69" fill="#f4f0ec"/>
<rect x="481.36" y="1832.35" width="5.4" height="28.69" fill="#f0f0f4"/>
<rect x="486.46" y="1832.35" width="5.4" height="28.69" fill="#f3f2f1"/>
<rect x="491.56" y="1832.35" width="5.4" height="28.69" fill="#f1f1f4"/>
<rect x="496.65" y="1832.35" width="5.4" height="28.69" fill="#f0f0f4"/>
<rect x="501.75" y="1832.35" width="5.4" height="28.69" fill="#f3f2f2"/>
<rect x="506.85" y="1832.35" width="5.4" height="28.69" fill="#f3f1ee"/>
<rect x="511.94" y="1832.35" width="5.4" height="28.69" fill="#f2f2f5"/>
<rect x="517.04" y="1832.35" width="5.4" height="28.69" fill="#f0f0f4"/>
<rect x="522.14" y="1832.35" width="5.4" height="28.69" fill="#f1f1f4"/>
<rect x="527.23" y="1832.35" width="5.4" height="28.69" fill="#f2f2f5"/>
<rect x="532.33" y="1832.35" width="5.4" height="28.69" fill="#f0f0f4"/>
<rect x="537.43" y="1832.35" width="5.4" height="28.69" fill="#f3f1ee"/>
<rect x="542.52" y="1832.35" width="5.4" height="28.69" fill="#f3f3f5"/>
<rect x="547.62" y="1832.35" width="5.4" height="28.69" fill="#f0f0f4"/>
<rect x="552.72" y="1832.35" width="5.4" height="28.69" fill="#f3f3f5"/>
<rect x="557.82" y="1832.35" width="5.4" height="28.69" fill="#f0f0f4"/>
<rect x="562.91" y="1832.35" width="10.49" height="28.69" fill="#f3f3f5"/>
<rect x="573.11" y="1832.35" width="5.4" height="28.69" fill="#f2f2f5"/>
<rect x="578.2" y="1832.35" width="5.4" height="28.69" fill="#f3f1ef"/>
<rect x="583.3" y="1832.35" width="5.4" height="28.69" fill="#f1f1f4"/>
<rect x="588.4" y="1832.35" width="5.4" height="28.69" fill="#f3f2f3"/>
<rect x="593.49" y="1832.35" width="5.4" height="28.69" fill="#f3f3f5"/>
<rect x="598.59" y="1832.35" width="5.4" height="28.69" fill="#f0f0f4"/>
<rect x="603.69" y="1832.35" width="5.4" height="28.69" fill="#f3f3f5"/>
<rect x="608.78" y="1832.35" width="5.4" height="28.69" fill="#f0f0f4"/>
<rect x="613.88" y="1832.35" width="5.4" height="28.69" fill="#f2f2f5"/>
<rect x="618.98" y="1832.35" width="5.4" height="28.69" fill="#f3f3f5"/>
<rect x="624.07" y="1832.35" width="5.4" height="28.69" fill="#f0f0f4"/>
<rect x="629.17" y="1832.35" width="5.4" height="28.69" fill="#f3f1ee"/>
<rect x="634.27" y="1832.35" width="5.4" height="28.69" fill="#f3f3f5"/>
<rect x="639.37" y="1832.35" width="10.49" height="28.69" fill="#f3f1ef"/>
<rect x="649.56" y="1832.35" width="5.4" height="28.69" fill="#f1f1f4"/>
<rect x="654.66" y="1832.35" width="5.4" height="28.69" fill="#f3f2f3"/>
<rect x="659.75" y="1832.35" width="5.4" height="28.69" fill="#f4f0eb"/>
<rect x="664.85" y="1832.35" width="5.4" height="28.69" fill="#f4f0ec"/>
<rect x="669.95" y="1832.35" width="5.4" height="28.69" fill="#f3f1ef"/>
<rect x="675.04" y="1832.35" width="5.4" height="28.69" fill="#f4f0eb"/>
<rect x="680.14" y="1832.35" width="5.4" height="28.69" fill="#f3f3f5"/>
<rect x="685.24" y="1832.35" width="5.4" height="28.69" fill="#f3f2f3"/>
<rect x="690.33" y="1832.35" width="5.4" height="28.69" fill="#f4f0ec"/>
<rect x="695.43" y="1832.35" width="5.4" height="28.69" fill="#f1f1f4"/>
<rect x="700.53" y="1832.35" width="5.4" height="28.69" fill="#f0f0f4"/>
<rect x="705.62" y="1832.35" width="5.4" height="28.69" fill="#f3f3f5"/>
<rect x="710.72" y="1832.35" width="5.4" height="28.69" fill="#f2f2f5"/>
<rect x="715.82" y="1832.35" width="5.4" height="28.69" fill="#f3f0ed"/>
<rect x="720.92" y="1832.35" width="5.4" height="28.69" fill="#f3f3f4"/>
<rect x="726.01" y="1832.35" width="5.4" height="28.69" fill="#f0f0f4"/>
<rect x="731.11" y="1832.35" width="5.4" height="28.69" fill="#f3f2f1"/>
<rect x="736.21" y="1832.35" width="5.4" height="28.69" fill="#f3f3f5"/>
<rect x="741.3" y="1832.35" width="5.4" height="28.69" fill="#f3f3f4"/>
<rect x="94" y="1860.74" width="5.4" height="28.69" fill="#f4f0ec"/>
<rect x="99.1" y="1860.74" width="5.4" height="28.69" fill="#f3f2f2"/>
<rect x="104.19" y="1860.74" width="10.49" height="28.69" fill="#f2f2f5"/>
<rect x="114.39" y="1860.74" width="5.4" height="28.69" fill="#f3f2f2"/>
<rect x="119.48" y="1860.74" width="5.4" height="28.69" fill="#f2f2f5"/>
<rect x="124.58" y="1860.74" width="5.4" height="28.69" fill="#f0f0f4"/>
<rect x="129.68" y="1860.74" width="5.4" height="28.69" fill="#f3f0ed"/>
<rect x="134.78" y="1860.74" width="5.4" height="28.69" fill="#f3f3f4"/>
<rect x="139.87" y="1860.74" width="5.4" height="28.69" fill="#f3f1f0"/>
<rect x="144.97" y="1860.74" width="5.4" height="28.69" fill="#f1f1f4"/>
<rect x="150.07" y="1860.74" width="5.4" height="28.69" fill="#f3f2f2"/>
<rect x="155.16" y="1860.74" width="5.4" height="28.69" fill="#f3f3f5"/>
<rect x="160.26" y="1860.74" width="5.4" height="28.69" fill="#f0f0f4"/>
<rect x="165.36" y="1860.74" width="5.4" height="28.69" fill="#f3f1ee"/>
<rect x="170.45" y="1860.74" width="5.4" height="28.69" fill="#f0f0f4"/>
<rect x="175.55" y="1860.74" width="5.4" height="28.69" fill="#f3f2f2"/>
<rect x="180.65" y="1860.74" width="5.4" height="28.69" fill="#f3f1ef"/>
<rect x="185.74" y="1860.74" width="5.4" height="28.69" fill="#f0f0f4"/>
<rect x="190.84" y="1860.74" width="5.4" height="28.69" fill="#f3f3f5"/>
<rect x="195.94" y="1860.74" width="5.4" height="28.69" fill="#f3f1f0"/>
<rect x="201.03" y="1860.74" width="5.4" height="28.69" fill="#f0f0f4"/>
<rect x="206.13" y="1860.74" width="5.4" height="28.69" fill="#f2f2f5"/>
<rect x="211.23" y="1860.74" width="5.4" height="28.69" fill="#f3f1ee"/>
<rect x="216.32" y="1860.74" width="5.4" height="28.69" fill="#f4f0eb"/>
<rect x="221.42" y="1860.74" width="5.4" height="28.69" fill="#f2f2f5"/>
<rect x="226.52" y="1860.74" width="5.4" height="28.69" fill="#f3f3f5"/>
<rect x="231.62" y="1860.74" width="5.4" height="28.69" fill="#f4f0ed"/>
<rect x="236.71" y="1860.74" width="5.4" height="28.69" fill="#f2f2f5"/>
<rect x="241.81" y="1860.74" width="5.4" height="28.69" fill="#f3f3f5"/>
<rect x="246.91" y="1860.74" width="5.4" height="28.69" fill="#f0f0f4"/>
<rect x="252" y="1860.74" width="5.4" height="28.69" fill="#f2f2f5"/>
<rect x="257.1" y="1860.74" width="5.4" height="28.69" fill="#f5ebdb"/>
<rect x="262.2" y="1860.74" width="5.4" height="28.69" fill="#f4d5a4"/>
<rect x="267.29" y="1860.74" width="5.4" height="28.69" fill="#f4ede3"/>
<rect x="272.39" y="1860.74" width="5.4" height="28.69" fill="#f2f2f5"/>
<rect x="277.49" y="1860.74" width="5.4" height="28.69" fill="#f4d5a4"/>
<rect x="282.58" y="1860.74" width="5.4" height="28.69" fill="#9f531c"/>
<rect x="287.68" y="1860.74" width="5.4" height="28.69" fill="#f4ecdf"/>
<rect x="292.78" y="1860.74" width="5.4" height="28.69" fill="#f5d7a9"/>
<rect x="297.88" y="1860.74" width="5.4" height="28.69" fill="#f5ead9"/>
<rect x="302.97" y="1860.74" width="5.4" height="28.69" fill="#f5eadb"/>
<rect x="308.07" y="1860.74" width="5.4" height="28.69" fill="#f5e9d6"/>
<rect x="313.17" y="1860.74" width="5.4" height="28.69" fill="#f5e7d1"/>
<rect x="318.26" y="1860.74" width="5.4" height="28.69" fill="#f5e9d6"/>
<rect x="323.36" y="1860.74" width="5.4" height="28.69" fill="#e1912e"/>
<rect x="328.46" y="1860.74" width="10.49" height="28.69" fill="#f0f0f4"/>
<rect x="338.65" y="1860.74" width="5.4" height="28.69" fill="#f3f1ee"/>
<rect x="343.75" y="1860.74" width="5.4" height="28.69" fill="#f2f2f5"/>
<rect x="348.84" y="1860.74" width="5.4" height="28.69" fill="#f3f3f5"/>
<rect x="353.94" y="1860.74" width="5.4" height="28.69" fill="#f3f3f4"/>
<rect x="359.04" y="1860.74" width="10.49" height="28.69" fill="#f2f2f5"/>
<rect x="369.23" y="1860.74" width="5.4" height="28.69" fill="#f4f0ec"/>
<rect x="374.33" y="1860.74" width="5.4" height="28.69" fill="#f3f2f2"/>
<rect x="379.43" y="1860.74" width="5.4" height="28.69" fill="#f3f1f0"/>
<rect x="384.52" y="1860.74" width="5.4" height="28.69" fill="#f3f0ed"/>
<rect x="389.62" y="1860.74" width="5.4" height="28.69" fill="#f2f2f5"/>
<rect x="394.72" y="1860.74" width="5.4" height="28.69" fill="#f4f0eb"/>
<rect x="399.81" y="1860.74" width="5.4" height="28.69" fill="#f2f2f5"/>
<rect x="404.91" y="1860.74" width="5.4" height="28.69" fill="#f1f1f4"/>
<rect x="410.01" y="1860.74" width="5.4" height="28.69" fill="#f3f2f2"/>
<rect x="415.1" y="1860.74" width="5.4" height="28.69" fill="#f3f2f3"/>
<rect x="420.2" y="1860.74" width="10.49" height="28.69" fill="#f3f3f5"/>
<rect x="430.39" y="1860.74" width="5.4" height="28.69" fill="#f0f0f4"/>
<rect x="435.49" y="1860.74" width="20.69" height="28.69" fill="#f2f2f5"/>
<rect x="455.88" y="1860.74" width="10.49" height="28.69" fill="#f1f1f4"/>
<rect x="466.07" y="1860.74" width="5.4" height="28.69" fill="#f4f0ec"/>
<rect x="471.17" y="1860.74" width="5.4" height="28.69" fill="#f3f2f1"/>
<rect x="476.27" y="1860.74" width="5.4" height="28.69" fill="#f4f0eb"/>
<rect x="481.36" y="1860.74" width="5.4" height="28.69" fill="#f0f0f4"/>
<rect x="486.46" y="1860.74" width="5.4" height="28.69" fill="#f3f1f0"/>
<rect x="491.56" y="1860.74" width="5.4" height="28.69" fill="#f0f0f4"/>
<rect x="496.65" y="1860.74" width="5.4" height="28.69" fill="#f3f3f5"/>
<rect x="501.75" y="1860.74" width="5.4" height="28.69" fill="#f0f0f4"/>
<rect x="506.85" y="1860.74" width="10.49" height="28.69" fill="#f2f2f5"/>
<rect x="517.04" y="1860.74" width="5.4" height="28.69" fill="#f0f0f4"/>
<rect x="522.14" y="1860.74" width="5.4" height="28.69" fill="#f3f2f1"/>
<rect x="527.23" y="1860.74" width="5.4" height="28.69" fill="#f0f0f4"/>
<rect x="532.33" y="1860.74" width="5.4" height="28.69" fill="#f4f0ed"/>
<rect x="537.43" y="1860.74" width="5.4" height="28.69" fill="#f3f0ed"/>
<rect x="542.52" y="1860.74" width="5.4" height="28.69" fill="#f3f3f5"/>
<rect x="547.62" y="1860.74" width="5.4" height="28.69" fill="#f4f0ed"/>
<rect x="552.72" y="1860.74" width="5.4" height="28.69" fill="#f1f1f4"/>
<rect x="557.82" y="1860.74" width="5.4" height="28.69" fill="#f3f3f5"/>
<rect x="562.91" y="1860.74" width="5.4" height="28.69" fill="#f0f0f4"/>
<rect x="568.01" y="1860.74" width="5.4" height="28.69" fill="#f4f0ec"/>
<rect x="573.11" y="1860.74" width="5.4" height="28.69" fill="#f2f2f5"/>
<rect x="578.2" y="1860.74" width="5.4" height="28.69" fill="#f4f0eb"/>
<rect x="583.3" y="1860.74" width="5.4" height="28.69" fill="#f1f1f4"/>
<rect x="588.4" y="1860.74" width="5.4" height="28.69" fill="#f3f3f5"/>
<rect x="593.49" y="1860.74" width="5.4" height="28.69" fill="#f1f1f4"/>
<rect x="598.59" y="1860.74" width="5.4" height="28.69" fill="#f2f2f5"/>
<rect x="603.69" y="1860.74" width="5.4" height="28.69" fill="#f3f3f4"/>
<rect x="608.78" y="1860.74" width="5.4" height="28.69" fill="#f4f0ec"/>
<rect x="613.88" y="1860.74" width="5.4" height="28.69" fill="#f1f1f4"/>
<rect x="618.98" y="1860.74" width="5.4" height="28.69" fill="#f3f1ee"/>
<rect x="624.07" y="1860.74" width="5.4" height="28.69" fill="#f4f0eb"/>
<rect x="629.17" y="1860.74" width="5.4" height="28.69" fill="#f3f2f3"/>
<rect x="634.27" y="1860.74" width="5.4" height="28.69" fill="#f2f2f5"/>
<rect x="639.37" y="1860.74" width="10.49" height="28.69" fill="#f4f0ec"/>
<rect x="649.56" y="1860.74" width="5.4" height="28.69" fill="#f3f2f3"/>
<rect x="654.66" y="1860.74" width="5.4" height="28.69" fill="#f3f1ef"/>
<rect x="659.75" y="1860.74" width="5.4" height="28.69" fill="#f2f2f5"/>
<rect x="664.85" y="1860.74" width="5.4" height="28.69" fill="#f0f0f4"/>
<rect x="669.95" y="1860.74" width="5.4" height="28.69" fill="#f3f2f1"/>
<rect x="675.04" y="1860.74" width="5.4" height="28.69" fill="#f0f0f4"/>
<rect x="680.14" y="1860.74" width="5.4" height="28.69" fill="#f1f1f4"/>
<rect x="685.24" y="1860.74" width="5.4" height="28.69" fill="#f3f2f3"/>
<rect x="690.33" y="1860.74" width="5.4" height="28.69" fill="#f3f1ee"/>
<rect x="695.43" y="1860.74" width="5.4" height="28.69" fill="#f3f1ed"/>
<rect x="700.53" y="1860.74" width="5.4" height="28.69" fill="#f3f2f1"/>
<rect x="705.62" y="1860.74" width="5.4" height="28.69" fill="#f0f0f4"/>
<rect x="710.72" y="1860.74" width="5.4" height="28.69" fill="#f3f2f2"/>
<rect x="715.82" y="1860.74" width="5.4" height="28.69" fill="#f3f1ef"/>
<rect x="720.92" y="1860.74" width="5.4" height="28.69" fill="#f4f0ec"/>
<rect x="726.01" y="1860.74" width="5.4" height="28.69" fill="#f0f0f4"/>
<rect x="731.11" y="1860.74" width="5.4" height="28.69" fill="#f3f2f2"/>
<rect x="736.21" y="1860.74" width="5.4" height="28.69" fill="#f0f0f4"/>
<rect x="741.3" y="1860.74" width="5.4" height="28.69" fill="#f3f2f3"/>
<rect x="94" y="1889.13" width="5.4" height="28.69" fill="#f4f0ec"/>
<rect x="99.1" y="1889.13" width="5.4" height="28.69" fill="#f2f2f5"/>
<rect x="104.19" y="1889.13" width="5.4" height="28.69" fill="#f1f1f4"/>
<rect x="109.29" y="1889.13" width="5.4" height="28.69" fill="#f2f2f5"/>
<rect x="114.39" y="1889.13" width="5.4" height="28.69" fill="#f3f1ef"/>
<rect x="119.48" y="1889.13" width="5.4" height="28.69" fill="#f3f2f3"/>
<rect x="124.58" y="1889.13" width="10.49" height="28.69" fill="#f3f3f5"/>
<rect x="134.78" y="1889.13" width="5.4" height="28.69" fill="#f2f2f5"/>
<rect x="139.87" y="1889.13" width="5.4" height="28.69" fill="#f3f0ed"/>
<rect x="144.97" y="1889.13" width="5.4" height="28.69" fill="#f3f1ef"/>
<rect x="150.07" y="1889.13" width="5.4" height="28.69" fill="#f4f0ec"/>
<rect x="155.16" y="1889.13" width="5.4" height="28.69" fill="#f3f3f5"/>
<rect x="160.26" y="1889.13" width="5.4" height="28.69" fill="#f1f1f4"/>
<rect x="165.36" y="1889.13" width="5.4" height="28.69" fill="#f3f1ee"/>
<rect x="170.45" y="1889.13" width="5.4" height="28.69" fill="#f5e8d3"/>
<rect x="175.55" y="1889.13" width="5.4" height="28.69" fill="#f4f0ec"/>
<rect x="180.65" y="1889.13" width="5.4" height="28.69" fill="#f4f0ed"/>
<rect x="185.74" y="1889.13" width="5.4" height="28.69" fill="#f6e5ca"/>
<rect x="190.84" y="1889.13" width="5.4" height="28.69" fill="#f0f0f4"/>
<rect x="195.94" y="1889.13" width="5.4" height="28.69" fill="#f3f1f0"/>
<rect x="201.03" y="1889.13" width="5.4" height="28.69" fill="#f4f0eb"/>
<rect x="206.13" y="1889.13" width="5.4" height="28.69" fill="#f3f3f5"/>
<rect x="211.23" y="1889.13" width="5.4" height="28.69" fill="#f4f0ec"/>
<rect x="216.32" y="1889.13" width="5.4" height="28.69" fill="#f3f3f4"/>
<rect x="221.42" y="1889.13" width="5.4" height="28.69" fill="#f1f1f4"/>
<rect x="226.52" y="1889.13" width="5.4" height="28.69" fill="#f4f0ec"/>
<rect x="231.62" y="1889.13" width="5.4" height="28.69" fill="#f1f1f4"/>
<rect x="236.71" y="1889.13" width="5.4" height="28.69" fill="#f3f3f4"/>
<rect x="241.81" y="1889.13" width="5.4" height="28.69" fill="#f3f3f5"/>
<rect x="246.91" y="1889.13" width="5.4" height="28.69" fill="#f0f0f4"/>
<rect x="252" y="1889.13" width="5.4" height="28.69" fill="#f1f1f4"/>
<rect x="257.1" y="1889.13" width="5.4" height="28.69" fill="#f5e9d7"/>
<rect x="262.2" y="1889.13" width="5.4" height="28.69" fill="#f5d9ae"/>
<rect x="267.29" y="1889.13" width="5.4" height="28.69" fill="#f4f0ec"/>
<rect x="272.39" y="1889.13" width="5.4" height="28.69" fill="#f2f2f5"/>
<rect x="277.49" y="1889.13" width="5.4" height="28.69" fill="#f5d7a9"/>
<rect x="282.58" y="1889.13" width="5.4" height="28.69" fill="#9c511c"/>
<rect x="287.68" y="1889.13" width="5.4" height="28.69" fill="#f5e7d1"/>
<rect x="292.78" y="1889.13" width="5.4" height="28.69" fill="#f5deb8"/>
<rect x="297.88" y="1889.13" width="5.4" height="28.69" fill="#f4eee6"/>
<rect x="302.97" y="1889.13" width="5.4" height="28.69" fill="#f5ead9"/>
<rect x="308.07" y="1889.13" width="5.4" height="28.69" fill="#f5deb8"/>
<rect x="313.17" y="1889.13" width="5.4" height="28.69" fill="#f5d7a9"/>
<rect x="318.26" y="1889.13" width="5.4" height="28.69" fill="#f5ebdb"/>
<rect x="323.36" y="1889.13" width="5.4" height="28.69" fill="#da892b"/>
<rect x="328.46" y="1889.13" width="5.4" height="28.69" fill="#f3f1f0"/>
<rect x="333.55" y="1889.13" width="5.4" height="28.69" fill="#f2f2f5"/>
<rect x="338.65" y="1889.13" width="5.4" height="28.69" fill="#f4f0ec"/>
<rect x="343.75" y="1889.13" width="5.4" height="28.69" fill="#f3f3f4"/>
<rect x="348.84" y="1889.13" width="5.4" height="28.69" fill="#f3f1ef"/>
<rect x="353.94" y="1889.13" width="5.4" height="28.69" fill="#f3f2f2"/>
<rect x="359.04" y="1889.13" width="5.4" height="28.69" fill="#f2f2f5"/>
<rect x="364.13" y="1889.13" width="5.4" height="28.69" fill="#f4f0ec"/>
<rect x="369.23" y="1889.13" width="5.4" height="28.69" fill="#f1f1f4"/>
<rect x="374.33" y="1889.13" width="5.4" height="28.69" fill="#f3f1ee"/>
<rect x="379.43" y="1889.13" width="15.59" height="28.69" fill="#f0f0f4"/>
<rect x="394.72" y="1889.13" width="5.4" height="28.69" fill="#f3f3f5"/>
<rect x="399.81" y="1889.13" width="5.4" height="28.69" fill="#f4f0ec"/>
<rect x="404.91" y="1889.13" width="5.4" height="28.69" fill="#f3f2f3"/>
<rect x="410.01" y="1889.13" width="5.4" height="28.69" fill="#f3f3f5"/>
<rect x="415.1" y="1889.13" width="10.49" height="28.69" fill="#f2f2f5"/>
<rect x="425.3" y="1889.13" width="5.4" height="28.69" fill="#f3f2f3"/>
<rect x="430.39" y="1889.13" width="20.69" height="28.69" fill="#f1f1f4"/>
<rect x="450.78" y="1889.13" width="5.4" height="28.69" fill="#f3f2f2"/>
<rect x="455.88" y="1889.13" width="5.4" height="28.69" fill="#f0f0f4"/>
<rect x="460.97" y="1889.13" width="5.4" height="28.69" fill="#f4f0ec"/>
<rect x="466.07" y="1889.13" width="5.4" height="28.69" fill="#f0f0f4"/>
<rect x="471.17" y="1889.13" width="5.4" height="28.69" fill="#f3f1ef"/>
<rect x="476.27" y="1889.13" width="5.4" height="28.69" fill="#f3f3f4"/>
<rect x="481.36" y="1889.13" width="5.4" height="28.69" fill="#f2f2f5"/>
<rect x="486.46" y="1889.13" width="5.4" height="28.69" fill="#f1f1f4"/>
<rect x="491.56" y="1889.13" width="10.49" height="28.69" fill="#f2f2f5"/>
<rect x="501.75" y="1889.13" width="5.4" height="28.69" fill="#f3f3f5"/>
<rect x="506.85" y="1889.13" width="5.4" height="28.69" fill="#f1f1f4"/>
<rect x="511.94" y="1889.13" width="5.4" height="28.69" fill="#f3f3f4"/>
<rect x="517.04" y="1889.13" width="10.49" height="28.69" fill="#f3f2f2"/>
<rect x="527.23" y="1889.13" width="5.4" height="28.69" fill="#f2f2f5"/>
<rect x="532.33" y="1889.13" width="5.4" height="28.69" fill="#f3f2f2"/>
<rect x="537.43" y="1889.13" width="10.49" height="28.69" fill="#f1f1f4"/>
<rect x="547.62" y="1889.13" width="5.4" height="28.69" fill="#f4f0eb"/>
<rect x="552.72" y="1889.13" width="5.4" height="28.69" fill="#f1f1f4"/>
<rect x="557.82" y="1889.13" width="5.4" height="28.69" fill="#f3f2f1"/>
<rect x="562.91" y="1889.13" width="10.49" height="28.69" fill="#f2f2f5"/>
<rect x="573.11" y="1889.13" width="5.4" height="28.69" fill="#f3f2f3"/>
<rect x="578.2" y="1889.13" width="5.4" height="28.69" fill="#f2f2f5"/>
<rect x="583.3" y="1889.13" width="5.4" height="28.69" fill="#f4f0ed"/>
<rect x="588.4" y="1889.13" width="5.4" height="28.69" fill="#f0f0f4"/>
<rect x="593.49" y="1889.13" width="5.4" height="28.69" fill="#f3f2f3"/>
<rect x="598.59" y="1889.13" width="10.49" height="28.69" fill="#f3f3f5"/>
<rect x="608.78" y="1889.13" width="5.4" height="28.69" fill="#f0f0f4"/>
<rect x="613.88" y="1889.13" width="5.4" height="28.69" fill="#f3f1ee"/>
<rect x="618.98" y="1889.13" width="5.4" height="28.69" fill="#f3f3f5"/>
<rect x="624.07" y="1889.13" width="5.4" height="28.69" fill="#f2f2f5"/>
<rect x="629.17" y="1889.13" width="5.4" height="28.69" fill="#f1f1f4"/>
<rect x="634.27" y="1889.13" width="5.4" height="28.69" fill="#f3f2f1"/>
<rect x="639.37" y="1889.13" width="5.4" height="28.69" fill="#f0f0f4"/>
<rect x="644.46" y="1889.13" width="5.4" height="28.69" fill="#f3f1ee"/>
<rect x="649.56" y="1889.13" width="5.4" height="28.69" fill="#f2f2f5"/>
<rect x="654.66" y="1889.13" width="5.4" height="28.69" fill="#f3f2f2"/>
<rect x="659.75" y="1889.13" width="5.4" height="28.69" fill="#f3f1f0"/>
<rect x="664.85" y="1889.13" width="5.4" height="28.69" fill="#f3f3f5"/>
<rect x="669.95" y="1889.13" width="5.4" height="28.69" fill="#f2f2f5"/>
<rect x="675.04" y="1889.13" width="5.4" height="28.69" fill="#f0f0f4"/>
<rect x="680.14" y="1889.13" width="5.4" height="28.69" fill="#f3f3f4"/>
<rect x="685.24" y="1889.13" width="5.4" height="28.69" fill="#f0f0f4"/>
<rect x="690.33" y="1889.13" width="5.4" height="28.69" fill="#f3f2f3"/>
<rect x="695.43" y="1889.13" width="5.4" height="28.69" fill="#f3f3f4"/>
<rect x="700.53" y="1889.13" width="10.49" height="28.69" fill="#f3f2f2"/>
<rect x="710.72" y="1889.13" width="5.4" height="28.69" fill="#f4f0ec"/>
<rect x="715.82" y="1889.13" width="10.49" height="28.69" fill="#f2f2f5"/>
<rect x="726.01" y="1889.13" width="5.4" height="28.69" fill="#f3f2f1"/>
<rect x="731.11" y="1889.13" width="5.4" height="28.69" fill="#f3f3f5"/>
<rect x="736.21" y="1889.13" width="5.4" height="28.69" fill="#f1f1f4"/>
<rect x="741.3" y="1889.13" width="5.4" height="28.69" fill="#f3f1f0"/>
<rect x="94" y="1917.52" width="5.4" height="28.69" fill="#f3f2f1"/>
<rect x="99.1" y="1917.52" width="5.4" height="28.69" fill="#f3f1ee"/>
<rect x="104.19" y="1917.52" width="5.4" height="28.69" fill="#f3f1ef"/>
<rect x="109.29" y="1917.52" width="5.4" height="28.69" fill="#f2f2f5"/>
<rect x="114.39" y="1917.52" width="5.4" height="28.69" fill="#f1f1f4"/>
<rect x="119.48" y="1917.52" width="5.4" height="28.69" fill="#f5ddb6"/>
<rect x="124.58" y="1917.52" width="5.4" height="28.69" fill="#f4f0ec"/>
<rect x="129.68" y="1917.52" width="5.4" height="28.69" fill="#f3f2f1"/>
<rect x="134.78" y="1917.52" width="5.4" height="28.69" fill="#f4ecde"/>
<rect x="139.87" y="1917.52" width="5.4" height="28.69" fill="#f5e8d2"/>
<rect x="144.97" y="1917.52" width="5.4" height="28.69" fill="#f3f2f2"/>
<rect x="150.07" y="1917.52" width="5.4" height="28.69" fill="#f5e7d1"/>
<rect x="155.16" y="1917.52" width="5.4" height="28.69" fill="#efb96b"/>
<rect x="160.26" y="1917.52" width="5.4" height="28.69" fill="#f0f0f4"/>
<rect x="165.36" y="1917.52" width="5.4" height="28.69" fill="#f5eada"/>
<rect x="170.45" y="1917.52" width="5.4" height="28.69" fill="#f3f1ee"/>
<rect x="175.55" y="1917.52" width="5.4" height="28.69" fill="#f3f2f1"/>
<rect x="180.65" y="1917.52" width="5.4" height="28.69" fill="#f5dbb2"/>
<rect x="185.74" y="1917.52" width="5.4" height="28.69" fill="#f4d19b"/>
<rect x="190.84" y="1917.52" width="5.4" height="28.69" fill="#f6e0be"/>
<rect x="195.94" y="1917.52" width="5.4" height="28.69" fill="#f3f1ef"/>
<rect x="201.03" y="1917.52" width="5.4" height="28.69" fill="#f5e9d6"/>
<rect x="206.13" y="1917.52" width="5.4" height="28.69" fill="#f6e0be"/>
<rect x="211.23" y="1917.52" width="5.4" height="28.69" fill="#f3ce95"/>
<rect x="216.32" y="1917.52" width="5.4" height="28.69" fill="#f4d3a0"/>
<rect x="221.42" y="1917.52" width="5.4" height="28.69" fill="#f2f2f5"/>
<rect x="226.52" y="1917.52" width="5.4" height="28.69" fill="#f3f1f0"/>
<rect x="231.62" y="1917.52" width="5.4" height="28.69" fill="#f2f2f5"/>
<rect x="236.71" y="1917.52" width="5.4" height="28.69" fill="#f5ebdc"/>
<rect x="241.81" y="1917.52" width="5.4" height="28.69" fill="#f4f0eb"/>
<rect x="246.91" y="1917.52" width="5.4" height="28.69" fill="#f3f0ed"/>
<rect x="252" y="1917.52" width="5.4" height="28.69" fill="#f3f3f5"/>
<rect x="257.1" y="1917.52" width="5.4" height="28.69" fill="#f5eada"/>
<rect x="262.2" y="1917.52" width="5.4" height="28.69" fill="#f6e6cc"/>
<rect x="267.29" y="1917.52" width="5.4" height="28.69" fill="#f5e6ce"/>
<rect x="272.39" y="1917.52" width="5.4" height="28.69" fill="#f5e7cf"/>
<rect x="277.49" y="1917.52" width="5.4" height="28.69" fill="#f5deb8"/>
<rect x="282.58" y="1917.52" width="5.4" height="28.69" fill="#ae5c1c"/>
<rect x="287.68" y="1917.52" width="5.4" height="28.69" fill="#f5e8d4"/>
<rect x="292.78" y="1917.52" width="5.4" height="28.69" fill="#f5d7a9"/>
<rect x="297.88" y="1917.52" width="5.4" height="28.69" fill="#f4ede2"/>
<rect x="302.97" y="1917.52" width="5.4" height="28.69" fill="#f2f2f5"/>
<rect x="308.07" y="1917.52" width="5.4" height="28.69" fill="#f5d9ae"/>
<rect x="313.17" y="1917.52" width="5.4" height="28.69" fill="#f6e2c2"/>
<rect x="318.26" y="1917.52" width="5.4" height="28.69" fill="#f4f0eb"/>
<rect x="323.36" y="1917.52" width="5.4" height="28.69" fill="#f1bf76"/>
<rect x="328.46" y="1917.52" width="5.4" height="28.69" fill="#f2f2f5"/>
<rect x="333.55" y="1917.52" width="5.4" height="28.69" fill="#efeff4"/>
<rect x="338.65" y="1917.52" width="5.4" height="28.69" fill="#f1f1f4"/>
<rect x="343.75" y="1917.52" width="5.4" height="28.69" fill="#e8e8f1"/>
<rect x="348.84" y="1917.52" width="5.4" height="28.69" fill="#eaeaf2"/>
<rect x="353.94" y="1917.52" width="5.4" height="28.69" fill="#ededf3"/>
<rect x="359.04" y="1917.52" width="5.4" height="28.69" fill="#f1f1f4"/>
<rect x="364.13" y="1917.52" width="10.49" height="28.69" fill="#ececf3"/>
<rect x="374.33" y="1917.52" width="5.4" height="28.69" fill="#e5e5f0"/>
<rect x="379.43" y="1917.52" width="5.4" height="28.69" fill="#f1f1f4"/>
<rect x="384.52" y="1917.52" width="5.4" height="28.69" fill="#e6e6f1"/>
<rect x="389.62" y="1917.52" width="5.4" height="28.69" fill="#e8e8f1"/>
<rect x="394.72" y="1917.52" width="5.4" height="28.69" fill="#eaeaf2"/>
<rect x="399.81" y="1917.52" width="5.4" height="28.69" fill="#ececf3"/>
<rect x="404.91" y="1917.52" width="5.4" height="28.69" fill="#e4e4f0"/>
<rect x="410.01" y="1917.52" width="5.4" height="28.69" fill="#e7e7f1"/>
<rect x="415.1" y="1917.52" width="5.4" height="28.69" fill="#efeff4"/>
<rect x="420.2" y="1917.52" width="5.4" height="28.69" fill="#ebebf2"/>
<rect x="425.3" y="1917.52" width="5.4" height="28.69" fill="#e5e5f0"/>
<rect x="430.39" y="1917.52" width="5.4" height="28.69" fill="#eeeef3"/>
<rect x="435.49" y="1917.52" width="5.4" height="28.69" fill="#e8e8f1"/>
<rect x="440.59" y="1917.52" width="5.4" height="28.69" fill="#ececf3"/>
<rect x="445.68" y="1917.52" width="5.4" height="28.69" fill="#eaeaf2"/>
<rect x="450.78" y="1917.52" width="5.4" height="28.69" fill="#efeff4"/>
<rect x="455.88" y="1917.52" width="5.4" height="28.69" fill="#ececf3"/>
<rect x="460.97" y="1917.52" width="5.4" height="28.69" fill="#ededf3"/>
<rect x="466.07" y="1917.52" width="5.4" height="28.69" fill="#eeeef3"/>
<rect x="471.17" y="1917.52" width="5.4" height="28.69" fill="#e5e5f0"/>
<rect x="476.27" y="1917.52" width="5.4" height="28.69" fill="#eaeaf2"/>
<rect x="481.36" y="1917.52" width="5.4" height="28.69" fill="#ececf3"/>
<rect x="486.46" y="1917.52" width="5.4" height="28.69" fill="#f1f1f4"/>
<rect x="491.56" y="1917.52" width="5.4" height="28.69" fill="#e5e5f0"/>
<rect x="496.65" y="1917.52" width="5.4" height="28.69" fill="#e8e8f1"/>
<rect x="501.75" y="1917.52" width="5.4" height="28.69" fill="#e9e9f2"/>
<rect x="506.85" y="1917.52" width="5.4" height="28.69" fill="#e7e7f1"/>
<rect x="511.94" y="1917.52" width="5.4" height="28.69" fill="#e8e8f1"/>
<rect x="517.04" y="1917.52" width="5.4" height="28.69" fill="#ededf3"/>
<rect x="522.14" y="1917.52" width="5.4" height="28.69" fill="#ececf3"/>
<rect x="527.23" y="1917.52" width="5.4" height="28.69" fill="#f6e3c4"/>
<rect x="532.33" y="1917.52" width="5.4" height="28.69" fill="#ebebf2"/>
<rect x="537.43" y="1917.52" width="5.4" height="28.69" fill="#ededf3"/>
<rect x="542.52" y="1917.52" width="5.4" height="28.69" fill="#e8e8f1"/>
<rect x="547.62" y="1917.52" width="5.4" height="28.69" fill="#efeff4"/>
<rect x="552.72" y="1917.52" width="5.4" height="28.69" fill="#f0f0f4"/>
<rect x="557.82" y="1917.52" width="5.4" height="28.69" fill="#ededf3"/>
<rect x="562.91" y="1917.52" width="5.4" height="28.69" fill="#eeeef3"/>
<rect x="568.01" y="1917.52" width="5.4" height="28.69" fill="#e5e5f0"/>
<rect x="573.11" y="1917.52" width="10.49" height="28.69" fill="#e7e7f1"/>
<rect x="583.3" y="1917.52" width="5.4" height="28.69" fill="#e4e4f0"/>
<rect x="588.4" y="1917.52" width="5.4" height="28.69" fill="#f0f0f4"/>
<rect x="593.49" y="1917.52" width="10.49" height="28.69" fill="#e4e4f0"/>
<rect x="603.69" y="1917.52" width="5.4" height="28.69" fill="#ebebf2"/>
<rect x="608.78" y="1917.52" width="5.4" height="28.69" fill="#f5e8d2"/>
<rect x="613.88" y="1917.52" width="5.4" height="28.69" fill="#e8e8f1"/>
<rect x="618.98" y="1917.52" width="5.4" height="28.69" fill="#ededf3"/>
<rect x="624.07" y="1917.52" width="5.4" height="28.69" fill="#efeff4"/>
<rect x="629.17" y="1917.52" width="5.4" height="28.69" fill="#e9e9f2"/>
<rect x="634.27" y="1917.52" width="5.4" height="28.69" fill="#e8e8f1"/>
<rect x="639.37" y="1917.52" width="5.4" height="28.69" fill="#e7e7f1"/>
<rect x="644.46" y="1917.52" width="5.4" height="28.69" fill="#ebebf2"/>
<rect x="649.56" y="1917.52" width="5.4" height="28.69" fill="#eaeaf2"/>
<rect x="654.66" y="1917.52" width="5.4" height="28.69" fill="#ebebf2"/>
<rect x="659.75" y="1917.52" width="5.4" height="28.69" fill="#ededf3"/>
<rect x="664.85" y="1917.52" width="5.4" height="28.69" fill="#efeff4"/>
<rect x="669.95" y="1917.52" width="5.4" height="28.69" fill="#e8e8f1"/>
<rect x="675.04" y="1917.52" width="5.4" height="28.69" fill="#f1f1f4"/>
<rect x="680.14" y="1917.52" width="5.4" height="28.69" fill="#ededf3"/>
<rect x="685.24" y="1917.52" width="5.4" height="28.69" fill="#e9e9f2"/>
<rect x="690.33" y="1917.52" width="5.4" height="28.69" fill="#ebebf2"/>
<rect x="695.43" y="1917.52" width="5.4" height="28.69" fill="#f1f1f4"/>
<rect x="700.53" y="1917.52" width="5.4" height="28.69" fill="#e7e7f1"/>
<rect x="705.62" y="1917.52" width="5.4" height="28.69" fill="#f0f0f4"/>
<rect x="710.72" y="1917.52" width="5.4" height="28.69" fill="#e8e8f1"/>
<rect x="715.82" y="1917.52" width="5.4" height="28.69" fill="#ebebf2"/>
<rect x="720.92" y="1917.52" width="5.4" height="28.69" fill="#ececf3"/>
<rect x="726.01" y="1917.52" width="10.49" height="28.69" fill="#eaeaf2"/>
<rect x="736.21" y="1917.52" width="5.4" height="28.69" fill="#f6e6cc"/>
<rect x="741.3" y="1917.52" width="5.4" height="28.69" fill="#e8e8f1"/>
<rect x="94" y="1945.91" width="5.4" height="28.69" fill="#f5e9d6"/>
<rect x="99.1" y="1945.91" width="5.4" height="28.69" fill="#f4f0ec"/>
<rect x="104.19" y="1945.91" width="5.4" height="28.69" fill="#f4d09a"/>
<rect x="109.29" y="1945.91" width="5.4" height="28.69" fill="#f2f2f5"/>
<rect x="114.39" y="1945.91" width="5.4" height="28.69" fill="#f3f3f4"/>
<rect x="119.48" y="1945.91" width="5.4" height="28.69" fill="#f3f3f5"/>
<rect x="124.58" y="1945.91" width="5.4" height="28.69" fill="#f4f0eb"/>
<rect x="129.68" y="1945.91" width="5.4" height="28.69" fill="#eeb768"/>
<rect x="134.78" y="1945.91" width="5.4" height="28.69" fill="#f3f3f5"/>
<rect x="139.87" y="1945.91" width="5.4" height="28.69" fill="#f4cf98"/>
<rect x="144.97" y="1945.91" width="5.4" height="28.69" fill="#f6e1c1"/>
<rect x="150.07" y="1945.91" width="5.4" height="28.69" fill="#f1f1f4"/>
<rect x="155.16" y="1945.91" width="5.4" height="28.69" fill="#f3f3f4"/>
<rect x="160.26" y="1945.91" width="5.4" height="28.69" fill="#f4d19c"/>
<rect x="165.36" y="1945.91" width="5.4" height="28.69" fill="#f3f0ed"/>
<rect x="170.45" y="1945.91" width="5.4" height="28.69" fill="#f1f1f4"/>
<rect x="175.55" y="1945.91" width="5.4" height="28.69" fill="#f3ce94"/>
<rect x="180.65" y="1945.91" width="5.4" height="28.69" fill="#f5e8d2"/>
<rect x="185.74" y="1945.91" width="5.4" height="28.69" fill="#f3f2f1"/>
<rect x="190.84" y="1945.91" width="5.4" height="28.69" fill="#f4ebdd"/>
<rect x="195.94" y="1945.91" width="5.4" height="28.69" fill="#f1f1f4"/>
<rect x="201.03" y="1945.91" width="5.4" height="28.69" fill="#f5e7d1"/>
<rect x="206.13" y="1945.91" width="5.4" height="28.69" fill="#f2f2f5"/>
<rect x="211.23" y="1945.91" width="5.4" height="28.69" fill="#f5ead8"/>
<rect x="216.32" y="1945.91" width="5.4" height="28.69" fill="#f3f0ed"/>
<rect x="221.42" y="1945.91" width="5.4" height="28.69" fill="#f3f2f3"/>
<rect x="226.52" y="1945.91" width="5.4" height="28.69" fill="#f5e9d6"/>
<rect x="231.62" y="1945.91" width="5.4" height="28.69" fill="#f4f0ec"/>
<rect x="236.71" y="1945.91" width="5.4" height="28.69" fill="#f3f3f5"/>
<rect x="241.81" y="1945.91" width="5.4" height="28.69" fill="#f0f0f4"/>
<rect x="246.91" y="1945.91" width="5.4" height="28.69" fill="#f5ddb6"/>
<rect x="252" y="1945.91" width="5.4" height="28.69" fill="#f4ebdd"/>
<rect x="257.1" y="1945.91" width="5.4" height="28.69" fill="#f3f2f3"/>
<rect x="262.2" y="1945.91" width="5.4" height="28.69" fill="#f5e9d6"/>
<rect x="267.29" y="1945.91" width="5.4" height="28.69" fill="#f4ede4"/>
<rect x="272.39" y="1945.91" width="5.4" height="28.69" fill="#f5ead9"/>
<rect x="277.49" y="1945.91" width="5.4" height="28.69" fill="#f0bb6f"/>
<rect x="282.58" y="1945.91" width="5.4" height="28.69" fill="#c47021"/>
<rect x="287.68" y="1945.91" width="5.4" height="28.69" fill="#f0f0f4"/>
<rect x="292.78" y="1945.91" width="5.4" height="28.69" fill="#f6e2c2"/>
<rect x="297.88" y="1945.91" width="5.4" height="28.69" fill="#f5e7cf"/>
<rect x="302.97" y="1945.91" width="5.4" height="28.69" fill="#f2f2f5"/>
<rect x="308.07" y="1945.91" width="5.4" height="28.69" fill="#f6e6cc"/>
<rect x="313.17" y="1945.91" width="5.4" height="28.69" fill="#f5deb8"/>
<rect x="318.26" y="1945.91" width="5.4" height="28.69" fill="#f5e7cf"/>
<rect x="323.36" y="1945.91" width="5.4" height="28.69" fill="#f4d19b"/>
<rect x="328.46" y="1945.91" width="5.4" height="28.69" fill="#ededf3"/>
<rect x="333.55" y="1945.91" width="5.4" height="28.69" fill="#efeff4"/>
<rect x="338.65" y="1945.91" width="5.4" height="28.69" fill="#eeeef3"/>
<rect x="343.75" y="1945.91" width="5.4" height="28.69" fill="#ececf3"/>
<rect x="348.84" y="1945.91" width="10.49" height="28.69" fill="#eeeef3"/>
<rect x="359.04" y="1945.91" width="5.4" height="28.69" fill="#e9e9f2"/>
<rect x="364.13" y="1945.91" width="5.4" height="28.69" fill="#f0f0f4"/>
<rect x="369.23" y="1945.91" width="5.4" height="28.69" fill="#e9e9f2"/>
<rect x="374.33" y="1945.91" width="5.4" height="28.69" fill="#eeeef3"/>
<rect x="379.43" y="1945.91" width="5.4" height="28.69" fill="#ececf3"/>
<rect x="384.52" y="1945.91" width="5.4" height="28.69" fill="#f2f2f5"/>
<rect x="389.62" y="1945.91" width="5.4" height="28.69" fill="#e8e8f1"/>
<rect x="394.72" y="1945.91" width="5.4" height="28.69" fill="#e6e6f1"/>
<rect x="399.81" y="1945.91" width="5.4" height="28.69" fill="#e5e5f0"/>
<rect x="404.91" y="1945.91" width="5.4" height="28.69" fill="#efeff4"/>
<rect x="410.01" y="1945.91" width="5.4" height="28.69" fill="#e9e9f2"/>
<rect x="415.1" y="1945.91" width="5.4" height="28.69" fill="#ececf3"/>
<rect x="420.2" y="1945.91" width="5.4" height="28.69" fill="#f6e0be"/>
<rect x="425.3" y="1945.91" width="5.4" height="28.69" fill="#e7e7f1"/>
<rect x="430.39" y="1945.91" width="5.4" height="28.69" fill="#e6e6f1"/>
<rect x="435.49" y="1945.91" width="5.4" height="28.69" fill="#eeeef3"/>
<rect x="440.59" y="1945.91" width="5.4" height="28.69" fill="#e8e8f1"/>
<rect x="445.68" y="1945.91" width="5.4" height="28.69" fill="#ececf3"/>
<rect x="450.78" y="1945.91" width="5.4" height="28.69" fill="#efeff4"/>
<rect x="455.88" y="1945.91" width="5.4" height="28.69" fill="#f0f0f4"/>
<rect x="460.97" y="1945.91" width="5.4" height="28.69" fill="#efeff4"/>
<rect x="466.07" y="1945.91" width="5.4" height="28.69" fill="#eeeef3"/>
<rect x="471.17" y="1945.91" width="5.4" height="28.69" fill="#e7e7f1"/>
<rect x="476.27" y="1945.91" width="5.4" height="28.69" fill="#ededf3"/>
<rect x="481.36" y="1945.91" width="5.4" height="28.69" fill="#e6e6f1"/>
<rect x="486.46" y="1945.91" width="5.4" height="28.69" fill="#e5e5f0"/>
<rect x="491.56" y="1945.91" width="5.4" height="28.69" fill="#e6e6f1"/>
<rect x="496.65" y="1945.91" width="5.4" height="28.69" fill="#e4e4f0"/>
<rect x="501.75" y="1945.91" width="10.49" height="28.69" fill="#eeeef3"/>
<rect x="511.94" y="1945.91" width="5.4" height="28.69" fill="#e6e6f1"/>
<rect x="517.04" y="1945.91" width="5.4" height="28.69" fill="#ebebf2"/>
<rect x="522.14" y="1945.91" width="5.4" height="28.69" fill="#f1f1f4"/>
<rect x="527.23" y="1945.91" width="5.4" height="28.69" fill="#e6e6f1"/>
<rect x="532.33" y="1945.91" width="5.4" height="28.69" fill="#f1f1f4"/>
<rect x="537.43" y="1945.91" width="5.4" height="28.69" fill="#e5e5f0"/>
<rect x="542.52" y="1945.91" width="5.4" height="28.69" fill="#e8e8f1"/>
<rect x="547.62" y="1945.91" width="10.49" height="28.69" fill="#e9e9f2"/>
<rect x="557.82" y="1945.91" width="5.4" height="28.69" fill="#e5e5f0"/>
<rect x="562.91" y="1945.91" width="5.4" height="28.69" fill="#e8e8f1"/>
<rect x="568.01" y="1945.91" width="5.4" height="28.69" fill="#efeff4"/>
<rect x="573.11" y="1945.91" width="15.59" height="28.69" fill="#e8e8f1"/>
<rect x="588.4" y="1945.91" width="5.4" height="28.69" fill="#efeff4"/>
<rect x="593.49" y="1945.91" width="5.4" height="28.69" fill="#e7e7f1"/>
<rect x="598.59" y="1945.91" width="5.4" height="28.69" fill="#efeff4"/>
<rect x="603.69" y="1945.91" width="10.49" height="28.69" fill="#f1f1f4"/>
<rect x="613.88" y="1945.91" width="5.4" height="28.69" fill="#e6e6f1"/>
<rect x="618.98" y="1945.91" width="5.4" height="28.69" fill="#f0f0f4"/>
<rect x="624.07" y="1945.91" width="5.4" height="28.69" fill="#e6e6f1"/>
<rect x="629.17" y="1945.91" width="5.4" height="28.69" fill="#ececf3"/>
<rect x="634.27" y="1945.91" width="5.4" height="28.69" fill="#f1f1f4"/>
<rect x="639.37" y="1945.91" width="5.4" height="28.69" fill="#e7e7f1"/>
<rect x="644.46" y="1945.91" width="5.4" height="28.69" fill="#ebebf2"/>
<rect x="649.56" y="1945.91" width="5.4" height="28.69" fill="#e7e7f1"/>
<rect x="654.66" y="1945.91" width="5.4" height="28.69" fill="#ededf3"/>
<rect x="659.75" y="1945.91" width="5.4" height="28.69" fill="#ececf3"/>
<rect x="664.85" y="1945.91" width="5.4" height="28.69" fill="#f0f0f4"/>
<rect x="669.95" y="1945.91" width="5.4" height="28.69" fill="#eaeaf2"/>
<rect x="675.04" y="1945.91" width="5.4" height="28.69" fill="#e6e6f1"/>
<rect x="680.14" y="1945.91" width="5.4" height="28.69" fill="#e5e5f0"/>
<rect x="685.24" y="1945.91" width="5.4" height="28.69" fill="#ebebf2"/>
<rect x="690.33" y="1945.91" width="10.49" height="28.69" fill="#eaeaf2"/>
<rect x="700.53" y="1945.91" width="10.49" height="28.69" fill="#ececf3"/>
<rect x="710.72" y="1945.91" width="5.4" height="28.69" fill="#eeeef3"/>
<rect x="715.82" y="1945.91" width="5.4" height="28.69" fill="#e9e9f2"/>
<rect x="720.92" y="1945.91" width="5.4" height="28.69" fill="#ececf3"/>
<rect x="726.01" y="1945.91" width="5.4" height="28.69" fill="#f2f2f5"/>
<rect x="731.11" y="1945.91" width="5.4" height="28.69" fill="#efeff4"/>
<rect x="736.21" y="1945.91" width="5.4" height="28.69" fill="#ededf3"/>
<rect x="741.3" y="1945.91" width="5.4" height="28.69" fill="#efeff4"/>
<rect x="94" y="1974.3" width="5.4" height="28.69" fill="#f1f1f4"/>
<rect x="99.1" y="1974.3" width="5.4" height="28.69" fill="#f5dab0"/>
<rect x="104.19" y="1974.3" width="5.4" height="28.69" fill="#f3f2f2"/>
<rect x="109.29" y="1974.3" width="5.4" height="28.69" fill="#f5ddb7"/>
<rect x="114.39" y="1974.3" width="5.4" height="28.69" fill="#f4d5a4"/>
<rect x="119.48" y="1974.3" width="5.4" height="28.69" fill="#f3ce95"/>
<rect x="124.58" y="1974.3" width="5.4" height="28.69" fill="#f2f2f5"/>
<rect x="129.68" y="1974.3" width="5.4" height="28.69" fill="#f3f2f2"/>
<rect x="134.78" y="1974.3" width="5.4" height="28.69" fill="#f5e6cf"/>
<rect x="139.87" y="1974.3" width="5.4" height="28.69" fill="#f5e8d2"/>
<rect x="144.97" y="1974.3" width="5.4" height="28.69" fill="#f4ebdd"/>
<rect x="150.07" y="1974.3" width="5.4" height="28.69" fill="#f5ead9"/>
<rect x="155.16" y="1974.3" width="5.4" height="28.69" fill="#f3f3f5"/>
<rect x="160.26" y="1974.3" width="5.4" height="28.69" fill="#f5ddb6"/>
<rect x="165.36" y="1974.3" width="5.4" height="28.69" fill="#f5eadb"/>
<rect x="170.45" y="1974.3" width="5.4" height="28.69" fill="#f5ebdc"/>
<rect x="175.55" y="1974.3" width="5.4" height="28.69" fill="#f4ecdf"/>
<rect x="180.65" y="1974.3" width="5.4" height="28.69" fill="#f2f2f5"/>
<rect x="185.74" y="1974.3" width="5.4" height="28.69" fill="#f3ce96"/>
<rect x="190.84" y="1974.3" width="5.4" height="28.69" fill="#f6e0bd"/>
<rect x="195.94" y="1974.3" width="5.4" height="28.69" fill="#f4d4a2"/>
<rect x="201.03" y="1974.3" width="5.4" height="28.69" fill="#f4f0ec"/>
<rect x="206.13" y="1974.3" width="5.4" height="28.69" fill="#f5e7d1"/>
<rect x="211.23" y="1974.3" width="5.4" height="28.69" fill="#f5ddb6"/>
<rect x="216.32" y="1974.3" width="5.4" height="28.69" fill="#f2f2f5"/>
<rect x="221.42" y="1974.3" width="5.4" height="28.69" fill="#f5e9d7"/>
<rect x="226.52" y="1974.3" width="5.4" height="28.69" fill="#f0f0f4"/>
<rect x="231.62" y="1974.3" width="5.4" height="28.69" fill="#f5ead8"/>
<rect x="236.71" y="1974.3" width="5.4" height="28.69" fill="#f2f2f5"/>
<rect x="241.81" y="1974.3" width="5.4" height="28.69" fill="#f4f0ec"/>
<rect x="246.91" y="1974.3" width="5.4" height="28.69" fill="#f4d4a2"/>
<rect x="252" y="1974.3" width="5.4" height="28.69" fill="#f3f1f0"/>
<rect x="257.1" y="1974.3" width="5.4" height="28.69" fill="#f1f1f4"/>
<rect x="262.2" y="1974.3" width="5.4" height="28.69" fill="#f6e2c2"/>
<rect x="267.29" y="1974.3" width="5.4" height="28.69" fill="#f4eee5"/>
<rect x="272.39" y="1974.3" width="5.4" height="28.69" fill="#f4efe9"/>
<rect x="277.49" y="1974.3" width="5.4" height="28.69" fill="#f5deb8"/>
<rect x="282.58" y="1974.3" width="5.4" height="28.69" fill="#bc661e"/>
<rect x="287.68" y="1974.3" width="5.4" height="28.69" fill="#f0f0f4"/>
<rect x="292.78" y="1974.3" width="5.4" height="28.69" fill="#e9a64e"/>
<rect x="297.88" y="1974.3" width="5.4" height="28.69" fill="#f2f2f5"/>
<rect x="302.97" y="1974.3" width="5.4" height="28.69" fill="#f1f1f4"/>
<rect x="308.07" y="1974.3" width="5.4" height="28.69" fill="#f5e9d6"/>
<rect x="313.17" y="1974.3" width="5.4" height="28.69" fill="#f5d9ae"/>
<rect x="318.26" y="1974.3" width="5.4" height="28.69" fill="#f4efe9"/>
<rect x="323.36" y="1974.3" width="5.4" height="28.69" fill="#f6e6cc"/>
<rect x="328.46" y="1974.3" width="5.4" height="28.69" fill="#f5d9ad"/>
<rect x="333.55" y="1974.3" width="5.4" height="28.69" fill="#ededf3"/>
<rect x="338.65" y="1974.3" width="5.4" height="28.69" fill="#e6e6f1"/>
<rect x="343.75" y="1974.3" width="5.4" height="28.69" fill="#eeeef3"/>
<rect x="348.84" y="1974.3" width="5.4" height="28.69" fill="#ebebf2"/>
<rect x="353.94" y="1974.3" width="5.4" height="28.69" fill="#f0f0f4"/>
<rect x="359.04" y="1974.3" width="10.49" height="28.69" fill="#ededf3"/>
<rect x="369.23" y="1974.3" width="5.4" height="28.69" fill="#eeeef3"/>
<rect x="374.33" y="1974.3" width="5.4" height="28.69" fill="#e5e5f0"/>
<rect x="379.43" y="1974.3" width="5.4" height="28.69" fill="#e8e8f1"/>
<rect x="384.52" y="1974.3" width="5.4" height="28.69" fill="#eaeaf2"/>
<rect x="389.62" y="1974.3" width="5.4" height="28.69" fill="#e6e6f1"/>
<rect x="394.72" y="1974.3" width="5.4" height="28.69" fill="#ebebf2"/>
<rect x="399.81" y="1974.3" width="5.4" height="28.69" fill="#f0f0f4"/>
<rect x="404.91" y="1974.3" width="5.4" height="28.69" fill="#e6e6f1"/>
<rect x="410.01" y="1974.3" width="5.4" height="28.69" fill="#eeeef3"/>
<rect x="415.1" y="1974.3" width="5.4" height="28.69" fill="#ebebf2"/>
<rect x="420.2" y="1974.3" width="5.4" height="28.69" fill="#e6e6f1"/>
<rect x="425.3" y="1974.3" width="5.4" height="28.69" fill="#ededf3"/>
<rect x="430.39" y="1974.3" width="5.4" height="28.69" fill="#e9e9f2"/>
<rect x="435.49" y="1974.3" width="5.4" height="28.69" fill="#f1f1f4"/>
<rect x="440.59" y="1974.3" width="5.4" height="28.69" fill="#eeeef3"/>
<rect x="445.68" y="1974.3" width="5.4" height="28.69" fill="#e7e7f1"/>
<rect x="450.78" y="1974.3" width="5.4" height="28.69" fill="#e9e9f2"/>
<rect x="455.88" y="1974.3" width="5.4" height="28.69" fill="#efeff4"/>
<rect x="460.97" y="1974.3" width="5.4" height="28.69" fill="#ececf3"/>
<rect x="466.07" y="1974.3" width="5.4" height="28.69" fill="#eeeef3"/>
<rect x="471.17" y="1974.3" width="5.4" height="28.69" fill="#e4e4f0"/>
<rect x="476.27" y="1974.3" width="5.4" height="28.69" fill="#e7e7f1"/>
<rect x="481.36" y="1974.3" width="5.4" height="28.69" fill="#ebebf2"/>
<rect x="486.46" y="1974.3" width="5.4" height="28.69" fill="#e7e7f1"/>
<rect x="491.56" y="1974.3" width="5.4" height="28.69" fill="#ededf3"/>
<rect x="496.65" y="1974.3" width="5.4" height="28.69" fill="#eaeaf2"/>
<rect x="501.75" y="1974.3" width="5.4" height="28.69" fill="#e5e5f0"/>
<rect x="506.85" y="1974.3" width="5.4" height="28.69" fill="#eaeaf2"/>
<rect x="511.94" y="1974.3" width="5.4" height="28.69" fill="#f5ddb8"/>
<rect x="517.04" y="1974.3" width="5.4" height="28.69" fill="#efeff4"/>
<rect x="522.14" y="1974.3" width="5.4" height="28.69" fill="#e5e5f0"/>
<rect x="527.23" y="1974.3" width="5.4" height="28.69" fill="#eeeef3"/>
<rect x="532.33" y="1974.3" width="5.4" height="28.69" fill="#f1f1f4"/>
<rect x="537.43" y="1974.3" width="5.4" height="28.69" fill="#efeff4"/>
<rect x="542.52" y="1974.3" width="5.4" height="28.69" fill="#ececf3"/>
<rect x="547.62" y="1974.3" width="5.4" height="28.69" fill="#f1f1f4"/>
<rect x="552.72" y="1974.3" width="10.49" height="28.69" fill="#ebebf2"/>
<rect x="562.91" y="1974.3" width="5.4" height="28.69" fill="#e8e8f1"/>
<rect x="568.01" y="1974.3" width="10.49" height="28.69" fill="#ededf3"/>
<rect x="578.2" y="1974.3" width="5.4" height="28.69" fill="#e9e9f2"/>
<rect x="583.3" y="1974.3" width="5.4" height="28.69" fill="#ececf3"/>
<rect x="588.4" y="1974.3" width="5.4" height="28.69" fill="#e5e5f0"/>
<rect x="593.49" y="1974.3" width="5.4" height="28.69" fill="#efeff4"/>
<rect x="598.59" y="1974.3" width="5.4" height="28.69" fill="#eaeaf2"/>
<rect x="603.69" y="1974.3" width="5.4" height="28.69" fill="#f0f0f4"/>
<rect x="608.78" y="1974.3" width="5.4" height="28.69" fill="#efeff4"/>
<rect x="613.88" y="1974.3" width="5.4" height="28.69" fill="#e7e7f1"/>
<rect x="618.98" y="1974.3" width="5.4" height="28.69" fill="#e6e6f1"/>
<rect x="624.07" y="1974.3" width="5.4" height="28.69" fill="#ececf3"/>
<rect x="629.17" y="1974.3" width="5.4" height="28.69" fill="#e6e6f1"/>
<rect x="634.27" y="1974.3" width="5.4" height="28.69" fill="#ededf3"/>
<rect x="639.37" y="1974.3" width="5.4" height="28.69" fill="#e4e4f0"/>
<rect x="644.46" y="1974.3" width="5.4" height="28.69" fill="#ebebf2"/>
<rect x="649.56" y="1974.3" width="5.4" height="28.69" fill="#e9e9f2"/>
<rect x="654.66" y="1974.3" width="5.4" height="28.69" fill="#f0f0f4"/>
<rect x="659.75" y="1974.3" width="5.4" height="28.69" fill="#ededf3"/>
<rect x="664.85" y="1974.3" width="5.4" height="28.69" fill="#e9e9f2"/>
<rect x="669.95" y="1974.3" width="5.4" height="28.69" fill="#f1f1f4"/>
<rect x="675.04" y="1974.3" width="5.4" height="28.69" fill="#e8e8f1"/>
<rect x="680.14" y="1974.3" width="5.4" height="28.69" fill="#f0f0f4"/>
<rect x="685.24" y="1974.3" width="5.4" height="28.69" fill="#e7e7f1"/>
<rect x="690.33" y="1974.3" width="5.4" height="28.69" fill="#e8e8f1"/>
<rect x="695.43" y="1974.3" width="5.4" height="28.69" fill="#f1f1f4"/>
<rect x="700.53" y="1974.3" width="5.4" height="28.69" fill="#e5e5f0"/>
<rect x="705.62" y="1974.3" width="5.4" height="28.69" fill="#ededf3"/>
<rect x="710.72" y="1974.3" width="5.4" height="28.69" fill="#e9e9f2"/>
<rect x="715.82" y="1974.3" width="5.4" height="28.69" fill="#ededf3"/>
<rect x="720.92" y="1974.3" width="5.4" height="28.69" fill="#ebebf2"/>
<rect x="726.01" y="1974.3" width="5.4" height="28.69" fill="#f0f0f4"/>
<rect x="731.11" y="1974.3" width="10.49" height="28.69" fill="#ececf3"/>
<rect x="741.3" y="1974.3" width="5.4" height="28.69" fill="#f5d8aa"/>
<rect x="94" y="2002.69" width="5.4" height="28.69" fill="#f3cd92"/>
<rect x="99.1" y="2002.69" width="5.4" height="28.69" fill="#f6e0be"/>
<rect x="104.19" y="2002.69" width="5.4" height="28.69" fill="#f4f0ed"/>
<rect x="109.29" y="2002.69" width="5.4" height="28.69" fill="#f3f1f0"/>
<rect x="114.39" y="2002.69" width="5.4" height="28.69" fill="#f3f2f2"/>
<rect x="119.48" y="2002.69" width="5.4" height="28.69" fill="#f5e8d4"/>
<rect x="124.58" y="2002.69" width="5.4" height="28.69" fill="#f3cd92"/>
<rect x="129.68" y="2002.69" width="5.4" height="28.69" fill="#f4cf98"/>
<rect x="134.78" y="2002.69" width="5.4" height="28.69" fill="#f5e7d0"/>
<rect x="139.87" y="2002.69" width="5.4" height="28.69" fill="#f3cd93"/>
<rect x="144.97" y="2002.69" width="5.4" height="28.69" fill="#f4ecde"/>
<rect x="150.07" y="2002.69" width="5.4" height="28.69" fill="#f2f2f5"/>
<rect x="155.16" y="2002.69" width="5.4" height="28.69" fill="#f6dfbb"/>
<rect x="160.26" y="2002.69" width="5.4" height="28.69" fill="#f3cd92"/>
<rect x="165.36" y="2002.69" width="5.4" height="28.69" fill="#f5ead8"/>
<rect x="170.45" y="2002.69" width="5.4" height="28.69" fill="#f3f1ef"/>
<rect x="175.55" y="2002.69" width="5.4" height="28.69" fill="#f5e8d4"/>
<rect x="180.65" y="2002.69" width="5.4" height="28.69" fill="#f6e1c0"/>
<rect x="185.74" y="2002.69" width="5.4" height="28.69" fill="#f3f1ef"/>
<rect x="190.84" y="2002.69" width="5.4" height="28.69" fill="#f5deb9"/>
<rect x="195.94" y="2002.69" width="5.4" height="28.69" fill="#f6e0be"/>
<rect x="201.03" y="2002.69" width="5.4" height="28.69" fill="#f4d19b"/>
<rect x="206.13" y="2002.69" width="5.4" height="28.69" fill="#f6e0bd"/>
<rect x="211.23" y="2002.69" width="5.4" height="28.69" fill="#f4ebde"/>
<rect x="216.32" y="2002.69" width="5.4" height="28.69" fill="#f1f1f4"/>
<rect x="221.42" y="2002.69" width="5.4" height="28.69" fill="#f5dcb5"/>
<rect x="226.52" y="2002.69" width="5.4" height="28.69" fill="#f4d29d"/>
<rect x="231.62" y="2002.69" width="5.4" height="28.69" fill="#f3f3f4"/>
<rect x="236.71" y="2002.69" width="5.4" height="28.69" fill="#f3f3f5"/>
<rect x="241.81" y="2002.69" width="5.4" height="28.69" fill="#f4f0ed"/>
<rect x="246.91" y="2002.69" width="5.4" height="28.69" fill="#f5e9d8"/>
<rect x="252" y="2002.69" width="5.4" height="28.69" fill="#f5ebdb"/>
<rect x="257.1" y="2002.69" width="5.4" height="28.69" fill="#f0f0f4"/>
<rect x="262.2" y="2002.69" width="5.4" height="28.69" fill="#f6e6cc"/>
<rect x="267.29" y="2002.69" width="5.4" height="28.69" fill="#f0f0f4"/>
<rect x="272.39" y="2002.69" width="5.4" height="28.69" fill="#f5ead8"/>
<rect x="277.49" y="2002.69" width="5.4" height="28.69" fill="#f6e2c2"/>
<rect x="282.58" y="2002.69" width="5.4" height="28.69" fill="#b15e1c"/>
<rect x="287.68" y="2002.69" width="5.4" height="28.69" fill="#f0f0f4"/>
<rect x="292.78" y="2002.69" width="5.4" height="28.69" fill="#f6e2c2"/>
<rect x="297.88" y="2002.69" width="5.4" height="28.69" fill="#f0f0f4"/>
<rect x="302.97" y="2002.69" width="5.4" height="28.69" fill="#f3f2f3"/>
<rect x="308.07" y="2002.69" width="5.4" height="28.69" fill="#f5d9ae"/>
<rect x="313.17" y="2002.69" width="5.4" height="28.69" fill="#f5deb8"/>
<rect x="318.26" y="2002.69" width="5.4" height="28.69" fill="#f1f1f4"/>
<rect x="323.36" y="2002.69" width="5.4" height="28.69" fill="#f3c887"/>
<rect x="328.46" y="2002.69" width="5.4" height="28.69" fill="#e4e4f0"/>
<rect x="333.55" y="2002.69" width="5.4" height="28.69" fill="#eaeaf2"/>
<rect x="338.65" y="2002.69" width="5.4" height="28.69" fill="#f0f0f4"/>
<rect x="343.75" y="2002.69" width="5.4" height="28.69" fill="#e5e5f0"/>
<rect x="348.84" y="2002.69" width="5.4" height="28.69" fill="#ededf3"/>
<rect x="353.94" y="2002.69" width="5.4" height="28.69" fill="#f1f1f4"/>
<rect x="359.04" y="2002.69" width="5.4" height="28.69" fill="#e9e9f2"/>
<rect x="364.13" y="2002.69" width="5.4" height="28.69" fill="#e7e7f1"/>
<rect x="369.23" y="2002.69" width="5.4" height="28.69" fill="#ededf3"/>
<rect x="374.33" y="2002.69" width="5.4" height="28.69" fill="#ececf3"/>
<rect x="379.43" y="2002.69" width="5.4" height="28.69" fill="#e4e4f0"/>
<rect x="384.52" y="2002.69" width="5.4" height="28.69" fill="#e6e6f1"/>
<rect x="389.62" y="2002.69" width="5.4" height="28.69" fill="#ebebf2"/>
<rect x="394.72" y="2002.69" width="5.4" height="28.69" fill="#e5e5f0"/>
<rect x="399.81" y="2002.69" width="5.4" height="28.69" fill="#ececf3"/>
<rect x="404.91" y="2002.69" width="5.4" height="28.69" fill="#e5e5f0"/>
<rect x="410.01" y="2002.69" width="5.4" height="28.69" fill="#eeeef3"/>
<rect x="415.1" y="2002.69" width="5.4" height="28.69" fill="#e8e8f1"/>
<rect x="420.2" y="2002.69" width="5.4" height="28.69" fill="#e5e5f0"/>
<rect x="425.3" y="2002.69" width="10.49" height="28.69" fill="#e6e6f1"/>
<rect x="435.49" y="2002.69" width="5.4" height="28.69" fill="#efeff4"/>
<rect x="440.59" y="2002.69" width="5.4" height="28.69" fill="#e5e5f0"/>
<rect x="445.68" y="2002.69" width="5.4" height="28.69" fill="#ededf3"/>
<rect x="450.78" y="2002.69" width="5.4" height="28.69" fill="#e4e4f0"/>
<rect x="455.88" y="2002.69" width="5.4" height="28.69" fill="#eeeef3"/>
<rect x="460.97" y="2002.69" width="5.4" height="28.69" fill="#f0f0f4"/>
<rect x="466.07" y="2002.69" width="5.4" height="28.69" fill="#efeff4"/>
<rect x="471.17" y="2002.69" width="5.4" height="28.69" fill="#e4e4f0"/>
<rect x="476.27" y="2002.69" width="5.4" height="28.69" fill="#e5e5f0"/>
<rect x="481.36" y="2002.69" width="5.4" height="28.69" fill="#efeff4"/>
<rect x="486.46" y="2002.69" width="5.4" height="28.69" fill="#f5dbb1"/>
<rect x="491.56" y="2002.69" width="5.4" height="28.69" fill="#f0f0f4"/>
<rect x="496.65" y="2002.69" width="10.49" height="28.69" fill="#e4e4f0"/>
<rect x="506.85" y="2002.69" width="5.4" height="28.69" fill="#e5e5f0"/>
<rect x="511.94" y="2002.69" width="5.4" height="28.69" fill="#e7e7f1"/>
<rect x="517.04" y="2002.69" width="5.4" height="28.69" fill="#ececf3"/>
<rect x="522.14" y="2002.69" width="5.4" height="28.69" fill="#e8e8f1"/>
<rect x="527.23" y="2002.69" width="5.4" height="28.69" fill="#eaeaf2"/>
<rect x="532.33" y="2002.69" width="5.4" height="28.69" fill="#ededf3"/>
<rect x="537.43" y="2002.69" width="5.4" height="28.69" fill="#e8e8f1"/>
<rect x="542.52" y="2002.69" width="5.4" height="28.69" fill="#eeeef3"/>
<rect x="547.62" y="2002.69" width="5.4" height="28.69" fill="#e5e5f0"/>
<rect x="552.72" y="2002.69" width="5.4" height="28.69" fill="#e7e7f1"/>
<rect x="557.82" y="2002.69" width="5.4" height="28.69" fill="#e6e6f1"/>
<rect x="562.91" y="2002.69" width="5.4" height="28.69" fill="#e8e8f1"/>
<rect x="568.01" y="2002.69" width="5.4" height="28.69" fill="#f1f1f4"/>
<rect x="573.11" y="2002.69" width="5.4" height="28.69" fill="#e5e5f0"/>
<rect x="578.2" y="2002.69" width="5.4" height="28.69" fill="#e8e8f1"/>
<rect x="583.3" y="2002.69" width="5.4" height="28.69" fill="#e7e7f1"/>
<rect x="588.4" y="2002.69" width="5.4" height="28.69" fill="#f5deb8"/>
<rect x="593.49" y="2002.69" width="5.4" height="28.69" fill="#e9e9f2"/>
<rect x="598.59" y="2002.69" width="5.4" height="28.69" fill="#eaeaf2"/>
<rect x="603.69" y="2002.69" width="5.4" height="28.69" fill="#e6e6f1"/>
<rect x="608.78" y="2002.69" width="5.4" height="28.69" fill="#eaeaf2"/>
<rect x="613.88" y="2002.69" width="5.4" height="28.69" fill="#e6e6f1"/>
<rect x="618.98" y="2002.69" width="5.4" height="28.69" fill="#ebebf2"/>
<rect x="624.07" y="2002.69" width="5.4" height="28.69" fill="#e7e7f1"/>
<rect x="629.17" y="2002.69" width="5.4" height="28.69" fill="#f1f1f4"/>
<rect x="634.27" y="2002.69" width="5.4" height="28.69" fill="#f0f0f4"/>
<rect x="639.37" y="2002.69" width="5.4" height="28.69" fill="#eaeaf2"/>
<rect x="644.46" y="2002.69" width="5.4" height="28.69" fill="#e8e8f1"/>
<rect x="649.56" y="2002.69" width="5.4" height="28.69" fill="#f1f1f4"/>
<rect x="654.66" y="2002.69" width="5.4" height="28.69" fill="#e7e7f1"/>
<rect x="659.75" y="2002.69" width="5.4" height="28.69" fill="#eaeaf2"/>
<rect x="664.85" y="2002.69" width="5.4" height="28.69" fill="#f5dab1"/>
<rect x="669.95" y="2002.69" width="5.4" height="28.69" fill="#ededf3"/>
<rect x="675.04" y="2002.69" width="5.4" height="28.69" fill="#e5e5f0"/>
<rect x="680.14" y="2002.69" width="5.4" height="28.69" fill="#efeff4"/>
<rect x="685.24" y="2002.69" width="5.4" height="28.69" fill="#ededf3"/>
<rect x="690.33" y="2002.69" width="5.4" height="28.69" fill="#e8e8f1"/>
<rect x="695.43" y="2002.69" width="5.4" height="28.69" fill="#e4e4f0"/>
<rect x="700.53" y="2002.69" width="5.4" height="28.69" fill="#eaeaf2"/>
<rect x="705.62" y="2002.69" width="10.49" height="28.69" fill="#f5deb9"/>
<rect x="715.82" y="2002.69" width="5.4" height="28.69" fill="#ebebf2"/>
<rect x="720.92" y="2002.69" width="5.4" height="28.69" fill="#ececf3"/>
<rect x="726.01" y="2002.69" width="5.4" height="28.69" fill="#f1f1f4"/>
<rect x="731.11" y="2002.69" width="5.4" height="28.69" fill="#e5e5f0"/>
<rect x="736.21" y="2002.69" width="5.4" height="28.69" fill="#e9e9f2"/>
<rect x="741.3" y="2002.69" width="5.4" height="28.69" fill="#e8e8f1"/>
<rect x="94" y="2031.08" width="5.4" height="28.69" fill="#bc661e"/>
<rect x="99.1" y="2031.08" width="5.4" height="28.69" fill="#f4f0eb"/>
<rect x="104.19" y="2031.08" width="5.4" height="28.69" fill="#f2f2f5"/>
<rect x="109.29" y="2031.08" width="5.4" height="28.69" fill="#f6e5cb"/>
<rect x="114.39" y="2031.08" width="5.4" height="28.69" fill="#f5dfba"/>
<rect x="119.48" y="2031.08" width="5.4" height="28.69" fill="#f3ce95"/>
<rect x="124.58" y="2031.08" width="5.4" height="28.69" fill="#f5d7aa"/>
<rect x="129.68" y="2031.08" width="5.4" height="28.69" fill="#f3ca8d"/>
<rect x="134.78" y="2031.08" width="5.4" height="28.69" fill="#f5daaf"/>
<rect x="139.87" y="2031.08" width="5.4" height="28.69" fill="#f5dbb3"/>
<rect x="144.97" y="2031.08" width="5.4" height="28.69" fill="#f3f3f4"/>
<rect x="150.07" y="2031.08" width="5.4" height="28.69" fill="#f6e4c7"/>
<rect x="155.16" y="2031.08" width="5.4" height="28.69" fill="#f3cc91"/>
<rect x="160.26" y="2031.08" width="5.4" height="28.69" fill="#f5e7d0"/>
<rect x="165.36" y="2031.08" width="5.4" height="28.69" fill="#f3f2f1"/>
<rect x="170.45" y="2031.08" width="5.4" height="28.69" fill="#f6e6cc"/>
<rect x="175.55" y="2031.08" width="5.4" height="28.69" fill="#f4cf97"/>
<rect x="180.65" y="2031.08" width="5.4" height="28.69" fill="#f5e6ce"/>
<rect x="185.74" y="2031.08" width="5.4" height="28.69" fill="#f3cd92"/>
<rect x="190.84" y="2031.08" width="5.4" height="28.69" fill="#f5ddb6"/>
<rect x="195.94" y="2031.08" width="5.4" height="28.69" fill="#f3cb8e"/>
<rect x="201.03" y="2031.08" width="5.4" height="28.69" fill="#f5d7a9"/>
<rect x="206.13" y="2031.08" width="5.4" height="28.69" fill="#f4f0eb"/>
<rect x="211.23" y="2031.08" width="10.49" height="28.69" fill="#f3f2f1"/>
<rect x="221.42" y="2031.08" width="5.4" height="28.69" fill="#f5dfba"/>
<rect x="226.52" y="2031.08" width="5.4" height="28.69" fill="#f1f1f4"/>
<rect x="231.62" y="2031.08" width="5.4" height="28.69" fill="#eeb768"/>
<rect x="236.71" y="2031.08" width="5.4" height="28.69" fill="#f0bb6f"/>
<rect x="241.81" y="2031.08" width="5.4" height="28.69" fill="#f3ce94"/>
<rect x="246.91" y="2031.08" width="5.4" height="28.69" fill="#f5d9ae"/>
<rect x="252" y="2031.08" width="5.4" height="28.69" fill="#f5e9d6"/>
<rect x="257.1" y="2031.08" width="5.4" height="28.69" fill="#eeeef3"/>
<rect x="262.2" y="2031.08" width="5.4" height="28.69" fill="#e9e9f2"/>
<rect x="267.29" y="2031.08" width="5.4" height="28.69" fill="#ededf3"/>
<rect x="272.39" y="2031.08" width="5.4" height="28.69" fill="#e5e5f0"/>
<rect x="277.49" y="2031.08" width="5.4" height="28.69" fill="#e9e9f2"/>
<rect x="282.58" y="2031.08" width="5.4" height="28.69" fill="#ececf3"/>
<rect x="287.68" y="2031.08" width="5.4" height="28.69" fill="#f0f0f4"/>
<rect x="292.78" y="2031.08" width="5.4" height="28.69" fill="#e6e6f1"/>
<rect x="297.88" y="2031.08" width="5.4" height="28.69" fill="#eeeef3"/>
<rect x="302.97" y="2031.08" width="5.4" height="28.69" fill="#ebebf2"/>
<rect x="308.07" y="2031.08" width="5.4" height="28.69" fill="#e6e6f1"/>
<rect x="313.17" y="2031.08" width="5.4" height="28.69" fill="#e9e9f2"/>
<rect x="318.26" y="2031.08" width="5.4" height="28.69" fill="#ececf3"/>
<rect x="323.36" y="2031.08" width="5.4" height="28.69" fill="#ededf3"/>
<rect x="328.46" y="2031.08" width="5.4" height="28.69" fill="#ebebf2"/>
<rect x="333.55" y="2031.08" width="5.4" height="28.69" fill="#e9e9f2"/>
<rect x="338.65" y="2031.08" width="5.4" height="28.69" fill="#eaeaf2"/>
<rect x="343.75" y="2031.08" width="5.4" height="28.69" fill="#e6e6f1"/>
<rect x="348.84" y="2031.08" width="5.4" height="28.69" fill="#ebebf2"/>
<rect x="353.94" y="2031.08" width="10.49" height="28.69" fill="#ededf3"/>
<rect x="364.13" y="2031.08" width="5.4" height="28.69" fill="#eeeef3"/>
<rect x="369.23" y="2031.08" width="5.4" height="28.69" fill="#e8e8f1"/>
<rect x="374.33" y="2031.08" width="5.4" height="28.69" fill="#eaeaf2"/>
<rect x="379.43" y="2031.08" width="5.4" height="28.69" fill="#e6e6f1"/>
<rect x="384.52" y="2031.08" width="5.4" height="28.69" fill="#ebebf2"/>
<rect x="389.62" y="2031.08" width="5.4" height="28.69" fill="#ededf3"/>
<rect x="394.72" y="2031.08" width="5.4" height="28.69" fill="#e6e6f1"/>
<rect x="399.81" y="2031.08" width="5.4" height="28.69" fill="#e3e3f0"/>
<rect x="404.91" y="2031.08" width="5.4" height="28.69" fill="#ececf3"/>
<rect x="410.01" y="2031.08" width="5.4" height="28.69" fill="#eeeef3"/>
<rect x="415.1" y="2031.08" width="5.4" height="28.69" fill="#ededf3"/>
<rect x="420.2" y="2031.08" width="5.4" height="28.69" fill="#e6e6f1"/>
<rect x="425.3" y="2031.08" width="10.49" height="28.69" fill="#eaeaf2"/>
<rect x="435.49" y="2031.08" width="10.49" height="28.69" fill="#e9e9f2"/>
<rect x="445.68" y="2031.08" width="5.4" height="28.69" fill="#eeeef3"/>
<rect x="450.78" y="2031.08" width="5.4" height="28.69" fill="#e9e9f2"/>
<rect x="455.88" y="2031.08" width="5.4" height="28.69" fill="#e7e7f1"/>
<rect x="460.97" y="2031.08" width="5.4" height="28.69" fill="#ededf3"/>
<rect x="466.07" y="2031.08" width="5.4" height="28.69" fill="#eeeef3"/>
<rect x="471.17" y="2031.08" width="5.4" height="28.69" fill="#f6e3c5"/>
<rect x="476.27" y="2031.08" width="5.4" height="28.69" fill="#ececf3"/>
<rect x="481.36" y="2031.08" width="5.4" height="28.69" fill="#eaeaf2"/>
<rect x="486.46" y="2031.08" width="5.4" height="28.69" fill="#e3e3f0"/>
<rect x="491.56" y="2031.08" width="5.4" height="28.69" fill="#ebebf2"/>
<rect x="496.65" y="2031.08" width="5.4" height="28.69" fill="#e5e5f0"/>
<rect x="501.75" y="2031.08" width="5.4" height="28.69" fill="#efeff4"/>
<rect x="506.85" y="2031.08" width="5.4" height="28.69" fill="#e5e5f0"/>
<rect x="511.94" y="2031.08" width="10.49" height="28.69" fill="#e3e3f0"/>
<rect x="522.14" y="2031.08" width="10.49" height="28.69" fill="#e8e8f1"/>
<rect x="532.33" y="2031.08" width="5.4" height="28.69" fill="#ebebf2"/>
<rect x="537.43" y="2031.08" width="5.4" height="28.69" fill="#e8e8f1"/>
<rect x="542.52" y="2031.08" width="5.4" height="28.69" fill="#e3e3f0"/>
<rect x="547.62" y="2031.08" width="5.4" height="28.69" fill="#ededf3"/>
<rect x="552.72" y="2031.08" width="5.4" height="28.69" fill="#ebebf2"/>
<rect x="557.82" y="2031.08" width="5.4" height="28.69" fill="#f6e4c7"/>
<rect x="562.91" y="2031.08" width="5.4" height="28.69" fill="#ececf3"/>
<rect x="568.01" y="2031.08" width="5.4" height="28.69" fill="#e5e5f0"/>
<rect x="573.11" y="2031.08" width="5.4" height="28.69" fill="#ececf3"/>
<rect x="578.2" y="2031.08" width="5.4" height="28.69" fill="#e8e8f1"/>
<rect x="583.3" y="2031.08" width="5.4" height="28.69" fill="#e5e5f0"/>
<rect x="588.4" y="2031.08" width="5.4" height="28.69" fill="#f0f0f4"/>
<rect x="593.49" y="2031.08" width="5.4" height="28.69" fill="#ebebf2"/>
<rect x="598.59" y="2031.08" width="5.4" height="28.69" fill="#e5e5f0"/>
<rect x="603.69" y="2031.08" width="5.4" height="28.69" fill="#f0f0f4"/>
<rect x="608.78" y="2031.08" width="5.4" height="28.69" fill="#ececf3"/>
<rect x="613.88" y="2031.08" width="5.4" height="28.69" fill="#ededf3"/>
<rect x="618.98" y="2031.08" width="5.4" height="28.69" fill="#e9e9f2"/>
<rect x="624.07" y="2031.08" width="5.4" height="28.69" fill="#e6e6f1"/>
<rect x="629.17" y="2031.08" width="5.4" height="28.69" fill="#e2e2ef"/>
<rect x="634.27" y="2031.08" width="5.4" height="28.69" fill="#eaeaf2"/>
<rect x="639.37" y="2031.08" width="5.4" height="28.69" fill="#ececf3"/>
<rect x="644.46" y="2031.08" width="5.4" height="28.69" fill="#e3e3f0"/>
<rect x="649.56" y="2031.08" width="5.4" height="28.69" fill="#e8e8f1"/>
<rect x="654.66" y="2031.08" width="10.49" height="28.69" fill="#efeff4"/>
<rect x="664.85" y="2031.08" width="5.4" height="28.69" fill="#ededf3"/>
<rect x="669.95" y="2031.08" width="5.4" height="28.69" fill="#e5e5f0"/>
<rect x="675.04" y="2031.08" width="5.4" height="28.69" fill="#f0f0f4"/>
<rect x="680.14" y="2031.08" width="5.4" height="28.69" fill="#efeff4"/>
<rect x="685.24" y="2031.08" width="5.4" height="28.69" fill="#e7e7f1"/>
<rect x="690.33" y="2031.08" width="5.4" height="28.69" fill="#eeeef3"/>
<rect x="695.43" y="2031.08" width="5.4" height="28.69" fill="#ececf3"/>
<rect x="700.53" y="2031.08" width="5.4" height="28.69" fill="#efeff4"/>
<rect x="705.62" y="2031.08" width="5.4" height="28.69" fill="#ebebf2"/>
<rect x="710.72" y="2031.08" width="5.4" height="28.69" fill="#e8e8f1"/>
<rect x="715.82" y="2031.08" width="5.4" height="28.69" fill="#efeff4"/>
<rect x="720.92" y="2031.08" width="5.4" height="28.69" fill="#e3e3f0"/>
<rect x="726.01" y="2031.08" width="5.4" height="28.69" fill="#e6e6f1"/>
<rect x="731.11" y="2031.08" width="5.4" height="28.69" fill="#eeeef3"/>
<rect x="736.21" y="2031.08" width="5.4" height="28.69" fill="#e4e4f0"/>
<rect x="741.3" y="2031.08" width="5.4" height="28.69" fill="#e8e8f1"/>
<rect x="94" y="2059.47" width="5.4" height="28.69" fill="#e49736"/>
<rect x="99.1" y="2059.47" width="5.4" height="28.69" fill="#eeb768"/>
<rect x="104.19" y="2059.47" width="5.4" height="28.69" fill="#f5e7d1"/>
<rect x="109.29" y="2059.47" width="5.4" height="28.69" fill="#f5e8d5"/>
<rect x="114.39" y="2059.47" width="5.4" height="28.69" fill="#f0f0f4"/>
<rect x="119.48" y="2059.47" width="5.4" height="28.69" fill="#f5e6ce"/>
<rect x="124.58" y="2059.47" width="5.4" height="28.69" fill="#f3f1ee"/>
<rect x="129.68" y="2059.47" width="5.4" height="28.69" fill="#f2f2f5"/>
<rect x="134.78" y="2059.47" width="5.4" height="28.69" fill="#f5dbb2"/>
<rect x="139.87" y="2059.47" width="5.4" height="28.69" fill="#f5d8ac"/>
<rect x="144.97" y="2059.47" width="5.4" height="28.69" fill="#f0bb6f"/>
<rect x="150.07" y="2059.47" width="5.4" height="28.69" fill="#f5e7d2"/>
<rect x="155.16" y="2059.47" width="5.4" height="28.69" fill="#f4d4a2"/>
<rect x="160.26" y="2059.47" width="5.4" height="28.69" fill="#f6e2c2"/>
<rect x="165.36" y="2059.47" width="5.4" height="28.69" fill="#f3cb8f"/>
<rect x="170.45" y="2059.47" width="5.4" height="28.69" fill="#f5ead9"/>
<rect x="175.55" y="2059.47" width="5.4" height="28.69" fill="#f5e6ce"/>
<rect x="180.65" y="2059.47" width="5.4" height="28.69" fill="#f5eada"/>
<rect x="185.74" y="2059.47" width="5.4" height="28.69" fill="#f6dfbc"/>
<rect x="190.84" y="2059.47" width="5.4" height="28.69" fill="#eeb768"/>
<rect x="195.94" y="2059.47" width="5.4" height="28.69" fill="#eeb667"/>
<rect x="201.03" y="2059.47" width="5.4" height="28.69" fill="#f5d9ad"/>
<rect x="206.13" y="2059.47" width="5.4" height="28.69" fill="#f5d9ae"/>
<rect x="211.23" y="2059.47" width="5.4" height="28.69" fill="#f3f2f1"/>
<rect x="216.32" y="2059.47" width="5.4" height="28.69" fill="#f1f1f4"/>
<rect x="221.42" y="2059.47" width="5.4" height="28.69" fill="#f2f2f5"/>
<rect x="226.52" y="2059.47" width="5.4" height="28.69" fill="#f6dfbc"/>
<rect x="231.62" y="2059.47" width="5.4" height="28.69" fill="#f6e4c7"/>
<rect x="236.71" y="2059.47" width="5.4" height="28.69" fill="#f4d09a"/>
<rect x="241.81" y="2059.47" width="10.49" height="28.69" fill="#edb362"/>
<rect x="252" y="2059.47" width="5.4" height="28.69" fill="#f0bb70"/>
<rect x="257.1" y="2059.47" width="5.4" height="28.69" fill="#ececf3"/>
<rect x="262.2" y="2059.47" width="5.4" height="28.69" fill="#ebebf2"/>
<rect x="267.29" y="2059.47" width="5.4" height="28.69" fill="#efeff4"/>
<rect x="272.39" y="2059.47" width="5.4" height="28.69" fill="#ebebf2"/>
<rect x="277.49" y="2059.47" width="5.4" height="28.69" fill="#e9e9f2"/>
<rect x="282.58" y="2059.47" width="5.4" height="28.69" fill="#eaeaf2"/>
<rect x="287.68" y="2059.47" width="5.4" height="28.69" fill="#e8e8f1"/>
<rect x="292.78" y="2059.47" width="10.49" height="28.69" fill="#eaeaf2"/>
<rect x="302.97" y="2059.47" width="5.4" height="28.69" fill="#eeeef3"/>
<rect x="308.07" y="2059.47" width="5.4" height="28.69" fill="#efeff4"/>
<rect x="313.17" y="2059.47" width="5.4" height="28.69" fill="#ebebf2"/>
<rect x="318.26" y="2059.47" width="5.4" height="28.69" fill="#eeeef3"/>
<rect x="323.36" y="2059.47" width="5.4" height="28.69" fill="#ececf3"/>
<rect x="328.46" y="2059.47" width="5.4" height="28.69" fill="#ededf3"/>
<rect x="333.55" y="2059.47" width="5.4" height="28.69" fill="#e9e9f2"/>
<rect x="338.65" y="2059.47" width="5.4" height="28.69" fill="#e4e4f0"/>
<rect x="343.75" y="2059.47" width="5.4" height="28.69" fill="#e9e9f2"/>
<rect x="348.84" y="2059.47" width="10.49" height="28.69" fill="#ededf3"/>
<rect x="359.04" y="2059.47" width="5.4" height="28.69" fill="#efeff4"/>
<rect x="364.13" y="2059.47" width="5.4" height="28.69" fill="#e7e7f1"/>
<rect x="369.23" y="2059.47" width="5.4" height="28.69" fill="#e5e5f0"/>
<rect x="374.33" y="2059.47" width="5.4" height="28.69" fill="#efeff4"/>
<rect x="379.43" y="2059.47" width="5.4" height="28.69" fill="#eeeef3"/>
<rect x="384.52" y="2059.47" width="10.49" height="28.69" fill="#e6e6f1"/>
<rect x="394.72" y="2059.47" width="5.4" height="28.69" fill="#eaeaf2"/>
<rect x="399.81" y="2059.47" width="5.4" height="28.69" fill="#e9e9f2"/>
<rect x="404.91" y="2059.47" width="5.4" height="28.69" fill="#ededf3"/>
<rect x="410.01" y="2059.47" width="5.4" height="28.69" fill="#ececf3"/>
<rect x="415.1" y="2059.47" width="5.4" height="28.69" fill="#e4e4f0"/>
<rect x="420.2" y="2059.47" width="5.4" height="28.69" fill="#e7e7f1"/>
<rect x="425.3" y="2059.47" width="5.4" height="28.69" fill="#ececf3"/>
<rect x="430.39" y="2059.47" width="5.4" height="28.69" fill="#eeeef3"/>
<rect x="435.49" y="2059.47" width="5.4" height="28.69" fill="#e5e5f0"/>
<rect x="440.59" y="2059.47" width="5.4" height="28.69" fill="#f0f0f4"/>
<rect x="445.68" y="2059.47" width="10.49" height="28.69" fill="#ebebf2"/>
<rect x="455.88" y="2059.47" width="5.4" height="28.69" fill="#e3e3f0"/>
<rect x="460.97" y="2059.47" width="5.4" height="28.69" fill="#e8e8f1"/>
<rect x="466.07" y="2059.47" width="5.4" height="28.69" fill="#e4e4f0"/>
<rect x="471.17" y="2059.47" width="5.4" height="28.69" fill="#e5e5f0"/>
<rect x="476.27" y="2059.47" width="5.4" height="28.69" fill="#e7e7f1"/>
<rect x="481.36" y="2059.47" width="5.4" height="28.69" fill="#ebebf2"/>
<rect x="486.46" y="2059.47" width="5.4" height="28.69" fill="#e8e8f1"/>
<rect x="491.56" y="2059.47" width="5.4" height="28.69" fill="#ececf3"/>
<rect x="496.65" y="2059.47" width="5.4" height="28.69" fill="#e5e5f0"/>
<rect x="501.75" y="2059.47" width="5.4" height="28.69" fill="#e8e8f1"/>
<rect x="506.85" y="2059.47" width="5.4" height="28.69" fill="#ececf3"/>
<rect x="511.94" y="2059.47" width="5.4" height="28.69" fill="#e4e4f0"/>
<rect x="517.04" y="2059.47" width="5.4" height="28.69" fill="#efeff4"/>
<rect x="522.14" y="2059.47" width="5.4" height="28.69" fill="#e2e2ef"/>
<rect x="527.23" y="2059.47" width="10.49" height="28.69" fill="#ededf3"/>
<rect x="537.43" y="2059.47" width="10.49" height="28.69" fill="#e9e9f2"/>
<rect x="547.62" y="2059.47" width="5.4" height="28.69" fill="#e7e7f1"/>
<rect x="552.72" y="2059.47" width="5.4" height="28.69" fill="#e3e3f0"/>
<rect x="557.82" y="2059.47" width="5.4" height="28.69" fill="#e9e9f2"/>
<rect x="562.91" y="2059.47" width="5.4" height="28.69" fill="#e6e6f1"/>
<rect x="568.01" y="2059.47" width="5.4" height="28.69" fill="#e4e4f0"/>
<rect x="573.11" y="2059.47" width="15.59" height="28.69" fill="#eaeaf2"/>
<rect x="588.4" y="2059.47" width="5.4" height="28.69" fill="#e5e5f0"/>
<rect x="593.49" y="2059.47" width="5.4" height="28.69" fill="#e3e3f0"/>
<rect x="598.59" y="2059.47" width="5.4" height="28.69" fill="#e7e7f1"/>
<rect x="603.69" y="2059.47" width="5.4" height="28.69" fill="#eaeaf2"/>
<rect x="608.78" y="2059.47" width="5.4" height="28.69" fill="#f0f0f4"/>
<rect x="613.88" y="2059.47" width="5.4" height="28.69" fill="#efeff4"/>
<rect x="618.98" y="2059.47" width="5.4" height="28.69" fill="#ededf3"/>
<rect x="624.07" y="2059.47" width="5.4" height="28.69" fill="#eeeef3"/>
<rect x="629.17" y="2059.47" width="5.4" height="28.69" fill="#e3e3f0"/>
<rect x="634.27" y="2059.47" width="5.4" height="28.69" fill="#e9e9f2"/>
<rect x="639.37" y="2059.47" width="5.4" height="28.69" fill="#e5e5f0"/>
<rect x="644.46" y="2059.47" width="5.4" height="28.69" fill="#e4e4f0"/>
<rect x="649.56" y="2059.47" width="5.4" height="28.69" fill="#eeeef3"/>
<rect x="654.66" y="2059.47" width="5.4" height="28.69" fill="#e5e5f0"/>
<rect x="659.75" y="2059.47" width="5.4" height="28.69" fill="#ebebf2"/>
<rect x="664.85" y="2059.47" width="5.4" height="28.69" fill="#eeeef3"/>
<rect x="669.95" y="2059.47" width="5.4" height="28.69" fill="#e9e9f2"/>
<rect x="675.04" y="2059.47" width="5.4" height="28.69" fill="#e4e4f0"/>
<rect x="680.14" y="2059.47" width="5.4" height="28.69" fill="#e9e9f2"/>
<rect x="685.24" y="2059.47" width="5.4" height="28.69" fill="#e3e3f0"/>
<rect x="690.33" y="2059.47" width="5.4" height="28.69" fill="#ebebf2"/>
<rect x="695.43" y="2059.47" width="5.4" height="28.69" fill="#e5e5f0"/>
<rect x="700.53" y="2059.47" width="5.4" height="28.69" fill="#ebebf2"/>
<rect x="705.62" y="2059.47" width="5.4" height="28.69" fill="#e7e7f1"/>
<rect x="710.72" y="2059.47" width="5.4" height="28.69" fill="#eaeaf2"/>
<rect x="715.82" y="2059.47" width="5.4" height="28.69" fill="#e3e3f0"/>
<rect x="720.92" y="2059.47" width="5.4" height="28.69" fill="#e9e9f2"/>
<rect x="726.01" y="2059.47" width="5.4" height="28.69" fill="#eaeaf2"/>
<rect x="731.11" y="2059.47" width="5.4" height="28.69" fill="#ededf3"/>
<rect x="736.21" y="2059.47" width="5.4" height="28.69" fill="#e4e4f0"/>
<rect x="741.3" y="2059.47" width="5.4" height="28.69" fill="#e5e5f0"/>
<rect x="94" y="2087.86" width="5.4" height="28.69" fill="#f5dab0"/>
<rect x="99.1" y="2087.86" width="10.49" height="28.69" fill="#f2f2f5"/>
<rect x="109.29" y="2087.86" width="5.4" height="28.69" fill="#f4cf97"/>
<rect x="114.39" y="2087.86" width="5.4" height="28.69" fill="#f5ddb7"/>
<rect x="119.48" y="2087.86" width="5.4" height="28.69" fill="#f3ce94"/>
<rect x="124.58" y="2087.86" width="5.4" height="28.69" fill="#f5ddb7"/>
<rect x="129.68" y="2087.86" width="5.4" height="28.69" fill="#f3cc91"/>
<rect x="134.78" y="2087.86" width="5.4" height="28.69" fill="#f4d6a7"/>
<rect x="139.87" y="2087.86" width="5.4" height="28.69" fill="#f5e6cd"/>
<rect x="144.97" y="2087.86" width="5.4" height="28.69" fill="#f1f1f4"/>
<rect x="150.07" y="2087.86" width="5.4" height="28.69" fill="#f5e9d7"/>
<rect x="155.16" y="2087.86" width="5.4" height="28.69" fill="#f3cb8f"/>
<rect x="160.26" y="2087.86" width="5.4" height="28.69" fill="#e49736"/>
<rect x="165.36" y="2087.86" width="5.4" height="28.69" fill="#f3f3f5"/>
<rect x="170.45" y="2087.86" width="5.4" height="28.69" fill="#f3f1ee"/>
<rect x="175.55" y="2087.86" width="5.4" height="28.69" fill="#f6dfbc"/>
<rect x="180.65" y="2087.86" width="5.4" height="28.69" fill="#f3f2f2"/>
<rect x="185.74" y="2087.86" width="5.4" height="28.69" fill="#f2f2f5"/>
<rect x="190.84" y="2087.86" width="5.4" height="28.69" fill="#f5e8d3"/>
<rect x="195.94" y="2087.86" width="5.4" height="28.69" fill="#f3cc91"/>
<rect x="201.03" y="2087.86" width="5.4" height="28.69" fill="#f6e4c7"/>
<rect x="206.13" y="2087.86" width="5.4" height="28.69" fill="#f3f2f3"/>
<rect x="211.23" y="2087.86" width="5.4" height="28.69" fill="#f5ead9"/>
<rect x="216.32" y="2087.86" width="5.4" height="28.69" fill="#f5e8d3"/>
<rect x="221.42" y="2087.86" width="5.4" height="28.69" fill="#f3f2f2"/>
<rect x="226.52" y="2087.86" width="5.4" height="28.69" fill="#f5d9ae"/>
<rect x="231.62" y="2087.86" width="5.4" height="28.69" fill="#f3f2f3"/>
<rect x="236.71" y="2087.86" width="5.4" height="28.69" fill="#f4f0ec"/>
<rect x="241.81" y="2087.86" width="5.4" height="28.69" fill="#f3cb8d"/>
<rect x="246.91" y="2087.86" width="5.4" height="28.69" fill="#f6e4c8"/>
<rect x="252" y="2087.86" width="5.4" height="28.69" fill="#f5dbb1"/>
<rect x="257.1" y="2087.86" width="5.4" height="28.69" fill="#e6e6f1"/>
<rect x="262.2" y="2087.86" width="5.4" height="28.69" fill="#e8e8f1"/>
<rect x="267.29" y="2087.86" width="5.4" height="28.69" fill="#e7e7f1"/>
<rect x="272.39" y="2087.86" width="5.4" height="28.69" fill="#eaeaf2"/>
<rect x="277.49" y="2087.86" width="5.4" height="28.69" fill="#ececf3"/>
<rect x="282.58" y="2087.86" width="5.4" height="28.69" fill="#ededf3"/>
<rect x="287.68" y="2087.86" width="5.4" height="28.69" fill="#ebebf2"/>
<rect x="292.78" y="2087.86" width="5.4" height="28.69" fill="#efeff4"/>
<rect x="297.88" y="2087.86" width="5.4" height="28.69" fill="#eeeef3"/>
<rect x="302.97" y="2087.86" width="5.4" height="28.69" fill="#ededf3"/>
<rect x="308.07" y="2087.86" width="5.4" height="28.69" fill="#ececf3"/>
<rect x="313.17" y="2087.86" width="5.4" height="28.69" fill="#e7e7f1"/>
<rect x="318.26" y="2087.86" width="5.4" height="28.69" fill="#eeeef3"/>
<rect x="323.36" y="2087.86" width="5.4" height="28.69" fill="#e6e6f1"/>
<rect x="328.46" y="2087.86" width="5.4" height="28.69" fill="#ececf3"/>
<rect x="333.55" y="2087.86" width="5.4" height="28.69" fill="#f5e8d2"/>
<rect x="338.65" y="2087.86" width="5.4" height="28.69" fill="#e7e7f1"/>
<rect x="343.75" y="2087.86" width="5.4" height="28.69" fill="#e8e8f1"/>
<rect x="348.84" y="2087.86" width="5.4" height="28.69" fill="#eeeef3"/>
<rect x="353.94" y="2087.86" width="10.49" height="28.69" fill="#e8e8f1"/>
<rect x="364.13" y="2087.86" width="10.49" height="28.69" fill="#ededf3"/>
<rect x="374.33" y="2087.86" width="5.4" height="28.69" fill="#e8e8f1"/>
<rect x="379.43" y="2087.86" width="5.4" height="28.69" fill="#ebebf2"/>
<rect x="384.52" y="2087.86" width="5.4" height="28.69" fill="#ececf3"/>
<rect x="389.62" y="2087.86" width="5.4" height="28.69" fill="#efeff4"/>
<rect x="394.72" y="2087.86" width="5.4" height="28.69" fill="#e8e8f1"/>
<rect x="399.81" y="2087.86" width="5.4" height="28.69" fill="#f0f0f4"/>
<rect x="404.91" y="2087.86" width="5.4" height="28.69" fill="#ebebf2"/>
<rect x="410.01" y="2087.86" width="5.4" height="28.69" fill="#f0f0f4"/>
<rect x="415.1" y="2087.86" width="5.4" height="28.69" fill="#f6e3c5"/>
<rect x="420.2" y="2087.86" width="5.4" height="28.69" fill="#eeeef3"/>
<rect x="425.3" y="2087.86" width="5.4" height="28.69" fill="#e8e8f1"/>
<rect x="430.39" y="2087.86" width="5.4" height="28.69" fill="#e9e9f2"/>
<rect x="435.49" y="2087.86" width="5.4" height="28.69" fill="#efeff4"/>
<rect x="440.59" y="2087.86" width="10.49" height="28.69" fill="#f0f0f4"/>
<rect x="450.78" y="2087.86" width="5.4" height="28.69" fill="#eeeef3"/>
<rect x="455.88" y="2087.86" width="5.4" height="28.69" fill="#e8e8f1"/>
<rect x="460.97" y="2087.86" width="5.4" height="28.69" fill="#eaeaf2"/>
<rect x="466.07" y="2087.86" width="5.4" height="28.69" fill="#e5e5f0"/>
<rect x="471.17" y="2087.86" width="5.4" height="28.69" fill="#ededf3"/>
<rect x="476.27" y="2087.86" width="5.4" height="28.69" fill="#e7e7f1"/>
<rect x="481.36" y="2087.86" width="5.4" height="28.69" fill="#f0f0f4"/>
<rect x="486.46" y="2087.86" width="5.4" height="28.69" fill="#e3e3f0"/>
<rect x="491.56" y="2087.86" width="5.4" height="28.69" fill="#e5e5f0"/>
<rect x="496.65" y="2087.86" width="5.4" height="28.69" fill="#eaeaf2"/>
<rect x="501.75" y="2087.86" width="5.4" height="28.69" fill="#e3e3f0"/>
<rect x="506.85" y="2087.86" width="5.4" height="28.69" fill="#e5e5f0"/>
<rect x="511.94" y="2087.86" width="5.4" height="28.69" fill="#efeff4"/>
<rect x="517.04" y="2087.86" width="5.4" height="28.69" fill="#e9e9f2"/>
<rect x="522.14" y="2087.86" width="5.4" height="28.69" fill="#eaeaf2"/>
<rect x="527.23" y="2087.86" width="5.4" height="28.69" fill="#f5e7d0"/>
<rect x="532.33" y="2087.86" width="5.4" height="28.69" fill="#ebebf2"/>
<rect x="537.43" y="2087.86" width="5.4" height="28.69" fill="#e2e2ef"/>
<rect x="542.52" y="2087.86" width="5.4" height="28.69" fill="#ededf3"/>
<rect x="547.62" y="2087.86" width="10.49" height="28.69" fill="#eeeef3"/>
<rect x="557.82" y="2087.86" width="5.4" height="28.69" fill="#eaeaf2"/>
<rect x="562.91" y="2087.86" width="5.4" height="28.69" fill="#e4e4f0"/>
<rect x="568.01" y="2087.86" width="10.49" height="28.69" fill="#ececf3"/>
<rect x="578.2" y="2087.86" width="5.4" height="28.69" fill="#e9e9f2"/>
<rect x="583.3" y="2087.86" width="5.4" height="28.69" fill="#f0f0f4"/>
<rect x="588.4" y="2087.86" width="5.4" height="28.69" fill="#e4e4f0"/>
<rect x="593.49" y="2087.86" width="5.4" height="28.69" fill="#eeeef3"/>
<rect x="598.59" y="2087.86" width="10.49" height="28.69" fill="#e3e3f0"/>
<rect x="608.78" y="2087.86" width="5.4" height="28.69" fill="#e5e5f0"/>
<rect x="613.88" y="2087.86" width="5.4" height="28.69" fill="#eaeaf2"/>
<rect x="618.98" y="2087.86" width="5.4" height="28.69" fill="#f0f0f4"/>
<rect x="624.07" y="2087.86" width="5.4" height="28.69" fill="#e3e3f0"/>
<rect x="629.17" y="2087.86" width="5.4" height="28.69" fill="#eeeef3"/>
<rect x="634.27" y="2087.86" width="5.4" height="28.69" fill="#f6e4c7"/>
<rect x="639.37" y="2087.86" width="5.4" height="28.69" fill="#e7e7f1"/>
<rect x="644.46" y="2087.86" width="5.4" height="28.69" fill="#e2e2ef"/>
<rect x="649.56" y="2087.86" width="5.4" height="28.69" fill="#e8e8f1"/>
<rect x="654.66" y="2087.86" width="5.4" height="28.69" fill="#e5e5f0"/>
<rect x="659.75" y="2087.86" width="5.4" height="28.69" fill="#eaeaf2"/>
<rect x="664.85" y="2087.86" width="5.4" height="28.69" fill="#e4e4f0"/>
<rect x="669.95" y="2087.86" width="5.4" height="28.69" fill="#eaeaf2"/>
<rect x="675.04" y="2087.86" width="5.4" height="28.69" fill="#ededf3"/>
<rect x="680.14" y="2087.86" width="5.4" height="28.69" fill="#e9e9f2"/>
<rect x="685.24" y="2087.86" width="5.4" height="28.69" fill="#ededf3"/>
<rect x="690.33" y="2087.86" width="5.4" height="28.69" fill="#e9e9f2"/>
<rect x="695.43" y="2087.86" width="10.49" height="28.69" fill="#ebebf2"/>
<rect x="705.62" y="2087.86" width="5.4" height="28.69" fill="#e7e7f1"/>
<rect x="710.72" y="2087.86" width="5.4" height="28.69" fill="#ebebf2"/>
<rect x="715.82" y="2087.86" width="5.4" height="28.69" fill="#efeff4"/>
<rect x="720.92" y="2087.86" width="5.4" height="28.69" fill="#ececf3"/>
<rect x="726.01" y="2087.86" width="5.4" height="28.69" fill="#e4e4f0"/>
<rect x="731.11" y="2087.86" width="5.4" height="28.69" fill="#e9e9f2"/>
<rect x="736.21" y="2087.86" width="5.4" height="28.69" fill="#ededf3"/>
<rect x="741.3" y="2087.86" width="5.4" height="28.69" fill="#eaeaf2"/>
<rect x="94" y="2116.25" width="5.4" height="28.69" fill="#f2f2f5"/>
<rect x="99.1" y="2116.25" width="5.4" height="28.69" fill="#f5deb8"/>
<rect x="104.19" y="2116.25" width="5.4" height="28.69" fill="#f5dcb4"/>
<rect x="109.29" y="2116.25" width="5.4" height="28.69" fill="#f5e7d1"/>
<rect x="114.39" y="2116.25" width="5.4" height="28.69" fill="#f3f2f2"/>
<rect x="119.48" y="2116.25" width="5.4" height="28.69" fill="#f2f2f5"/>
<rect x="124.58" y="2116.25" width="5.4" height="28.69" fill="#f5dfbb"/>
<rect x="129.68" y="2116.25" width="5.4" height="28.69" fill="#f5e9d5"/>
<rect x="134.78" y="2116.25" width="5.4" height="28.69" fill="#f0bd73"/>
<rect x="139.87" y="2116.25" width="5.4" height="28.69" fill="#eaa952"/>
<rect x="144.97" y="2116.25" width="5.4" height="28.69" fill="#f4ce96"/>
<rect x="150.07" y="2116.25" width="5.4" height="28.69" fill="#f6e5c9"/>
<rect x="155.16" y="2116.25" width="5.4" height="28.69" fill="#f4d6a7"/>
<rect x="160.26" y="2116.25" width="5.4" height="28.69" fill="#c47021"/>
<rect x="165.36" y="2116.25" width="10.49" height="28.69" fill="#f1f1f4"/>
<rect x="175.55" y="2116.25" width="5.4" height="28.69" fill="#f4d098"/>
<rect x="180.65" y="2116.25" width="5.4" height="28.69" fill="#f5e7cf"/>
<rect x="185.74" y="2116.25" width="5.4" height="28.69" fill="#eeb566"/>
<rect x="190.84" y="2116.25" width="5.4" height="28.69" fill="#f5e6cd"/>
<rect x="195.94" y="2116.25" width="5.4" height="28.69" fill="#f3cd93"/>
<rect x="201.03" y="2116.25" width="5.4" height="28.69" fill="#efba6d"/>
<rect x="206.13" y="2116.25" width="5.4" height="28.69" fill="#f5e7d1"/>
<rect x="211.23" y="2116.25" width="5.4" height="28.69" fill="#f5d9ad"/>
<rect x="216.32" y="2116.25" width="5.4" height="28.69" fill="#f4f0eb"/>
<rect x="221.42" y="2116.25" width="5.4" height="28.69" fill="#f3ca8c"/>
<rect x="226.52" y="2116.25" width="5.4" height="28.69" fill="#f3f2f2"/>
<rect x="231.62" y="2116.25" width="5.4" height="28.69" fill="#f5e9d5"/>
<rect x="236.71" y="2116.25" width="5.4" height="28.69" fill="#f5eada"/>
<rect x="241.81" y="2116.25" width="5.4" height="28.69" fill="#f5dab1"/>
<rect x="246.91" y="2116.25" width="5.4" height="28.69" fill="#f5e6cc"/>
<rect x="252" y="2116.25" width="5.4" height="28.69" fill="#f3c785"/>
<rect x="257.1" y="2116.25" width="5.4" height="28.69" fill="#e7e7f1"/>
<rect x="262.2" y="2116.25" width="5.4" height="28.69" fill="#e9e9f2"/>
<rect x="267.29" y="2116.25" width="5.4" height="28.69" fill="#f0f0f4"/>
<rect x="272.39" y="2116.25" width="5.4" height="28.69" fill="#e9e9f2"/>
<rect x="277.49" y="2116.25" width="10.49" height="28.69" fill="#e6e6f1"/>
<rect x="287.68" y="2116.25" width="5.4" height="28.69" fill="#e9e9f2"/>
<rect x="292.78" y="2116.25" width="5.4" height="28.69" fill="#eeeef3"/>
<rect x="297.88" y="2116.25" width="5.4" height="28.69" fill="#e7e7f1"/>
<rect x="302.97" y="2116.25" width="5.4" height="28.69" fill="#ededf3"/>
<rect x="308.07" y="2116.25" width="5.4" height="28.69" fill="#e5e5f0"/>
<rect x="313.17" y="2116.25" width="5.4" height="28.69" fill="#eaeaf2"/>
<rect x="318.26" y="2116.25" width="5.4" height="28.69" fill="#e7e7f1"/>
<rect x="323.36" y="2116.25" width="5.4" height="28.69" fill="#e8e8f1"/>
<rect x="328.46" y="2116.25" width="5.4" height="28.69" fill="#e6e6f1"/>
<rect x="333.55" y="2116.25" width="5.4" height="28.69" fill="#ececf3"/>
<rect x="338.65" y="2116.25" width="5.4" height="28.69" fill="#e6e6f1"/>
<rect x="343.75" y="2116.25" width="5.4" height="28.69" fill="#ececf3"/>
<rect x="348.84" y="2116.25" width="5.4" height="28.69" fill="#ededf3"/>
<rect x="353.94" y="2116.25" width="5.4" height="28.69" fill="#e4e4f0"/>
<rect x="359.04" y="2116.25" width="5.4" height="28.69" fill="#e7e7f1"/>
<rect x="364.13" y="2116.25" width="5.4" height="28.69" fill="#f5e9d5"/>
<rect x="369.23" y="2116.25" width="5.4" height="28.69" fill="#eaeaf2"/>
<rect x="374.33" y="2116.25" width="5.4" height="28.69" fill="#efeff4"/>
<rect x="379.43" y="2116.25" width="5.4" height="28.69" fill="#e5e5f0"/>
<rect x="384.52" y="2116.25" width="5.4" height="28.69" fill="#e3e3f0"/>
<rect x="389.62" y="2116.25" width="5.4" height="28.69" fill="#eaeaf2"/>
<rect x="394.72" y="2116.25" width="5.4" height="28.69" fill="#e5e5f0"/>
<rect x="399.81" y="2116.25" width="5.4" height="28.69" fill="#efeff4"/>
<rect x="404.91" y="2116.25" width="5.4" height="28.69" fill="#e5e5f0"/>
<rect x="410.01" y="2116.25" width="5.4" height="28.69" fill="#e9e9f2"/>
<rect x="415.1" y="2116.25" width="5.4" height="28.69" fill="#ededf3"/>
<rect x="420.2" y="2116.25" width="5.4" height="28.69" fill="#efeff4"/>
<rect x="425.3" y="2116.25" width="5.4" height="28.69" fill="#f0f0f4"/>
<rect x="430.39" y="2116.25" width="5.4" height="28.69" fill="#efeff4"/>
<rect x="435.49" y="2116.25" width="5.4" height="28.69" fill="#ebebf2"/>
<rect x="440.59" y="2116.25" width="5.4" height="28.69" fill="#eaeaf2"/>
<rect x="445.68" y="2116.25" width="5.4" height="28.69" fill="#e3e3f0"/>
<rect x="450.78" y="2116.25" width="5.4" height="28.69" fill="#e6e6f1"/>
<rect x="455.88" y="2116.25" width="5.4" height="28.69" fill="#ececf3"/>
<rect x="460.97" y="2116.25" width="5.4" height="28.69" fill="#e7e7f1"/>
<rect x="466.07" y="2116.25" width="5.4" height="28.69" fill="#ececf3"/>
<rect x="471.17" y="2116.25" width="5.4" height="28.69" fill="#e7e7f1"/>
<rect x="476.27" y="2116.25" width="5.4" height="28.69" fill="#e6e6f1"/>
<rect x="481.36" y="2116.25" width="10.49" height="28.69" fill="#ededf3"/>
<rect x="491.56" y="2116.25" width="5.4" height="28.69" fill="#efeff4"/>
<rect x="496.65" y="2116.25" width="10.49" height="28.69" fill="#e7e7f1"/>
<rect x="506.85" y="2116.25" width="5.4" height="28.69" fill="#eeeef3"/>
<rect x="511.94" y="2116.25" width="5.4" height="28.69" fill="#ebebf2"/>
<rect x="517.04" y="2116.25" width="5.4" height="28.69" fill="#f6e4c6"/>
<rect x="522.14" y="2116.25" width="5.4" height="28.69" fill="#efeff4"/>
<rect x="527.23" y="2116.25" width="5.4" height="28.69" fill="#e3e3f0"/>
<rect x="532.33" y="2116.25" width="5.4" height="28.69" fill="#eaeaf2"/>
<rect x="537.43" y="2116.25" width="5.4" height="28.69" fill="#f0f0f4"/>
<rect x="542.52" y="2116.25" width="5.4" height="28.69" fill="#e8e8f1"/>
<rect x="547.62" y="2116.25" width="10.49" height="28.69" fill="#ececf3"/>
<rect x="557.82" y="2116.25" width="10.49" height="28.69" fill="#e4e4f0"/>
<rect x="568.01" y="2116.25" width="5.4" height="28.69" fill="#efeff4"/>
<rect x="573.11" y="2116.25" width="5.4" height="28.69" fill="#eeeef3"/>
<rect x="578.2" y="2116.25" width="5.4" height="28.69" fill="#ebebf2"/>
<rect x="583.3" y="2116.25" width="5.4" height="28.69" fill="#f0f0f4"/>
<rect x="588.4" y="2116.25" width="5.4" height="28.69" fill="#e7e7f1"/>
<rect x="593.49" y="2116.25" width="5.4" height="28.69" fill="#e9e9f2"/>
<rect x="598.59" y="2116.25" width="5.4" height="28.69" fill="#e3e3f0"/>
<rect x="603.69" y="2116.25" width="5.4" height="28.69" fill="#e7e7f1"/>
<rect x="608.78" y="2116.25" width="5.4" height="28.69" fill="#e5e5f0"/>
<rect x="613.88" y="2116.25" width="5.4" height="28.69" fill="#eaeaf2"/>
<rect x="618.98" y="2116.25" width="5.4" height="28.69" fill="#ececf3"/>
<rect x="624.07" y="2116.25" width="5.4" height="28.69" fill="#e8e8f1"/>
<rect x="629.17" y="2116.25" width="5.4" height="28.69" fill="#e4e4f0"/>
<rect x="634.27" y="2116.25" width="5.4" height="28.69" fill="#ebebf2"/>
<rect x="639.37" y="2116.25" width="5.4" height="28.69" fill="#e4e4f0"/>
<rect x="644.46" y="2116.25" width="5.4" height="28.69" fill="#eeeef3"/>
<rect x="649.56" y="2116.25" width="5.4" height="28.69" fill="#e4e4f0"/>
<rect x="654.66" y="2116.25" width="5.4" height="28.69" fill="#ebebf2"/>
<rect x="659.75" y="2116.25" width="5.4" height="28.69" fill="#e4e4f0"/>
<rect x="664.85" y="2116.25" width="5.4" height="28.69" fill="#e3e3f0"/>
<rect x="669.95" y="2116.25" width="5.4" height="28.69" fill="#eeeef3"/>
<rect x="675.04" y="2116.25" width="5.4" height="28.69" fill="#ededf3"/>
<rect x="680.14" y="2116.25" width="5.4" height="28.69" fill="#e9e9f2"/>
<rect x="685.24" y="2116.25" width="5.4" height="28.69" fill="#e2e2ef"/>
<rect x="690.33" y="2116.25" width="5.4" height="28.69" fill="#ececf3"/>
<rect x="695.43" y="2116.25" width="5.4" height="28.69" fill="#e3e3f0"/>
<rect x="700.53" y="2116.25" width="5.4" height="28.69" fill="#e8e8f1"/>
<rect x="705.62" y="2116.25" width="5.4" height="28.69" fill="#e3e3f0"/>
<rect x="710.72" y="2116.25" width="5.4" height="28.69" fill="#ededf3"/>
<rect x="715.82" y="2116.25" width="5.4" height="28.69" fill="#efeff4"/>
<rect x="720.92" y="2116.25" width="5.4" height="28.69" fill="#e2e2ef"/>
<rect x="726.01" y="2116.25" width="5.4" height="28.69" fill="#e3e3f0"/>
<rect x="731.11" y="2116.25" width="5.4" height="28.69" fill="#ebebf2"/>
<rect x="736.21" y="2116.25" width="5.4" height="28.69" fill="#efeff4"/>
<rect x="741.3" y="2116.25" width="5.4" height="28.69" fill="#eaeaf2"/>
<rect x="94" y="2144.64" width="5.4" height="28.69" fill="#f6dfbc"/>
<rect x="99.1" y="2144.64" width="5.4" height="28.69" fill="#f5d8ac"/>
<rect x="104.19" y="2144.64" width="5.4" height="28.69" fill="#f3f3f5"/>
<rect x="109.29" y="2144.64" width="5.4" height="28.69" fill="#f4d098"/>
<rect x="114.39" y="2144.64" width="5.4" height="28.69" fill="#f3f3f4"/>
<rect x="119.48" y="2144.64" width="5.4" height="28.69" fill="#f5ead9"/>
<rect x="124.58" y="2144.64" width="5.4" height="28.69" fill="#f3cb8e"/>
<rect x="129.68" y="2144.64" width="5.4" height="28.69" fill="#f3f2f2"/>
<rect x="134.78" y="2144.64" width="5.4" height="28.69" fill="#f3c887"/>
<rect x="139.87" y="2144.64" width="5.4" height="28.69" fill="#f4d4a3"/>
<rect x="144.97" y="2144.64" width="5.4" height="28.69" fill="#f5e8d2"/>
<rect x="150.07" y="2144.64" width="5.4" height="28.69" fill="#f4cf97"/>
<rect x="155.16" y="2144.64" width="5.4" height="28.69" fill="#f4d3a0"/>
<rect x="160.26" y="2144.64" width="5.4" height="28.69" fill="#c47021"/>
<rect x="165.36" y="2144.64" width="5.4" height="28.69" fill="#f6e5c9"/>
<rect x="170.45" y="2144.64" width="5.4" height="28.69" fill="#f3f3f5"/>
<rect x="175.55" y="2144.64" width="5.4" height="28.69" fill="#f3c98a"/>
<rect x="180.65" y="2144.64" width="5.4" height="28.69" fill="#edb363"/>
<rect x="185.74" y="2144.64" width="5.4" height="28.69" fill="#f5d9ad"/>
<rect x="190.84" y="2144.64" width="5.4" height="28.69" fill="#f1f1f4"/>
<rect x="195.94" y="2144.64" width="5.4" height="28.69" fill="#eeb666"/>
<rect x="201.03" y="2144.64" width="5.4" height="28.69" fill="#f5d8aa"/>
<rect x="206.13" y="2144.64" width="5.4" height="28.69" fill="#f6e5c9"/>
<rect x="211.23" y="2144.64" width="5.4" height="28.69" fill="#e69e40"/>
<rect x="216.32" y="2144.64" width="5.4" height="28.69" fill="#f3ca8b"/>
<rect x="221.42" y="2144.64" width="5.4" height="28.69" fill="#f6e5ca"/>
<rect x="226.52" y="2144.64" width="5.4" height="28.69" fill="#f5e9d5"/>
<rect x="231.62" y="2144.64" width="5.4" height="28.69" fill="#f6e4c7"/>
<rect x="236.71" y="2144.64" width="5.4" height="28.69" fill="#f1f1f4"/>
<rect x="241.81" y="2144.64" width="5.4" height="28.69" fill="#f5daaf"/>
<rect x="246.91" y="2144.64" width="5.4" height="28.69" fill="#f6e5c9"/>
<rect x="252" y="2144.64" width="5.4" height="28.69" fill="#f5d8ab"/>
<rect x="257.1" y="2144.64" width="5.4" height="28.69" fill="#e7e7f1"/>
<rect x="262.2" y="2144.64" width="5.4" height="28.69" fill="#f0f0f4"/>
<rect x="267.29" y="2144.64" width="5.4" height="28.69" fill="#eeeef3"/>
<rect x="272.39" y="2144.64" width="5.4" height="28.69" fill="#e8e8f1"/>
<rect x="277.49" y="2144.64" width="5.4" height="28.69" fill="#ebebf2"/>
<rect x="282.58" y="2144.64" width="5.4" height="28.69" fill="#efeff4"/>
<rect x="287.68" y="2144.64" width="5.4" height="28.69" fill="#eeeef3"/>
<rect x="292.78" y="2144.64" width="5.4" height="28.69" fill="#eaeaf2"/>
<rect x="297.88" y="2144.64" width="5.4" height="28.69" fill="#e8e8f1"/>
<rect x="302.97" y="2144.64" width="5.4" height="28.69" fill="#f0f0f4"/>
<rect x="308.07" y="2144.64" width="10.49" height="28.69" fill="#e7e7f1"/>
<rect x="318.26" y="2144.64" width="5.4" height="28.69" fill="#eaeaf2"/>
<rect x="323.36" y="2144.64" width="5.4" height="28.69" fill="#f0f0f4"/>
<rect x="328.46" y="2144.64" width="5.4" height="28.69" fill="#ebebf2"/>
<rect x="333.55" y="2144.64" width="5.4" height="28.69" fill="#ededf3"/>
<rect x="338.65" y="2144.64" width="5.4" height="28.69" fill="#f0f0f4"/>
<rect x="343.75" y="2144.64" width="5.4" height="28.69" fill="#eaeaf2"/>
<rect x="348.84" y="2144.64" width="5.4" height="28.69" fill="#e8e8f1"/>
<rect x="353.94" y="2144.64" width="5.4" height="28.69" fill="#ececf3"/>
<rect x="359.04" y="2144.64" width="5.4" height="28.69" fill="#e5e5f0"/>
<rect x="364.13" y="2144.64" width="5.4" height="28.69" fill="#e7e7f1"/>
<rect x="369.23" y="2144.64" width="5.4" height="28.69" fill="#eeeef3"/>
<rect x="374.33" y="2144.64" width="5.4" height="28.69" fill="#f5deb8"/>
<rect x="379.43" y="2144.64" width="5.4" height="28.69" fill="#e8e8f1"/>
<rect x="384.52" y="2144.64" width="5.4" height="28.69" fill="#ebebf2"/>
<rect x="389.62" y="2144.64" width="5.4" height="28.69" fill="#efeff4"/>
<rect x="394.72" y="2144.64" width="5.4" height="28.69" fill="#e5e5f0"/>
<rect x="399.81" y="2144.64" width="5.4" height="28.69" fill="#eeeef3"/>
<rect x="404.91" y="2144.64" width="5.4" height="28.69" fill="#f5e7cf"/>
<rect x="410.01" y="2144.64" width="5.4" height="28.69" fill="#e5e5f0"/>
<rect x="415.1" y="2144.64" width="5.4" height="28.69" fill="#e3e3f0"/>
<rect x="420.2" y="2144.64" width="5.4" height="28.69" fill="#e7e7f1"/>
<rect x="425.3" y="2144.64" width="5.4" height="28.69" fill="#ececf3"/>
<rect x="430.39" y="2144.64" width="5.4" height="28.69" fill="#eeeef3"/>
<rect x="435.49" y="2144.64" width="5.4" height="28.69" fill="#ebebf2"/>
<rect x="440.59" y="2144.64" width="5.4" height="28.69" fill="#e3e3f0"/>
<rect x="445.68" y="2144.64" width="5.4" height="28.69" fill="#e9e9f2"/>
<rect x="450.78" y="2144.64" width="5.4" height="28.69" fill="#e7e7f1"/>
<rect x="455.88" y="2144.64" width="5.4" height="28.69" fill="#e6e6f1"/>
<rect x="460.97" y="2144.64" width="5.4" height="28.69" fill="#e3e3f0"/>
<rect x="466.07" y="2144.64" width="5.4" height="28.69" fill="#e6e6f1"/>
<rect x="471.17" y="2144.64" width="5.4" height="28.69" fill="#ededf3"/>
<rect x="476.27" y="2144.64" width="5.4" height="28.69" fill="#ececf3"/>
<rect x="481.36" y="2144.64" width="5.4" height="28.69" fill="#eeeef3"/>
<rect x="486.46" y="2144.64" width="5.4" height="28.69" fill="#f6e0bd"/>
<rect x="491.56" y="2144.64" width="10.49" height="28.69" fill="#ececf3"/>
<rect x="501.75" y="2144.64" width="5.4" height="28.69" fill="#e8e8f1"/>
<rect x="506.85" y="2144.64" width="5.4" height="28.69" fill="#eaeaf2"/>
<rect x="511.94" y="2144.64" width="5.4" height="28.69" fill="#e5e5f0"/>
<rect x="517.04" y="2144.64" width="5.4" height="28.69" fill="#eeeef3"/>
<rect x="522.14" y="2144.64" width="5.4" height="28.69" fill="#f0f0f4"/>
<rect x="527.23" y="2144.64" width="5.4" height="28.69" fill="#e5e5f0"/>
<rect x="532.33" y="2144.64" width="5.4" height="28.69" fill="#e9e9f2"/>
<rect x="537.43" y="2144.64" width="5.4" height="28.69" fill="#eaeaf2"/>
<rect x="542.52" y="2144.64" width="5.4" height="28.69" fill="#e5e5f0"/>
<rect x="547.62" y="2144.64" width="5.4" height="28.69" fill="#eaeaf2"/>
<rect x="552.72" y="2144.64" width="5.4" height="28.69" fill="#f5e9d6"/>
<rect x="557.82" y="2144.64" width="5.4" height="28.69" fill="#ededf3"/>
<rect x="562.91" y="2144.64" width="5.4" height="28.69" fill="#e5e5f0"/>
<rect x="568.01" y="2144.64" width="5.4" height="28.69" fill="#ebebf2"/>
<rect x="573.11" y="2144.64" width="5.4" height="28.69" fill="#e2e2ef"/>
<rect x="578.2" y="2144.64" width="5.4" height="28.69" fill="#ececf3"/>
<rect x="583.3" y="2144.64" width="5.4" height="28.69" fill="#e4e4f0"/>
<rect x="588.4" y="2144.64" width="5.4" height="28.69" fill="#eaeaf2"/>
<rect x="593.49" y="2144.64" width="5.4" height="28.69" fill="#eeeef3"/>
<rect x="598.59" y="2144.64" width="5.4" height="28.69" fill="#e3e3f0"/>
<rect x="603.69" y="2144.64" width="5.4" height="28.69" fill="#e7e7f1"/>
<rect x="608.78" y="2144.64" width="5.4" height="28.69" fill="#eaeaf2"/>
<rect x="613.88" y="2144.64" width="5.4" height="28.69" fill="#e4e4f0"/>
<rect x="618.98" y="2144.64" width="5.4" height="28.69" fill="#ededf3"/>
<rect x="624.07" y="2144.64" width="5.4" height="28.69" fill="#eaeaf2"/>
<rect x="629.17" y="2144.64" width="5.4" height="28.69" fill="#f6e2c2"/>
<rect x="634.27" y="2144.64" width="5.4" height="28.69" fill="#ededf3"/>
<rect x="639.37" y="2144.64" width="5.4" height="28.69" fill="#e4e4f0"/>
<rect x="644.46" y="2144.64" width="5.4" height="28.69" fill="#e6e6f1"/>
<rect x="649.56" y="2144.64" width="10.49" height="28.69" fill="#e7e7f1"/>
<rect x="659.75" y="2144.64" width="5.4" height="28.69" fill="#e5e5f0"/>
<rect x="664.85" y="2144.64" width="5.4" height="28.69" fill="#e4e4f0"/>
<rect x="669.95" y="2144.64" width="5.4" height="28.69" fill="#efeff4"/>
<rect x="675.04" y="2144.64" width="5.4" height="28.69" fill="#ededf3"/>
<rect x="680.14" y="2144.64" width="5.4" height="28.69" fill="#ebebf2"/>
<rect x="685.24" y="2144.64" width="5.4" height="28.69" fill="#e4e4f0"/>
<rect x="690.33" y="2144.64" width="5.4" height="28.69" fill="#eaeaf2"/>
<rect x="695.43" y="2144.64" width="5.4" height="28.69" fill="#ececf3"/>
<rect x="700.53" y="2144.64" width="5.4" height="28.69" fill="#ebebf2"/>
<rect x="705.62" y="2144.64" width="5.4" height="28.69" fill="#eeeef3"/>
<rect x="710.72" y="2144.64" width="5.4" height="28.69" fill="#ececf3"/>
<rect x="715.82" y="2144.64" width="5.4" height="28.69" fill="#f0f0f4"/>
<rect x="720.92" y="2144.64" width="5.4" height="28.69" fill="#e4e4f0"/>
<rect x="726.01" y="2144.64" width="5.4" height="28.69" fill="#eaeaf2"/>
<rect x="731.11" y="2144.64" width="5.4" height="28.69" fill="#e8e8f1"/>
<rect x="736.21" y="2144.64" width="5.4" height="28.69" fill="#f0f0f4"/>
<rect x="741.3" y="2144.64" width="5.4" height="28.69" fill="#e8e8f1"/>
<rect x="94" y="2173.03" width="5.4" height="28.69" fill="#f3c887"/>
<rect x="99.1" y="2173.03" width="5.4" height="28.69" fill="#f5e9d5"/>
<rect x="104.19" y="2173.03" width="5.4" height="28.69" fill="#f5e8d2"/>
<rect x="109.29" y="2173.03" width="5.4" height="28.69" fill="#f5e7d0"/>
<rect x="114.39" y="2173.03" width="5.4" height="28.69" fill="#f1f1f4"/>
<rect x="119.48" y="2173.03" width="5.4" height="28.69" fill="#f5d8ab"/>
<rect x="124.58" y="2173.03" width="5.4" height="28.69" fill="#f1f1f4"/>
<rect x="129.68" y="2173.03" width="5.4" height="28.69" fill="#f6e5c9"/>
<rect x="134.78" y="2173.03" width="5.4" height="28.69" fill="#f2c683"/>
<rect x="139.87" y="2173.03" width="5.4" height="28.69" fill="#f5e7cf"/>
<rect x="144.97" y="2173.03" width="5.4" height="28.69" fill="#f3ce95"/>
<rect x="150.07" y="2173.03" width="5.4" height="28.69" fill="#f5e7cf"/>
<rect x="155.16" y="2173.03" width="5.4" height="28.69" fill="#f4d3a1"/>
<rect x="160.26" y="2173.03" width="5.4" height="28.69" fill="#f3c786"/>
<rect x="165.36" y="2173.03" width="5.4" height="28.69" fill="#f3ca8b"/>
<rect x="170.45" y="2173.03" width="5.4" height="28.69" fill="#f5dbb3"/>
<rect x="175.55" y="2173.03" width="5.4" height="28.69" fill="#f5dbb2"/>
<rect x="180.65" y="2173.03" width="5.4" height="28.69" fill="#f6e5c9"/>
<rect x="185.74" y="2173.03" width="5.4" height="28.69" fill="#f6dfbb"/>
<rect x="190.84" y="2173.03" width="5.4" height="28.69" fill="#efb96c"/>
<rect x="195.94" y="2173.03" width="5.4" height="28.69" fill="#f0bb6e"/>
<rect x="201.03" y="2173.03" width="5.4" height="28.69" fill="#f6e2c3"/>
<rect x="206.13" y="2173.03" width="5.4" height="28.69" fill="#f6e6cc"/>
<rect x="211.23" y="2173.03" width="5.4" height="28.69" fill="#aa5a1c"/>
<rect x="216.32" y="2173.03" width="5.4" height="28.69" fill="#f5dcb5"/>
<rect x="221.42" y="2173.03" width="5.4" height="28.69" fill="#f5dbb3"/>
<rect x="226.52" y="2173.03" width="5.4" height="28.69" fill="#f4d099"/>
<rect x="231.62" y="2173.03" width="5.4" height="28.69" fill="#f6e4c8"/>
<rect x="236.71" y="2173.03" width="5.4" height="28.69" fill="#efb86b"/>
<rect x="241.81" y="2173.03" width="5.4" height="28.69" fill="#f3ce95"/>
<rect x="246.91" y="2173.03" width="5.4" height="28.69" fill="#f3f1f0"/>
<rect x="252" y="2173.03" width="5.4" height="28.69" fill="#e9a851"/>
<rect x="257.1" y="2173.03" width="5.4" height="28.69" fill="#f0f0f4"/>
<rect x="262.2" y="2173.03" width="5.4" height="28.69" fill="#eeeef3"/>
<rect x="267.29" y="2173.03" width="5.4" height="28.69" fill="#e6e6f1"/>
<rect x="272.39" y="2173.03" width="5.4" height="28.69" fill="#ededf3"/>
<rect x="277.49" y="2173.03" width="5.4" height="28.69" fill="#e9e9f2"/>
<rect x="282.58" y="2173.03" width="5.4" height="28.69" fill="#f0f0f4"/>
<rect x="287.68" y="2173.03" width="5.4" height="28.69" fill="#e6e6f1"/>
<rect x="292.78" y="2173.03" width="5.4" height="28.69" fill="#eeeef3"/>
<rect x="297.88" y="2173.03" width="5.4" height="28.69" fill="#e9e9f2"/>
<rect x="302.97" y="2173.03" width="5.4" height="28.69" fill="#ebebf2"/>
<rect x="308.07" y="2173.03" width="5.4" height="28.69" fill="#e7e7f1"/>
<rect x="313.17" y="2173.03" width="15.59" height="28.69" fill="#eaeaf2"/>
<rect x="328.46" y="2173.03" width="5.4" height="28.69" fill="#e6e6f1"/>
<rect x="333.55" y="2173.03" width="5.4" height="28.69" fill="#e3e3f0"/>
<rect x="338.65" y="2173.03" width="5.4" height="28.69" fill="#f0f0f4"/>
<rect x="343.75" y="2173.03" width="5.4" height="28.69" fill="#e7e7f1"/>
<rect x="348.84" y="2173.03" width="5.4" height="28.69" fill="#e3e3f0"/>
<rect x="353.94" y="2173.03" width="5.4" height="28.69" fill="#eaeaf2"/>
<rect x="359.04" y="2173.03" width="5.4" height="28.69" fill="#e4e4f0"/>
<rect x="364.13" y="2173.03" width="5.4" height="28.69" fill="#f0f0f4"/>
<rect x="369.23" y="2173.03" width="5.4" height="28.69" fill="#eeeef3"/>
<rect x="374.33" y="2173.03" width="5.4" height="28.69" fill="#e7e7f1"/>
<rect x="379.43" y="2173.03" width="5.4" height="28.69" fill="#f0f0f4"/>
<rect x="384.52" y="2173.03" width="10.49" height="28.69" fill="#e9e9f2"/>
<rect x="394.72" y="2173.03" width="5.4" height="28.69" fill="#e6e6f1"/>
<rect x="399.81" y="2173.03" width="5.4" height="28.69" fill="#e8e8f1"/>
<rect x="404.91" y="2173.03" width="5.4" height="28.69" fill="#ebebf2"/>
<rect x="410.01" y="2173.03" width="10.49" height="28.69" fill="#e8e8f1"/>
<rect x="420.2" y="2173.03" width="10.49" height="28.69" fill="#efeff4"/>
<rect x="430.39" y="2173.03" width="5.4" height="28.69" fill="#e8e8f1"/>
<rect x="435.49" y="2173.03" width="5.4" height="28.69" fill="#efeff4"/>
<rect x="440.59" y="2173.03" width="5.4" height="28.69" fill="#ececf3"/>
<rect x="445.68" y="2173.03" width="5.4" height="28.69" fill="#efeff4"/>
<rect x="450.78" y="2173.03" width="5.4" height="28.69" fill="#e5e5f0"/>
<rect x="455.88" y="2173.03" width="5.4" height="28.69" fill="#f0f0f4"/>
<rect x="460.97" y="2173.03" width="10.49" height="28.69" fill="#e4e4f0"/>
<rect x="471.17" y="2173.03" width="5.4" height="28.69" fill="#f0f0f4"/>
<rect x="476.27" y="2173.03" width="5.4" height="28.69" fill="#ebebf2"/>
<rect x="481.36" y="2173.03" width="5.4" height="28.69" fill="#ededf3"/>
<rect x="486.46" y="2173.03" width="5.4" height="28.69" fill="#ebebf2"/>
<rect x="491.56" y="2173.03" width="5.4" height="28.69" fill="#e3e3f0"/>
<rect x="496.65" y="2173.03" width="5.4" height="28.69" fill="#eaeaf2"/>
<rect x="501.75" y="2173.03" width="5.4" height="28.69" fill="#e7e7f1"/>
<rect x="506.85" y="2173.03" width="5.4" height="28.69" fill="#ebebf2"/>
<rect x="511.94" y="2173.03" width="5.4" height="28.69" fill="#e5e5f0"/>
<rect x="517.04" y="2173.03" width="5.4" height="28.69" fill="#e7e7f1"/>
<rect x="522.14" y="2173.03" width="5.4" height="28.69" fill="#e3e3f0"/>
<rect x="527.23" y="2173.03" width="5.4" height="28.69" fill="#eeeef3"/>
<rect x="532.33" y="2173.03" width="5.4" height="28.69" fill="#e3e3f0"/>
<rect x="537.43" y="2173.03" width="5.4" height="28.69" fill="#e5e5f0"/>
<rect x="542.52" y="2173.03" width="5.4" height="28.69" fill="#e4e4f0"/>
<rect x="547.62" y="2173.03" width="5.4" height="28.69" fill="#e8e8f1"/>
<rect x="552.72" y="2173.03" width="5.4" height="28.69" fill="#e4e4f0"/>
<rect x="557.82" y="2173.03" width="5.4" height="28.69" fill="#eeeef3"/>
<rect x="562.91" y="2173.03" width="5.4" height="28.69" fill="#e9e9f2"/>
<rect x="568.01" y="2173.03" width="5.4" height="28.69" fill="#e6e6f1"/>
<rect x="573.11" y="2173.03" width="10.49" height="28.69" fill="#ebebf2"/>
<rect x="583.3" y="2173.03" width="5.4" height="28.69" fill="#e3e3f0"/>
<rect x="588.4" y="2173.03" width="5.4" height="28.69" fill="#ececf3"/>
<rect x="593.49" y="2173.03" width="5.4" height="28.69" fill="#f6e3c5"/>
<rect x="598.59" y="2173.03" width="5.4" height="28.69" fill="#e9e9f2"/>
<rect x="603.69" y="2173.03" width="5.4" height="28.69" fill="#f0f0f4"/>
<rect x="608.78" y="2173.03" width="5.4" height="28.69" fill="#e4e4f0"/>
<rect x="613.88" y="2173.03" width="5.4" height="28.69" fill="#f5deb9"/>
<rect x="618.98" y="2173.03" width="5.4" height="28.69" fill="#eeeef3"/>
<rect x="624.07" y="2173.03" width="5.4" height="28.69" fill="#e3e3f0"/>
<rect x="629.17" y="2173.03" width="5.4" height="28.69" fill="#e6e6f1"/>
<rect x="634.27" y="2173.03" width="5.4" height="28.69" fill="#efeff4"/>
<rect x="639.37" y="2173.03" width="5.4" height="28.69" fill="#f0f0f4"/>
<rect x="644.46" y="2173.03" width="5.4" height="28.69" fill="#e4e4f0"/>
<rect x="649.56" y="2173.03" width="5.4" height="28.69" fill="#ebebf2"/>
<rect x="654.66" y="2173.03" width="5.4" height="28.69" fill="#e3e3f0"/>
<rect x="659.75" y="2173.03" width="5.4" height="28.69" fill="#e6e6f1"/>
<rect x="664.85" y="2173.03" width="5.4" height="28.69" fill="#f0f0f4"/>
<rect x="669.95" y="2173.03" width="5.4" height="28.69" fill="#e6e6f1"/>
<rect x="675.04" y="2173.03" width="5.4" height="28.69" fill="#e3e3f0"/>
<rect x="680.14" y="2173.03" width="5.4" height="28.69" fill="#ececf3"/>
<rect x="685.24" y="2173.03" width="5.4" height="28.69" fill="#e9e9f2"/>
<rect x="690.33" y="2173.03" width="5.4" height="28.69" fill="#eaeaf2"/>
<rect x="695.43" y="2173.03" width="5.4" height="28.69" fill="#e9e9f2"/>
<rect x="700.53" y="2173.03" width="5.4" height="28.69" fill="#eaeaf2"/>
<rect x="705.62" y="2173.03" width="5.4" height="28.69" fill="#ebebf2"/>
<rect x="710.72" y="2173.03" width="5.4" height="28.69" fill="#f0f0f4"/>
<rect x="715.82" y="2173.03" width="5.4" height="28.69" fill="#eeeef3"/>
<rect x="720.92" y="2173.03" width="5.4" height="28.69" fill="#e8e8f1"/>
<rect x="726.01" y="2173.03" width="5.4" height="28.69" fill="#e3e3f0"/>
<rect x="731.11" y="2173.03" width="5.4" height="28.69" fill="#ececf3"/>
<rect x="736.21" y="2173.03" width="5.4" height="28.69" fill="#f0f0f4"/>
<rect x="741.3" y="2173.03" width="5.4" height="28.69" fill="#eaeaf2"/>
</g>
<defs><linearGradient id="gpal" x1="0" x2="1" y1="0" y2="0"><stop offset="0.000" stop-color="rgb(143,74,28)"/><stop offset="0.120" stop-color="rgb(184,98,28)"/><stop offset="0.250" stop-color="rgb(226,146,46)"/><stop offset="0.370" stop-color="rgb(242,194,122)"/><stop offset="0.450" stop-color="rgb(246,227,196)"/><stop offset="0.500" stop-color="rgb(243,243,245)"/><stop offset="0.580" stop-color="rgb(222,222,238)"/><stop offset="0.700" stop-color="rgb(172,164,210)"/><stop offset="0.820" stop-color="rgb(122,95,184)"/><stop offset="0.900" stop-color="rgb(90,42,158)"/><stop offset="1.000" stop-color="rgb(42,20,80)"/></linearGradient></defs>
<rect x="290.2" y="2244" width="289.3" height="19.7" fill="url(#gpal)"/>
<text font-size="14.14" fill="#111" stroke="#111" stroke-width="0.40" transform="translate(354.40 2235.86) scale(1.0569 1)">5</text>
<text font-size="13.94" fill="#111" stroke="#111" stroke-width="0.40" transform="translate(429.97 2235.86) scale(1.1355 1)">0</text>
<text font-size="14.14" fill="#111" stroke="#111" stroke-width="0.40" transform="translate(506.20 2235.86) scale(1.1246 1)">−5</text>
<text font-size="18.18" fill="#111" stroke="#111" stroke-width="0.40" transform="translate(371.77 2292.08) scale(0.9679 1)">scaled expression</text>
<rect x="1055.9" y="1660.1" width="223.22" height="3.48" fill="#5470b8"/>
<rect x="1055.9" y="1663.53" width="216.78" height="3.48" fill="#5470b8"/>
<rect x="1055.9" y="1663.23" width="216.78" height="0.6" fill="#fff" fill-opacity="0.3"/>
<rect x="1055.9" y="1666.97" width="215.42" height="3.48" fill="#5470b8"/>
<rect x="1055.9" y="1666.67" width="215.42" height="0.6" fill="#fff" fill-opacity="0.3"/>
<rect x="1055.9" y="1670.4" width="213.86" height="3.48" fill="#5470b8"/>
<rect x="1055.9" y="1670.1" width="213.86" height="0.6" fill="#fff" fill-opacity="0.3"/>
<rect x="1055.9" y="1673.84" width="213.47" height="3.48" fill="#5470b8"/>
<rect x="1055.9" y="1673.54" width="213.47" height="0.6" fill="#fff" fill-opacity="0.3"/>
<rect x="1055.9" y="1677.27" width="212.49" height="3.48" fill="#5470b8"/>
<rect x="1055.9" y="1676.97" width="212.49" height="0.6" fill="#fff" fill-opacity="0.3"/>
<rect x="1055.9" y="1680.71" width="211.9" height="3.48" fill="#5470b8"/>
<rect x="1055.9" y="1680.41" width="211.9" height="0.6" fill="#fff" fill-opacity="0.3"/>
<rect x="1055.9" y="1684.14" width="208" height="3.48" fill="#5470b8"/>
<rect x="1055.9" y="1683.84" width="208" height="0.6" fill="#fff" fill-opacity="0.3"/>
<rect x="1055.9" y="1687.57" width="207.42" height="3.48" fill="#5470b8"/>
<rect x="1055.9" y="1687.27" width="207.42" height="0.6" fill="#fff" fill-opacity="0.3"/>
<rect x="1055.9" y="1691.01" width="207.03" height="3.48" fill="#5470b8"/>
<rect x="1055.9" y="1690.71" width="207.03" height="0.6" fill="#fff" fill-opacity="0.3"/>
<rect x="1055.9" y="1694.44" width="207.03" height="3.48" fill="#5470b8"/>
<rect x="1055.9" y="1694.14" width="207.03" height="0.6" fill="#fff" fill-opacity="0.3"/>
<rect x="1055.9" y="1697.88" width="204.1" height="3.48" fill="#5470b8"/>
<rect x="1055.9" y="1697.58" width="204.1" height="0.6" fill="#fff" fill-opacity="0.3"/>
<rect x="1055.9" y="1701.31" width="201.17" height="3.48" fill="#5470b8"/>
<rect x="1055.9" y="1701.01" width="201.17" height="0.6" fill="#fff" fill-opacity="0.3"/>
<rect x="1055.9" y="1704.75" width="195.32" height="3.48" fill="#5470b8"/>
<rect x="1055.9" y="1704.45" width="195.32" height="0.6" fill="#fff" fill-opacity="0.3"/>
<rect x="1055.9" y="1708.18" width="175.81" height="3.48" fill="#5470b8"/>
<rect x="1055.9" y="1707.88" width="175.81" height="0.6" fill="#fff" fill-opacity="0.3"/>
<rect x="1055.9" y="1711.62" width="169.95" height="3.48" fill="#5470b8"/>
<rect x="1055.9" y="1711.32" width="169.95" height="0.6" fill="#fff" fill-opacity="0.3"/>
<rect x="1055.9" y="1715.05" width="154.34" height="3.48" fill="#5470b8"/>
<rect x="1055.9" y="1714.75" width="154.34" height="0.6" fill="#fff" fill-opacity="0.3"/>
<rect x="1055.9" y="1718.48" width="145.17" height="3.48" fill="#5470b8"/>
<rect x="1055.9" y="1718.18" width="145.17" height="0.6" fill="#fff" fill-opacity="0.3"/>
<rect x="1055.9" y="1721.92" width="144.59" height="3.48" fill="#5470b8"/>
<rect x="1055.9" y="1721.62" width="144.59" height="0.6" fill="#fff" fill-opacity="0.3"/>
<rect x="1055.9" y="1725.35" width="138.73" height="3.48" fill="#5470b8"/>
<rect x="1055.9" y="1725.05" width="138.73" height="0.6" fill="#fff" fill-opacity="0.3"/>
<rect x="1055.9" y="1728.79" width="133.86" height="3.48" fill="#5470b8"/>
<rect x="1055.9" y="1728.49" width="133.86" height="0.6" fill="#fff" fill-opacity="0.3"/>
<rect x="1055.9" y="1732.22" width="124.1" height="3.48" fill="#5470b8"/>
<rect x="1055.9" y="1731.92" width="124.1" height="0.6" fill="#fff" fill-opacity="0.3"/>
<rect x="1055.9" y="1735.66" width="93.86" height="3.48" fill="#5470b8"/>
<rect x="1055.9" y="1735.36" width="93.86" height="0.6" fill="#fff" fill-opacity="0.3"/>
<rect x="1055.9" y="1739.09" width="92.49" height="3.48" fill="#5470b8"/>
<rect x="1055.9" y="1738.79" width="92.49" height="0.6" fill="#fff" fill-opacity="0.3"/>
<rect x="1055.9" y="1742.53" width="80.78" height="3.48" fill="#5470b8"/>
<rect x="1055.9" y="1742.23" width="80.78" height="0.6" fill="#fff" fill-opacity="0.3"/>
<rect x="1055.9" y="1745.96" width="61.66" height="3.48" fill="#5470b8"/>
<rect x="1055.9" y="1745.66" width="61.66" height="0.6" fill="#fff" fill-opacity="0.3"/>
<rect x="1055.9" y="1749.39" width="57.76" height="3.48" fill="#5470b8"/>
<rect x="1055.9" y="1749.09" width="57.76" height="0.6" fill="#fff" fill-opacity="0.3"/>
<rect x="1055.9" y="1752.83" width="47.03" height="3.48" fill="#5470b8"/>
<rect x="1055.9" y="1752.53" width="47.03" height="0.6" fill="#fff" fill-opacity="0.3"/>
<rect x="1018.05" y="1756.26" width="37.85" height="3.48" fill="#5470b8"/>
<rect x="1018.05" y="1755.96" width="37.85" height="0.6" fill="#fff" fill-opacity="0.3"/>
<rect x="1006.34" y="1759.7" width="49.56" height="3.48" fill="#5470b8"/>
<rect x="1006.34" y="1759.4" width="49.56" height="0.6" fill="#fff" fill-opacity="0.3"/>
<rect x="986.44" y="1763.13" width="69.46" height="3.48" fill="#5470b8"/>
<rect x="986.44" y="1762.83" width="69.46" height="0.6" fill="#fff" fill-opacity="0.3"/>
<rect x="981.95" y="1766.57" width="73.95" height="3.48" fill="#5470b8"/>
<rect x="981.95" y="1766.27" width="73.95" height="0.6" fill="#fff" fill-opacity="0.3"/>
<rect x="1055.9" y="1772.3" width="207.03" height="3.44" fill="#b4e282"/>
<rect x="1055.9" y="1775.69" width="205.66" height="3.44" fill="#b4e282"/>
<rect x="1055.9" y="1775.39" width="205.66" height="0.6" fill="#fff" fill-opacity="0.3"/>
<rect x="1055.9" y="1779.09" width="204.1" height="3.44" fill="#b4e282"/>
<rect x="1055.9" y="1778.79" width="204.1" height="0.6" fill="#fff" fill-opacity="0.3"/>
<rect x="1055.9" y="1782.48" width="202.54" height="3.44" fill="#b4e282"/>
<rect x="1055.9" y="1782.18" width="202.54" height="0.6" fill="#fff" fill-opacity="0.3"/>
<rect x="1055.9" y="1785.87" width="200.59" height="3.44" fill="#b4e282"/>
<rect x="1055.9" y="1785.57" width="200.59" height="0.6" fill="#fff" fill-opacity="0.3"/>
<rect x="1055.9" y="1789.26" width="198.25" height="3.44" fill="#b4e282"/>
<rect x="1055.9" y="1788.96" width="198.25" height="0.6" fill="#fff" fill-opacity="0.3"/>
<rect x="1055.9" y="1792.66" width="191.42" height="3.44" fill="#b4e282"/>
<rect x="1055.9" y="1792.36" width="191.42" height="0.6" fill="#fff" fill-opacity="0.3"/>
<rect x="1055.9" y="1796.05" width="174.44" height="3.44" fill="#b4e282"/>
<rect x="1055.9" y="1795.75" width="174.44" height="0.6" fill="#fff" fill-opacity="0.3"/>
<rect x="1055.9" y="1799.44" width="63.61" height="3.44" fill="#b4e282"/>
<rect x="1055.9" y="1799.14" width="63.61" height="0.6" fill="#fff" fill-opacity="0.3"/>
<rect x="1055.9" y="1802.84" width="2.15" height="3.44" fill="#b4e282"/>
<rect x="1055.9" y="1802.54" width="2.15" height="0.6" fill="#fff" fill-opacity="0.3"/>
<rect x="1055.12" y="1806.23" width="0.78" height="3.44" fill="#b4e282"/>
<rect x="1055.12" y="1805.93" width="0.78" height="0.6" fill="#fff" fill-opacity="0.3"/>
<rect x="988.39" y="1809.62" width="67.51" height="3.44" fill="#b4e282"/>
<rect x="988.39" y="1809.32" width="67.51" height="0.6" fill="#fff" fill-opacity="0.3"/>
<rect x="979.02" y="1813.01" width="76.88" height="3.44" fill="#b4e282"/>
<rect x="979.02" y="1812.71" width="76.88" height="0.6" fill="#fff" fill-opacity="0.3"/>
<rect x="956" y="1816.41" width="99.9" height="3.44" fill="#b4e282"/>
<rect x="956" y="1816.11" width="99.9" height="0.6" fill="#fff" fill-opacity="0.3"/>
<rect x="1055.9" y="1822" width="301.63" height="3.5" fill="#e8a234"/>
<rect x="1055.9" y="1825.45" width="301.5" height="3.5" fill="#e8a234"/>
<rect x="1055.9" y="1825.15" width="301.5" height="0.6" fill="#fff" fill-opacity="0.25"/>
<rect x="1055.9" y="1828.9" width="301.37" height="3.5" fill="#e8a234"/>
<rect x="1055.9" y="1828.6" width="301.37" height="0.6" fill="#fff" fill-opacity="0.25"/>
<rect x="1055.9" y="1832.35" width="301.24" height="3.5" fill="#e8a234"/>
<rect x="1055.9" y="1832.05" width="301.24" height="0.6" fill="#fff" fill-opacity="0.25"/>
<rect x="1055.9" y="1835.8" width="301.07" height="3.5" fill="#e8a234"/>
<rect x="1055.9" y="1835.5" width="301.07" height="0.6" fill="#fff" fill-opacity="0.25"/>
<rect x="1055.9" y="1839.25" width="300.9" height="3.5" fill="#e8a234"/>
<rect x="1055.9" y="1838.95" width="300.9" height="0.6" fill="#fff" fill-opacity="0.25"/>
<rect x="1055.9" y="1842.7" width="300.73" height="3.5" fill="#e8a234"/>
<rect x="1055.9" y="1842.4" width="300.73" height="0.6" fill="#fff" fill-opacity="0.25"/>
<rect x="1055.9" y="1846.15" width="300.56" height="3.5" fill="#e8a234"/>
<rect x="1055.9" y="1845.85" width="300.56" height="0.6" fill="#fff" fill-opacity="0.25"/>
<rect x="1055.9" y="1849.6" width="300.38" height="3.5" fill="#e8a234"/>
<rect x="1055.9" y="1849.3" width="300.38" height="0.6" fill="#fff" fill-opacity="0.25"/>
<rect x="1055.9" y="1853.05" width="300.21" height="3.5" fill="#e8a234"/>
<rect x="1055.9" y="1852.75" width="300.21" height="0.6" fill="#fff" fill-opacity="0.25"/>
<rect x="1055.9" y="1856.5" width="300.04" height="3.5" fill="#e8a234"/>
<rect x="1055.9" y="1856.2" width="300.04" height="0.6" fill="#fff" fill-opacity="0.25"/>
<rect x="1055.9" y="1859.95" width="299.85" height="3.5" fill="#e8a234"/>
<rect x="1055.9" y="1859.65" width="299.85" height="0.6" fill="#fff" fill-opacity="0.25"/>
<rect x="1055.9" y="1863.4" width="299.64" height="3.5" fill="#e8a234"/>
<rect x="1055.9" y="1863.1" width="299.64" height="0.6" fill="#fff" fill-opacity="0.25"/>
<rect x="1055.9" y="1866.85" width="299.43" height="3.5" fill="#e8a234"/>
<rect x="1055.9" y="1866.55" width="299.43" height="0.6" fill="#fff" fill-opacity="0.25"/>
<rect x="1055.9" y="1870.3" width="299.23" height="3.5" fill="#e8a234"/>
<rect x="1055.9" y="1870" width="299.23" height="0.6" fill="#fff" fill-opacity="0.25"/>
<rect x="1055.9" y="1873.75" width="299.02" height="3.5" fill="#e8a234"/>
<rect x="1055.9" y="1873.45" width="299.02" height="0.6" fill="#fff" fill-opacity="0.25"/>
<rect x="1055.9" y="1877.2" width="298.81" height="3.5" fill="#e8a234"/>
<rect x="1055.9" y="1876.9" width="298.81" height="0.6" fill="#fff" fill-opacity="0.25"/>
<rect x="1055.9" y="1880.65" width="298.61" height="3.5" fill="#e8a234"/>
<rect x="1055.9" y="1880.35" width="298.61" height="0.6" fill="#fff" fill-opacity="0.25"/>
<rect x="1055.9" y="1884.1" width="298.41" height="3.5" fill="#e8a234"/>
<rect x="1055.9" y="1883.8" width="298.41" height="0.6" fill="#fff" fill-opacity="0.25"/>
<rect x="1055.9" y="1887.55" width="298.24" height="3.5" fill="#e8a234"/>
<rect x="1055.9" y="1887.25" width="298.24" height="0.6" fill="#fff" fill-opacity="0.25"/>
<rect x="1055.9" y="1891" width="298.06" height="3.5" fill="#e8a234"/>
<rect x="1055.9" y="1890.7" width="298.06" height="0.6" fill="#fff" fill-opacity="0.25"/>
<rect x="1055.9" y="1894.45" width="297.89" height="3.5" fill="#e8a234"/>
<rect x="1055.9" y="1894.15" width="297.89" height="0.6" fill="#fff" fill-opacity="0.25"/>
<rect x="1055.9" y="1897.9" width="297.72" height="3.5" fill="#e8a234"/>
<rect x="1055.9" y="1897.6" width="297.72" height="0.6" fill="#fff" fill-opacity="0.25"/>
<rect x="1055.9" y="1901.35" width="297.55" height="3.5" fill="#e8a234"/>
<rect x="1055.9" y="1901.05" width="297.55" height="0.6" fill="#fff" fill-opacity="0.25"/>
<rect x="1055.9" y="1904.8" width="297.37" height="3.5" fill="#e8a234"/>
<rect x="1055.9" y="1904.5" width="297.37" height="0.6" fill="#fff" fill-opacity="0.25"/>
<rect x="1055.9" y="1908.25" width="297.19" height="3.5" fill="#e8a234"/>
<rect x="1055.9" y="1907.95" width="297.19" height="0.6" fill="#fff" fill-opacity="0.25"/>
<rect x="1055.9" y="1911.7" width="296.84" height="3.5" fill="#e8a234"/>
<rect x="1055.9" y="1911.4" width="296.84" height="0.6" fill="#fff" fill-opacity="0.25"/>
<rect x="1055.9" y="1915.15" width="296.5" height="3.5" fill="#e8a234"/>
<rect x="1055.9" y="1914.85" width="296.5" height="0.6" fill="#fff" fill-opacity="0.25"/>
<rect x="1055.9" y="1918.6" width="296.15" height="3.5" fill="#e8a234"/>
<rect x="1055.9" y="1918.3" width="296.15" height="0.6" fill="#fff" fill-opacity="0.25"/>
<rect x="1055.9" y="1922.05" width="295.81" height="3.5" fill="#e8a234"/>
<rect x="1055.9" y="1921.75" width="295.81" height="0.6" fill="#fff" fill-opacity="0.25"/>
<rect x="1055.9" y="1925.5" width="295.46" height="3.5" fill="#e8a234"/>
<rect x="1055.9" y="1925.2" width="295.46" height="0.6" fill="#fff" fill-opacity="0.25"/>
<rect x="1055.9" y="1928.95" width="295.12" height="3.5" fill="#e8a234"/>
<rect x="1055.9" y="1928.65" width="295.12" height="0.6" fill="#fff" fill-opacity="0.25"/>
<rect x="1055.9" y="1932.4" width="294.58" height="3.5" fill="#e8a234"/>
<rect x="1055.9" y="1932.1" width="294.58" height="0.6" fill="#fff" fill-opacity="0.25"/>
<rect x="1055.9" y="1935.85" width="293.89" height="3.5" fill="#e8a234"/>
<rect x="1055.9" y="1935.55" width="293.89" height="0.6" fill="#fff" fill-opacity="0.25"/>
<rect x="1055.9" y="1939.3" width="293.2" height="3.5" fill="#e8a234"/>
<rect x="1055.9" y="1939" width="293.2" height="0.6" fill="#fff" fill-opacity="0.25"/>
<rect x="1055.9" y="1942.75" width="292.51" height="3.5" fill="#e8a234"/>
<rect x="1055.9" y="1942.45" width="292.51" height="0.6" fill="#fff" fill-opacity="0.25"/>
<rect x="1055.9" y="1946.2" width="291.6" height="3.5" fill="#e8a234"/>
<rect x="1055.9" y="1945.9" width="291.6" height="0.6" fill="#fff" fill-opacity="0.25"/>
<rect x="1055.9" y="1949.65" width="290.68" height="3.5" fill="#e8a234"/>
<rect x="1055.9" y="1949.35" width="290.68" height="0.6" fill="#fff" fill-opacity="0.25"/>
<rect x="1055.9" y="1953.1" width="289.76" height="3.5" fill="#e8a234"/>
<rect x="1055.9" y="1952.8" width="289.76" height="0.6" fill="#fff" fill-opacity="0.25"/>
<rect x="1055.9" y="1956.55" width="288.84" height="3.5" fill="#e8a234"/>
<rect x="1055.9" y="1956.25" width="288.84" height="0.6" fill="#fff" fill-opacity="0.25"/>
<rect x="1055.9" y="1960" width="287.76" height="3.5" fill="#e8a234"/>
<rect x="1055.9" y="1959.7" width="287.76" height="0.6" fill="#fff" fill-opacity="0.25"/>
<rect x="1055.9" y="1963.45" width="286.59" height="3.5" fill="#e8a234"/>
<rect x="1055.9" y="1963.15" width="286.59" height="0.6" fill="#fff" fill-opacity="0.25"/>
<rect x="1055.9" y="1966.9" width="285.42" height="3.5" fill="#e8a234"/>
<rect x="1055.9" y="1966.6" width="285.42" height="0.6" fill="#fff" fill-opacity="0.25"/>
<rect x="1055.9" y="1970.35" width="284.24" height="3.5" fill="#e8a234"/>
<rect x="1055.9" y="1970.05" width="284.24" height="0.6" fill="#fff" fill-opacity="0.25"/>
<rect x="1055.9" y="1973.8" width="283.21" height="3.5" fill="#e8a234"/>
<rect x="1055.9" y="1973.5" width="283.21" height="0.6" fill="#fff" fill-opacity="0.25"/>
<rect x="1055.9" y="1977.25" width="282.17" height="3.5" fill="#e8a234"/>
<rect x="1055.9" y="1976.95" width="282.17" height="0.6" fill="#fff" fill-opacity="0.25"/>
<rect x="1055.9" y="1980.7" width="281.14" height="3.5" fill="#e8a234"/>
<rect x="1055.9" y="1980.4" width="281.14" height="0.6" fill="#fff" fill-opacity="0.25"/>
<rect x="1055.9" y="1984.15" width="279.32" height="3.5" fill="#e8a234"/>
<rect x="1055.9" y="1983.85" width="279.32" height="0.6" fill="#fff" fill-opacity="0.25"/>
<rect x="1055.9" y="1987.6" width="276.31" height="3.5" fill="#e8a234"/>
<rect x="1055.9" y="1987.3" width="276.31" height="0.6" fill="#fff" fill-opacity="0.25"/>
<rect x="1055.9" y="1991.05" width="273.29" height="3.5" fill="#e8a234"/>
<rect x="1055.9" y="1990.75" width="273.29" height="0.6" fill="#fff" fill-opacity="0.25"/>
<rect x="1055.9" y="1994.5" width="270.92" height="3.5" fill="#e8a234"/>
<rect x="1055.9" y="1994.2" width="270.92" height="0.6" fill="#fff" fill-opacity="0.25"/>
<rect x="1055.9" y="1997.95" width="269.19" height="3.5" fill="#e8a234"/>
<rect x="1055.9" y="1997.65" width="269.19" height="0.6" fill="#fff" fill-opacity="0.25"/>
<rect x="1055.9" y="2001.4" width="267.47" height="3.5" fill="#e8a234"/>
<rect x="1055.9" y="2001.1" width="267.47" height="0.6" fill="#fff" fill-opacity="0.25"/>
<rect x="1055.9" y="2004.85" width="262.58" height="3.5" fill="#e8a234"/>
<rect x="1055.9" y="2004.55" width="262.58" height="0.6" fill="#fff" fill-opacity="0.25"/>
<rect x="1055.9" y="2008.3" width="256.48" height="3.5" fill="#e8a234"/>
<rect x="1055.9" y="2008" width="256.48" height="0.6" fill="#fff" fill-opacity="0.25"/>
<rect x="1055.9" y="2011.75" width="254.41" height="3.5" fill="#e8a234"/>
<rect x="1055.9" y="2011.45" width="254.41" height="0.6" fill="#fff" fill-opacity="0.25"/>
<rect x="1055.9" y="2015.2" width="252.34" height="3.5" fill="#e8a234"/>
<rect x="1055.9" y="2014.9" width="252.34" height="0.6" fill="#fff" fill-opacity="0.25"/>
<rect x="1055.9" y="2018.65" width="250.27" height="3.5" fill="#e8a234"/>
<rect x="1055.9" y="2018.35" width="250.27" height="0.6" fill="#fff" fill-opacity="0.25"/>
<rect x="1055.9" y="2022.1" width="248.39" height="3.5" fill="#e8a234"/>
<rect x="1055.9" y="2021.8" width="248.39" height="0.6" fill="#fff" fill-opacity="0.25"/>
<rect x="1055.9" y="2025.55" width="246.67" height="3.5" fill="#e8a234"/>
<rect x="1055.9" y="2025.25" width="246.67" height="0.6" fill="#fff" fill-opacity="0.25"/>
<rect x="1055.9" y="2029" width="244.94" height="3.5" fill="#e8a234"/>
<rect x="1055.9" y="2028.7" width="244.94" height="0.6" fill="#fff" fill-opacity="0.25"/>
<rect x="1055.9" y="2032.45" width="243.22" height="3.5" fill="#e8a234"/>
<rect x="1055.9" y="2032.15" width="243.22" height="0.6" fill="#fff" fill-opacity="0.25"/>
<rect x="1055.9" y="2035.9" width="240.95" height="3.5" fill="#e8a234"/>
<rect x="1055.9" y="2035.6" width="240.95" height="0.6" fill="#fff" fill-opacity="0.25"/>
<rect x="1055.9" y="2039.35" width="238.65" height="3.5" fill="#e8a234"/>
<rect x="1055.9" y="2039.05" width="238.65" height="0.6" fill="#fff" fill-opacity="0.25"/>
<rect x="1055.9" y="2042.8" width="236.35" height="3.5" fill="#e8a234"/>
<rect x="1055.9" y="2042.5" width="236.35" height="0.6" fill="#fff" fill-opacity="0.25"/>
<rect x="1055.9" y="2046.25" width="225.35" height="3.5" fill="#e8a234"/>
<rect x="1055.9" y="2045.95" width="225.35" height="0.6" fill="#fff" fill-opacity="0.25"/>
<rect x="1055.9" y="2049.7" width="216.82" height="3.5" fill="#e8a234"/>
<rect x="1055.9" y="2049.4" width="216.82" height="0.6" fill="#fff" fill-opacity="0.25"/>
<rect x="1055.9" y="2053.15" width="212.51" height="3.5" fill="#e8a234"/>
<rect x="1055.9" y="2052.85" width="212.51" height="0.6" fill="#fff" fill-opacity="0.25"/>
<rect x="1055.9" y="2056.6" width="208.2" height="3.5" fill="#e8a234"/>
<rect x="1055.9" y="2056.3" width="208.2" height="0.6" fill="#fff" fill-opacity="0.25"/>
<rect x="1055.9" y="2060.05" width="203.27" height="3.5" fill="#e8a234"/>
<rect x="1055.9" y="2059.75" width="203.27" height="0.6" fill="#fff" fill-opacity="0.25"/>
<rect x="1055.9" y="2063.5" width="198.1" height="3.5" fill="#e8a234"/>
<rect x="1055.9" y="2063.2" width="198.1" height="0.6" fill="#fff" fill-opacity="0.25"/>
<rect x="1055.9" y="2066.95" width="191.23" height="3.5" fill="#e8a234"/>
<rect x="1055.9" y="2066.65" width="191.23" height="0.6" fill="#fff" fill-opacity="0.25"/>
<rect x="1055.9" y="2070.4" width="182.95" height="3.5" fill="#e8a234"/>
<rect x="1055.9" y="2070.1" width="182.95" height="0.6" fill="#fff" fill-opacity="0.25"/>
<rect x="1055.9" y="2073.85" width="177.73" height="3.5" fill="#e8a234"/>
<rect x="1055.9" y="2073.55" width="177.73" height="0.6" fill="#fff" fill-opacity="0.25"/>
<rect x="1055.9" y="2077.3" width="173.59" height="3.5" fill="#e8a234"/>
<rect x="1055.9" y="2077" width="173.59" height="0.6" fill="#fff" fill-opacity="0.25"/>
<rect x="1055.9" y="2080.75" width="146.78" height="3.5" fill="#e8a234"/>
<rect x="1055.9" y="2080.45" width="146.78" height="0.6" fill="#fff" fill-opacity="0.25"/>
<rect x="1055.9" y="2084.2" width="128.81" height="3.5" fill="#e8a234"/>
<rect x="1055.9" y="2083.9" width="128.81" height="0.6" fill="#fff" fill-opacity="0.25"/>
<rect x="1055.9" y="2087.65" width="121.43" height="3.5" fill="#e8a234"/>
<rect x="1055.9" y="2087.35" width="121.43" height="0.6" fill="#fff" fill-opacity="0.25"/>
<rect x="1055.9" y="2091.1" width="103.03" height="3.5" fill="#e8a234"/>
<rect x="1055.9" y="2090.8" width="103.03" height="0.6" fill="#fff" fill-opacity="0.25"/>
<rect x="1055.9" y="2094.55" width="84.63" height="3.5" fill="#e8a234"/>
<rect x="1055.9" y="2094.25" width="84.63" height="0.6" fill="#fff" fill-opacity="0.25"/>
<rect x="1036" y="2098" width="19.9" height="3.5" fill="#e8a234"/>
<rect x="951.2" y="2101.45" width="104.7" height="3.5" fill="#e8a234"/>
<line x1="985.5" y1="2122.2" x2="1408.3" y2="2122.2" stroke="#111" stroke-width="2"/>
<line x1="985.5" y1="2122.2" x2="985.5" y2="2128.2" stroke="#111" stroke-width="2"/>
<text font-size="15.70" fill="#111" stroke="#111" stroke-width="0.40" transform="translate(969.40 2144.60) scale(1.0000 1)">−0.2</text>
<line x1="1055.97" y1="2122.2" x2="1055.97" y2="2128.2" stroke="#111" stroke-width="2"/>
<text font-size="15.70" fill="#111" stroke="#111" stroke-width="0.40" transform="translate(1045.02 2144.60) scale(1.0000 1)">0.0</text>
<line x1="1126.44" y1="2122.2" x2="1126.44" y2="2128.2" stroke="#111" stroke-width="2"/>
<text font-size="15.70" fill="#111" stroke="#111" stroke-width="0.40" transform="translate(1115.61 2144.60) scale(1.0000 1)">0.2</text>
<line x1="1196.91" y1="2122.2" x2="1196.91" y2="2128.2" stroke="#111" stroke-width="2"/>
<text font-size="15.70" fill="#111" stroke="#111" stroke-width="0.40" transform="translate(1185.92 2144.60) scale(1.0000 1)">0.4</text>
<line x1="1267.38" y1="2122.2" x2="1267.38" y2="2128.2" stroke="#111" stroke-width="2"/>
<text font-size="15.70" fill="#111" stroke="#111" stroke-width="0.40" transform="translate(1256.47 2144.60) scale(1.0000 1)">0.6</text>
<line x1="1337.85" y1="2122.2" x2="1337.85" y2="2128.2" stroke="#111" stroke-width="2"/>
<text font-size="15.70" fill="#111" stroke="#111" stroke-width="0.40" transform="translate(1326.94 2144.60) scale(1.0000 1)">0.8</text>
<line x1="1408.32" y1="2122.2" x2="1408.32" y2="2128.2" stroke="#111" stroke-width="2"/>
<text font-size="15.70" fill="#111" stroke="#111" stroke-width="0.40" transform="translate(1397.09 2144.60) scale(1.0000 1)">1.0</text>
<text font-size="17.01" fill="#111" stroke="#111" stroke-width="0.40" transform="translate(1146.10 2165.23) scale(0.9180 1)">Silhouette width</text>
<text font-size="20.86" fill="#111" stroke="#111" stroke-width="0.40" transform="translate(947.30 2194.02) scale(0.8837 1)">Average silhouette width :  0.59</text>
<text font-size="21.69" fill="#111" stroke="#111" stroke-width="0.40" transform="translate(951.29 1639.68) scale(0.8584 1)">n = 128</text>
<text font-size="22.29" fill="#111" stroke="#111" stroke-width="0.40" transform="translate(1371.73 1717.70) scale(0.8800 1)">1</text>
<text font-size="22.29" fill="#111" stroke="#111" stroke-width="0.40" transform="translate(1387.43 1717.70) scale(0.8800 1)">:</text>
<text font-size="22.29" fill="#111" stroke="#111" stroke-width="0.40" transform="translate(1407.11 1717.70) scale(0.8800 1)">32</text>
<text font-size="22.29" fill="#111" stroke="#111" stroke-width="0.40" transform="translate(1438.63 1717.70) scale(0.8800 1)">|</text>
<text font-size="22.29" fill="#111" stroke="#111" stroke-width="0.40" transform="translate(1454.02 1717.70) scale(0.8800 1)">0.38</text>
<text font-size="21.57" fill="#111" stroke="#111" stroke-width="0.40" transform="translate(1372.25 1798.60) scale(0.8800 1)">2</text>
<text font-size="21.57" fill="#111" stroke="#111" stroke-width="0.40" transform="translate(1387.49 1798.60) scale(0.8800 1)">:</text>
<text font-size="21.57" fill="#111" stroke="#111" stroke-width="0.40" transform="translate(1407.40 1798.60) scale(0.8800 1)">14</text>
<text font-size="21.57" fill="#111" stroke="#111" stroke-width="0.40" transform="translate(1438.69 1798.60) scale(0.8800 1)">|</text>
<text font-size="21.57" fill="#111" stroke="#111" stroke-width="0.40" transform="translate(1454.04 1798.60) scale(0.8800 1)">0.28</text>
<text font-size="21.57" fill="#111" stroke="#111" stroke-width="0.40" transform="translate(1372.44 1965.80) scale(0.8800 1)">3</text>
<text font-size="21.57" fill="#111" stroke="#111" stroke-width="0.40" transform="translate(1387.49 1965.80) scale(0.8800 1)">:</text>
<text font-size="21.57" fill="#111" stroke="#111" stroke-width="0.40" transform="translate(1407.78 1965.80) scale(0.8800 1)">82</text>
<text font-size="21.57" fill="#111" stroke="#111" stroke-width="0.40" transform="translate(1438.69 1965.80) scale(0.8800 1)">|</text>
<text font-size="21.57" fill="#111" stroke="#111" stroke-width="0.40" transform="translate(1454.04 1965.80) scale(0.8800 1)">0.72</text>
</svg>
</body></html>
